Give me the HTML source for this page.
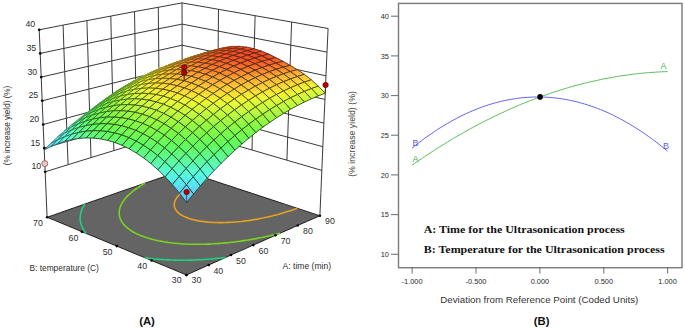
<!DOCTYPE html>
<html><head><meta charset="utf-8"><style>
html,body{margin:0;padding:0;background:#fff;}
body{width:685px;height:329px;position:relative;overflow:hidden;}
</style></head><body>
<svg width="685" height="329" viewBox="0 0 685 329" style="position:absolute;left:0;top:0">
<polygon points="186.4,275 193.1,272 199.8,269 206.5,266 213.2,263 219.9,260 226.6,257 233.2,254 239.9,251.1 246.6,248.1 253.3,245.1 259.9,242.2 266.6,239.2 273.3,236.3 279.9,233.3 286.6,230.4 293.3,227.4 299.9,224.5 306.6,221.6 313.2,218.7 319.9,215.8 313,213.5 306.1,211.2 299.2,208.9 292.4,206.7 285.5,204.4 278.6,202.1 271.7,199.8 264.9,197.6 258,195.3 251.1,193 244.3,190.8 237.4,188.5 230.5,186.2 223.6,184 216.8,181.7 209.9,179.4 203,177.2 196.1,174.9 189.3,172.6 182.4,170.4 175.7,172.7 168.9,175 162.2,177.3 155.4,179.6 148.7,181.9 141.9,184.2 135.2,186.6 128.4,188.9 121.6,191.2 114.9,193.6 108.1,195.9 101.4,198.3 94.6,200.6 87.8,203 81,205.4 74.3,207.7 67.5,210.1 60.7,212.5 53.9,214.9 47.1,217.3 54.1,220.1 61,223 68,225.9 75,228.8 81.9,231.7 88.9,234.6 95.9,237.4 102.8,240.3 109.8,243.2 116.8,246.1 123.7,249 130.7,251.9 137.6,254.8 144.6,257.6 151.6,260.5 158.5,263.4 165.5,266.3 172.5,269.2 179.4,272.1" fill="#646464" stroke="#111" stroke-width="0.9" stroke-linejoin="round"/>
<polyline points="144.8,257.7 146.9,258 148.8,258.3 150.8,258.5 153,258.8 155.2,259 157.5,259.2 159.7,259.4 161.3,259.5 163.3,259.6 165.7,259.8 167.8,259.9 169.4,259.9 171.9,260 173.8,260.1 175.7,260.1 178.2,260.2 179.6,260.2 182.3,260.2 183.8,260.2 186.4,260.2 187.8,260.2 190.5,260.1 192,260.1 194.4,260 196.4,259.9 198.2,259.8 200.7,259.7 202.4,259.6 204.4,259.5 206.8,259.3 208.6,259.2 210.3,259 212.7,258.8 215,258.6 216.8,258.4 218.5,258.3 220.6,258.1 222.9,257.8 225.1,257.5 225.5,257.5" fill="none" stroke="#1cd27c" stroke-width="1.6" stroke-linejoin="round"/>
<polyline points="86.2,233.4 85.5,232.6 84.9,231.8 84.4,231.1 83.9,230.4 83.4,229.5 82.9,228.6 82.4,227.7 82.1,226.9 81.8,226.3 81.4,225.3 81.1,224.4 80.9,223.8 80.7,222.9 80.5,222.1 80.4,221.4 80.3,220.4 80.2,219.8 80.2,218.8 80.2,218.2 80.2,217.3 80.2,216.6 80.3,215.8 80.4,215 80.5,214.3 80.7,213.4 80.9,212.7 81.1,212 81.4,211.1 81.6,210.3 81.9,209.7 82.2,208.9 82.6,208 83,207.3 83.3,206.6 83.7,205.9 84.2,205.1 84.7,204.3 84.9,204" fill="none" stroke="#1cd27c" stroke-width="1.6" stroke-linejoin="round"/>
<polyline points="280.1,233.3 278.2,233.7 276.4,234.2 274.4,234.7 271.9,235.2 270.1,235.7 268.3,236.1 266.5,236.5 264.1,237 261.8,237.5 259.9,237.8 258,238.2 256,238.6 254.1,238.9 252.1,239.3 250.1,239.6 248.1,240 246.1,240.3 244,240.6 242,240.9 239.9,241.2 237.8,241.5 235.6,241.8 233.5,242.1 231.5,242.3 229.7,242.5 227.9,242.7 225.7,242.9 223.4,243.1 221.3,243.3 219.7,243.4 217.5,243.6 215.1,243.8 213.5,243.8 211.4,244 209,244.1 207.6,244.1 205,244.2 203.3,244.3 201,244.3 199.2,244.3 196.8,244.3 195.2,244.3 192.7,244.3 191,244.2 188.9,244.2 186.4,244.1 184.8,244 182.9,243.9 180.6,243.7 178.3,243.5 176.3,243.4 174.4,243.2 172.5,243 170.6,242.7 168.5,242.5 166.3,242.1 164,241.8 161.8,241.4 159.9,241 158.1,240.7 155.9,240.2 153.7,239.6 152,239.2 149.5,238.5 147.7,238 145.6,237.3 143.4,236.5 141.3,235.7 139.2,234.9 137.3,234 135.4,233.1 134.2,232.5 132.5,231.5 131.4,230.8 130,229.9 128.9,229.1 127.9,228.4 127,227.6 126,226.7 125,225.8 124.2,224.9 123.5,224.1 122.9,223.4 122.4,222.7 121.9,221.9 121.4,221.1 120.9,220.2 120.5,219.3 120.3,218.7 120,217.9 119.7,217 119.5,216.3 119.4,215.5 119.3,214.7 119.2,214 119.2,213.1 119.2,212.4 119.2,211.6 119.3,210.8 119.4,210.2 119.6,209.2 119.7,208.6 119.9,207.9 120.2,207 120.5,206.2 120.8,205.6 121.2,204.8 121.6,204 122,203.1 122.4,202.5 122.9,201.8 123.3,201.1 123.9,200.4 124.5,199.6 125.1,198.8 125.7,198.1 126.3,197.3 127,196.6 127.7,195.9 128.4,195.2 129.2,194.5 129.9,193.8 130.9,193 131.9,192.1 132.7,191.4 133.5,190.8 134.4,190.1 135.3,189.5 136.6,188.5 137.5,187.9 138.4,187.3 139.6,186.5 140.8,185.7 141.7,185.1 143,184.3 144.2,183.6 145.1,183.2" fill="none" stroke="#78d41c" stroke-width="1.6" stroke-linejoin="round"/>
<polyline points="297.3,208.3 295.6,208.9 293.7,209.6 291.4,210.4 289.2,211.1 287.6,211.6 285.3,212.3 283.7,212.8 281.3,213.5 279.6,214 277.2,214.7 275.5,215.1 273.6,215.6 271.2,216.2 269.4,216.6 267.6,217 265.2,217.5 263.1,218 261.2,218.3 259.3,218.7 257.4,219.1 255.5,219.4 253.5,219.7 251.5,220.1 249.4,220.4 247.3,220.7 245.2,220.9 243.1,221.2 240.8,221.5 238.7,221.7 237.1,221.8 235.1,222 232.7,222.2 230.8,222.3 229,222.4 226.5,222.5 225,222.5 222.4,222.6 221,222.6 218.4,222.6 216.7,222.5 214.7,222.5 212.3,222.4 210.2,222.2 208.4,222.1 206.5,221.9 204.5,221.7 202.3,221.4 200,221.1 197.9,220.7 196.1,220.4 193.8,219.8 192,219.4 189.7,218.7 187.6,217.9 185.6,217.1 183.7,216.3 182.4,215.6 180.9,214.7 179.9,214.1 179,213.3 177.9,212.4 177.2,211.6 176.5,210.9 176,210.2 175.6,209.5 175.1,208.6 174.7,207.8 174.6,207.2 174.4,206.4 174.3,205.6 174.2,204.9 174.3,204.1 174.4,203.3 174.5,202.7 174.7,201.8 175,201 175.2,200.4 175.6,199.6 176.1,198.8 176.6,198 177.1,197.2 177.6,196.5 178.2,195.8 178.9,195.1 179.6,194.3 180.4,193.5 181.2,192.8 182,192.1 182.8,191.5 183.7,190.8 184.8,189.9 185.9,189.2 186.8,188.6 188,187.8 189.3,187 190.3,186.4 191.8,185.5 192.9,185 194.5,184.1 195.6,183.5 197.3,182.7 199,181.9 200.3,181.3 202.1,180.6 203.9,179.8 205.8,179 207.1,178.5 207.1,178.5" fill="none" stroke="#e9a020" stroke-width="1.6" stroke-linejoin="round"/>
<circle cx="186.4" cy="275" r="1.3" fill="#000"/>
<circle cx="208.7" cy="265" r="1.3" fill="#000"/>
<circle cx="231" cy="255" r="1.3" fill="#000"/>
<circle cx="253.3" cy="245.1" r="1.3" fill="#000"/>
<circle cx="275.5" cy="235.3" r="1.3" fill="#000"/>
<circle cx="297.7" cy="225.5" r="1.3" fill="#000"/>
<circle cx="319.9" cy="215.8" r="1.3" fill="#000"/>
<circle cx="186.4" cy="275" r="1.3" fill="#000"/>
<circle cx="151.6" cy="260.5" r="1.3" fill="#000"/>
<circle cx="116.8" cy="246.1" r="1.3" fill="#000"/>
<circle cx="81.9" cy="231.7" r="1.3" fill="#000"/>
<circle cx="47.1" cy="217.3" r="1.3" fill="#000"/>
<polyline points="45.2,171.8 68.1,164.7 91,157.6 113.9,150.6 136.7,143.6 159.5,136.7 182.3,129.8" fill="none" stroke="#222" stroke-width="0.9"/>
<polyline points="44.2,148.1 67.2,141.4 90.3,134.8 113.3,128.2 136.3,121.6 159.3,115.1 182.2,108.6" fill="none" stroke="#222" stroke-width="0.9"/>
<polyline points="43.2,124.5 66.4,118.2 89.6,111.9 112.8,105.7 136,99.6 159.1,93.5 182.2,87.5" fill="none" stroke="#222" stroke-width="0.9"/>
<polyline points="42.2,100.8 65.6,94.9 88.9,89.1 112.3,83.3 135.6,77.6 158.9,72 182.1,66.4" fill="none" stroke="#222" stroke-width="0.9"/>
<polyline points="41.2,77.1 64.7,71.7 88.3,66.3 111.8,60.9 135.2,55.6 158.7,50.4 182.1,45.2" fill="none" stroke="#222" stroke-width="0.9"/>
<polyline points="40.2,53.4 63.9,48.4 87.6,43.4 111.3,38.5 134.9,33.6 158.5,28.8 182.1,24.1" fill="none" stroke="#222" stroke-width="0.9"/>
<polyline points="39.2,29.8 63.1,25.1 86.9,20.6 110.8,16.1 134.5,11.6 158.3,7.3 182,2.9" fill="none" stroke="#222" stroke-width="0.9"/>
<polyline points="68.1,164.7 67.2,141.4 66.4,118.2 65.6,94.9 64.7,71.7 63.9,48.4 63.1,25.1" fill="none" stroke="#222" stroke-width="0.9"/>
<polyline points="91,157.6 90.3,134.8 89.6,111.9 88.9,89.1 88.3,66.3 87.6,43.4 86.9,20.6" fill="none" stroke="#222" stroke-width="0.9"/>
<polyline points="113.9,150.6 113.3,128.2 112.8,105.7 112.3,83.3 111.8,60.9 111.3,38.5 110.8,16.1" fill="none" stroke="#222" stroke-width="0.9"/>
<polyline points="136.7,143.6 136.3,121.6 136,99.6 135.6,77.6 135.2,55.6 134.9,33.6 134.5,11.6" fill="none" stroke="#222" stroke-width="0.9"/>
<polyline points="159.5,136.7 159.3,115.1 159.1,93.5 158.9,72 158.7,50.4 158.5,28.8 158.3,7.3" fill="none" stroke="#222" stroke-width="0.9"/>
<polyline points="321.8,170.4 286.9,160.2 252,150 217.2,139.9 182.3,129.8" fill="none" stroke="#222" stroke-width="0.9"/>
<polyline points="322.9,146.7 287.7,137.2 252.5,127.6 217.4,118.1 182.2,108.6" fill="none" stroke="#222" stroke-width="0.9"/>
<polyline points="323.9,123.1 288.5,114.2 253,105.3 217.6,96.4 182.2,87.5" fill="none" stroke="#222" stroke-width="0.9"/>
<polyline points="324.9,99.4 289.2,91.1 253.5,82.9 217.8,74.6 182.1,66.4" fill="none" stroke="#222" stroke-width="0.9"/>
<polyline points="326,75.8 290,68.1 254,60.5 218.1,52.8 182.1,45.2" fill="none" stroke="#222" stroke-width="0.9"/>
<polyline points="327,52.1 290.8,45.1 254.5,38.1 218.3,31.1 182.1,24.1" fill="none" stroke="#222" stroke-width="0.9"/>
<polyline points="328.1,28.5 291.6,22 255.1,15.7 218.5,9.3 182,2.9" fill="none" stroke="#222" stroke-width="0.9"/>
<polyline points="286.9,160.2 287.7,137.2 288.5,114.2 289.2,91.1 290,68.1 290.8,45.1 291.6,22" fill="none" stroke="#222" stroke-width="0.9"/>
<polyline points="252,150 252.5,127.6 253,105.3 253.5,82.9 254,60.5 254.5,38.1 255.1,15.7" fill="none" stroke="#222" stroke-width="0.9"/>
<polyline points="217.2,139.9 217.4,118.1 217.6,96.4 217.8,74.6 218.1,52.8 218.3,31.1 218.5,9.3" fill="none" stroke="#222" stroke-width="0.9"/>
<polyline points="182.4,170.4 182.3,149.4 182.3,128.5 182.2,107.6 182.2,86.7 182.1,65.7 182.1,44.8 182.1,23.9 182,2.9" fill="none" stroke="#222" stroke-width="0.9"/>
<polyline points="47.1,217.3 46.1,193.8 45.1,170.4 44.1,147 43.1,123.5 42.1,100.1 41.2,76.6 40.2,53.2 39.2,29.8" fill="none" stroke="#222" stroke-width="0.9"/>
<polyline points="319.9,215.8 320.9,192.4 321.9,168.9 322.9,145.5 323.9,122.1 325,98.7 326,75.3 327,51.9 328.1,28.5" fill="none" stroke="#222" stroke-width="0.9"/>
<circle cx="45.2" cy="171.8" r="1.3" fill="#000"/>
<circle cx="44.2" cy="148.1" r="1.3" fill="#000"/>
<circle cx="43.2" cy="124.5" r="1.3" fill="#000"/>
<circle cx="42.2" cy="100.8" r="1.3" fill="#000"/>
<circle cx="41.2" cy="77.1" r="1.3" fill="#000"/>
<circle cx="40.2" cy="53.4" r="1.3" fill="#000"/>
<circle cx="39.2" cy="29.8" r="1.3" fill="#000"/>
<circle cx="44.8" cy="163.6" r="3.0" fill="#f7c0c0" stroke="#6a5050" stroke-width="0.7"/>
<polygon points="182.3,61.2 185.8,60.3 182.2,61.9 178.7,62.8" fill="#dbf934" stroke="#dbf934" stroke-width="0.5" stroke-linejoin="round"/>
<polygon points="178.7,62.8 182.2,61.9 178.6,63.6 175.1,64.6" fill="#c9fa3a" stroke="#c9fa3a" stroke-width="0.5" stroke-linejoin="round"/>
<polygon points="185.8,60.3 189.3,59.5 185.7,61 182.2,61.9" fill="#dcf934" stroke="#dcf934" stroke-width="0.5" stroke-linejoin="round"/>
<polygon points="182.2,61.9 185.7,61 182.1,62.7 178.6,63.6" fill="#cafa3a" stroke="#cafa3a" stroke-width="0.5" stroke-linejoin="round"/>
<polygon points="182.3,61.2 189.3,59.5 182.1,62.7 175.1,64.6" fill="none" stroke="#141408" stroke-opacity="0.85" stroke-width="0.45" stroke-linejoin="round"/>
<polygon points="175.3,63.2 178.8,62.2 175.2,63.8 171.7,64.8" fill="#d9f935" stroke="#d9f935" stroke-width="0.5" stroke-linejoin="round"/>
<polygon points="171.7,64.8 175.2,63.8 171.7,65.6 168.2,66.6" fill="#c6fa3a" stroke="#c6fa3a" stroke-width="0.5" stroke-linejoin="round"/>
<polygon points="178.8,62.2 182.3,61.2 178.7,62.8 175.2,63.8" fill="#daf935" stroke="#daf935" stroke-width="0.5" stroke-linejoin="round"/>
<polygon points="175.2,63.8 178.7,62.8 175.1,64.6 171.7,65.6" fill="#c8fa3a" stroke="#c8fa3a" stroke-width="0.5" stroke-linejoin="round"/>
<polygon points="175.3,63.2 182.3,61.2 175.1,64.6 168.2,66.6" fill="none" stroke="#141408" stroke-opacity="0.85" stroke-width="0.45" stroke-linejoin="round"/>
<polygon points="189.5,58.5 193,57.6 189.4,58.9 185.9,59.8" fill="#f4ea2e" stroke="#f4ea2e" stroke-width="0.5" stroke-linejoin="round"/>
<polygon points="185.9,59.8 189.4,58.9 185.8,60.3 182.3,61.2" fill="#ecf82e" stroke="#ecf82e" stroke-width="0.5" stroke-linejoin="round"/>
<polygon points="193,57.6 196.5,56.8 192.9,58.1 189.4,58.9" fill="#f4e92e" stroke="#f4e92e" stroke-width="0.5" stroke-linejoin="round"/>
<polygon points="189.4,58.9 192.9,58.1 189.3,59.5 185.8,60.3" fill="#edf82d" stroke="#edf82d" stroke-width="0.5" stroke-linejoin="round"/>
<polygon points="189.5,58.5 196.5,56.8 189.3,59.5 182.3,61.2" fill="none" stroke="#141408" stroke-opacity="0.85" stroke-width="0.45" stroke-linejoin="round"/>
<polygon points="168.3,65.5 171.8,64.3 168.2,66 164.7,67.1" fill="#d5fa37" stroke="#d5fa37" stroke-width="0.5" stroke-linejoin="round"/>
<polygon points="164.7,67.1 168.2,66 164.7,67.8 161.2,69" fill="#c1f93b" stroke="#c1f93b" stroke-width="0.5" stroke-linejoin="round"/>
<polygon points="171.8,64.3 175.3,63.2 171.7,64.8 168.2,66" fill="#d7f936" stroke="#d7f936" stroke-width="0.5" stroke-linejoin="round"/>
<polygon points="168.2,66 171.7,64.8 168.2,66.6 164.7,67.8" fill="#c4fa3a" stroke="#c4fa3a" stroke-width="0.5" stroke-linejoin="round"/>
<polygon points="168.3,65.5 175.3,63.2 168.2,66.6 161.2,69" fill="none" stroke="#141408" stroke-opacity="0.85" stroke-width="0.45" stroke-linejoin="round"/>
<polygon points="182.5,60.4 186,59.4 182.4,60.7 178.9,61.8" fill="#f3ed2e" stroke="#f3ed2e" stroke-width="0.5" stroke-linejoin="round"/>
<polygon points="178.9,61.8 182.4,60.7 178.8,62.2 175.3,63.2" fill="#e9f82f" stroke="#e9f82f" stroke-width="0.5" stroke-linejoin="round"/>
<polygon points="186,59.4 189.5,58.5 185.9,59.8 182.4,60.7" fill="#f3eb2e" stroke="#f3eb2e" stroke-width="0.5" stroke-linejoin="round"/>
<polygon points="182.4,60.7 185.9,59.8 182.3,61.2 178.8,62.2" fill="#ebf82e" stroke="#ebf82e" stroke-width="0.5" stroke-linejoin="round"/>
<polygon points="182.5,60.4 189.5,58.5 182.3,61.2 175.3,63.2" fill="none" stroke="#141408" stroke-opacity="0.85" stroke-width="0.45" stroke-linejoin="round"/>
<polygon points="196.7,55.9 200.1,55.1 196.6,56.3 193.1,57.2" fill="#facc31" stroke="#facc31" stroke-width="0.5" stroke-linejoin="round"/>
<polygon points="193.1,57.2 196.6,56.3 193,57.6 189.5,58.5" fill="#fadb30" stroke="#fadb30" stroke-width="0.5" stroke-linejoin="round"/>
<polygon points="200.1,55.1 203.6,54.3 200,55.5 196.6,56.3" fill="#facc31" stroke="#facc31" stroke-width="0.5" stroke-linejoin="round"/>
<polygon points="196.6,56.3 200,55.5 196.5,56.8 193,57.6" fill="#fada30" stroke="#fada30" stroke-width="0.5" stroke-linejoin="round"/>
<polygon points="196.7,55.9 203.6,54.3 196.5,56.8 189.5,58.5" fill="none" stroke="#141408" stroke-opacity="0.85" stroke-width="0.45" stroke-linejoin="round"/>
<polygon points="161.3,68 164.8,66.7 161.3,68.4 157.8,69.7" fill="#cffa39" stroke="#cffa39" stroke-width="0.5" stroke-linejoin="round"/>
<polygon points="157.8,69.7 161.3,68.4 157.7,70.2 154.2,71.6" fill="#bbf93b" stroke="#bbf93b" stroke-width="0.5" stroke-linejoin="round"/>
<polygon points="164.8,66.7 168.3,65.5 164.7,67.1 161.3,68.4" fill="#d2fa38" stroke="#d2fa38" stroke-width="0.5" stroke-linejoin="round"/>
<polygon points="161.3,68.4 164.7,67.1 161.2,69 157.7,70.2" fill="#bef93b" stroke="#bef93b" stroke-width="0.5" stroke-linejoin="round"/>
<polygon points="161.3,68 168.3,65.5 161.2,69 154.2,71.6" fill="none" stroke="#141408" stroke-opacity="0.85" stroke-width="0.45" stroke-linejoin="round"/>
<polygon points="175.5,62.6 179,61.5 175.4,62.8 171.9,64" fill="#f1f12e" stroke="#f1f12e" stroke-width="0.5" stroke-linejoin="round"/>
<polygon points="171.9,64 175.4,62.8 171.8,64.3 168.3,65.5" fill="#e5f930" stroke="#e5f930" stroke-width="0.5" stroke-linejoin="round"/>
<polygon points="179,61.5 182.5,60.4 178.9,61.8 175.4,62.8" fill="#f2ef2e" stroke="#f2ef2e" stroke-width="0.5" stroke-linejoin="round"/>
<polygon points="175.4,62.8 178.9,61.8 175.3,63.2 171.8,64.3" fill="#e8f830" stroke="#e8f830" stroke-width="0.5" stroke-linejoin="round"/>
<polygon points="175.5,62.6 182.5,60.4 175.3,63.2 168.3,65.5" fill="none" stroke="#141408" stroke-opacity="0.85" stroke-width="0.45" stroke-linejoin="round"/>
<polygon points="189.6,57.8 193.2,56.8 189.6,58.1 186.1,59.1" fill="#facf31" stroke="#facf31" stroke-width="0.5" stroke-linejoin="round"/>
<polygon points="186.1,59.1 189.6,58.1 186,59.4 182.5,60.4" fill="#f8de30" stroke="#f8de30" stroke-width="0.5" stroke-linejoin="round"/>
<polygon points="193.2,56.8 196.7,55.9 193.1,57.2 189.6,58.1" fill="#face31" stroke="#face31" stroke-width="0.5" stroke-linejoin="round"/>
<polygon points="189.6,58.1 193.1,57.2 189.5,58.5 186,59.4" fill="#f9dc30" stroke="#f9dc30" stroke-width="0.5" stroke-linejoin="round"/>
<polygon points="189.6,57.8 196.7,55.9 189.5,58.5 182.5,60.4" fill="none" stroke="#141408" stroke-opacity="0.85" stroke-width="0.45" stroke-linejoin="round"/>
<polygon points="203.9,53.3 207.4,52.5 203.8,53.8 200.3,54.6" fill="#faaf32" stroke="#faaf32" stroke-width="0.5" stroke-linejoin="round"/>
<polygon points="200.3,54.6 203.8,53.8 200.1,55.1 196.7,55.9" fill="#fabe32" stroke="#fabe32" stroke-width="0.5" stroke-linejoin="round"/>
<polygon points="207.4,52.5 210.9,51.7 207.3,53 203.8,53.8" fill="#faae32" stroke="#faae32" stroke-width="0.5" stroke-linejoin="round"/>
<polygon points="203.8,53.8 207.3,53 203.6,54.3 200.1,55.1" fill="#fabd32" stroke="#fabd32" stroke-width="0.5" stroke-linejoin="round"/>
<polygon points="203.9,53.3 210.9,51.7 203.6,54.3 196.7,55.9" fill="none" stroke="#141408" stroke-opacity="0.85" stroke-width="0.45" stroke-linejoin="round"/>
<polygon points="154.3,70.9 157.8,69.4 154.3,71.1 150.8,72.6" fill="#c7fa3a" stroke="#c7fa3a" stroke-width="0.5" stroke-linejoin="round"/>
<polygon points="150.8,72.6 154.3,71.1 150.7,73 147.2,74.5" fill="#b2f93b" stroke="#b2f93b" stroke-width="0.5" stroke-linejoin="round"/>
<polygon points="157.8,69.4 161.3,68 157.8,69.7 154.3,71.1" fill="#cbfa3a" stroke="#cbfa3a" stroke-width="0.5" stroke-linejoin="round"/>
<polygon points="154.3,71.1 157.8,69.7 154.2,71.6 150.7,73" fill="#b7f93b" stroke="#b7f93b" stroke-width="0.5" stroke-linejoin="round"/>
<polygon points="154.3,70.9 161.3,68 154.2,71.6 147.2,74.5" fill="none" stroke="#141408" stroke-opacity="0.85" stroke-width="0.45" stroke-linejoin="round"/>
<polygon points="168.5,65.1 172,63.8 168.4,65.2 164.9,66.5" fill="#eff62d" stroke="#eff62d" stroke-width="0.5" stroke-linejoin="round"/>
<polygon points="164.9,66.5 168.4,65.2 164.8,66.7 161.3,68" fill="#e0f933" stroke="#e0f933" stroke-width="0.5" stroke-linejoin="round"/>
<polygon points="172,63.8 175.5,62.6 171.9,64 168.4,65.2" fill="#f0f42d" stroke="#f0f42d" stroke-width="0.5" stroke-linejoin="round"/>
<polygon points="168.4,65.2 171.9,64 168.3,65.5 164.8,66.7" fill="#e3f931" stroke="#e3f931" stroke-width="0.5" stroke-linejoin="round"/>
<polygon points="168.5,65.1 175.5,62.6 168.3,65.5 161.3,68" fill="none" stroke="#141408" stroke-opacity="0.85" stroke-width="0.45" stroke-linejoin="round"/>
<polygon points="182.6,60 186.1,58.9 182.6,60.1 179.1,61.3" fill="#fad431" stroke="#fad431" stroke-width="0.5" stroke-linejoin="round"/>
<polygon points="179.1,61.3 182.6,60.1 179,61.5 175.5,62.6" fill="#f7e22f" stroke="#f7e22f" stroke-width="0.5" stroke-linejoin="round"/>
<polygon points="186.1,58.9 189.6,57.8 186.1,59.1 182.6,60.1" fill="#fad131" stroke="#fad131" stroke-width="0.5" stroke-linejoin="round"/>
<polygon points="182.6,60.1 186.1,59.1 182.5,60.4 179,61.5" fill="#f8e02f" stroke="#f8e02f" stroke-width="0.5" stroke-linejoin="round"/>
<polygon points="182.6,60 189.6,57.8 182.5,60.4 175.5,62.6" fill="none" stroke="#141408" stroke-opacity="0.85" stroke-width="0.45" stroke-linejoin="round"/>
<polygon points="147.4,74.1 150.9,72.4 147.3,74.2 143.8,75.8" fill="#bdf93b" stroke="#bdf93b" stroke-width="0.5" stroke-linejoin="round"/>
<polygon points="143.8,75.8 147.3,74.2 143.8,76.1 140.3,77.7" fill="#a8f83c" stroke="#a8f83c" stroke-width="0.5" stroke-linejoin="round"/>
<polygon points="150.9,72.4 154.3,70.9 150.8,72.6 147.3,74.2" fill="#c2fa3a" stroke="#c2fa3a" stroke-width="0.5" stroke-linejoin="round"/>
<polygon points="147.3,74.2 150.8,72.6 147.2,74.5 143.8,76.1" fill="#aef93b" stroke="#aef93b" stroke-width="0.5" stroke-linejoin="round"/>
<polygon points="147.4,74.1 154.3,70.9 147.2,74.5 140.3,77.7" fill="none" stroke="#141408" stroke-opacity="0.85" stroke-width="0.45" stroke-linejoin="round"/>
<polygon points="196.9,55.3 200.4,54.3 196.8,55.5 193.3,56.5" fill="#fab332" stroke="#fab332" stroke-width="0.5" stroke-linejoin="round"/>
<polygon points="193.3,56.5 196.8,55.5 193.2,56.8 189.6,57.8" fill="#fac132" stroke="#fac132" stroke-width="0.5" stroke-linejoin="round"/>
<polygon points="200.4,54.3 203.9,53.3 200.3,54.6 196.8,55.5" fill="#fab132" stroke="#fab132" stroke-width="0.5" stroke-linejoin="round"/>
<polygon points="196.8,55.5 200.3,54.6 196.7,55.9 193.2,56.8" fill="#fac032" stroke="#fac032" stroke-width="0.5" stroke-linejoin="round"/>
<polygon points="196.9,55.3 203.9,53.3 196.7,55.9 189.6,57.8" fill="none" stroke="#141408" stroke-opacity="0.85" stroke-width="0.45" stroke-linejoin="round"/>
<polygon points="211.1,51 214.6,50.1 211,51.2 207.5,52.1" fill="#f98e2c" stroke="#f98e2c" stroke-width="0.5" stroke-linejoin="round"/>
<polygon points="207.5,52.1 211,51.2 207.4,52.5 203.9,53.3" fill="#fa9f2f" stroke="#fa9f2f" stroke-width="0.5" stroke-linejoin="round"/>
<polygon points="214.6,50.1 218.1,49.2 214.5,50.4 211,51.2" fill="#f98d2b" stroke="#f98d2b" stroke-width="0.5" stroke-linejoin="round"/>
<polygon points="211,51.2 214.5,50.4 210.9,51.7 207.4,52.5" fill="#fa9d2f" stroke="#fa9d2f" stroke-width="0.5" stroke-linejoin="round"/>
<polygon points="211.1,51 218.1,49.2 210.9,51.7 203.9,53.3" fill="none" stroke="#141408" stroke-opacity="0.85" stroke-width="0.45" stroke-linejoin="round"/>
<polygon points="161.5,67.9 165,66.4 161.4,67.9 157.9,69.3" fill="#e8f82f" stroke="#e8f82f" stroke-width="0.5" stroke-linejoin="round"/>
<polygon points="157.9,69.3 161.4,67.9 157.8,69.4 154.3,70.9" fill="#d9f935" stroke="#d9f935" stroke-width="0.5" stroke-linejoin="round"/>
<polygon points="165,66.4 168.5,65.1 164.9,66.5 161.4,67.9" fill="#ecf82e" stroke="#ecf82e" stroke-width="0.5" stroke-linejoin="round"/>
<polygon points="161.4,67.9 164.9,66.5 161.3,68 157.8,69.4" fill="#dcf934" stroke="#dcf934" stroke-width="0.5" stroke-linejoin="round"/>
<polygon points="161.5,67.9 168.5,65.1 161.3,68 154.3,70.9" fill="none" stroke="#141408" stroke-opacity="0.85" stroke-width="0.45" stroke-linejoin="round"/>
<polygon points="175.6,62.5 179.1,61.2 175.6,62.5 172.1,63.7" fill="#fada30" stroke="#fada30" stroke-width="0.5" stroke-linejoin="round"/>
<polygon points="172.1,63.7 175.6,62.5 172,63.8 168.5,65.1" fill="#f5e82f" stroke="#f5e82f" stroke-width="0.5" stroke-linejoin="round"/>
<polygon points="179.1,61.2 182.6,60 179.1,61.3 175.6,62.5" fill="#fad730" stroke="#fad730" stroke-width="0.5" stroke-linejoin="round"/>
<polygon points="175.6,62.5 179.1,61.3 175.5,62.6 172,63.8" fill="#f6e52f" stroke="#f6e52f" stroke-width="0.5" stroke-linejoin="round"/>
<polygon points="175.6,62.5 182.6,60 175.5,62.6 168.5,65.1" fill="none" stroke="#141408" stroke-opacity="0.85" stroke-width="0.45" stroke-linejoin="round"/>
<polygon points="140.4,77.6 143.9,75.8 140.3,77.5 136.9,79.3" fill="#b1f93b" stroke="#b1f93b" stroke-width="0.5" stroke-linejoin="round"/>
<polygon points="136.9,79.3 140.3,77.5 136.8,79.4 133.3,81.3" fill="#9df83d" stroke="#9df83d" stroke-width="0.5" stroke-linejoin="round"/>
<polygon points="143.9,75.8 147.4,74.1 143.8,75.8 140.3,77.5" fill="#b7f93b" stroke="#b7f93b" stroke-width="0.5" stroke-linejoin="round"/>
<polygon points="140.3,77.5 143.8,75.8 140.3,77.7 136.8,79.4" fill="#a3f83c" stroke="#a3f83c" stroke-width="0.5" stroke-linejoin="round"/>
<polygon points="140.4,77.6 147.4,74.1 140.3,77.7 133.3,81.3" fill="none" stroke="#141408" stroke-opacity="0.85" stroke-width="0.45" stroke-linejoin="round"/>
<polygon points="189.8,57.5 193.4,56.4 189.7,57.6 186.2,58.7" fill="#fab832" stroke="#fab832" stroke-width="0.5" stroke-linejoin="round"/>
<polygon points="186.2,58.7 189.7,57.6 186.1,58.9 182.6,60" fill="#fac632" stroke="#fac632" stroke-width="0.5" stroke-linejoin="round"/>
<polygon points="193.4,56.4 196.9,55.3 193.3,56.5 189.7,57.6" fill="#fab532" stroke="#fab532" stroke-width="0.5" stroke-linejoin="round"/>
<polygon points="189.7,57.6 193.3,56.5 189.6,57.8 186.1,58.9" fill="#fac432" stroke="#fac432" stroke-width="0.5" stroke-linejoin="round"/>
<polygon points="189.8,57.5 196.9,55.3 189.6,57.8 182.6,60" fill="none" stroke="#141408" stroke-opacity="0.85" stroke-width="0.45" stroke-linejoin="round"/>
<polygon points="204.1,53.1 207.6,52 204,53.1 200.5,54.1" fill="#f9932d" stroke="#f9932d" stroke-width="0.5" stroke-linejoin="round"/>
<polygon points="200.5,54.1 204,53.1 200.4,54.3 196.9,55.3" fill="#faa330" stroke="#faa330" stroke-width="0.5" stroke-linejoin="round"/>
<polygon points="207.6,52 211.1,51 207.5,52.1 204,53.1" fill="#f9902c" stroke="#f9902c" stroke-width="0.5" stroke-linejoin="round"/>
<polygon points="204,53.1 207.5,52.1 203.9,53.3 200.4,54.3" fill="#faa130" stroke="#faa130" stroke-width="0.5" stroke-linejoin="round"/>
<polygon points="204.1,53.1 211.1,51 203.9,53.3 196.9,55.3" fill="none" stroke="#141408" stroke-opacity="0.85" stroke-width="0.45" stroke-linejoin="round"/>
<polygon points="154.5,71 158,69.4 154.4,70.9 150.9,72.5" fill="#e0f933" stroke="#e0f933" stroke-width="0.5" stroke-linejoin="round"/>
<polygon points="150.9,72.5 154.4,70.9 150.9,72.4 147.4,74.1" fill="#d0fa39" stroke="#d0fa39" stroke-width="0.5" stroke-linejoin="round"/>
<polygon points="158,69.4 161.5,67.9 157.9,69.3 154.4,70.9" fill="#e4f931" stroke="#e4f931" stroke-width="0.5" stroke-linejoin="round"/>
<polygon points="154.4,70.9 157.9,69.3 154.3,70.9 150.9,72.4" fill="#d4fa37" stroke="#d4fa37" stroke-width="0.5" stroke-linejoin="round"/>
<polygon points="154.5,71 161.5,67.9 154.3,70.9 147.4,74.1" fill="none" stroke="#141408" stroke-opacity="0.85" stroke-width="0.45" stroke-linejoin="round"/>
<polygon points="218.3,49.3 221.8,48.3 218.2,49.1 214.7,50" fill="#f87227" stroke="#f87227" stroke-width="0.5" stroke-linejoin="round"/>
<polygon points="214.7,50 218.2,49.1 214.6,50.1 211.1,51" fill="#f97f29" stroke="#f97f29" stroke-width="0.5" stroke-linejoin="round"/>
<polygon points="221.8,48.3 225.3,47.4 221.7,48.2 218.2,49.1" fill="#f77027" stroke="#f77027" stroke-width="0.5" stroke-linejoin="round"/>
<polygon points="218.2,49.1 221.7,48.2 218.1,49.2 214.6,50.1" fill="#f97e28" stroke="#f97e28" stroke-width="0.5" stroke-linejoin="round"/>
<polygon points="218.3,49.3 225.3,47.4 218.1,49.2 211.1,51" fill="none" stroke="#141408" stroke-opacity="0.85" stroke-width="0.45" stroke-linejoin="round"/>
<polygon points="168.6,65.2 172.1,63.8 168.6,65.1 165.1,66.5" fill="#f7e12f" stroke="#f7e12f" stroke-width="0.5" stroke-linejoin="round"/>
<polygon points="165.1,66.5 168.6,65.1 165,66.4 161.5,67.9" fill="#f2ef2e" stroke="#f2ef2e" stroke-width="0.5" stroke-linejoin="round"/>
<polygon points="172.1,63.8 175.6,62.5 172.1,63.7 168.6,65.1" fill="#f9dd30" stroke="#f9dd30" stroke-width="0.5" stroke-linejoin="round"/>
<polygon points="168.6,65.1 172.1,63.7 168.5,65.1 165,66.4" fill="#f3eb2e" stroke="#f3eb2e" stroke-width="0.5" stroke-linejoin="round"/>
<polygon points="168.6,65.2 175.6,62.5 168.5,65.1 161.5,67.9" fill="none" stroke="#141408" stroke-opacity="0.85" stroke-width="0.45" stroke-linejoin="round"/>
<polygon points="133.4,81.4 136.9,79.4 133.4,81.2 129.9,83.2" fill="#a4f83c" stroke="#a4f83c" stroke-width="0.5" stroke-linejoin="round"/>
<polygon points="129.9,83.2 133.4,81.2 129.8,83.2 126.4,85.2" fill="#92f93f" stroke="#92f93f" stroke-width="0.5" stroke-linejoin="round"/>
<polygon points="136.9,79.4 140.4,77.6 136.9,79.3 133.4,81.2" fill="#abf83c" stroke="#abf83c" stroke-width="0.5" stroke-linejoin="round"/>
<polygon points="133.4,81.2 136.9,79.3 133.3,81.3 129.8,83.2" fill="#98f93e" stroke="#98f93e" stroke-width="0.5" stroke-linejoin="round"/>
<polygon points="133.4,81.4 140.4,77.6 133.3,81.3 126.4,85.2" fill="none" stroke="#141408" stroke-opacity="0.85" stroke-width="0.45" stroke-linejoin="round"/>
<polygon points="182.8,60.1 186.3,58.8 182.7,60 179.2,61.2" fill="#fabf32" stroke="#fabf32" stroke-width="0.5" stroke-linejoin="round"/>
<polygon points="179.2,61.2 182.7,60 179.1,61.2 175.6,62.5" fill="#facc31" stroke="#facc31" stroke-width="0.5" stroke-linejoin="round"/>
<polygon points="186.3,58.8 189.8,57.5 186.2,58.7 182.7,60" fill="#fabb32" stroke="#fabb32" stroke-width="0.5" stroke-linejoin="round"/>
<polygon points="182.7,60 186.2,58.7 182.6,60 179.1,61.2" fill="#fac931" stroke="#fac931" stroke-width="0.5" stroke-linejoin="round"/>
<polygon points="182.8,60.1 189.8,57.5 182.6,60 175.6,62.5" fill="none" stroke="#141408" stroke-opacity="0.85" stroke-width="0.45" stroke-linejoin="round"/>
<polygon points="147.5,74.4 151,72.7 147.4,74.1 144,75.9" fill="#d6f937" stroke="#d6f937" stroke-width="0.5" stroke-linejoin="round"/>
<polygon points="144,75.9 147.4,74.1 143.9,75.8 140.4,77.6" fill="#c5fa3a" stroke="#c5fa3a" stroke-width="0.5" stroke-linejoin="round"/>
<polygon points="151,72.7 154.5,71 150.9,72.5 147.4,74.1" fill="#dbf935" stroke="#dbf935" stroke-width="0.5" stroke-linejoin="round"/>
<polygon points="147.4,74.1 150.9,72.5 147.4,74.1 143.9,75.8" fill="#cbfa3a" stroke="#cbfa3a" stroke-width="0.5" stroke-linejoin="round"/>
<polygon points="147.5,74.4 154.5,71 147.4,74.1 140.4,77.6" fill="none" stroke="#141408" stroke-opacity="0.85" stroke-width="0.45" stroke-linejoin="round"/>
<polygon points="197.1,55.4 200.6,54.2 197,55.2 193.5,56.4" fill="#fa9a2e" stroke="#fa9a2e" stroke-width="0.5" stroke-linejoin="round"/>
<polygon points="193.5,56.4 197,55.2 193.4,56.4 189.8,57.5" fill="#faaa32" stroke="#faaa32" stroke-width="0.5" stroke-linejoin="round"/>
<polygon points="200.6,54.2 204.1,53.1 200.5,54.1 197,55.2" fill="#fa962d" stroke="#fa962d" stroke-width="0.5" stroke-linejoin="round"/>
<polygon points="197,55.2 200.5,54.1 196.9,55.3 193.4,56.4" fill="#faa631" stroke="#faa631" stroke-width="0.5" stroke-linejoin="round"/>
<polygon points="197.1,55.4 204.1,53.1 196.9,55.3 189.8,57.5" fill="none" stroke="#141408" stroke-opacity="0.85" stroke-width="0.45" stroke-linejoin="round"/>
<polygon points="211.3,51.4 214.8,50.3 211.2,51.1 207.7,52.2" fill="#f87627" stroke="#f87627" stroke-width="0.5" stroke-linejoin="round"/>
<polygon points="207.7,52.2 211.2,51.1 207.6,52 204.1,53.1" fill="#f9842a" stroke="#f9842a" stroke-width="0.5" stroke-linejoin="round"/>
<polygon points="214.8,50.3 218.3,49.3 214.7,50 211.2,51.1" fill="#f87427" stroke="#f87427" stroke-width="0.5" stroke-linejoin="round"/>
<polygon points="211.2,51.1 214.7,50 211.1,51 207.6,52" fill="#f98129" stroke="#f98129" stroke-width="0.5" stroke-linejoin="round"/>
<polygon points="211.3,51.4 218.3,49.3 211.1,51 204.1,53.1" fill="none" stroke="#141408" stroke-opacity="0.85" stroke-width="0.45" stroke-linejoin="round"/>
<polygon points="161.7,68.3 165.1,66.7 161.6,68 158.1,69.6" fill="#f4ea2e" stroke="#f4ea2e" stroke-width="0.5" stroke-linejoin="round"/>
<polygon points="158.1,69.6 161.6,68 158,69.4 154.5,71" fill="#eef72d" stroke="#eef72d" stroke-width="0.5" stroke-linejoin="round"/>
<polygon points="165.1,66.7 168.6,65.2 165.1,66.5 161.6,68" fill="#f6e52f" stroke="#f6e52f" stroke-width="0.5" stroke-linejoin="round"/>
<polygon points="161.6,68 165.1,66.5 161.5,67.9 158,69.4" fill="#f0f32e" stroke="#f0f32e" stroke-width="0.5" stroke-linejoin="round"/>
<polygon points="161.7,68.3 168.6,65.2 161.5,67.9 154.5,71" fill="none" stroke="#141408" stroke-opacity="0.85" stroke-width="0.45" stroke-linejoin="round"/>
<polygon points="126.5,85.5 130,83.4 126.4,85.3 123,87.4" fill="#96f93e" stroke="#96f93e" stroke-width="0.5" stroke-linejoin="round"/>
<polygon points="123,87.4 126.4,85.3 122.9,87.2 119.4,89.4" fill="#85fa41" stroke="#85fa41" stroke-width="0.5" stroke-linejoin="round"/>
<polygon points="130,83.4 133.4,81.4 129.9,83.2 126.4,85.3" fill="#9df83d" stroke="#9df83d" stroke-width="0.5" stroke-linejoin="round"/>
<polygon points="126.4,85.3 129.9,83.2 126.4,85.2 122.9,87.2" fill="#8cf940" stroke="#8cf940" stroke-width="0.5" stroke-linejoin="round"/>
<polygon points="126.5,85.5 133.4,81.4 126.4,85.2 119.4,89.4" fill="none" stroke="#141408" stroke-opacity="0.85" stroke-width="0.45" stroke-linejoin="round"/>
<polygon points="225.6,48.4 229.1,47.4 225.5,47.7 222,48.7" fill="#f55b25" stroke="#f55b25" stroke-width="0.5" stroke-linejoin="round"/>
<polygon points="222,48.7 225.5,47.7 221.8,48.3 218.3,49.3" fill="#f66626" stroke="#f66626" stroke-width="0.5" stroke-linejoin="round"/>
<polygon points="229.1,47.4 232.6,46.4 229,46.8 225.5,47.7" fill="#f55924" stroke="#f55924" stroke-width="0.5" stroke-linejoin="round"/>
<polygon points="225.5,47.7 229,46.8 225.3,47.4 221.8,48.3" fill="#f66426" stroke="#f66426" stroke-width="0.5" stroke-linejoin="round"/>
<polygon points="225.6,48.4 232.6,46.4 225.3,47.4 218.3,49.3" fill="none" stroke="#141408" stroke-opacity="0.85" stroke-width="0.45" stroke-linejoin="round"/>
<polygon points="175.8,62.9 179.3,61.4 175.7,62.6 172.2,64" fill="#fac732" stroke="#fac732" stroke-width="0.5" stroke-linejoin="round"/>
<polygon points="172.2,64 175.7,62.6 172.1,63.8 168.6,65.2" fill="#fad431" stroke="#fad431" stroke-width="0.5" stroke-linejoin="round"/>
<polygon points="179.3,61.4 182.8,60.1 179.2,61.2 175.7,62.6" fill="#fac332" stroke="#fac332" stroke-width="0.5" stroke-linejoin="round"/>
<polygon points="175.7,62.6 179.2,61.2 175.6,62.5 172.1,63.8" fill="#fad031" stroke="#fad031" stroke-width="0.5" stroke-linejoin="round"/>
<polygon points="175.8,62.9 182.8,60.1 175.6,62.5 168.6,65.2" fill="none" stroke="#141408" stroke-opacity="0.85" stroke-width="0.45" stroke-linejoin="round"/>
<polygon points="140.5,78.2 144,76.2 140.5,77.8 137,79.7" fill="#cafa3a" stroke="#cafa3a" stroke-width="0.5" stroke-linejoin="round"/>
<polygon points="137,79.7 140.5,77.8 136.9,79.4 133.4,81.4" fill="#b7f93b" stroke="#b7f93b" stroke-width="0.5" stroke-linejoin="round"/>
<polygon points="144,76.2 147.5,74.4 144,75.9 140.5,77.8" fill="#d0fa39" stroke="#d0fa39" stroke-width="0.5" stroke-linejoin="round"/>
<polygon points="140.5,77.8 144,75.9 140.4,77.6 136.9,79.4" fill="#bef93b" stroke="#bef93b" stroke-width="0.5" stroke-linejoin="round"/>
<polygon points="140.5,78.2 147.5,74.4 140.4,77.6 133.4,81.4" fill="none" stroke="#141408" stroke-opacity="0.85" stroke-width="0.45" stroke-linejoin="round"/>
<polygon points="190.1,58 193.6,56.7 190,57.7 186.4,59" fill="#faa330" stroke="#faa330" stroke-width="0.5" stroke-linejoin="round"/>
<polygon points="186.4,59 190,57.7 186.3,58.8 182.8,60.1" fill="#fab232" stroke="#fab232" stroke-width="0.5" stroke-linejoin="round"/>
<polygon points="193.6,56.7 197.1,55.4 193.5,56.4 190,57.7" fill="#fa9e2f" stroke="#fa9e2f" stroke-width="0.5" stroke-linejoin="round"/>
<polygon points="190,57.7 193.5,56.4 189.8,57.5 186.3,58.8" fill="#faae32" stroke="#faae32" stroke-width="0.5" stroke-linejoin="round"/>
<polygon points="190.1,58 197.1,55.4 189.8,57.5 182.8,60.1" fill="none" stroke="#141408" stroke-opacity="0.85" stroke-width="0.45" stroke-linejoin="round"/>
<polygon points="119.6,90 123,87.7 119.5,89.6 116,91.9" fill="#88fa41" stroke="#88fa41" stroke-width="0.5" stroke-linejoin="round"/>
<polygon points="116,91.9 119.5,89.6 116,91.6 112.5,93.9" fill="#7bfa47" stroke="#7bfa47" stroke-width="0.5" stroke-linejoin="round"/>
<polygon points="123,87.7 126.5,85.5 123,87.4 119.5,89.6" fill="#8ff93f" stroke="#8ff93f" stroke-width="0.5" stroke-linejoin="round"/>
<polygon points="119.5,89.6 123,87.4 119.4,89.4 116,91.6" fill="#80fa44" stroke="#80fa44" stroke-width="0.5" stroke-linejoin="round"/>
<polygon points="119.6,90 126.5,85.5 119.4,89.4 112.5,93.9" fill="none" stroke="#141408" stroke-opacity="0.85" stroke-width="0.45" stroke-linejoin="round"/>
<polygon points="204.3,53.9 207.8,52.6 204.2,53.3 200.7,54.5" fill="#f97d28" stroke="#f97d28" stroke-width="0.5" stroke-linejoin="round"/>
<polygon points="200.7,54.5 204.2,53.3 200.6,54.2 197.1,55.4" fill="#f98b2b" stroke="#f98b2b" stroke-width="0.5" stroke-linejoin="round"/>
<polygon points="207.8,52.6 211.3,51.4 207.7,52.2 204.2,53.3" fill="#f97a28" stroke="#f97a28" stroke-width="0.5" stroke-linejoin="round"/>
<polygon points="204.2,53.3 207.7,52.2 204.1,53.1 200.6,54.2" fill="#f9872a" stroke="#f9872a" stroke-width="0.5" stroke-linejoin="round"/>
<polygon points="204.3,53.9 211.3,51.4 204.1,53.1 197.1,55.4" fill="none" stroke="#141408" stroke-opacity="0.85" stroke-width="0.45" stroke-linejoin="round"/>
<polygon points="154.7,71.7 158.2,70 154.6,71.3 151.1,73" fill="#f0f42d" stroke="#f0f42d" stroke-width="0.5" stroke-linejoin="round"/>
<polygon points="151.1,73 154.6,71.3 151,72.7 147.5,74.4" fill="#e5f931" stroke="#e5f931" stroke-width="0.5" stroke-linejoin="round"/>
<polygon points="158.2,70 161.7,68.3 158.1,69.6 154.6,71.3" fill="#f2ee2e" stroke="#f2ee2e" stroke-width="0.5" stroke-linejoin="round"/>
<polygon points="154.6,71.3 158.1,69.6 154.5,71 151,72.7" fill="#eaf82f" stroke="#eaf82f" stroke-width="0.5" stroke-linejoin="round"/>
<polygon points="154.7,71.7 161.7,68.3 154.5,71 147.5,74.4" fill="none" stroke="#141408" stroke-opacity="0.85" stroke-width="0.45" stroke-linejoin="round"/>
<polygon points="218.6,50.6 222.1,49.5 218.5,49.8 214.9,50.9" fill="#f56025" stroke="#f56025" stroke-width="0.5" stroke-linejoin="round"/>
<polygon points="214.9,50.9 218.5,49.8 214.8,50.3 211.3,51.4" fill="#f76a26" stroke="#f76a26" stroke-width="0.5" stroke-linejoin="round"/>
<polygon points="222.1,49.5 225.6,48.4 222,48.7 218.5,49.8" fill="#f55d25" stroke="#f55d25" stroke-width="0.5" stroke-linejoin="round"/>
<polygon points="218.5,49.8 222,48.7 218.3,49.3 214.8,50.3" fill="#f66826" stroke="#f66826" stroke-width="0.5" stroke-linejoin="round"/>
<polygon points="218.6,50.6 225.6,48.4 218.3,49.3 211.3,51.4" fill="none" stroke="#141408" stroke-opacity="0.85" stroke-width="0.45" stroke-linejoin="round"/>
<polygon points="232.8,48.4 236.3,47.4 232.7,47.3 229.2,48.3" fill="#f24e23" stroke="#f24e23" stroke-width="0.5" stroke-linejoin="round"/>
<polygon points="229.2,48.3 232.7,47.3 229.1,47.4 225.6,48.4" fill="#f35324" stroke="#f35324" stroke-width="0.5" stroke-linejoin="round"/>
<polygon points="236.3,47.4 239.8,46.4 236.2,46.3 232.7,47.3" fill="#f14d23" stroke="#f14d23" stroke-width="0.5" stroke-linejoin="round"/>
<polygon points="232.7,47.3 236.2,46.3 232.6,46.4 229.1,47.4" fill="#f35224" stroke="#f35224" stroke-width="0.5" stroke-linejoin="round"/>
<polygon points="232.8,48.4 239.8,46.4 232.6,46.4 225.6,48.4" fill="none" stroke="#141408" stroke-opacity="0.85" stroke-width="0.45" stroke-linejoin="round"/>
<polygon points="168.8,66 172.3,64.4 168.7,65.5 165.2,67.1" fill="#fad031" stroke="#fad031" stroke-width="0.5" stroke-linejoin="round"/>
<polygon points="165.2,67.1 168.7,65.5 165.1,66.7 161.7,68.3" fill="#f9dd30" stroke="#f9dd30" stroke-width="0.5" stroke-linejoin="round"/>
<polygon points="172.3,64.4 175.8,62.9 172.2,64 168.7,65.5" fill="#facb31" stroke="#facb31" stroke-width="0.5" stroke-linejoin="round"/>
<polygon points="168.7,65.5 172.2,64 168.6,65.2 165.1,66.7" fill="#fad830" stroke="#fad830" stroke-width="0.5" stroke-linejoin="round"/>
<polygon points="168.8,66 175.8,62.9 168.6,65.2 161.7,68.3" fill="none" stroke="#141408" stroke-opacity="0.85" stroke-width="0.45" stroke-linejoin="round"/>
<polygon points="133.6,82.3 137.1,80.2 133.5,81.7 130,83.8" fill="#baf93b" stroke="#baf93b" stroke-width="0.5" stroke-linejoin="round"/>
<polygon points="130,83.8 133.5,81.7 130,83.4 126.5,85.5" fill="#a8f83c" stroke="#a8f83c" stroke-width="0.5" stroke-linejoin="round"/>
<polygon points="137.1,80.2 140.5,78.2 137,79.7 133.5,81.7" fill="#c2fa3a" stroke="#c2fa3a" stroke-width="0.5" stroke-linejoin="round"/>
<polygon points="133.5,81.7 137,79.7 133.4,81.4 130,83.4" fill="#b0f93b" stroke="#b0f93b" stroke-width="0.5" stroke-linejoin="round"/>
<polygon points="133.6,82.3 140.5,78.2 133.4,81.4 126.5,85.5" fill="none" stroke="#141408" stroke-opacity="0.85" stroke-width="0.45" stroke-linejoin="round"/>
<polygon points="183,60.9 186.5,59.4 182.9,60.4 179.4,61.8" fill="#faae32" stroke="#faae32" stroke-width="0.5" stroke-linejoin="round"/>
<polygon points="179.4,61.8 182.9,60.4 179.3,61.4 175.8,62.9" fill="#faba32" stroke="#faba32" stroke-width="0.5" stroke-linejoin="round"/>
<polygon points="186.5,59.4 190.1,58 186.4,59 182.9,60.4" fill="#faa931" stroke="#faa931" stroke-width="0.5" stroke-linejoin="round"/>
<polygon points="182.9,60.4 186.4,59 182.8,60.1 179.3,61.4" fill="#fab632" stroke="#fab632" stroke-width="0.5" stroke-linejoin="round"/>
<polygon points="183,60.9 190.1,58 182.8,60.1 175.8,62.9" fill="none" stroke="#141408" stroke-opacity="0.85" stroke-width="0.45" stroke-linejoin="round"/>
<polygon points="112.6,94.7 116.1,92.3 112.6,94.2 109.1,96.6" fill="#7cfa46" stroke="#7cfa46" stroke-width="0.5" stroke-linejoin="round"/>
<polygon points="109.1,96.6 112.6,94.2 109.1,96.3 105.6,98.7" fill="#71fa4e" stroke="#71fa4e" stroke-width="0.5" stroke-linejoin="round"/>
<polygon points="116.1,92.3 119.6,90 116,91.9 112.6,94.2" fill="#81fa43" stroke="#81fa43" stroke-width="0.5" stroke-linejoin="round"/>
<polygon points="112.6,94.2 116,91.9 112.5,93.9 109.1,96.3" fill="#76fa4a" stroke="#76fa4a" stroke-width="0.5" stroke-linejoin="round"/>
<polygon points="112.6,94.7 119.6,90 112.5,93.9 105.6,98.7" fill="none" stroke="#141408" stroke-opacity="0.85" stroke-width="0.45" stroke-linejoin="round"/>
<polygon points="147.7,75.4 151.2,73.5 147.6,74.8 144.1,76.7" fill="#e7f830" stroke="#e7f830" stroke-width="0.5" stroke-linejoin="round"/>
<polygon points="144.1,76.7 147.6,74.8 144,76.2 140.5,78.2" fill="#d9f935" stroke="#d9f935" stroke-width="0.5" stroke-linejoin="round"/>
<polygon points="151.2,73.5 154.7,71.7 151.1,73 147.6,74.8" fill="#edf82d" stroke="#edf82d" stroke-width="0.5" stroke-linejoin="round"/>
<polygon points="147.6,74.8 151.1,73 147.5,74.4 144,76.2" fill="#dff933" stroke="#dff933" stroke-width="0.5" stroke-linejoin="round"/>
<polygon points="147.7,75.4 154.7,71.7 147.5,74.4 140.5,78.2" fill="none" stroke="#141408" stroke-opacity="0.85" stroke-width="0.45" stroke-linejoin="round"/>
<polygon points="197.3,56.6 200.8,55.2 197.2,55.8 193.7,57.2" fill="#f9872a" stroke="#f9872a" stroke-width="0.5" stroke-linejoin="round"/>
<polygon points="193.7,57.2 197.2,55.8 193.6,56.7 190.1,58" fill="#fa942d" stroke="#fa942d" stroke-width="0.5" stroke-linejoin="round"/>
<polygon points="200.8,55.2 204.3,53.9 200.7,54.5 197.2,55.8" fill="#f98229" stroke="#f98229" stroke-width="0.5" stroke-linejoin="round"/>
<polygon points="197.2,55.8 200.7,54.5 197.1,55.4 193.6,56.7" fill="#f98f2c" stroke="#f98f2c" stroke-width="0.5" stroke-linejoin="round"/>
<polygon points="197.3,56.6 204.3,53.9 197.1,55.4 190.1,58" fill="none" stroke="#141408" stroke-opacity="0.85" stroke-width="0.45" stroke-linejoin="round"/>
<polygon points="211.5,53.1 215.1,51.8 211.4,52.1 207.9,53.4" fill="#f66726" stroke="#f66726" stroke-width="0.5" stroke-linejoin="round"/>
<polygon points="207.9,53.4 211.4,52.1 207.8,52.6 204.3,53.9" fill="#f87127" stroke="#f87127" stroke-width="0.5" stroke-linejoin="round"/>
<polygon points="215.1,51.8 218.6,50.6 214.9,50.9 211.4,52.1" fill="#f66325" stroke="#f66325" stroke-width="0.5" stroke-linejoin="round"/>
<polygon points="211.4,52.1 214.9,50.9 211.3,51.4 207.8,52.6" fill="#f76e27" stroke="#f76e27" stroke-width="0.5" stroke-linejoin="round"/>
<polygon points="211.5,53.1 218.6,50.6 211.3,51.4 204.3,53.9" fill="none" stroke="#141408" stroke-opacity="0.85" stroke-width="0.45" stroke-linejoin="round"/>
<polygon points="225.8,50.6 229.3,49.5 225.7,49.4 222.2,50.5" fill="#f35123" stroke="#f35123" stroke-width="0.5" stroke-linejoin="round"/>
<polygon points="222.2,50.5 225.7,49.4 222.1,49.5 218.6,50.6" fill="#f45724" stroke="#f45724" stroke-width="0.5" stroke-linejoin="round"/>
<polygon points="229.3,49.5 232.8,48.4 229.2,48.3 225.7,49.4" fill="#f25023" stroke="#f25023" stroke-width="0.5" stroke-linejoin="round"/>
<polygon points="225.7,49.4 229.2,48.3 225.6,48.4 222.1,49.5" fill="#f45424" stroke="#f45424" stroke-width="0.5" stroke-linejoin="round"/>
<polygon points="225.8,50.6 232.8,48.4 225.6,48.4 218.6,50.6" fill="none" stroke="#141408" stroke-opacity="0.85" stroke-width="0.47" stroke-linejoin="round"/>
<polygon points="161.8,69.4 165.3,67.6 161.7,68.8 158.2,70.5" fill="#fadb30" stroke="#fadb30" stroke-width="0.5" stroke-linejoin="round"/>
<polygon points="158.2,70.5 161.7,68.8 158.2,70 154.7,71.7" fill="#f5e72f" stroke="#f5e72f" stroke-width="0.5" stroke-linejoin="round"/>
<polygon points="165.3,67.6 168.8,66 165.2,67.1 161.7,68.8" fill="#fad530" stroke="#fad530" stroke-width="0.5" stroke-linejoin="round"/>
<polygon points="161.7,68.8 165.2,67.1 161.7,68.3 158.2,70" fill="#f7e22f" stroke="#f7e22f" stroke-width="0.5" stroke-linejoin="round"/>
<polygon points="161.8,69.4 168.8,66 161.7,68.3 154.7,71.7" fill="none" stroke="#141408" stroke-opacity="0.85" stroke-width="0.45" stroke-linejoin="round"/>
<polygon points="126.6,86.6 130.1,84.4 126.6,86 123.1,88.2" fill="#aaf83c" stroke="#aaf83c" stroke-width="0.5" stroke-linejoin="round"/>
<polygon points="123.1,88.2 126.6,86 123,87.7 119.6,90" fill="#99f83d" stroke="#99f83d" stroke-width="0.5" stroke-linejoin="round"/>
<polygon points="130.1,84.4 133.6,82.3 130,83.8 126.6,86" fill="#b2f93b" stroke="#b2f93b" stroke-width="0.5" stroke-linejoin="round"/>
<polygon points="126.6,86 130,83.8 126.5,85.5 123,87.7" fill="#a0f83c" stroke="#a0f83c" stroke-width="0.5" stroke-linejoin="round"/>
<polygon points="126.6,86.6 133.6,82.3 126.5,85.5 119.6,90" fill="none" stroke="#141408" stroke-opacity="0.85" stroke-width="0.45" stroke-linejoin="round"/>
<polygon points="240.1,49.1 243.6,48.1 240,47.6 236.4,48.7" fill="#ef4722" stroke="#ef4722" stroke-width="0.5" stroke-linejoin="round"/>
<polygon points="236.4,48.7 240,47.6 236.3,47.4 232.8,48.4" fill="#f04a22" stroke="#f04a22" stroke-width="0.5" stroke-linejoin="round"/>
<polygon points="243.6,48.1 247.1,47.2 243.5,46.7 240,47.6" fill="#ef4622" stroke="#ef4622" stroke-width="0.5" stroke-linejoin="round"/>
<polygon points="240,47.6 243.5,46.7 239.8,46.4 236.3,47.4" fill="#f04922" stroke="#f04922" stroke-width="0.5" stroke-linejoin="round"/>
<polygon points="240.1,49.1 247.1,47.2 239.8,46.4 232.8,48.4" fill="none" stroke="#141408" stroke-opacity="0.85" stroke-width="0.52" stroke-linejoin="round"/>
<polygon points="105.7,99.7 109.2,97.2 105.7,99.1 102.2,101.6" fill="#71fa4e" stroke="#71fa4e" stroke-width="0.5" stroke-linejoin="round"/>
<polygon points="102.2,101.6 105.7,99.1 102.2,101.2 98.7,103.7" fill="#66fa55" stroke="#66fa55" stroke-width="0.5" stroke-linejoin="round"/>
<polygon points="109.2,97.2 112.6,94.7 109.1,96.6 105.7,99.1" fill="#76fa4a" stroke="#76fa4a" stroke-width="0.5" stroke-linejoin="round"/>
<polygon points="105.7,99.1 109.1,96.6 105.6,98.7 102.2,101.2" fill="#6bfa52" stroke="#6bfa52" stroke-width="0.5" stroke-linejoin="round"/>
<polygon points="105.7,99.7 112.6,94.7 105.6,98.7 98.7,103.7" fill="none" stroke="#141408" stroke-opacity="0.85" stroke-width="0.45" stroke-linejoin="round"/>
<polygon points="176,64.1 179.5,62.4 175.9,63.4 172.4,65" fill="#fab932" stroke="#fab932" stroke-width="0.5" stroke-linejoin="round"/>
<polygon points="172.4,65 175.9,63.4 172.3,64.4 168.8,66" fill="#fac532" stroke="#fac532" stroke-width="0.5" stroke-linejoin="round"/>
<polygon points="179.5,62.4 183,60.9 179.4,61.8 175.9,63.4" fill="#fab332" stroke="#fab332" stroke-width="0.5" stroke-linejoin="round"/>
<polygon points="175.9,63.4 179.4,61.8 175.8,62.9 172.3,64.4" fill="#fabf32" stroke="#fabf32" stroke-width="0.5" stroke-linejoin="round"/>
<polygon points="176,64.1 183,60.9 175.8,62.9 168.8,66" fill="none" stroke="#141408" stroke-opacity="0.85" stroke-width="0.45" stroke-linejoin="round"/>
<polygon points="140.7,79.5 144.2,77.4 140.6,78.7 137.1,80.8" fill="#daf935" stroke="#daf935" stroke-width="0.5" stroke-linejoin="round"/>
<polygon points="137.1,80.8 140.6,78.7 137.1,80.2 133.6,82.3" fill="#ccfa3a" stroke="#ccfa3a" stroke-width="0.5" stroke-linejoin="round"/>
<polygon points="144.2,77.4 147.7,75.4 144.1,76.7 140.6,78.7" fill="#e0f932" stroke="#e0f932" stroke-width="0.5" stroke-linejoin="round"/>
<polygon points="140.6,78.7 144.1,76.7 140.5,78.2 137.1,80.2" fill="#d3fa38" stroke="#d3fa38" stroke-width="0.5" stroke-linejoin="round"/>
<polygon points="140.7,79.5 147.7,75.4 140.5,78.2 133.6,82.3" fill="none" stroke="#141408" stroke-opacity="0.85" stroke-width="0.45" stroke-linejoin="round"/>
<polygon points="190.3,59.5 193.8,58 190.2,58.6 186.7,60.1" fill="#f9922d" stroke="#f9922d" stroke-width="0.5" stroke-linejoin="round"/>
<polygon points="186.7,60.1 190.2,58.6 186.5,59.4 183,60.9" fill="#faa02f" stroke="#faa02f" stroke-width="0.5" stroke-linejoin="round"/>
<polygon points="193.8,58 197.3,56.6 193.7,57.2 190.2,58.6" fill="#f98c2b" stroke="#f98c2b" stroke-width="0.5" stroke-linejoin="round"/>
<polygon points="190.2,58.6 193.7,57.2 190.1,58 186.5,59.4" fill="#fa9a2e" stroke="#fa9a2e" stroke-width="0.5" stroke-linejoin="round"/>
<polygon points="190.3,59.5 197.3,56.6 190.1,58 183,60.9" fill="none" stroke="#141408" stroke-opacity="0.85" stroke-width="0.45" stroke-linejoin="round"/>
<polygon points="204.5,55.9 208,54.5 204.4,54.7 200.9,56.1" fill="#f87027" stroke="#f87027" stroke-width="0.5" stroke-linejoin="round"/>
<polygon points="200.9,56.1 204.4,54.7 200.8,55.2 197.3,56.6" fill="#f97b28" stroke="#f97b28" stroke-width="0.5" stroke-linejoin="round"/>
<polygon points="208,54.5 211.5,53.1 207.9,53.4 204.4,54.7" fill="#f76b26" stroke="#f76b26" stroke-width="0.5" stroke-linejoin="round"/>
<polygon points="204.4,54.7 207.9,53.4 204.3,53.9 200.8,55.2" fill="#f87627" stroke="#f87627" stroke-width="0.5" stroke-linejoin="round"/>
<polygon points="204.5,55.9 211.5,53.1 204.3,53.9 197.3,56.6" fill="none" stroke="#141408" stroke-opacity="0.85" stroke-width="0.45" stroke-linejoin="round"/>
<polygon points="119.7,91.3 123.2,88.9 119.6,90.6 116.2,92.9" fill="#98f93e" stroke="#98f93e" stroke-width="0.5" stroke-linejoin="round"/>
<polygon points="116.2,92.9 119.6,90.6 116.1,92.3 112.6,94.7" fill="#89fa41" stroke="#89fa41" stroke-width="0.5" stroke-linejoin="round"/>
<polygon points="123.2,88.9 126.6,86.6 123.1,88.2 119.6,90.6" fill="#a0f83c" stroke="#a0f83c" stroke-width="0.5" stroke-linejoin="round"/>
<polygon points="119.6,90.6 123.1,88.2 119.6,90 116.1,92.3" fill="#91f93f" stroke="#91f93f" stroke-width="0.5" stroke-linejoin="round"/>
<polygon points="119.7,91.3 126.6,86.6 119.6,90 112.6,94.7" fill="none" stroke="#141408" stroke-opacity="0.85" stroke-width="0.45" stroke-linejoin="round"/>
<polygon points="154.8,73.1 158.3,71.2 154.8,72.3 151.3,74.2" fill="#f5e62f" stroke="#f5e62f" stroke-width="0.5" stroke-linejoin="round"/>
<polygon points="151.3,74.2 154.8,72.3 151.2,73.5 147.7,75.4" fill="#f0f22e" stroke="#f0f22e" stroke-width="0.5" stroke-linejoin="round"/>
<polygon points="158.3,71.2 161.8,69.4 158.2,70.5 154.8,72.3" fill="#f7e02f" stroke="#f7e02f" stroke-width="0.5" stroke-linejoin="round"/>
<polygon points="154.8,72.3 158.2,70.5 154.7,71.7 151.2,73.5" fill="#f3ec2e" stroke="#f3ec2e" stroke-width="0.5" stroke-linejoin="round"/>
<polygon points="154.8,73.1 161.8,69.4 154.7,71.7 147.7,75.4" fill="none" stroke="#141408" stroke-opacity="0.85" stroke-width="0.45" stroke-linejoin="round"/>
<polygon points="218.8,53.1 222.3,51.8 218.7,51.7 215.2,53" fill="#f45624" stroke="#f45624" stroke-width="0.5" stroke-linejoin="round"/>
<polygon points="215.2,53 218.7,51.7 215.1,51.8 211.5,53.1" fill="#f55e25" stroke="#f55e25" stroke-width="0.5" stroke-linejoin="round"/>
<polygon points="222.3,51.8 225.8,50.6 222.2,50.5 218.7,51.7" fill="#f35324" stroke="#f35324" stroke-width="0.5" stroke-linejoin="round"/>
<polygon points="218.7,51.7 222.2,50.5 218.6,50.6 215.1,51.8" fill="#f55a25" stroke="#f55a25" stroke-width="0.5" stroke-linejoin="round"/>
<polygon points="218.8,53.1 225.8,50.6 218.6,50.6 211.5,53.1" fill="none" stroke="#141408" stroke-opacity="0.85" stroke-width="0.49" stroke-linejoin="round"/>
<polygon points="233.1,51.4 236.6,50.2 232.9,49.8 229.4,50.9" fill="#f04b22" stroke="#f04b22" stroke-width="0.5" stroke-linejoin="round"/>
<polygon points="229.4,50.9 232.9,49.8 229.3,49.5 225.8,50.6" fill="#f14e23" stroke="#f14e23" stroke-width="0.5" stroke-linejoin="round"/>
<polygon points="236.6,50.2 240.1,49.1 236.4,48.7 232.9,49.8" fill="#f04922" stroke="#f04922" stroke-width="0.5" stroke-linejoin="round"/>
<polygon points="232.9,49.8 236.4,48.7 232.8,48.4 229.3,49.5" fill="#f14c22" stroke="#f14c22" stroke-width="0.5" stroke-linejoin="round"/>
<polygon points="233.1,51.4 240.1,49.1 232.8,48.4 225.8,50.6" fill="none" stroke="#141408" stroke-opacity="0.85" stroke-width="0.54" stroke-linejoin="round"/>
<polygon points="247.3,50.7 250.8,49.7 247.2,48.8 243.7,49.8" fill="#ee4421" stroke="#ee4421" stroke-width="0.5" stroke-linejoin="round"/>
<polygon points="243.7,49.8 247.2,48.8 243.6,48.1 240.1,49.1" fill="#ef4521" stroke="#ef4521" stroke-width="0.5" stroke-linejoin="round"/>
<polygon points="250.8,49.7 254.3,48.8 250.7,47.9 247.2,48.8" fill="#ee4321" stroke="#ee4321" stroke-width="0.5" stroke-linejoin="round"/>
<polygon points="247.2,48.8 250.7,47.9 247.1,47.2 243.6,48.1" fill="#ee4421" stroke="#ee4421" stroke-width="0.5" stroke-linejoin="round"/>
<polygon points="247.3,50.7 254.3,48.8 247.1,47.2 240.1,49.1" fill="none" stroke="#141408" stroke-opacity="0.85" stroke-width="0.58" stroke-linejoin="round"/>
<polygon points="98.8,104.8 102.3,102.2 98.8,104.2 95.4,106.7" fill="#65fa56" stroke="#65fa56" stroke-width="0.5" stroke-linejoin="round"/>
<polygon points="95.4,106.7 98.8,104.2 95.3,106.3 91.9,108.9" fill="#5efa63" stroke="#5efa63" stroke-width="0.5" stroke-linejoin="round"/>
<polygon points="102.3,102.2 105.7,99.7 102.2,101.6 98.8,104.2" fill="#6bfa52" stroke="#6bfa52" stroke-width="0.5" stroke-linejoin="round"/>
<polygon points="98.8,104.2 102.2,101.6 98.7,103.7 95.3,106.3" fill="#60fa59" stroke="#60fa59" stroke-width="0.5" stroke-linejoin="round"/>
<polygon points="98.8,104.8 105.7,99.7 98.7,103.7 91.9,108.9" fill="none" stroke="#141408" stroke-opacity="0.85" stroke-width="0.45" stroke-linejoin="round"/>
<polygon points="169,67.6 172.5,65.8 168.9,66.6 165.4,68.4" fill="#fac532" stroke="#fac532" stroke-width="0.5" stroke-linejoin="round"/>
<polygon points="165.4,68.4 168.9,66.6 165.3,67.6 161.8,69.4" fill="#facf31" stroke="#facf31" stroke-width="0.5" stroke-linejoin="round"/>
<polygon points="172.5,65.8 176,64.1 172.4,65 168.9,66.6" fill="#fabe32" stroke="#fabe32" stroke-width="0.5" stroke-linejoin="round"/>
<polygon points="168.9,66.6 172.4,65 168.8,66 165.3,67.6" fill="#faca31" stroke="#faca31" stroke-width="0.5" stroke-linejoin="round"/>
<polygon points="169,67.6 176,64.1 168.8,66 161.8,69.4" fill="none" stroke="#141408" stroke-opacity="0.85" stroke-width="0.45" stroke-linejoin="round"/>
<polygon points="133.8,83.8 137.2,81.6 133.7,83 130.2,85.2" fill="#cbfa3a" stroke="#cbfa3a" stroke-width="0.5" stroke-linejoin="round"/>
<polygon points="130.2,85.2 133.7,83 130.1,84.4 126.6,86.6" fill="#bbf93b" stroke="#bbf93b" stroke-width="0.5" stroke-linejoin="round"/>
<polygon points="137.2,81.6 140.7,79.5 137.1,80.8 133.7,83" fill="#d3fa38" stroke="#d3fa38" stroke-width="0.5" stroke-linejoin="round"/>
<polygon points="133.7,83 137.1,80.8 133.6,82.3 130.1,84.4" fill="#c3fa3a" stroke="#c3fa3a" stroke-width="0.5" stroke-linejoin="round"/>
<polygon points="133.8,83.8 140.7,79.5 133.6,82.3 126.6,86.6" fill="none" stroke="#141408" stroke-opacity="0.85" stroke-width="0.45" stroke-linejoin="round"/>
<polygon points="183.3,62.8 186.8,61.1 183.1,61.7 179.6,63.3" fill="#faa030" stroke="#faa030" stroke-width="0.5" stroke-linejoin="round"/>
<polygon points="179.6,63.3 183.1,61.7 179.5,62.4 176,64.1" fill="#faad32" stroke="#faad32" stroke-width="0.5" stroke-linejoin="round"/>
<polygon points="186.8,61.1 190.3,59.5 186.7,60.1 183.1,61.7" fill="#fa992e" stroke="#fa992e" stroke-width="0.5" stroke-linejoin="round"/>
<polygon points="183.1,61.7 186.7,60.1 183,60.9 179.5,62.4" fill="#faa731" stroke="#faa731" stroke-width="0.5" stroke-linejoin="round"/>
<polygon points="183.3,62.8 190.3,59.5 183,60.9 176,64.1" fill="none" stroke="#141408" stroke-opacity="0.85" stroke-width="0.45" stroke-linejoin="round"/>
<polygon points="112.8,96.2 116.2,93.7 112.7,95.4 109.3,97.9" fill="#87fa41" stroke="#87fa41" stroke-width="0.5" stroke-linejoin="round"/>
<polygon points="109.3,97.9 112.7,95.4 109.2,97.2 105.7,99.7" fill="#7bfa47" stroke="#7bfa47" stroke-width="0.5" stroke-linejoin="round"/>
<polygon points="116.2,93.7 119.7,91.3 116.2,92.9 112.7,95.4" fill="#90f93f" stroke="#90f93f" stroke-width="0.5" stroke-linejoin="round"/>
<polygon points="112.7,95.4 116.2,92.9 112.6,94.7 109.2,97.2" fill="#81fa43" stroke="#81fa43" stroke-width="0.5" stroke-linejoin="round"/>
<polygon points="112.8,96.2 119.7,91.3 112.6,94.7 105.7,99.7" fill="none" stroke="#141408" stroke-opacity="0.85" stroke-width="0.45" stroke-linejoin="round"/>
<polygon points="197.5,58.9 201,57.3 197.4,57.6 193.9,59.1" fill="#f97c28" stroke="#f97c28" stroke-width="0.5" stroke-linejoin="round"/>
<polygon points="193.9,59.1 197.4,57.6 193.8,58 190.3,59.5" fill="#f9872a" stroke="#f9872a" stroke-width="0.5" stroke-linejoin="round"/>
<polygon points="201,57.3 204.5,55.9 200.9,56.1 197.4,57.6" fill="#f87627" stroke="#f87627" stroke-width="0.5" stroke-linejoin="round"/>
<polygon points="197.4,57.6 200.9,56.1 197.3,56.6 193.8,58" fill="#f98029" stroke="#f98029" stroke-width="0.5" stroke-linejoin="round"/>
<polygon points="197.5,58.9 204.5,55.9 197.3,56.6 190.3,59.5" fill="none" stroke="#141408" stroke-opacity="0.85" stroke-width="0.48" stroke-linejoin="round"/>
<polygon points="147.9,77.2 151.4,75.1 147.8,76.2 144.3,78.3" fill="#f0f32d" stroke="#f0f32d" stroke-width="0.5" stroke-linejoin="round"/>
<polygon points="144.3,78.3 147.8,76.2 144.2,77.4 140.7,79.5" fill="#e7f830" stroke="#e7f830" stroke-width="0.5" stroke-linejoin="round"/>
<polygon points="151.4,75.1 154.8,73.1 151.3,74.2 147.8,76.2" fill="#f3ed2e" stroke="#f3ed2e" stroke-width="0.5" stroke-linejoin="round"/>
<polygon points="147.8,76.2 151.3,74.2 147.7,75.4 144.2,77.4" fill="#edf82d" stroke="#edf82d" stroke-width="0.5" stroke-linejoin="round"/>
<polygon points="147.9,77.2 154.8,73.1 147.7,75.4 140.7,79.5" fill="none" stroke="#141408" stroke-opacity="0.85" stroke-width="0.45" stroke-linejoin="round"/>
<polygon points="92,110 95.4,107.4 91.9,109.3 88.5,112" fill="#5efa67" stroke="#5efa67" stroke-width="0.5" stroke-linejoin="round"/>
<polygon points="88.5,112 91.9,109.3 88.4,111.5 85,114.1" fill="#5cfa7b" stroke="#5cfa7b" stroke-width="0.5" stroke-linejoin="round"/>
<polygon points="95.4,107.4 98.8,104.8 95.4,106.7 91.9,109.3" fill="#5ffa5b" stroke="#5ffa5b" stroke-width="0.5" stroke-linejoin="round"/>
<polygon points="91.9,109.3 95.4,106.7 91.9,108.9 88.4,111.5" fill="#5dfa6f" stroke="#5dfa6f" stroke-width="0.5" stroke-linejoin="round"/>
<polygon points="92,110 98.8,104.8 91.9,108.9 85,114.1" fill="none" stroke="#141408" stroke-opacity="0.85" stroke-width="0.45" stroke-linejoin="round"/>
<polygon points="211.8,55.9 215.3,54.5 211.7,54.4 208.1,55.8" fill="#f56025" stroke="#f56025" stroke-width="0.5" stroke-linejoin="round"/>
<polygon points="208.1,55.8 211.7,54.4 208,54.5 204.5,55.9" fill="#f66726" stroke="#f66726" stroke-width="0.5" stroke-linejoin="round"/>
<polygon points="215.3,54.5 218.8,53.1 215.2,53 211.7,54.4" fill="#f55b25" stroke="#f55b25" stroke-width="0.5" stroke-linejoin="round"/>
<polygon points="211.7,54.4 215.2,53 211.5,53.1 208,54.5" fill="#f66225" stroke="#f66225" stroke-width="0.5" stroke-linejoin="round"/>
<polygon points="211.8,55.9 218.8,53.1 211.5,53.1 204.5,55.9" fill="none" stroke="#141408" stroke-opacity="0.85" stroke-width="0.52" stroke-linejoin="round"/>
<polygon points="254.5,53 258,52 254.4,50.8 250.9,51.7" fill="#ee4521" stroke="#ee4521" stroke-width="0.5" stroke-linejoin="round"/>
<polygon points="250.9,51.7 254.4,50.8 250.8,49.7 247.3,50.7" fill="#ee4421" stroke="#ee4421" stroke-width="0.5" stroke-linejoin="round"/>
<polygon points="258,52 261.5,51.1 257.9,49.9 254.4,50.8" fill="#ee4421" stroke="#ee4421" stroke-width="0.5" stroke-linejoin="round"/>
<polygon points="254.4,50.8 257.9,49.9 254.3,48.8 250.8,49.7" fill="#ee4321" stroke="#ee4321" stroke-width="0.5" stroke-linejoin="round"/>
<polygon points="254.5,53 261.5,51.1 254.3,48.8 247.3,50.7" fill="none" stroke="#141408" stroke-opacity="0.85" stroke-width="0.63" stroke-linejoin="round"/>
<polygon points="226,53.9 229.5,52.6 225.9,52.1 222.4,53.4" fill="#f24f23" stroke="#f24f23" stroke-width="0.5" stroke-linejoin="round"/>
<polygon points="222.4,53.4 225.9,52.1 222.3,51.8 218.8,53.1" fill="#f35223" stroke="#f35223" stroke-width="0.5" stroke-linejoin="round"/>
<polygon points="229.5,52.6 233.1,51.4 229.4,50.9 225.9,52.1" fill="#f14d23" stroke="#f14d23" stroke-width="0.5" stroke-linejoin="round"/>
<polygon points="225.9,52.1 229.4,50.9 225.8,50.6 222.3,51.8" fill="#f25023" stroke="#f25023" stroke-width="0.5" stroke-linejoin="round"/>
<polygon points="226,53.9 233.1,51.4 225.8,50.6 218.8,53.1" fill="none" stroke="#141408" stroke-opacity="0.85" stroke-width="0.56" stroke-linejoin="round"/>
<polygon points="240.3,52.9 243.8,51.7 240.2,50.9 236.7,52" fill="#ef4722" stroke="#ef4722" stroke-width="0.5" stroke-linejoin="round"/>
<polygon points="236.7,52 240.2,50.9 236.6,50.2 233.1,51.4" fill="#f04922" stroke="#f04922" stroke-width="0.5" stroke-linejoin="round"/>
<polygon points="243.8,51.7 247.3,50.7 243.7,49.8 240.2,50.9" fill="#ef4621" stroke="#ef4621" stroke-width="0.5" stroke-linejoin="round"/>
<polygon points="240.2,50.9 243.7,49.8 240.1,49.1 236.6,50.2" fill="#ef4722" stroke="#ef4722" stroke-width="0.5" stroke-linejoin="round"/>
<polygon points="240.3,52.9 247.3,50.7 240.1,49.1 233.1,51.4" fill="none" stroke="#141408" stroke-opacity="0.85" stroke-width="0.60" stroke-linejoin="round"/>
<polygon points="162,71.3 165.5,69.4 161.9,70.3 158.4,72.2" fill="#fad131" stroke="#fad131" stroke-width="0.5" stroke-linejoin="round"/>
<polygon points="158.4,72.2 161.9,70.3 158.3,71.2 154.8,73.1" fill="#f9db30" stroke="#f9db30" stroke-width="0.5" stroke-linejoin="round"/>
<polygon points="165.5,69.4 169,67.6 165.4,68.4 161.9,70.3" fill="#faca31" stroke="#faca31" stroke-width="0.5" stroke-linejoin="round"/>
<polygon points="161.9,70.3 165.4,68.4 161.8,69.4 158.3,71.2" fill="#fad530" stroke="#fad530" stroke-width="0.5" stroke-linejoin="round"/>
<polygon points="162,71.3 169,67.6 161.8,69.4 154.8,73.1" fill="none" stroke="#141408" stroke-opacity="0.85" stroke-width="0.45" stroke-linejoin="round"/>
<polygon points="126.8,88.5 130.3,86.1 126.7,87.5 123.3,89.8" fill="#b8f93b" stroke="#b8f93b" stroke-width="0.5" stroke-linejoin="round"/>
<polygon points="123.3,89.8 126.7,87.5 123.2,88.9 119.7,91.3" fill="#a8f83c" stroke="#a8f83c" stroke-width="0.5" stroke-linejoin="round"/>
<polygon points="130.3,86.1 133.8,83.8 130.2,85.2 126.7,87.5" fill="#c2f93b" stroke="#c2f93b" stroke-width="0.5" stroke-linejoin="round"/>
<polygon points="126.7,87.5 130.2,85.2 126.6,86.6 123.2,88.9" fill="#b2f93b" stroke="#b2f93b" stroke-width="0.5" stroke-linejoin="round"/>
<polygon points="126.8,88.5 133.8,83.8 126.6,86.6 119.7,91.3" fill="none" stroke="#141408" stroke-opacity="0.85" stroke-width="0.45" stroke-linejoin="round"/>
<polygon points="176.2,66.3 179.7,64.5 176.1,65.1 172.6,66.9" fill="#fab032" stroke="#fab032" stroke-width="0.5" stroke-linejoin="round"/>
<polygon points="172.6,66.9 176.1,65.1 172.5,65.8 169,67.6" fill="#faba32" stroke="#faba32" stroke-width="0.5" stroke-linejoin="round"/>
<polygon points="179.7,64.5 183.3,62.8 179.6,63.3 176.1,65.1" fill="#faa831" stroke="#faa831" stroke-width="0.5" stroke-linejoin="round"/>
<polygon points="176.1,65.1 179.6,63.3 176,64.1 172.5,65.8" fill="#fab332" stroke="#fab332" stroke-width="0.5" stroke-linejoin="round"/>
<polygon points="176.2,66.3 183.3,62.8 176,64.1 169,67.6" fill="none" stroke="#141408" stroke-opacity="0.85" stroke-width="0.47" stroke-linejoin="round"/>
<polygon points="105.9,101.3 109.3,98.7 105.8,100.4 102.4,103" fill="#79fa48" stroke="#79fa48" stroke-width="0.5" stroke-linejoin="round"/>
<polygon points="102.4,103 105.8,100.4 102.3,102.2 98.8,104.8" fill="#6ffa4f" stroke="#6ffa4f" stroke-width="0.5" stroke-linejoin="round"/>
<polygon points="109.3,98.7 112.8,96.2 109.3,97.9 105.8,100.4" fill="#7ffa44" stroke="#7ffa44" stroke-width="0.5" stroke-linejoin="round"/>
<polygon points="105.8,100.4 109.3,97.9 105.7,99.7 102.3,102.2" fill="#75fa4b" stroke="#75fa4b" stroke-width="0.5" stroke-linejoin="round"/>
<polygon points="105.9,101.3 112.8,96.2 105.7,99.7 98.8,104.8" fill="none" stroke="#141408" stroke-opacity="0.85" stroke-width="0.45" stroke-linejoin="round"/>
<polygon points="140.9,81.6 144.4,79.3 140.8,80.4 137.3,82.6" fill="#e4f931" stroke="#e4f931" stroke-width="0.5" stroke-linejoin="round"/>
<polygon points="137.3,82.6 140.8,80.4 137.2,81.6 133.8,83.8" fill="#d8f936" stroke="#d8f936" stroke-width="0.5" stroke-linejoin="round"/>
<polygon points="144.4,79.3 147.9,77.2 144.3,78.3 140.8,80.4" fill="#ecf82e" stroke="#ecf82e" stroke-width="0.5" stroke-linejoin="round"/>
<polygon points="140.8,80.4 144.3,78.3 140.7,79.5 137.2,81.6" fill="#e0f933" stroke="#e0f933" stroke-width="0.5" stroke-linejoin="round"/>
<polygon points="140.9,81.6 147.9,77.2 140.7,79.5 133.8,83.8" fill="none" stroke="#141408" stroke-opacity="0.85" stroke-width="0.45" stroke-linejoin="round"/>
<polygon points="190.5,62.2 194,60.5 190.4,60.7 186.9,62.4" fill="#f98a2b" stroke="#f98a2b" stroke-width="0.5" stroke-linejoin="round"/>
<polygon points="186.9,62.4 190.4,60.7 186.8,61.1 183.3,62.8" fill="#fa952d" stroke="#fa952d" stroke-width="0.5" stroke-linejoin="round"/>
<polygon points="194,60.5 197.5,58.9 193.9,59.1 190.4,60.7" fill="#f98329" stroke="#f98329" stroke-width="0.5" stroke-linejoin="round"/>
<polygon points="190.4,60.7 193.9,59.1 190.3,59.5 186.8,61.1" fill="#f98d2c" stroke="#f98d2c" stroke-width="0.5" stroke-linejoin="round"/>
<polygon points="190.5,62.2 197.5,58.9 190.3,59.5 183.3,62.8" fill="none" stroke="#141408" stroke-opacity="0.85" stroke-width="0.51" stroke-linejoin="round"/>
<polygon points="85.1,115.5 88.5,112.7 85.1,114.7 81.6,117.4" fill="#5cfa80" stroke="#5cfa80" stroke-width="0.5" stroke-linejoin="round"/>
<polygon points="81.6,117.4 85.1,114.7 81.6,116.8 78.2,119.5" fill="#5afa94" stroke="#5afa94" stroke-width="0.5" stroke-linejoin="round"/>
<polygon points="88.5,112.7 92,110 88.5,112 85.1,114.7" fill="#5dfa73" stroke="#5dfa73" stroke-width="0.5" stroke-linejoin="round"/>
<polygon points="85.1,114.7 88.5,112 85,114.1 81.6,116.8" fill="#5bfa87" stroke="#5bfa87" stroke-width="0.5" stroke-linejoin="round"/>
<polygon points="85.1,115.5 92,110 85,114.1 78.2,119.5" fill="none" stroke="#141408" stroke-opacity="0.85" stroke-width="0.45" stroke-linejoin="round"/>
<polygon points="204.7,59 208.3,57.4 204.6,57.3 201.1,58.8" fill="#f76c26" stroke="#f76c26" stroke-width="0.5" stroke-linejoin="round"/>
<polygon points="201.1,58.8 204.6,57.3 201,57.3 197.5,58.9" fill="#f87327" stroke="#f87327" stroke-width="0.5" stroke-linejoin="round"/>
<polygon points="208.3,57.4 211.8,55.9 208.1,55.8 204.6,57.3" fill="#f66526" stroke="#f66526" stroke-width="0.5" stroke-linejoin="round"/>
<polygon points="204.6,57.3 208.1,55.8 204.5,55.9 201,57.3" fill="#f76d26" stroke="#f76d26" stroke-width="0.5" stroke-linejoin="round"/>
<polygon points="204.7,59 211.8,55.9 204.5,55.9 197.5,58.9" fill="none" stroke="#141408" stroke-opacity="0.85" stroke-width="0.55" stroke-linejoin="round"/>
<polygon points="261.7,55.9 265.2,55 261.6,53.4 258.1,54.3" fill="#f04922" stroke="#f04922" stroke-width="0.5" stroke-linejoin="round"/>
<polygon points="258.1,54.3 261.6,53.4 258,52 254.5,53" fill="#ef4621" stroke="#ef4621" stroke-width="0.5" stroke-linejoin="round"/>
<polygon points="265.2,55 268.7,54.1 265.1,52.6 261.6,53.4" fill="#ef4822" stroke="#ef4822" stroke-width="0.5" stroke-linejoin="round"/>
<polygon points="261.6,53.4 265.1,52.6 261.5,51.1 258,52" fill="#ef4521" stroke="#ef4521" stroke-width="0.5" stroke-linejoin="round"/>
<polygon points="261.7,55.9 268.7,54.1 261.5,51.1 254.5,53" fill="none" stroke="#141408" stroke-opacity="0.85" stroke-width="0.67" stroke-linejoin="round"/>
<polygon points="219,56.7 222.5,55.2 218.9,54.8 215.4,56.2" fill="#f45524" stroke="#f45524" stroke-width="0.5" stroke-linejoin="round"/>
<polygon points="215.4,56.2 218.9,54.8 215.3,54.5 211.8,55.9" fill="#f55a24" stroke="#f55a24" stroke-width="0.5" stroke-linejoin="round"/>
<polygon points="222.5,55.2 226,53.9 222.4,53.4 218.9,54.8" fill="#f35223" stroke="#f35223" stroke-width="0.5" stroke-linejoin="round"/>
<polygon points="218.9,54.8 222.4,53.4 218.8,53.1 215.3,54.5" fill="#f45524" stroke="#f45524" stroke-width="0.5" stroke-linejoin="round"/>
<polygon points="219,56.7 226,53.9 218.8,53.1 211.8,55.9" fill="none" stroke="#141408" stroke-opacity="0.85" stroke-width="0.58" stroke-linejoin="round"/>
<polygon points="155,75.4 158.5,73.3 154.9,74.2 151.5,76.2" fill="#f8de30" stroke="#f8de30" stroke-width="0.5" stroke-linejoin="round"/>
<polygon points="151.5,76.2 154.9,74.2 151.4,75.1 147.9,77.2" fill="#f4e82f" stroke="#f4e82f" stroke-width="0.5" stroke-linejoin="round"/>
<polygon points="158.5,73.3 162,71.3 158.4,72.2 154.9,74.2" fill="#fad830" stroke="#fad830" stroke-width="0.5" stroke-linejoin="round"/>
<polygon points="154.9,74.2 158.4,72.2 154.8,73.1 151.4,75.1" fill="#f7e22f" stroke="#f7e22f" stroke-width="0.5" stroke-linejoin="round"/>
<polygon points="155,75.4 162,71.3 154.8,73.1 147.9,77.2" fill="none" stroke="#141408" stroke-opacity="0.85" stroke-width="0.48" stroke-linejoin="round"/>
<polygon points="119.9,93.4 123.3,90.9 119.8,92.2 116.3,94.7" fill="#a4f83c" stroke="#a4f83c" stroke-width="0.5" stroke-linejoin="round"/>
<polygon points="116.3,94.7 119.8,92.2 116.2,93.7 112.8,96.2" fill="#96f93e" stroke="#96f93e" stroke-width="0.5" stroke-linejoin="round"/>
<polygon points="123.3,90.9 126.8,88.5 123.3,89.8 119.8,92.2" fill="#aef93b" stroke="#aef93b" stroke-width="0.5" stroke-linejoin="round"/>
<polygon points="119.8,92.2 123.3,89.8 119.7,91.3 116.2,93.7" fill="#9ef83c" stroke="#9ef83c" stroke-width="0.5" stroke-linejoin="round"/>
<polygon points="119.9,93.4 126.8,88.5 119.7,91.3 112.8,96.2" fill="none" stroke="#141408" stroke-opacity="0.85" stroke-width="0.45" stroke-linejoin="round"/>
<polygon points="247.5,55.1 251,54 247.4,52.8 243.9,53.9" fill="#ef4822" stroke="#ef4822" stroke-width="0.5" stroke-linejoin="round"/>
<polygon points="243.9,53.9 247.4,52.8 243.8,51.7 240.3,52.9" fill="#ef4722" stroke="#ef4722" stroke-width="0.5" stroke-linejoin="round"/>
<polygon points="251,54 254.5,53 250.9,51.7 247.4,52.8" fill="#ef4621" stroke="#ef4621" stroke-width="0.5" stroke-linejoin="round"/>
<polygon points="247.4,52.8 250.9,51.7 247.3,50.7 243.8,51.7" fill="#ef4521" stroke="#ef4521" stroke-width="0.5" stroke-linejoin="round"/>
<polygon points="247.5,55.1 254.5,53 247.3,50.7 240.3,52.9" fill="none" stroke="#141408" stroke-opacity="0.85" stroke-width="0.65" stroke-linejoin="round"/>
<polygon points="233.3,55.4 236.8,54.1 233.2,53.2 229.6,54.5" fill="#f14c22" stroke="#f14c22" stroke-width="0.5" stroke-linejoin="round"/>
<polygon points="229.6,54.5 233.2,53.2 229.5,52.6 226,53.9" fill="#f14d23" stroke="#f14d23" stroke-width="0.5" stroke-linejoin="round"/>
<polygon points="236.8,54.1 240.3,52.9 236.7,52 233.2,53.2" fill="#f04a22" stroke="#f04a22" stroke-width="0.5" stroke-linejoin="round"/>
<polygon points="233.2,53.2 236.7,52 233.1,51.4 229.5,52.6" fill="#f04b22" stroke="#f04b22" stroke-width="0.5" stroke-linejoin="round"/>
<polygon points="233.3,55.4 240.3,52.9 233.1,51.4 226,53.9" fill="none" stroke="#141408" stroke-opacity="0.85" stroke-width="0.62" stroke-linejoin="round"/>
<polygon points="99,106.6 102.4,103.9 98.9,105.6 95.5,108.3" fill="#6cfa51" stroke="#6cfa51" stroke-width="0.5" stroke-linejoin="round"/>
<polygon points="95.5,108.3 98.9,105.6 95.4,107.4 92,110" fill="#62fa58" stroke="#62fa58" stroke-width="0.5" stroke-linejoin="round"/>
<polygon points="102.4,103.9 105.9,101.3 102.4,103 98.9,105.6" fill="#73fa4c" stroke="#73fa4c" stroke-width="0.5" stroke-linejoin="round"/>
<polygon points="98.9,105.6 102.4,103 98.8,104.8 95.4,107.4" fill="#69fa53" stroke="#69fa53" stroke-width="0.5" stroke-linejoin="round"/>
<polygon points="99,106.6 105.9,101.3 98.8,104.8 92,110" fill="none" stroke="#141408" stroke-opacity="0.85" stroke-width="0.45" stroke-linejoin="round"/>
<polygon points="169.2,70.2 172.7,68.2 169.1,68.7 165.6,70.7" fill="#fabe32" stroke="#fabe32" stroke-width="0.5" stroke-linejoin="round"/>
<polygon points="165.6,70.7 169.1,68.7 165.5,69.4 162,71.3" fill="#fac732" stroke="#fac732" stroke-width="0.5" stroke-linejoin="round"/>
<polygon points="172.7,68.2 176.2,66.3 172.6,66.9 169.1,68.7" fill="#fab632" stroke="#fab632" stroke-width="0.5" stroke-linejoin="round"/>
<polygon points="169.1,68.7 172.6,66.9 169,67.6 165.5,69.4" fill="#fac032" stroke="#fac032" stroke-width="0.5" stroke-linejoin="round"/>
<polygon points="169.2,70.2 176.2,66.3 169,67.6 162,71.3" fill="none" stroke="#141408" stroke-opacity="0.85" stroke-width="0.51" stroke-linejoin="round"/>
<polygon points="133.9,86.2 137.4,83.8 133.8,84.9 130.4,87.3" fill="#d4fa37" stroke="#d4fa37" stroke-width="0.5" stroke-linejoin="round"/>
<polygon points="130.4,87.3 133.8,84.9 130.3,86.1 126.8,88.5" fill="#c7fa3a" stroke="#c7fa3a" stroke-width="0.5" stroke-linejoin="round"/>
<polygon points="137.4,83.8 140.9,81.6 137.3,82.6 133.8,84.9" fill="#dcf934" stroke="#dcf934" stroke-width="0.5" stroke-linejoin="round"/>
<polygon points="133.8,84.9 137.3,82.6 133.8,83.8 130.3,86.1" fill="#d0fa39" stroke="#d0fa39" stroke-width="0.5" stroke-linejoin="round"/>
<polygon points="133.9,86.2 140.9,81.6 133.8,83.8 126.8,88.5" fill="none" stroke="#141408" stroke-opacity="0.85" stroke-width="0.48" stroke-linejoin="round"/>
<polygon points="78.3,121.1 81.7,118.3 78.2,120.2 74.8,123" fill="#5afa9c" stroke="#5afa9c" stroke-width="0.5" stroke-linejoin="round"/>
<polygon points="74.8,123 78.2,120.2 74.7,122.2 71.3,125" fill="#58fab6" stroke="#58fab6" stroke-width="0.5" stroke-linejoin="round"/>
<polygon points="81.7,118.3 85.1,115.5 81.6,117.4 78.2,120.2" fill="#5bfa8d" stroke="#5bfa8d" stroke-width="0.5" stroke-linejoin="round"/>
<polygon points="78.2,120.2 81.6,117.4 78.2,119.5 74.7,122.2" fill="#59faa4" stroke="#59faa4" stroke-width="0.5" stroke-linejoin="round"/>
<polygon points="78.3,121.1 85.1,115.5 78.2,119.5 71.3,125" fill="none" stroke="#141408" stroke-opacity="0.85" stroke-width="0.45" stroke-linejoin="round"/>
<polygon points="183.5,65.8 187,63.9 183.4,64.1 179.9,66" fill="#fa9b2e" stroke="#fa9b2e" stroke-width="0.5" stroke-linejoin="round"/>
<polygon points="179.9,66 183.4,64.1 179.7,64.5 176.2,66.3" fill="#faa531" stroke="#faa531" stroke-width="0.5" stroke-linejoin="round"/>
<polygon points="187,63.9 190.5,62.2 186.9,62.4 183.4,64.1" fill="#f9922d" stroke="#f9922d" stroke-width="0.5" stroke-linejoin="round"/>
<polygon points="183.4,64.1 186.9,62.4 183.3,62.8 179.7,64.5" fill="#fa9d2f" stroke="#fa9d2f" stroke-width="0.5" stroke-linejoin="round"/>
<polygon points="183.5,65.8 190.5,62.2 183.3,62.8 176.2,66.3" fill="none" stroke="#141408" stroke-opacity="0.85" stroke-width="0.54" stroke-linejoin="round"/>
<polygon points="268.9,59.3 272.3,58.4 268.8,56.6 265.3,57.5" fill="#f25023" stroke="#f25023" stroke-width="0.5" stroke-linejoin="round"/>
<polygon points="265.3,57.5 268.8,56.6 265.2,55 261.7,55.9" fill="#f14c22" stroke="#f14c22" stroke-width="0.5" stroke-linejoin="round"/>
<polygon points="272.3,58.4 275.8,57.6 272.3,55.8 268.8,56.6" fill="#f24f23" stroke="#f24f23" stroke-width="0.5" stroke-linejoin="round"/>
<polygon points="268.8,56.6 272.3,55.8 268.7,54.1 265.2,55" fill="#f14b22" stroke="#f14b22" stroke-width="0.5" stroke-linejoin="round"/>
<polygon points="268.9,59.3 275.8,57.6 268.7,54.1 261.7,55.9" fill="none" stroke="#141408" stroke-opacity="0.85" stroke-width="0.70" stroke-linejoin="round"/>
<polygon points="197.7,62.3 201.2,60.6 197.6,60.5 194.1,62.1" fill="#f97a28" stroke="#f97a28" stroke-width="0.5" stroke-linejoin="round"/>
<polygon points="194.1,62.1 197.6,60.5 194,60.5 190.5,62.2" fill="#f98129" stroke="#f98129" stroke-width="0.5" stroke-linejoin="round"/>
<polygon points="201.2,60.6 204.7,59 201.1,58.8 197.6,60.5" fill="#f87227" stroke="#f87227" stroke-width="0.5" stroke-linejoin="round"/>
<polygon points="197.6,60.5 201.1,58.8 197.5,58.9 194,60.5" fill="#f97a28" stroke="#f97a28" stroke-width="0.5" stroke-linejoin="round"/>
<polygon points="197.7,62.3 204.7,59 197.5,58.9 190.5,62.2" fill="none" stroke="#141408" stroke-opacity="0.85" stroke-width="0.58" stroke-linejoin="round"/>
<polygon points="113,98.5 116.4,95.9 112.9,97.2 109.4,99.8" fill="#90f93f" stroke="#90f93f" stroke-width="0.5" stroke-linejoin="round"/>
<polygon points="109.4,99.8 112.9,97.2 109.3,98.7 105.9,101.3" fill="#83fa42" stroke="#83fa42" stroke-width="0.5" stroke-linejoin="round"/>
<polygon points="116.4,95.9 119.9,93.4 116.3,94.7 112.9,97.2" fill="#9af83d" stroke="#9af83d" stroke-width="0.5" stroke-linejoin="round"/>
<polygon points="112.9,97.2 116.3,94.7 112.8,96.2 109.3,98.7" fill="#8cf940" stroke="#8cf940" stroke-width="0.5" stroke-linejoin="round"/>
<polygon points="113,98.5 119.9,93.4 112.8,96.2 105.9,101.3" fill="none" stroke="#141408" stroke-opacity="0.85" stroke-width="0.47" stroke-linejoin="round"/>
<polygon points="148.1,79.8 151.6,77.6 148,78.4 144.5,80.6" fill="#f2ed2e" stroke="#f2ed2e" stroke-width="0.5" stroke-linejoin="round"/>
<polygon points="144.5,80.6 148,78.4 144.4,79.3 140.9,81.6" fill="#eef72d" stroke="#eef72d" stroke-width="0.5" stroke-linejoin="round"/>
<polygon points="151.6,77.6 155,75.4 151.5,76.2 148,78.4" fill="#f5e52f" stroke="#f5e52f" stroke-width="0.5" stroke-linejoin="round"/>
<polygon points="148,78.4 151.5,76.2 147.9,77.2 144.4,79.3" fill="#f1ef2e" stroke="#f1ef2e" stroke-width="0.5" stroke-linejoin="round"/>
<polygon points="148.1,79.8 155,75.4 147.9,77.2 140.9,81.6" fill="none" stroke="#141408" stroke-opacity="0.85" stroke-width="0.51" stroke-linejoin="round"/>
<polygon points="254.7,57.9 258.2,56.9 254.6,55.3 251.1,56.4" fill="#f14c22" stroke="#f14c22" stroke-width="0.5" stroke-linejoin="round"/>
<polygon points="251.1,56.4 254.6,55.3 251,54 247.5,55.1" fill="#f04922" stroke="#f04922" stroke-width="0.5" stroke-linejoin="round"/>
<polygon points="258.2,56.9 261.7,55.9 258.1,54.3 254.6,55.3" fill="#f04a22" stroke="#f04a22" stroke-width="0.5" stroke-linejoin="round"/>
<polygon points="254.6,55.3 258.1,54.3 254.5,53 251,54" fill="#ef4822" stroke="#ef4822" stroke-width="0.5" stroke-linejoin="round"/>
<polygon points="254.7,57.9 261.7,55.9 254.5,53 247.5,55.1" fill="none" stroke="#141408" stroke-opacity="0.85" stroke-width="0.69" stroke-linejoin="round"/>
<polygon points="212,59.7 215.5,58.2 211.9,57.7 208.4,59.3" fill="#f66125" stroke="#f66125" stroke-width="0.5" stroke-linejoin="round"/>
<polygon points="208.4,59.3 211.9,57.7 208.3,57.4 204.7,59" fill="#f66626" stroke="#f66626" stroke-width="0.5" stroke-linejoin="round"/>
<polygon points="215.5,58.2 219,56.7 215.4,56.2 211.9,57.7" fill="#f55b25" stroke="#f55b25" stroke-width="0.5" stroke-linejoin="round"/>
<polygon points="211.9,57.7 215.4,56.2 211.8,55.9 208.3,57.4" fill="#f55f25" stroke="#f55f25" stroke-width="0.5" stroke-linejoin="round"/>
<polygon points="212,59.7 219,56.7 211.8,55.9 204.7,59" fill="none" stroke="#141408" stroke-opacity="0.85" stroke-width="0.61" stroke-linejoin="round"/>
<polygon points="240.5,57.5 244,56.3 240.4,55.1 236.9,56.4" fill="#f14d23" stroke="#f14d23" stroke-width="0.5" stroke-linejoin="round"/>
<polygon points="236.9,56.4 240.4,55.1 236.8,54.1 233.3,55.4" fill="#f14c22" stroke="#f14c22" stroke-width="0.5" stroke-linejoin="round"/>
<polygon points="244,56.3 247.5,55.1 243.9,53.9 240.4,55.1" fill="#f04a22" stroke="#f04a22" stroke-width="0.5" stroke-linejoin="round"/>
<polygon points="240.4,55.1 243.9,53.9 240.3,52.9 236.8,54.1" fill="#f04922" stroke="#f04922" stroke-width="0.5" stroke-linejoin="round"/>
<polygon points="240.5,57.5 247.5,55.1 240.3,52.9 233.3,55.4" fill="none" stroke="#141408" stroke-opacity="0.85" stroke-width="0.67" stroke-linejoin="round"/>
<polygon points="226.2,58.1 229.8,56.7 226.1,55.9 222.6,57.3" fill="#f35223" stroke="#f35223" stroke-width="0.5" stroke-linejoin="round"/>
<polygon points="222.6,57.3 226.1,55.9 222.5,55.2 219,56.7" fill="#f35324" stroke="#f35324" stroke-width="0.5" stroke-linejoin="round"/>
<polygon points="229.8,56.7 233.3,55.4 229.6,54.5 226.1,55.9" fill="#f24f23" stroke="#f24f23" stroke-width="0.5" stroke-linejoin="round"/>
<polygon points="226.1,55.9 229.6,54.5 226,53.9 222.5,55.2" fill="#f25023" stroke="#f25023" stroke-width="0.5" stroke-linejoin="round"/>
<polygon points="226.2,58.1 233.3,55.4 226,53.9 219,56.7" fill="none" stroke="#141408" stroke-opacity="0.85" stroke-width="0.64" stroke-linejoin="round"/>
<polygon points="92.1,112.1 95.5,109.3 92,111 88.6,113.7" fill="#5ffa5b" stroke="#5ffa5b" stroke-width="0.5" stroke-linejoin="round"/>
<polygon points="88.6,113.7 92,111 88.5,112.7 85.1,115.5" fill="#5dfa6d" stroke="#5dfa6d" stroke-width="0.5" stroke-linejoin="round"/>
<polygon points="95.5,109.3 99,106.6 95.5,108.3 92,111" fill="#65fa56" stroke="#65fa56" stroke-width="0.5" stroke-linejoin="round"/>
<polygon points="92,111 95.5,108.3 92,110 88.5,112.7" fill="#5efa60" stroke="#5efa60" stroke-width="0.5" stroke-linejoin="round"/>
<polygon points="92.1,112.1 99,106.6 92,110 85.1,115.5" fill="none" stroke="#141408" stroke-opacity="0.85" stroke-width="0.45" stroke-linejoin="round"/>
<polygon points="162.2,74.3 165.7,72.2 162.1,72.7 158.6,74.8" fill="#facc31" stroke="#facc31" stroke-width="0.5" stroke-linejoin="round"/>
<polygon points="158.6,74.8 162.1,72.7 158.5,73.3 155,75.4" fill="#fad530" stroke="#fad530" stroke-width="0.5" stroke-linejoin="round"/>
<polygon points="165.7,72.2 169.2,70.2 165.6,70.7 162.1,72.7" fill="#fac532" stroke="#fac532" stroke-width="0.5" stroke-linejoin="round"/>
<polygon points="162.1,72.7 165.6,70.7 162,71.3 158.5,73.3" fill="#face31" stroke="#face31" stroke-width="0.5" stroke-linejoin="round"/>
<polygon points="162.2,74.3 169.2,70.2 162,71.3 155,75.4" fill="none" stroke="#141408" stroke-opacity="0.85" stroke-width="0.54" stroke-linejoin="round"/>
<polygon points="71.4,127 74.9,124 71.4,125.8 68,128.8" fill="#58fac1" stroke="#58fac1" stroke-width="0.5" stroke-linejoin="round"/>
<polygon points="68,128.8 71.4,125.8 67.9,127.9 64.5,130.8" fill="#56fad7" stroke="#56fad7" stroke-width="0.5" stroke-linejoin="round"/>
<polygon points="74.9,124 78.3,121.1 74.8,123 71.4,125.8" fill="#59faae" stroke="#59faae" stroke-width="0.5" stroke-linejoin="round"/>
<polygon points="71.4,125.8 74.8,123 71.3,125 67.9,127.9" fill="#57fac7" stroke="#57fac7" stroke-width="0.5" stroke-linejoin="round"/>
<polygon points="71.4,127 78.3,121.1 71.3,125 64.5,130.8" fill="none" stroke="#141408" stroke-opacity="0.85" stroke-width="0.45" stroke-linejoin="round"/>
<polygon points="127,91.1 130.5,88.6 126.9,89.7 123.4,92.2" fill="#c1f93b" stroke="#c1f93b" stroke-width="0.5" stroke-linejoin="round"/>
<polygon points="123.4,92.2 126.9,89.7 123.3,90.9 119.9,93.4" fill="#b3f93b" stroke="#b3f93b" stroke-width="0.5" stroke-linejoin="round"/>
<polygon points="130.5,88.6 133.9,86.2 130.4,87.3 126.9,89.7" fill="#cbfa3a" stroke="#cbfa3a" stroke-width="0.5" stroke-linejoin="round"/>
<polygon points="126.9,89.7 130.4,87.3 126.8,88.5 123.3,90.9" fill="#bdf93b" stroke="#bdf93b" stroke-width="0.5" stroke-linejoin="round"/>
<polygon points="127,91.1 133.9,86.2 126.8,88.5 119.9,93.4" fill="none" stroke="#141408" stroke-opacity="0.85" stroke-width="0.51" stroke-linejoin="round"/>
<polygon points="176.5,69.6 180,67.7 176.4,67.8 172.8,69.8" fill="#faad32" stroke="#faad32" stroke-width="0.5" stroke-linejoin="round"/>
<polygon points="172.8,69.8 176.4,67.8 172.7,68.2 169.2,70.2" fill="#fab532" stroke="#fab532" stroke-width="0.5" stroke-linejoin="round"/>
<polygon points="180,67.7 183.5,65.8 179.9,66 176.4,67.8" fill="#faa430" stroke="#faa430" stroke-width="0.5" stroke-linejoin="round"/>
<polygon points="176.4,67.8 179.9,66 176.2,66.3 172.7,68.2" fill="#faae32" stroke="#faae32" stroke-width="0.5" stroke-linejoin="round"/>
<polygon points="176.5,69.6 183.5,65.8 176.2,66.3 169.2,70.2" fill="none" stroke="#141408" stroke-opacity="0.85" stroke-width="0.57" stroke-linejoin="round"/>
<polygon points="106,103.8 109.5,101.1 106,102.5 102.5,105.1" fill="#7efa45" stroke="#7efa45" stroke-width="0.5" stroke-linejoin="round"/>
<polygon points="102.5,105.1 106,102.5 102.4,103.9 99,106.6" fill="#76fa4b" stroke="#76fa4b" stroke-width="0.5" stroke-linejoin="round"/>
<polygon points="109.5,101.1 113,98.5 109.4,99.8 106,102.5" fill="#86fa41" stroke="#86fa41" stroke-width="0.5" stroke-linejoin="round"/>
<polygon points="106,102.5 109.4,99.8 105.9,101.3 102.4,103.9" fill="#7cfa46" stroke="#7cfa46" stroke-width="0.5" stroke-linejoin="round"/>
<polygon points="106,103.8 113,98.5 105.9,101.3 99,106.6" fill="none" stroke="#141408" stroke-opacity="0.85" stroke-width="0.49" stroke-linejoin="round"/>
<polygon points="276,63 279.5,62.1 275.9,60.2 272.4,61.1" fill="#f55f25" stroke="#f55f25" stroke-width="0.5" stroke-linejoin="round"/>
<polygon points="272.4,61.1 275.9,60.2 272.3,58.4 268.9,59.3" fill="#f45624" stroke="#f45624" stroke-width="0.5" stroke-linejoin="round"/>
<polygon points="279.5,62.1 283,61.3 279.4,59.4 275.9,60.2" fill="#f55e25" stroke="#f55e25" stroke-width="0.5" stroke-linejoin="round"/>
<polygon points="275.9,60.2 279.4,59.4 275.8,57.6 272.3,58.4" fill="#f45424" stroke="#f45424" stroke-width="0.5" stroke-linejoin="round"/>
<polygon points="276,63 283,61.3 275.8,57.6 268.9,59.3" fill="none" stroke="#141408" stroke-opacity="0.85" stroke-width="0.72" stroke-linejoin="round"/>
<polygon points="141.1,84.5 144.6,82.1 141,82.9 137.5,85.3" fill="#e9f82f" stroke="#e9f82f" stroke-width="0.5" stroke-linejoin="round"/>
<polygon points="137.5,85.3 141,82.9 137.4,83.8 133.9,86.2" fill="#dff933" stroke="#dff933" stroke-width="0.5" stroke-linejoin="round"/>
<polygon points="144.6,82.1 148.1,79.8 144.5,80.6 141,82.9" fill="#eff52d" stroke="#eff52d" stroke-width="0.5" stroke-linejoin="round"/>
<polygon points="141,82.9 144.5,80.6 140.9,81.6 137.4,83.8" fill="#e7f830" stroke="#e7f830" stroke-width="0.5" stroke-linejoin="round"/>
<polygon points="141.1,84.5 148.1,79.8 140.9,81.6 133.9,86.2" fill="none" stroke="#141408" stroke-opacity="0.85" stroke-width="0.54" stroke-linejoin="round"/>
<polygon points="190.7,65.9 194.2,64.1 190.6,63.9 187.1,65.7" fill="#f98a2b" stroke="#f98a2b" stroke-width="0.5" stroke-linejoin="round"/>
<polygon points="187.1,65.7 190.6,63.9 187,63.9 183.5,65.8" fill="#f9922d" stroke="#f9922d" stroke-width="0.5" stroke-linejoin="round"/>
<polygon points="194.2,64.1 197.7,62.3 194.1,62.1 190.6,63.9" fill="#f98229" stroke="#f98229" stroke-width="0.5" stroke-linejoin="round"/>
<polygon points="190.6,63.9 194.1,62.1 190.5,62.2 187,63.9" fill="#f9892b" stroke="#f9892b" stroke-width="0.5" stroke-linejoin="round"/>
<polygon points="190.7,65.9 197.7,62.3 190.5,62.2 183.5,65.8" fill="none" stroke="#141408" stroke-opacity="0.85" stroke-width="0.60" stroke-linejoin="round"/>
<polygon points="261.9,61.3 265.4,60.2 261.8,58.5 258.3,59.6" fill="#f45424" stroke="#f45424" stroke-width="0.5" stroke-linejoin="round"/>
<polygon points="258.3,59.6 261.8,58.5 258.2,56.9 254.7,57.9" fill="#f24f23" stroke="#f24f23" stroke-width="0.5" stroke-linejoin="round"/>
<polygon points="265.4,60.2 268.9,59.3 265.3,57.5 261.8,58.5" fill="#f35223" stroke="#f35223" stroke-width="0.5" stroke-linejoin="round"/>
<polygon points="261.8,58.5 265.3,57.5 261.7,55.9 258.2,56.9" fill="#f14d23" stroke="#f14d23" stroke-width="0.5" stroke-linejoin="round"/>
<polygon points="261.9,61.3 268.9,59.3 261.7,55.9 254.7,57.9" fill="none" stroke="#141408" stroke-opacity="0.85" stroke-width="0.72" stroke-linejoin="round"/>
<polygon points="205,63.1 208.5,61.4 204.9,60.9 201.3,62.6" fill="#f76f27" stroke="#f76f27" stroke-width="0.5" stroke-linejoin="round"/>
<polygon points="201.3,62.6 204.9,60.9 201.2,60.6 197.7,62.3" fill="#f87427" stroke="#f87427" stroke-width="0.5" stroke-linejoin="round"/>
<polygon points="208.5,61.4 212,59.7 208.4,59.3 204.9,60.9" fill="#f66826" stroke="#f66826" stroke-width="0.5" stroke-linejoin="round"/>
<polygon points="204.9,60.9 208.4,59.3 204.7,59 201.2,60.6" fill="#f76c26" stroke="#f76c26" stroke-width="0.5" stroke-linejoin="round"/>
<polygon points="205,63.1 212,59.7 204.7,59 197.7,62.3" fill="none" stroke="#141408" stroke-opacity="0.85" stroke-width="0.63" stroke-linejoin="round"/>
<polygon points="85.3,117.8 88.7,114.9 85.2,116.5 81.8,119.4" fill="#5dfa76" stroke="#5dfa76" stroke-width="0.5" stroke-linejoin="round"/>
<polygon points="81.8,119.4 85.2,116.5 81.7,118.3 78.3,121.1" fill="#5bfa88" stroke="#5bfa88" stroke-width="0.5" stroke-linejoin="round"/>
<polygon points="88.7,114.9 92.1,112.1 88.6,113.7 85.2,116.5" fill="#5efa68" stroke="#5efa68" stroke-width="0.5" stroke-linejoin="round"/>
<polygon points="85.2,116.5 88.6,113.7 85.1,115.5 81.7,118.3" fill="#5cfa7a" stroke="#5cfa7a" stroke-width="0.5" stroke-linejoin="round"/>
<polygon points="85.3,117.8 92.1,112.1 85.1,115.5 78.3,121.1" fill="none" stroke="#141408" stroke-opacity="0.85" stroke-width="0.47" stroke-linejoin="round"/>
<polygon points="247.7,60.3 251.2,59.1 247.6,57.6 244.1,58.8" fill="#f35123" stroke="#f35123" stroke-width="0.5" stroke-linejoin="round"/>
<polygon points="244.1,58.8 247.6,57.6 244,56.3 240.5,57.5" fill="#f24e23" stroke="#f24e23" stroke-width="0.5" stroke-linejoin="round"/>
<polygon points="251.2,59.1 254.7,57.9 251.1,56.4 247.6,57.6" fill="#f24e23" stroke="#f24e23" stroke-width="0.5" stroke-linejoin="round"/>
<polygon points="247.6,57.6 251.1,56.4 247.5,55.1 244,56.3" fill="#f14c22" stroke="#f14c22" stroke-width="0.5" stroke-linejoin="round"/>
<polygon points="247.7,60.3 254.7,57.9 247.5,55.1 240.5,57.5" fill="none" stroke="#141408" stroke-opacity="0.85" stroke-width="0.71" stroke-linejoin="round"/>
<polygon points="219.2,61.2 222.7,59.6 219.1,58.8 215.6,60.4" fill="#f55c25" stroke="#f55c25" stroke-width="0.5" stroke-linejoin="round"/>
<polygon points="215.6,60.4 219.1,58.8 215.5,58.2 212,59.7" fill="#f55e25" stroke="#f55e25" stroke-width="0.5" stroke-linejoin="round"/>
<polygon points="222.7,59.6 226.2,58.1 222.6,57.3 219.1,58.8" fill="#f45624" stroke="#f45624" stroke-width="0.5" stroke-linejoin="round"/>
<polygon points="219.1,58.8 222.6,57.3 219,56.7 215.5,58.2" fill="#f45824" stroke="#f45824" stroke-width="0.5" stroke-linejoin="round"/>
<polygon points="219.2,61.2 226.2,58.1 219,56.7 212,59.7" fill="none" stroke="#141408" stroke-opacity="0.85" stroke-width="0.66" stroke-linejoin="round"/>
<polygon points="233.5,60.3 237,58.8 233.4,57.7 229.9,59.1" fill="#f35324" stroke="#f35324" stroke-width="0.5" stroke-linejoin="round"/>
<polygon points="229.9,59.1 233.4,57.7 229.8,56.7 226.2,58.1" fill="#f35223" stroke="#f35223" stroke-width="0.5" stroke-linejoin="round"/>
<polygon points="237,58.8 240.5,57.5 236.9,56.4 233.4,57.7" fill="#f24f23" stroke="#f24f23" stroke-width="0.5" stroke-linejoin="round"/>
<polygon points="233.4,57.7 236.9,56.4 233.3,55.4 229.8,56.7" fill="#f24f23" stroke="#f24f23" stroke-width="0.5" stroke-linejoin="round"/>
<polygon points="233.5,60.3 240.5,57.5 233.3,55.4 226.2,58.1" fill="none" stroke="#141408" stroke-opacity="0.85" stroke-width="0.69" stroke-linejoin="round"/>
<polygon points="64.6,133.1 68,130 64.6,131.8 61.2,134.9" fill="#55fae2" stroke="#55fae2" stroke-width="0.5" stroke-linejoin="round"/>
<polygon points="61.2,134.9 64.6,131.8 61.1,133.8 57.7,136.8" fill="#55f1ec" stroke="#55f1ec" stroke-width="0.5" stroke-linejoin="round"/>
<polygon points="68,130 71.4,127 68,128.8 64.6,131.8" fill="#56fad1" stroke="#56fad1" stroke-width="0.5" stroke-linejoin="round"/>
<polygon points="64.6,131.8 68,128.8 64.5,130.8 61.1,133.8" fill="#55f8e4" stroke="#55f8e4" stroke-width="0.5" stroke-linejoin="round"/>
<polygon points="64.6,133.1 71.4,127 64.5,130.8 57.7,136.8" fill="none" stroke="#141408" stroke-opacity="0.85" stroke-width="0.47" stroke-linejoin="round"/>
<polygon points="155.3,78.7 158.7,76.5 155.1,76.9 151.7,79.2" fill="#f9dc30" stroke="#f9dc30" stroke-width="0.5" stroke-linejoin="round"/>
<polygon points="151.7,79.2 155.1,76.9 151.6,77.6 148.1,79.8" fill="#f6e42f" stroke="#f6e42f" stroke-width="0.5" stroke-linejoin="round"/>
<polygon points="158.7,76.5 162.2,74.3 158.6,74.8 155.1,76.9" fill="#fad431" stroke="#fad431" stroke-width="0.5" stroke-linejoin="round"/>
<polygon points="155.1,76.9 158.6,74.8 155,75.4 151.6,77.6" fill="#f9dc30" stroke="#f9dc30" stroke-width="0.5" stroke-linejoin="round"/>
<polygon points="155.3,78.7 162.2,74.3 155,75.4 148.1,79.8" fill="none" stroke="#141408" stroke-opacity="0.85" stroke-width="0.57" stroke-linejoin="round"/>
<polygon points="120.1,96.2 123.5,93.6 120,94.7 116.5,97.3" fill="#aaf83c" stroke="#aaf83c" stroke-width="0.5" stroke-linejoin="round"/>
<polygon points="116.5,97.3 120,94.7 116.4,95.9 113,98.5" fill="#9df83d" stroke="#9df83d" stroke-width="0.5" stroke-linejoin="round"/>
<polygon points="123.5,93.6 127,91.1 123.4,92.2 120,94.7" fill="#b6f93b" stroke="#b6f93b" stroke-width="0.5" stroke-linejoin="round"/>
<polygon points="120,94.7 123.4,92.2 119.9,93.4 116.4,95.9" fill="#a8f83c" stroke="#a8f83c" stroke-width="0.5" stroke-linejoin="round"/>
<polygon points="120.1,96.2 127,91.1 119.9,93.4 113,98.5" fill="none" stroke="#141408" stroke-opacity="0.85" stroke-width="0.53" stroke-linejoin="round"/>
<polygon points="169.5,73.8 173,71.7 169.3,71.8 165.8,74" fill="#fabd32" stroke="#fabd32" stroke-width="0.5" stroke-linejoin="round"/>
<polygon points="165.8,74 169.3,71.8 165.7,72.2 162.2,74.3" fill="#fac532" stroke="#fac532" stroke-width="0.5" stroke-linejoin="round"/>
<polygon points="173,71.7 176.5,69.6 172.8,69.8 169.3,71.8" fill="#fab532" stroke="#fab532" stroke-width="0.5" stroke-linejoin="round"/>
<polygon points="169.3,71.8 172.8,69.8 169.2,70.2 165.7,72.2" fill="#fabd32" stroke="#fabd32" stroke-width="0.5" stroke-linejoin="round"/>
<polygon points="169.5,73.8 176.5,69.6 169.2,70.2 162.2,74.3" fill="none" stroke="#141408" stroke-opacity="0.85" stroke-width="0.60" stroke-linejoin="round"/>
<polygon points="99.2,109.3 102.6,106.5 99.1,107.9 95.6,110.6" fill="#70fa4e" stroke="#70fa4e" stroke-width="0.5" stroke-linejoin="round"/>
<polygon points="95.6,110.6 99.1,107.9 95.5,109.3 92.1,112.1" fill="#68fa54" stroke="#68fa54" stroke-width="0.5" stroke-linejoin="round"/>
<polygon points="102.6,106.5 106,103.8 102.5,105.1 99.1,107.9" fill="#77fa49" stroke="#77fa49" stroke-width="0.5" stroke-linejoin="round"/>
<polygon points="99.1,107.9 102.5,105.1 99,106.6 95.5,109.3" fill="#6ffa4f" stroke="#6ffa4f" stroke-width="0.5" stroke-linejoin="round"/>
<polygon points="99.2,109.3 106,103.8 99,106.6 92.1,112.1" fill="none" stroke="#141408" stroke-opacity="0.85" stroke-width="0.51" stroke-linejoin="round"/>
<polygon points="283.1,67.1 286.6,66.2 283.1,64.1 279.6,65" fill="#f87728" stroke="#f87728" stroke-width="0.5" stroke-linejoin="round"/>
<polygon points="279.6,65 283.1,64.1 279.5,62.1 276,63" fill="#f76b26" stroke="#f76b26" stroke-width="0.5" stroke-linejoin="round"/>
<polygon points="286.6,66.2 290.1,65.3 286.5,63.3 283.1,64.1" fill="#f87527" stroke="#f87527" stroke-width="0.5" stroke-linejoin="round"/>
<polygon points="283.1,64.1 286.5,63.3 283,61.3 279.5,62.1" fill="#f76926" stroke="#f76926" stroke-width="0.5" stroke-linejoin="round"/>
<polygon points="283.1,67.1 290.1,65.3 283,61.3 276,63" fill="none" stroke="#141408" stroke-opacity="0.85" stroke-width="0.74" stroke-linejoin="round"/>
<polygon points="134.1,89.4 137.6,86.9 134,87.7 130.6,90.2" fill="#d7f936" stroke="#d7f936" stroke-width="0.5" stroke-linejoin="round"/>
<polygon points="130.6,90.2 134,87.7 130.5,88.6 127,91.1" fill="#cdfa3a" stroke="#cdfa3a" stroke-width="0.5" stroke-linejoin="round"/>
<polygon points="137.6,86.9 141.1,84.5 137.5,85.3 134,87.7" fill="#e0f932" stroke="#e0f932" stroke-width="0.5" stroke-linejoin="round"/>
<polygon points="134,87.7 137.5,85.3 133.9,86.2 130.5,88.6" fill="#d6f936" stroke="#d6f936" stroke-width="0.5" stroke-linejoin="round"/>
<polygon points="134.1,89.4 141.1,84.5 133.9,86.2 127,91.1" fill="none" stroke="#141408" stroke-opacity="0.85" stroke-width="0.56" stroke-linejoin="round"/>
<polygon points="183.7,69.8 187.2,67.8 183.6,67.7 180.1,69.6" fill="#fa9d2f" stroke="#fa9d2f" stroke-width="0.5" stroke-linejoin="round"/>
<polygon points="180.1,69.6 183.6,67.7 180,67.7 176.5,69.6" fill="#faa530" stroke="#faa530" stroke-width="0.5" stroke-linejoin="round"/>
<polygon points="187.2,67.8 190.7,65.9 187.1,65.7 183.6,67.7" fill="#f9942d" stroke="#f9942d" stroke-width="0.5" stroke-linejoin="round"/>
<polygon points="183.6,67.7 187.1,65.7 183.5,65.8 180,67.7" fill="#fa9b2e" stroke="#fa9b2e" stroke-width="0.5" stroke-linejoin="round"/>
<polygon points="183.7,69.8 190.7,65.9 183.5,65.8 176.5,69.6" fill="none" stroke="#141408" stroke-opacity="0.85" stroke-width="0.63" stroke-linejoin="round"/>
<polygon points="78.4,123.7 81.8,120.7 78.3,122.3 74.9,125.3" fill="#5afa92" stroke="#5afa92" stroke-width="0.5" stroke-linejoin="round"/>
<polygon points="74.9,125.3 78.3,122.3 74.9,124 71.4,127" fill="#59faa9" stroke="#59faa9" stroke-width="0.5" stroke-linejoin="round"/>
<polygon points="81.8,120.7 85.3,117.8 81.8,119.4 78.3,122.3" fill="#5cfa84" stroke="#5cfa84" stroke-width="0.5" stroke-linejoin="round"/>
<polygon points="78.3,122.3 81.8,119.4 78.3,121.1 74.9,124" fill="#5afa96" stroke="#5afa96" stroke-width="0.5" stroke-linejoin="round"/>
<polygon points="78.4,123.7 85.3,117.8 78.3,121.1 71.4,127" fill="none" stroke="#141408" stroke-opacity="0.85" stroke-width="0.51" stroke-linejoin="round"/>
<polygon points="269,65.1 272.5,64 268.9,62.1 265.5,63.1" fill="#f66526" stroke="#f66526" stroke-width="0.5" stroke-linejoin="round"/>
<polygon points="265.5,63.1 268.9,62.1 265.4,60.2 261.9,61.3" fill="#f55b25" stroke="#f55b25" stroke-width="0.5" stroke-linejoin="round"/>
<polygon points="272.5,64 276,63 272.4,61.1 268.9,62.1" fill="#f66225" stroke="#f66225" stroke-width="0.5" stroke-linejoin="round"/>
<polygon points="268.9,62.1 272.4,61.1 268.9,59.3 265.4,60.2" fill="#f45824" stroke="#f45824" stroke-width="0.5" stroke-linejoin="round"/>
<polygon points="269,65.1 276,63 268.9,59.3 261.9,61.3" fill="none" stroke="#141408" stroke-opacity="0.85" stroke-width="0.74" stroke-linejoin="round"/>
<polygon points="197.9,66.7 201.5,64.8 197.8,64.4 194.3,66.2" fill="#f98029" stroke="#f98029" stroke-width="0.5" stroke-linejoin="round"/>
<polygon points="194.3,66.2 197.8,64.4 194.2,64.1 190.7,65.9" fill="#f9842a" stroke="#f9842a" stroke-width="0.5" stroke-linejoin="round"/>
<polygon points="201.5,64.8 205,63.1 201.3,62.6 197.8,64.4" fill="#f87728" stroke="#f87728" stroke-width="0.5" stroke-linejoin="round"/>
<polygon points="197.8,64.4 201.3,62.6 197.7,62.3 194.2,64.1" fill="#f97c28" stroke="#f97c28" stroke-width="0.5" stroke-linejoin="round"/>
<polygon points="197.9,66.7 205,63.1 197.7,62.3 190.7,65.9" fill="none" stroke="#141408" stroke-opacity="0.85" stroke-width="0.65" stroke-linejoin="round"/>
<polygon points="57.9,139.6 61.3,136.3 57.8,138.1 54.4,141.3" fill="#55ecf2" stroke="#55ecf2" stroke-width="0.5" stroke-linejoin="round"/>
<polygon points="54.4,141.3 57.8,138.1 54.4,140 51,143.2" fill="#59dff6" stroke="#59dff6" stroke-width="0.5" stroke-linejoin="round"/>
<polygon points="61.3,136.3 64.6,133.1 61.2,134.9 57.8,138.1" fill="#55f3ea" stroke="#55f3ea" stroke-width="0.5" stroke-linejoin="round"/>
<polygon points="57.8,138.1 61.2,134.9 57.7,136.8 54.4,140" fill="#56eaf3" stroke="#56eaf3" stroke-width="0.5" stroke-linejoin="round"/>
<polygon points="57.9,139.6 64.6,133.1 57.7,136.8 51,143.2" fill="none" stroke="#141408" stroke-opacity="0.85" stroke-width="0.51" stroke-linejoin="round"/>
<polygon points="254.9,63.7 258.4,62.4 254.8,60.7 251.3,61.9" fill="#f55a25" stroke="#f55a25" stroke-width="0.5" stroke-linejoin="round"/>
<polygon points="251.3,61.9 254.8,60.7 251.2,59.1 247.7,60.3" fill="#f45424" stroke="#f45424" stroke-width="0.5" stroke-linejoin="round"/>
<polygon points="258.4,62.4 261.9,61.3 258.3,59.6 254.8,60.7" fill="#f45624" stroke="#f45624" stroke-width="0.5" stroke-linejoin="round"/>
<polygon points="254.8,60.7 258.3,59.6 254.7,57.9 251.2,59.1" fill="#f35123" stroke="#f35123" stroke-width="0.5" stroke-linejoin="round"/>
<polygon points="254.9,63.7 261.9,61.3 254.7,57.9 247.7,60.3" fill="none" stroke="#141408" stroke-opacity="0.85" stroke-width="0.74" stroke-linejoin="round"/>
<polygon points="212.2,64.5 215.7,62.8 212.1,62 208.6,63.7" fill="#f76b26" stroke="#f76b26" stroke-width="0.5" stroke-linejoin="round"/>
<polygon points="208.6,63.7 212.1,62 208.5,61.4 205,63.1" fill="#f76c26" stroke="#f76c26" stroke-width="0.5" stroke-linejoin="round"/>
<polygon points="215.7,62.8 219.2,61.2 215.6,60.4 212.1,62" fill="#f66325" stroke="#f66325" stroke-width="0.5" stroke-linejoin="round"/>
<polygon points="212.1,62 215.6,60.4 212,59.7 208.5,61.4" fill="#f66526" stroke="#f66526" stroke-width="0.5" stroke-linejoin="round"/>
<polygon points="212.2,64.5 219.2,61.2 212,59.7 205,63.1" fill="none" stroke="#141408" stroke-opacity="0.85" stroke-width="0.68" stroke-linejoin="round"/>
<polygon points="240.7,63 244.2,61.6 240.6,60.2 237.1,61.6" fill="#f45824" stroke="#f45824" stroke-width="0.5" stroke-linejoin="round"/>
<polygon points="237.1,61.6 240.6,60.2 237,58.8 233.5,60.3" fill="#f45424" stroke="#f45424" stroke-width="0.5" stroke-linejoin="round"/>
<polygon points="244.2,61.6 247.7,60.3 244.1,58.8 240.6,60.2" fill="#f35424" stroke="#f35424" stroke-width="0.5" stroke-linejoin="round"/>
<polygon points="240.6,60.2 244.1,58.8 240.5,57.5 237,58.8" fill="#f35123" stroke="#f35123" stroke-width="0.5" stroke-linejoin="round"/>
<polygon points="240.7,63 247.7,60.3 240.5,57.5 233.5,60.3" fill="none" stroke="#141408" stroke-opacity="0.85" stroke-width="0.73" stroke-linejoin="round"/>
<polygon points="113.1,101.6 116.6,98.9 113,99.9 109.6,102.6" fill="#95f93e" stroke="#95f93e" stroke-width="0.5" stroke-linejoin="round"/>
<polygon points="109.6,102.6 113,99.9 109.5,101.1 106,103.8" fill="#89fa41" stroke="#89fa41" stroke-width="0.5" stroke-linejoin="round"/>
<polygon points="116.6,98.9 120.1,96.2 116.5,97.3 113,99.9" fill="#9ff83c" stroke="#9ff83c" stroke-width="0.5" stroke-linejoin="round"/>
<polygon points="113,99.9 116.5,97.3 113,98.5 109.5,101.1" fill="#93f93f" stroke="#93f93f" stroke-width="0.5" stroke-linejoin="round"/>
<polygon points="113.1,101.6 120.1,96.2 113,98.5 106,103.8" fill="none" stroke="#141408" stroke-opacity="0.85" stroke-width="0.55" stroke-linejoin="round"/>
<polygon points="148.3,83.4 151.8,81 148.2,81.5 144.7,83.9" fill="#f3ec2e" stroke="#f3ec2e" stroke-width="0.5" stroke-linejoin="round"/>
<polygon points="144.7,83.9 148.2,81.5 144.6,82.1 141.1,84.5" fill="#f0f42d" stroke="#f0f42d" stroke-width="0.5" stroke-linejoin="round"/>
<polygon points="151.8,81 155.3,78.7 151.7,79.2 148.2,81.5" fill="#f6e32f" stroke="#f6e32f" stroke-width="0.5" stroke-linejoin="round"/>
<polygon points="148.2,81.5 151.7,79.2 148.1,79.8 144.6,82.1" fill="#f3ec2e" stroke="#f3ec2e" stroke-width="0.5" stroke-linejoin="round"/>
<polygon points="148.3,83.4 155.3,78.7 148.1,79.8 141.1,84.5" fill="none" stroke="#141408" stroke-opacity="0.85" stroke-width="0.59" stroke-linejoin="round"/>
<polygon points="226.5,63.3 230,61.7 226.4,60.6 222.8,62.1" fill="#f55d25" stroke="#f55d25" stroke-width="0.5" stroke-linejoin="round"/>
<polygon points="222.8,62.1 226.4,60.6 222.7,59.6 219.2,61.2" fill="#f55c25" stroke="#f55c25" stroke-width="0.5" stroke-linejoin="round"/>
<polygon points="230,61.7 233.5,60.3 229.9,59.1 226.4,60.6" fill="#f45724" stroke="#f45724" stroke-width="0.5" stroke-linejoin="round"/>
<polygon points="226.4,60.6 229.9,59.1 226.2,58.1 222.7,59.6" fill="#f45624" stroke="#f45624" stroke-width="0.5" stroke-linejoin="round"/>
<polygon points="226.5,63.3 233.5,60.3 226.2,58.1 219.2,61.2" fill="none" stroke="#141408" stroke-opacity="0.85" stroke-width="0.70" stroke-linejoin="round"/>
<polygon points="92.3,115.1 95.7,112.2 92.2,113.5 88.8,116.4" fill="#61fa58" stroke="#61fa58" stroke-width="0.5" stroke-linejoin="round"/>
<polygon points="88.8,116.4 92.2,113.5 88.7,114.9 85.3,117.8" fill="#5efa65" stroke="#5efa65" stroke-width="0.5" stroke-linejoin="round"/>
<polygon points="95.7,112.2 99.2,109.3 95.6,110.6 92.2,113.5" fill="#69fa53" stroke="#69fa53" stroke-width="0.5" stroke-linejoin="round"/>
<polygon points="92.2,113.5 95.6,110.6 92.1,112.1 88.7,114.9" fill="#60fa59" stroke="#60fa59" stroke-width="0.5" stroke-linejoin="round"/>
<polygon points="92.3,115.1 99.2,109.3 92.1,112.1 85.3,117.8" fill="none" stroke="#141408" stroke-opacity="0.85" stroke-width="0.54" stroke-linejoin="round"/>
<polygon points="162.5,78.2 166,76 162.4,76.1 158.9,78.4" fill="#facd31" stroke="#facd31" stroke-width="0.5" stroke-linejoin="round"/>
<polygon points="158.9,78.4 162.4,76.1 158.7,76.5 155.3,78.7" fill="#fad431" stroke="#fad431" stroke-width="0.5" stroke-linejoin="round"/>
<polygon points="166,76 169.5,73.8 165.8,74 162.4,76.1" fill="#fac532" stroke="#fac532" stroke-width="0.5" stroke-linejoin="round"/>
<polygon points="162.4,76.1 165.8,74 162.2,74.3 158.7,76.5" fill="#facc31" stroke="#facc31" stroke-width="0.5" stroke-linejoin="round"/>
<polygon points="162.5,78.2 169.5,73.8 162.2,74.3 155.3,78.7" fill="none" stroke="#141408" stroke-opacity="0.85" stroke-width="0.62" stroke-linejoin="round"/>
<polygon points="290.2,71.5 293.7,70.5 290.2,68.3 286.7,69.3" fill="#fa952d" stroke="#fa952d" stroke-width="0.5" stroke-linejoin="round"/>
<polygon points="286.7,69.3 290.2,68.3 286.6,66.2 283.1,67.1" fill="#f9852a" stroke="#f9852a" stroke-width="0.5" stroke-linejoin="round"/>
<polygon points="293.7,70.5 297.2,69.6 293.6,67.4 290.2,68.3" fill="#f9932d" stroke="#f9932d" stroke-width="0.5" stroke-linejoin="round"/>
<polygon points="290.2,68.3 293.6,67.4 290.1,65.3 286.6,66.2" fill="#f9832a" stroke="#f9832a" stroke-width="0.5" stroke-linejoin="round"/>
<polygon points="290.2,71.5 297.2,69.6 290.1,65.3 283.1,67.1" fill="none" stroke="#141408" stroke-opacity="0.85" stroke-width="0.77" stroke-linejoin="round"/>
<polygon points="127.2,94.6 130.7,92 127.1,92.7 123.6,95.3" fill="#c3fa3a" stroke="#c3fa3a" stroke-width="0.5" stroke-linejoin="round"/>
<polygon points="123.6,95.3 127.1,92.7 123.5,93.6 120.1,96.2" fill="#b7f93b" stroke="#b7f93b" stroke-width="0.5" stroke-linejoin="round"/>
<polygon points="130.7,92 134.1,89.4 130.6,90.2 127.1,92.7" fill="#cefa3a" stroke="#cefa3a" stroke-width="0.5" stroke-linejoin="round"/>
<polygon points="127.1,92.7 130.6,90.2 127,91.1 123.5,93.6" fill="#c3fa3a" stroke="#c3fa3a" stroke-width="0.5" stroke-linejoin="round"/>
<polygon points="127.2,94.6 134.1,89.4 127,91.1 120.1,96.2" fill="none" stroke="#141408" stroke-opacity="0.85" stroke-width="0.58" stroke-linejoin="round"/>
<polygon points="71.6,130 75,126.8 71.5,128.3 68.1,131.5" fill="#58fab9" stroke="#58fab9" stroke-width="0.5" stroke-linejoin="round"/>
<polygon points="68.1,131.5 71.5,128.3 68,130 64.6,133.1" fill="#57facd" stroke="#57facd" stroke-width="0.5" stroke-linejoin="round"/>
<polygon points="75,126.8 78.4,123.7 74.9,125.3 71.5,128.3" fill="#59faa5" stroke="#59faa5" stroke-width="0.5" stroke-linejoin="round"/>
<polygon points="71.5,128.3 74.9,125.3 71.4,127 68,130" fill="#58fabc" stroke="#58fabc" stroke-width="0.5" stroke-linejoin="round"/>
<polygon points="71.6,130 78.4,123.7 71.4,127 64.6,133.1" fill="none" stroke="#141408" stroke-opacity="0.85" stroke-width="0.54" stroke-linejoin="round"/>
<polygon points="176.7,74 180.2,71.9 176.6,71.7 173.1,73.8" fill="#fab132" stroke="#fab132" stroke-width="0.5" stroke-linejoin="round"/>
<polygon points="173.1,73.8 176.6,71.7 173,71.7 169.5,73.8" fill="#fab632" stroke="#fab632" stroke-width="0.5" stroke-linejoin="round"/>
<polygon points="180.2,71.9 183.7,69.8 180.1,69.6 176.6,71.7" fill="#faa831" stroke="#faa831" stroke-width="0.5" stroke-linejoin="round"/>
<polygon points="176.6,71.7 180.1,69.6 176.5,69.6 173,71.7" fill="#faae32" stroke="#faae32" stroke-width="0.5" stroke-linejoin="round"/>
<polygon points="176.7,74 183.7,69.8 176.5,69.6 169.5,73.8" fill="none" stroke="#141408" stroke-opacity="0.85" stroke-width="0.65" stroke-linejoin="round"/>
<polygon points="276.2,69.2 279.7,68.1 276.1,66 272.6,67.1" fill="#f97d28" stroke="#f97d28" stroke-width="0.5" stroke-linejoin="round"/>
<polygon points="272.6,67.1 276.1,66 272.5,64 269,65.1" fill="#f77027" stroke="#f77027" stroke-width="0.5" stroke-linejoin="round"/>
<polygon points="279.7,68.1 283.1,67.1 279.6,65 276.1,66" fill="#f97a28" stroke="#f97a28" stroke-width="0.5" stroke-linejoin="round"/>
<polygon points="276.1,66 279.6,65 276,63 272.5,64" fill="#f76d26" stroke="#f76d26" stroke-width="0.5" stroke-linejoin="round"/>
<polygon points="276.2,69.2 283.1,67.1 276,63 269,65.1" fill="none" stroke="#141408" stroke-opacity="0.85" stroke-width="0.77" stroke-linejoin="round"/>
<polygon points="51.1,146.5 54.5,143 51,144.7 47.7,148.2" fill="#5cd6f8" stroke="#5cd6f8" stroke-width="0.5" stroke-linejoin="round"/>
<polygon points="47.7,148.2 51,144.7 47.6,146.6 44.2,150" fill="#61cef9" stroke="#61cef9" stroke-width="0.5" stroke-linejoin="round"/>
<polygon points="54.5,143 57.9,139.6 54.4,141.3 51,144.7" fill="#59e1f5" stroke="#59e1f5" stroke-width="0.5" stroke-linejoin="round"/>
<polygon points="51,144.7 54.4,141.3 51,143.2 47.6,146.6" fill="#5dd5f8" stroke="#5dd5f8" stroke-width="0.5" stroke-linejoin="round"/>
<polygon points="51.1,146.5 57.9,139.6 51,143.2 44.2,150" fill="none" stroke="#141408" stroke-opacity="0.85" stroke-width="0.56" stroke-linejoin="round"/>
<polygon points="262.1,67.5 265.5,66.2 262,64.3 258.5,65.5" fill="#f76d26" stroke="#f76d26" stroke-width="0.5" stroke-linejoin="round"/>
<polygon points="258.5,65.5 262,64.3 258.4,62.4 254.9,63.7" fill="#f66325" stroke="#f66325" stroke-width="0.5" stroke-linejoin="round"/>
<polygon points="265.5,66.2 269,65.1 265.5,63.1 262,64.3" fill="#f66826" stroke="#f66826" stroke-width="0.5" stroke-linejoin="round"/>
<polygon points="262,64.3 265.5,63.1 261.9,61.3 258.4,62.4" fill="#f55f25" stroke="#f55f25" stroke-width="0.5" stroke-linejoin="round"/>
<polygon points="262.1,67.5 269,65.1 261.9,61.3 254.9,63.7" fill="none" stroke="#141408" stroke-opacity="0.85" stroke-width="0.77" stroke-linejoin="round"/>
<polygon points="190.9,70.6 194.4,68.6 190.8,68.1 187.3,70.1" fill="#f9932d" stroke="#f9932d" stroke-width="0.5" stroke-linejoin="round"/>
<polygon points="187.3,70.1 190.8,68.1 187.2,67.8 183.7,69.8" fill="#fa972e" stroke="#fa972e" stroke-width="0.5" stroke-linejoin="round"/>
<polygon points="194.4,68.6 197.9,66.7 194.3,66.2 190.8,68.1" fill="#f9892b" stroke="#f9892b" stroke-width="0.5" stroke-linejoin="round"/>
<polygon points="190.8,68.1 194.3,66.2 190.7,65.9 187.2,67.8" fill="#f98e2c" stroke="#f98e2c" stroke-width="0.5" stroke-linejoin="round"/>
<polygon points="190.9,70.6 197.9,66.7 190.7,65.9 183.7,69.8" fill="none" stroke="#141408" stroke-opacity="0.85" stroke-width="0.68" stroke-linejoin="round"/>
<polygon points="106.2,107.2 109.7,104.4 106.1,105.4 102.7,108.2" fill="#80fa43" stroke="#80fa43" stroke-width="0.5" stroke-linejoin="round"/>
<polygon points="102.7,108.2 106.1,105.4 102.6,106.5 99.2,109.3" fill="#78fa49" stroke="#78fa49" stroke-width="0.5" stroke-linejoin="round"/>
<polygon points="109.7,104.4 113.1,101.6 109.6,102.6 106.1,105.4" fill="#8af940" stroke="#8af940" stroke-width="0.5" stroke-linejoin="round"/>
<polygon points="106.1,105.4 109.6,102.6 106,103.8 102.6,106.5" fill="#80fa44" stroke="#80fa44" stroke-width="0.5" stroke-linejoin="round"/>
<polygon points="106.2,107.2 113.1,101.6 106,103.8 99.2,109.3" fill="none" stroke="#141408" stroke-opacity="0.85" stroke-width="0.57" stroke-linejoin="round"/>
<polygon points="141.3,88.4 144.8,85.9 141.2,86.3 137.7,88.8" fill="#e9f82f" stroke="#e9f82f" stroke-width="0.5" stroke-linejoin="round"/>
<polygon points="137.7,88.8 141.2,86.3 137.6,86.9 134.1,89.4" fill="#e1f932" stroke="#e1f932" stroke-width="0.5" stroke-linejoin="round"/>
<polygon points="144.8,85.9 148.3,83.4 144.7,83.9 141.2,86.3" fill="#f0f42d" stroke="#f0f42d" stroke-width="0.5" stroke-linejoin="round"/>
<polygon points="141.2,86.3 144.7,83.9 141.1,84.5 137.6,86.9" fill="#eaf82f" stroke="#eaf82f" stroke-width="0.5" stroke-linejoin="round"/>
<polygon points="141.3,88.4 148.3,83.4 141.1,84.5 134.1,89.4" fill="none" stroke="#141408" stroke-opacity="0.85" stroke-width="0.62" stroke-linejoin="round"/>
<polygon points="247.9,66.4 251.4,65 247.8,63.2 244.3,64.6" fill="#f66426" stroke="#f66426" stroke-width="0.5" stroke-linejoin="round"/>
<polygon points="244.3,64.6 247.8,63.2 244.2,61.6 240.7,63" fill="#f55d25" stroke="#f55d25" stroke-width="0.5" stroke-linejoin="round"/>
<polygon points="251.4,65 254.9,63.7 251.3,61.9 247.8,63.2" fill="#f55f25" stroke="#f55f25" stroke-width="0.5" stroke-linejoin="round"/>
<polygon points="247.8,63.2 251.3,61.9 247.7,60.3 244.2,61.6" fill="#f45824" stroke="#f45824" stroke-width="0.5" stroke-linejoin="round"/>
<polygon points="247.9,66.4 254.9,63.7 247.7,60.3 240.7,63" fill="none" stroke="#141408" stroke-opacity="0.85" stroke-width="0.76" stroke-linejoin="round"/>
<polygon points="205.2,68.2 208.7,66.3 205.1,65.5 201.6,67.3" fill="#f97b28" stroke="#f97b28" stroke-width="0.5" stroke-linejoin="round"/>
<polygon points="201.6,67.3 205.1,65.5 201.5,64.8 197.9,66.7" fill="#f97d28" stroke="#f97d28" stroke-width="0.5" stroke-linejoin="round"/>
<polygon points="208.7,66.3 212.2,64.5 208.6,63.7 205.1,65.5" fill="#f87327" stroke="#f87327" stroke-width="0.5" stroke-linejoin="round"/>
<polygon points="205.1,65.5 208.6,63.7 205,63.1 201.5,64.8" fill="#f87427" stroke="#f87427" stroke-width="0.5" stroke-linejoin="round"/>
<polygon points="205.2,68.2 212.2,64.5 205,63.1 197.9,66.7" fill="none" stroke="#141408" stroke-opacity="0.85" stroke-width="0.70" stroke-linejoin="round"/>
<polygon points="233.7,66 237.2,64.5 233.6,63 230.1,64.6" fill="#f66426" stroke="#f66426" stroke-width="0.5" stroke-linejoin="round"/>
<polygon points="230.1,64.6 233.6,63 230,61.7 226.5,63.3" fill="#f56025" stroke="#f56025" stroke-width="0.5" stroke-linejoin="round"/>
<polygon points="237.2,64.5 240.7,63 237.1,61.6 233.6,63" fill="#f55e25" stroke="#f55e25" stroke-width="0.5" stroke-linejoin="round"/>
<polygon points="233.6,63 237.1,61.6 233.5,60.3 230,61.7" fill="#f55a24" stroke="#f55a24" stroke-width="0.5" stroke-linejoin="round"/>
<polygon points="233.7,66 240.7,63 233.5,60.3 226.5,63.3" fill="none" stroke="#141408" stroke-opacity="0.85" stroke-width="0.74" stroke-linejoin="round"/>
<polygon points="219.4,66.6 222.9,64.9 219.3,63.8 215.8,65.5" fill="#f76c26" stroke="#f76c26" stroke-width="0.5" stroke-linejoin="round"/>
<polygon points="215.8,65.5 219.3,63.8 215.7,62.8 212.2,64.5" fill="#f76a26" stroke="#f76a26" stroke-width="0.5" stroke-linejoin="round"/>
<polygon points="222.9,64.9 226.5,63.3 222.8,62.1 219.3,63.8" fill="#f66426" stroke="#f66426" stroke-width="0.5" stroke-linejoin="round"/>
<polygon points="219.3,63.8 222.8,62.1 219.2,61.2 215.7,62.8" fill="#f66325" stroke="#f66325" stroke-width="0.5" stroke-linejoin="round"/>
<polygon points="219.4,66.6 226.5,63.3 219.2,61.2 212.2,64.5" fill="none" stroke="#141408" stroke-opacity="0.85" stroke-width="0.72" stroke-linejoin="round"/>
<polygon points="85.4,121.2 88.9,118.1 85.3,119.3 81.9,122.4" fill="#5dfa72" stroke="#5dfa72" stroke-width="0.5" stroke-linejoin="round"/>
<polygon points="81.9,122.4 85.3,119.3 81.8,120.7 78.4,123.7" fill="#5cfa82" stroke="#5cfa82" stroke-width="0.5" stroke-linejoin="round"/>
<polygon points="88.9,118.1 92.3,115.1 88.8,116.4 85.3,119.3" fill="#5efa64" stroke="#5efa64" stroke-width="0.5" stroke-linejoin="round"/>
<polygon points="85.3,119.3 88.8,116.4 85.3,117.8 81.8,120.7" fill="#5dfa73" stroke="#5dfa73" stroke-width="0.5" stroke-linejoin="round"/>
<polygon points="85.4,121.2 92.3,115.1 85.3,117.8 78.4,123.7" fill="none" stroke="#141408" stroke-opacity="0.85" stroke-width="0.57" stroke-linejoin="round"/>
<polygon points="297.3,76.5 300.8,75.4 297.3,72.9 293.8,73.9" fill="#fab632" stroke="#fab632" stroke-width="0.5" stroke-linejoin="round"/>
<polygon points="293.8,73.9 297.3,72.9 293.7,70.5 290.2,71.5" fill="#faa631" stroke="#faa631" stroke-width="0.5" stroke-linejoin="round"/>
<polygon points="300.8,75.4 304.3,74.3 300.7,71.9 297.3,72.9" fill="#fab432" stroke="#fab432" stroke-width="0.5" stroke-linejoin="round"/>
<polygon points="297.3,72.9 300.7,71.9 297.2,69.6 293.7,70.5" fill="#faa430" stroke="#faa430" stroke-width="0.5" stroke-linejoin="round"/>
<polygon points="297.3,76.5 304.3,74.3 297.2,69.6 290.2,71.5" fill="none" stroke="#141408" stroke-opacity="0.85" stroke-width="0.81" stroke-linejoin="round"/>
<polygon points="155.5,83 159,80.6 155.4,80.7 151.9,83.1" fill="#f8de30" stroke="#f8de30" stroke-width="0.5" stroke-linejoin="round"/>
<polygon points="151.9,83.1 155.4,80.7 151.8,81 148.3,83.4" fill="#f6e42f" stroke="#f6e42f" stroke-width="0.5" stroke-linejoin="round"/>
<polygon points="159,80.6 162.5,78.2 158.9,78.4 155.4,80.7" fill="#fad630" stroke="#fad630" stroke-width="0.5" stroke-linejoin="round"/>
<polygon points="155.4,80.7 158.9,78.4 155.3,78.7 151.8,81" fill="#f9dc30" stroke="#f9dc30" stroke-width="0.5" stroke-linejoin="round"/>
<polygon points="155.5,83 162.5,78.2 155.3,78.7 148.3,83.4" fill="none" stroke="#141408" stroke-opacity="0.85" stroke-width="0.64" stroke-linejoin="round"/>
<polygon points="64.8,136.6 68.2,133.3 64.7,134.7 61.3,138" fill="#55fadd" stroke="#55fadd" stroke-width="0.5" stroke-linejoin="round"/>
<polygon points="61.3,138 64.7,134.7 61.3,136.3 57.9,139.6" fill="#55f4e8" stroke="#55f4e8" stroke-width="0.5" stroke-linejoin="round"/>
<polygon points="68.2,133.3 71.6,130 68.1,131.5 64.7,134.7" fill="#57facb" stroke="#57facb" stroke-width="0.5" stroke-linejoin="round"/>
<polygon points="64.7,134.7 68.1,131.5 64.6,133.1 61.3,136.3" fill="#55fade" stroke="#55fade" stroke-width="0.5" stroke-linejoin="round"/>
<polygon points="64.8,136.6 71.6,130 64.6,133.1 57.9,139.6" fill="none" stroke="#141408" stroke-opacity="0.85" stroke-width="0.58" stroke-linejoin="round"/>
<polygon points="120.3,100 123.7,97.3 120.2,98 116.7,100.7" fill="#abf83c" stroke="#abf83c" stroke-width="0.5" stroke-linejoin="round"/>
<polygon points="116.7,100.7 120.2,98 116.6,98.9 113.1,101.6" fill="#9ff83c" stroke="#9ff83c" stroke-width="0.5" stroke-linejoin="round"/>
<polygon points="123.7,97.3 127.2,94.6 123.6,95.3 120.2,98" fill="#b7f93b" stroke="#b7f93b" stroke-width="0.5" stroke-linejoin="round"/>
<polygon points="120.2,98 123.6,95.3 120.1,96.2 116.6,98.9" fill="#abf93b" stroke="#abf93b" stroke-width="0.5" stroke-linejoin="round"/>
<polygon points="120.3,100 127.2,94.6 120.1,96.2 113.1,101.6" fill="none" stroke="#141408" stroke-opacity="0.85" stroke-width="0.61" stroke-linejoin="round"/>
<polygon points="283.3,73.8 286.8,72.6 283.2,70.3 279.7,71.5" fill="#fa9b2e" stroke="#fa9b2e" stroke-width="0.5" stroke-linejoin="round"/>
<polygon points="279.7,71.5 283.2,70.3 279.7,68.1 276.2,69.2" fill="#f98b2b" stroke="#f98b2b" stroke-width="0.5" stroke-linejoin="round"/>
<polygon points="286.8,72.6 290.2,71.5 286.7,69.3 283.2,70.3" fill="#fa982e" stroke="#fa982e" stroke-width="0.5" stroke-linejoin="round"/>
<polygon points="283.2,70.3 286.7,69.3 283.1,67.1 279.7,68.1" fill="#f9882a" stroke="#f9882a" stroke-width="0.5" stroke-linejoin="round"/>
<polygon points="283.3,73.8 290.2,71.5 283.1,67.1 276.2,69.2" fill="none" stroke="#141408" stroke-opacity="0.85" stroke-width="0.80" stroke-linejoin="round"/>
<polygon points="169.7,78.5 173.2,76.2 169.6,76 166.1,78.3" fill="#fac332" stroke="#fac332" stroke-width="0.5" stroke-linejoin="round"/>
<polygon points="166.1,78.3 169.6,76 166,76 162.5,78.2" fill="#fac732" stroke="#fac732" stroke-width="0.5" stroke-linejoin="round"/>
<polygon points="173.2,76.2 176.7,74 173.1,73.8 169.6,76" fill="#faba32" stroke="#faba32" stroke-width="0.5" stroke-linejoin="round"/>
<polygon points="169.6,76 173.1,73.8 169.5,73.8 166,76" fill="#fabf32" stroke="#fabf32" stroke-width="0.5" stroke-linejoin="round"/>
<polygon points="169.7,78.5 176.7,74 169.5,73.8 162.5,78.2" fill="none" stroke="#141408" stroke-opacity="0.85" stroke-width="0.67" stroke-linejoin="round"/>
<polygon points="99.4,113.1 102.8,110.1 99.3,111.1 95.8,114" fill="#71fa4e" stroke="#71fa4e" stroke-width="0.5" stroke-linejoin="round"/>
<polygon points="95.8,114 99.3,111.1 95.7,112.2 92.3,115.1" fill="#6afa53" stroke="#6afa53" stroke-width="0.5" stroke-linejoin="round"/>
<polygon points="102.8,110.1 106.2,107.2 102.7,108.2 99.3,111.1" fill="#79fa48" stroke="#79fa48" stroke-width="0.5" stroke-linejoin="round"/>
<polygon points="99.3,111.1 102.7,108.2 99.2,109.3 95.7,112.2" fill="#71fa4e" stroke="#71fa4e" stroke-width="0.5" stroke-linejoin="round"/>
<polygon points="99.4,113.1 106.2,107.2 99.2,109.3 92.3,115.1" fill="none" stroke="#141408" stroke-opacity="0.85" stroke-width="0.60" stroke-linejoin="round"/>
<polygon points="269.2,71.7 272.7,70.4 269.1,68.3 265.6,69.5" fill="#f9852a" stroke="#f9852a" stroke-width="0.5" stroke-linejoin="round"/>
<polygon points="265.6,69.5 269.1,68.3 265.5,66.2 262.1,67.5" fill="#f87828" stroke="#f87828" stroke-width="0.5" stroke-linejoin="round"/>
<polygon points="272.7,70.4 276.2,69.2 272.6,67.1 269.1,68.3" fill="#f98029" stroke="#f98029" stroke-width="0.5" stroke-linejoin="round"/>
<polygon points="269.1,68.3 272.6,67.1 269,65.1 265.5,66.2" fill="#f87427" stroke="#f87427" stroke-width="0.5" stroke-linejoin="round"/>
<polygon points="269.2,71.7 276.2,69.2 269,65.1 262.1,67.5" fill="none" stroke="#141408" stroke-opacity="0.85" stroke-width="0.79" stroke-linejoin="round"/>
<polygon points="183.9,74.8 187.4,72.7 183.8,72.2 180.3,74.3" fill="#faa831" stroke="#faa831" stroke-width="0.5" stroke-linejoin="round"/>
<polygon points="180.3,74.3 183.8,72.2 180.2,71.9 176.7,74" fill="#faac32" stroke="#faac32" stroke-width="0.5" stroke-linejoin="round"/>
<polygon points="187.4,72.7 190.9,70.6 187.3,70.1 183.8,72.2" fill="#fa9d2f" stroke="#fa9d2f" stroke-width="0.5" stroke-linejoin="round"/>
<polygon points="183.8,72.2 187.3,70.1 183.7,69.8 180.2,71.9" fill="#faa230" stroke="#faa230" stroke-width="0.5" stroke-linejoin="round"/>
<polygon points="183.9,74.8 190.9,70.6 183.7,69.8 176.7,74" fill="none" stroke="#141408" stroke-opacity="0.85" stroke-width="0.70" stroke-linejoin="round"/>
<polygon points="134.4,93.6 137.8,91 134.2,91.4 130.8,94" fill="#d6f937" stroke="#d6f937" stroke-width="0.5" stroke-linejoin="round"/>
<polygon points="130.8,94 134.2,91.4 130.7,92 127.2,94.6" fill="#cefa3a" stroke="#cefa3a" stroke-width="0.5" stroke-linejoin="round"/>
<polygon points="137.8,91 141.3,88.4 137.7,88.8 134.2,91.4" fill="#dff933" stroke="#dff933" stroke-width="0.5" stroke-linejoin="round"/>
<polygon points="134.2,91.4 137.7,88.8 134.1,89.4 130.7,92" fill="#d7f936" stroke="#d7f936" stroke-width="0.5" stroke-linejoin="round"/>
<polygon points="134.4,93.6 141.3,88.4 134.1,89.4 127.2,94.6" fill="none" stroke="#141408" stroke-opacity="0.85" stroke-width="0.64" stroke-linejoin="round"/>
<polygon points="255.1,70.2 258.6,68.8 255,66.8 251.5,68.2" fill="#f87727" stroke="#f87727" stroke-width="0.5" stroke-linejoin="round"/>
<polygon points="251.5,68.2 255,66.8 251.4,65 247.9,66.4" fill="#f76d26" stroke="#f76d26" stroke-width="0.5" stroke-linejoin="round"/>
<polygon points="258.6,68.8 262.1,67.5 258.5,65.5 255,66.8" fill="#f87127" stroke="#f87127" stroke-width="0.5" stroke-linejoin="round"/>
<polygon points="255,66.8 258.5,65.5 254.9,63.7 251.4,65" fill="#f66826" stroke="#f66826" stroke-width="0.5" stroke-linejoin="round"/>
<polygon points="255.1,70.2 262.1,67.5 254.9,63.7 247.9,66.4" fill="none" stroke="#141408" stroke-opacity="0.85" stroke-width="0.79" stroke-linejoin="round"/>
<polygon points="198.2,72.1 201.7,70.1 198.1,69.3 194.6,71.3" fill="#f98e2c" stroke="#f98e2c" stroke-width="0.5" stroke-linejoin="round"/>
<polygon points="194.6,71.3 198.1,69.3 194.4,68.6 190.9,70.6" fill="#f9902c" stroke="#f9902c" stroke-width="0.5" stroke-linejoin="round"/>
<polygon points="201.7,70.1 205.2,68.2 201.6,67.3 198.1,69.3" fill="#f9842a" stroke="#f9842a" stroke-width="0.5" stroke-linejoin="round"/>
<polygon points="198.1,69.3 201.6,67.3 197.9,66.7 194.4,68.6" fill="#f9862a" stroke="#f9862a" stroke-width="0.5" stroke-linejoin="round"/>
<polygon points="198.2,72.1 205.2,68.2 197.9,66.7 190.9,70.6" fill="none" stroke="#141408" stroke-opacity="0.85" stroke-width="0.72" stroke-linejoin="round"/>
<polygon points="78.6,127.5 82,124.3 78.5,125.5 75.1,128.7" fill="#5afa90" stroke="#5afa90" stroke-width="0.5" stroke-linejoin="round"/>
<polygon points="75.1,128.7 78.5,125.5 75,126.8 71.6,130" fill="#59faa3" stroke="#59faa3" stroke-width="0.5" stroke-linejoin="round"/>
<polygon points="82,124.3 85.4,121.2 81.9,122.4 78.5,125.5" fill="#5cfa81" stroke="#5cfa81" stroke-width="0.5" stroke-linejoin="round"/>
<polygon points="78.5,125.5 81.9,122.4 78.4,123.7 75,126.8" fill="#5afa91" stroke="#5afa91" stroke-width="0.5" stroke-linejoin="round"/>
<polygon points="78.6,127.5 85.4,121.2 78.4,123.7 71.6,130" fill="none" stroke="#141408" stroke-opacity="0.85" stroke-width="0.60" stroke-linejoin="round"/>
<polygon points="240.9,69.4 244.4,67.8 240.8,66.1 237.3,67.6" fill="#f87127" stroke="#f87127" stroke-width="0.5" stroke-linejoin="round"/>
<polygon points="237.3,67.6 240.8,66.1 237.2,64.5 233.7,66" fill="#f76a26" stroke="#f76a26" stroke-width="0.5" stroke-linejoin="round"/>
<polygon points="244.4,67.8 247.9,66.4 244.3,64.6 240.8,66.1" fill="#f76a26" stroke="#f76a26" stroke-width="0.5" stroke-linejoin="round"/>
<polygon points="240.8,66.1 244.3,64.6 240.7,63 237.2,64.5" fill="#f66325" stroke="#f66325" stroke-width="0.5" stroke-linejoin="round"/>
<polygon points="240.9,69.4 247.9,66.4 240.7,63 233.7,66" fill="none" stroke="#141408" stroke-opacity="0.85" stroke-width="0.78" stroke-linejoin="round"/>
<polygon points="212.4,70.3 215.9,68.4 212.3,67.3 208.8,69.1" fill="#f97c28" stroke="#f97c28" stroke-width="0.5" stroke-linejoin="round"/>
<polygon points="208.8,69.1 212.3,67.3 208.7,66.3 205.2,68.2" fill="#f97b28" stroke="#f97b28" stroke-width="0.5" stroke-linejoin="round"/>
<polygon points="215.9,68.4 219.4,66.6 215.8,65.5 212.3,67.3" fill="#f87427" stroke="#f87427" stroke-width="0.5" stroke-linejoin="round"/>
<polygon points="212.3,67.3 215.8,65.5 212.2,64.5 208.7,66.3" fill="#f87227" stroke="#f87227" stroke-width="0.5" stroke-linejoin="round"/>
<polygon points="212.4,70.3 219.4,66.6 212.2,64.5 205.2,68.2" fill="none" stroke="#141408" stroke-opacity="0.85" stroke-width="0.74" stroke-linejoin="round"/>
<polygon points="226.7,69.4 230.2,67.7 226.6,66.2 223.1,67.9" fill="#f87327" stroke="#f87327" stroke-width="0.5" stroke-linejoin="round"/>
<polygon points="223.1,67.9 226.6,66.2 222.9,64.9 219.4,66.6" fill="#f76e27" stroke="#f76e27" stroke-width="0.5" stroke-linejoin="round"/>
<polygon points="230.2,67.7 233.7,66 230.1,64.6 226.6,66.2" fill="#f76b26" stroke="#f76b26" stroke-width="0.5" stroke-linejoin="round"/>
<polygon points="226.6,66.2 230.1,64.6 226.5,63.3 222.9,64.9" fill="#f66726" stroke="#f66726" stroke-width="0.5" stroke-linejoin="round"/>
<polygon points="226.7,69.4 233.7,66 226.5,63.3 219.4,66.6" fill="none" stroke="#141408" stroke-opacity="0.85" stroke-width="0.76" stroke-linejoin="round"/>
<polygon points="304.4,82.1 307.8,80.9 304.3,78 300.9,79.2" fill="#fad331" stroke="#fad331" stroke-width="0.5" stroke-linejoin="round"/>
<polygon points="300.9,79.2 304.3,78 300.8,75.4 297.3,76.5" fill="#fac432" stroke="#fac432" stroke-width="0.5" stroke-linejoin="round"/>
<polygon points="307.8,80.9 311.3,79.8 307.8,77 304.3,78" fill="#fad131" stroke="#fad131" stroke-width="0.5" stroke-linejoin="round"/>
<polygon points="304.3,78 307.8,77 304.3,74.3 300.8,75.4" fill="#fac332" stroke="#fac332" stroke-width="0.5" stroke-linejoin="round"/>
<polygon points="304.4,82.1 311.3,79.8 304.3,74.3 297.3,76.5" fill="none" stroke="#141408" stroke-opacity="0.85" stroke-width="0.82" stroke-linejoin="round"/>
<polygon points="58,143.5 61.4,140 58,141.4 54.6,144.9" fill="#55edf0" stroke="#55edf0" stroke-width="0.5" stroke-linejoin="round"/>
<polygon points="54.6,144.9 58,141.4 54.5,143 51.1,146.5" fill="#58e2f5" stroke="#58e2f5" stroke-width="0.5" stroke-linejoin="round"/>
<polygon points="61.4,140 64.8,136.6 61.3,138 58,141.4" fill="#55f5e8" stroke="#55f5e8" stroke-width="0.5" stroke-linejoin="round"/>
<polygon points="58,141.4 61.3,138 57.9,139.6 54.5,143" fill="#55edf1" stroke="#55edf1" stroke-width="0.5" stroke-linejoin="round"/>
<polygon points="58,143.5 64.8,136.6 57.9,139.6 51.1,146.5" fill="none" stroke="#141408" stroke-opacity="0.85" stroke-width="0.61" stroke-linejoin="round"/>
<polygon points="148.5,88 152,85.4 148.4,85.6 144.9,88.1" fill="#f1f02e" stroke="#f1f02e" stroke-width="0.5" stroke-linejoin="round"/>
<polygon points="144.9,88.1 148.4,85.6 144.8,85.9 141.3,88.4" fill="#eff62d" stroke="#eff62d" stroke-width="0.5" stroke-linejoin="round"/>
<polygon points="152,85.4 155.5,83 151.9,83.1 148.4,85.6" fill="#f5e72f" stroke="#f5e72f" stroke-width="0.5" stroke-linejoin="round"/>
<polygon points="148.4,85.6 151.9,83.1 148.3,83.4 144.8,85.9" fill="#f2ed2e" stroke="#f2ed2e" stroke-width="0.5" stroke-linejoin="round"/>
<polygon points="148.5,88 155.5,83 148.3,83.4 141.3,88.4" fill="none" stroke="#141408" stroke-opacity="0.85" stroke-width="0.67" stroke-linejoin="round"/>
<polygon points="113.4,105.7 116.8,102.8 113.2,103.5 109.8,106.4" fill="#93f93f" stroke="#93f93f" stroke-width="0.5" stroke-linejoin="round"/>
<polygon points="109.8,106.4 113.2,103.5 109.7,104.4 106.2,107.2" fill="#8af940" stroke="#8af940" stroke-width="0.5" stroke-linejoin="round"/>
<polygon points="116.8,102.8 120.3,100 116.7,100.7 113.2,103.5" fill="#9ff83c" stroke="#9ff83c" stroke-width="0.5" stroke-linejoin="round"/>
<polygon points="113.2,103.5 116.7,100.7 113.1,101.6 109.7,104.4" fill="#95f93e" stroke="#95f93e" stroke-width="0.5" stroke-linejoin="round"/>
<polygon points="113.4,105.7 120.3,100 113.1,101.6 106.2,107.2" fill="none" stroke="#141408" stroke-opacity="0.85" stroke-width="0.63" stroke-linejoin="round"/>
<polygon points="290.4,79 293.9,77.7 290.3,75.1 286.8,76.3" fill="#faba32" stroke="#faba32" stroke-width="0.5" stroke-linejoin="round"/>
<polygon points="286.8,76.3 290.3,75.1 286.8,72.6 283.3,73.8" fill="#faac32" stroke="#faac32" stroke-width="0.5" stroke-linejoin="round"/>
<polygon points="293.9,77.7 297.3,76.5 293.8,73.9 290.3,75.1" fill="#fab832" stroke="#fab832" stroke-width="0.5" stroke-linejoin="round"/>
<polygon points="290.3,75.1 293.8,73.9 290.2,71.5 286.8,72.6" fill="#faa931" stroke="#faa931" stroke-width="0.5" stroke-linejoin="round"/>
<polygon points="290.4,79 297.3,76.5 290.2,71.5 283.3,73.8" fill="none" stroke="#141408" stroke-opacity="0.85" stroke-width="0.82" stroke-linejoin="round"/>
<polygon points="162.7,83.2 166.2,80.8 162.6,80.6 159.1,83" fill="#fad431" stroke="#fad431" stroke-width="0.5" stroke-linejoin="round"/>
<polygon points="159.1,83 162.6,80.6 159,80.6 155.5,83" fill="#fad830" stroke="#fad830" stroke-width="0.5" stroke-linejoin="round"/>
<polygon points="166.2,80.8 169.7,78.5 166.1,78.3 162.6,80.6" fill="#facb31" stroke="#facb31" stroke-width="0.5" stroke-linejoin="round"/>
<polygon points="162.6,80.6 166.1,78.3 162.5,78.2 159,80.6" fill="#fad031" stroke="#fad031" stroke-width="0.5" stroke-linejoin="round"/>
<polygon points="162.7,83.2 169.7,78.5 162.5,78.2 155.5,83" fill="none" stroke="#141408" stroke-opacity="0.85" stroke-width="0.69" stroke-linejoin="round"/>
<polygon points="92.5,119.2 95.9,116.1 92.4,117 89,120.1" fill="#61fa58" stroke="#61fa58" stroke-width="0.5" stroke-linejoin="round"/>
<polygon points="89,120.1 92.4,117 88.9,118.1 85.4,121.2" fill="#5efa64" stroke="#5efa64" stroke-width="0.5" stroke-linejoin="round"/>
<polygon points="95.9,116.1 99.4,113.1 95.8,114 92.4,117" fill="#69fa53" stroke="#69fa53" stroke-width="0.5" stroke-linejoin="round"/>
<polygon points="92.4,117 95.8,114 92.3,115.1 88.9,118.1" fill="#62fa58" stroke="#62fa58" stroke-width="0.5" stroke-linejoin="round"/>
<polygon points="92.5,119.2 99.4,113.1 92.3,115.1 85.4,121.2" fill="none" stroke="#141408" stroke-opacity="0.85" stroke-width="0.63" stroke-linejoin="round"/>
<polygon points="276.3,76.4 279.8,75.1 276.3,72.7 272.8,74" fill="#faa330" stroke="#faa330" stroke-width="0.5" stroke-linejoin="round"/>
<polygon points="272.8,74 276.3,72.7 272.7,70.4 269.2,71.7" fill="#f9932d" stroke="#f9932d" stroke-width="0.5" stroke-linejoin="round"/>
<polygon points="279.8,75.1 283.3,73.8 279.7,71.5 276.3,72.7" fill="#fa9e2f" stroke="#fa9e2f" stroke-width="0.5" stroke-linejoin="round"/>
<polygon points="276.3,72.7 279.7,71.5 276.2,69.2 272.7,70.4" fill="#f98f2c" stroke="#f98f2c" stroke-width="0.5" stroke-linejoin="round"/>
<polygon points="276.3,76.4 283.3,73.8 276.2,69.2 269.2,71.7" fill="none" stroke="#141408" stroke-opacity="0.85" stroke-width="0.82" stroke-linejoin="round"/>
<polygon points="127.4,99.1 130.9,96.3 127.3,96.7 123.8,99.5" fill="#bff93b" stroke="#bff93b" stroke-width="0.5" stroke-linejoin="round"/>
<polygon points="123.8,99.5 127.3,96.7 123.7,97.3 120.3,100" fill="#b6f93b" stroke="#b6f93b" stroke-width="0.5" stroke-linejoin="round"/>
<polygon points="130.9,96.3 134.4,93.6 130.8,94 127.3,96.7" fill="#cbfa3a" stroke="#cbfa3a" stroke-width="0.5" stroke-linejoin="round"/>
<polygon points="127.3,96.7 130.8,94 127.2,94.6 123.7,97.3" fill="#c2fa3a" stroke="#c2fa3a" stroke-width="0.5" stroke-linejoin="round"/>
<polygon points="127.4,99.1 134.4,93.6 127.2,94.6 120.3,100" fill="none" stroke="#141408" stroke-opacity="0.85" stroke-width="0.66" stroke-linejoin="round"/>
<polygon points="176.9,79.3 180.4,77 176.8,76.5 173.3,78.8" fill="#fabb32" stroke="#fabb32" stroke-width="0.5" stroke-linejoin="round"/>
<polygon points="173.3,78.8 176.8,76.5 173.2,76.2 169.7,78.5" fill="#fabe32" stroke="#fabe32" stroke-width="0.5" stroke-linejoin="round"/>
<polygon points="180.4,77 183.9,74.8 180.3,74.3 176.8,76.5" fill="#fab232" stroke="#fab232" stroke-width="0.5" stroke-linejoin="round"/>
<polygon points="176.8,76.5 180.3,74.3 176.7,74 173.2,76.2" fill="#fab532" stroke="#fab532" stroke-width="0.5" stroke-linejoin="round"/>
<polygon points="176.9,79.3 183.9,74.8 176.7,74 169.7,78.5" fill="none" stroke="#141408" stroke-opacity="0.85" stroke-width="0.72" stroke-linejoin="round"/>
<polygon points="71.8,134.2 75.2,130.8 71.7,132 68.3,135.3" fill="#58fab9" stroke="#58fab9" stroke-width="0.5" stroke-linejoin="round"/>
<polygon points="68.3,135.3 71.7,132 68.2,133.3 64.8,136.6" fill="#57facb" stroke="#57facb" stroke-width="0.5" stroke-linejoin="round"/>
<polygon points="75.2,130.8 78.6,127.5 75.1,128.7 71.7,132" fill="#59faa3" stroke="#59faa3" stroke-width="0.5" stroke-linejoin="round"/>
<polygon points="71.7,132 75.1,128.7 71.6,130 68.2,133.3" fill="#58fab8" stroke="#58fab8" stroke-width="0.5" stroke-linejoin="round"/>
<polygon points="71.8,134.2 78.6,127.5 71.6,130 64.8,136.6" fill="none" stroke="#141408" stroke-opacity="0.85" stroke-width="0.63" stroke-linejoin="round"/>
<polygon points="262.2,74.5 265.7,73.1 262.1,70.9 258.6,72.3" fill="#f98f2c" stroke="#f98f2c" stroke-width="0.5" stroke-linejoin="round"/>
<polygon points="258.6,72.3 262.1,70.9 258.6,68.8 255.1,70.2" fill="#f98229" stroke="#f98229" stroke-width="0.5" stroke-linejoin="round"/>
<polygon points="265.7,73.1 269.2,71.7 265.6,69.5 262.1,70.9" fill="#f98a2b" stroke="#f98a2b" stroke-width="0.5" stroke-linejoin="round"/>
<polygon points="262.1,70.9 265.6,69.5 262.1,67.5 258.6,68.8" fill="#f97d28" stroke="#f97d28" stroke-width="0.5" stroke-linejoin="round"/>
<polygon points="262.2,74.5 269.2,71.7 262.1,67.5 255.1,70.2" fill="none" stroke="#141408" stroke-opacity="0.85" stroke-width="0.82" stroke-linejoin="round"/>
<polygon points="311.4,88.6 314.8,87.3 311.3,84 307.9,85.2" fill="#f1f12e" stroke="#f1f12e" stroke-width="0.5" stroke-linejoin="round"/>
<polygon points="307.9,85.2 311.3,84 307.8,80.9 304.4,82.1" fill="#f7e12f" stroke="#f7e12f" stroke-width="0.5" stroke-linejoin="round"/>
<polygon points="314.8,87.3 318.3,86.1 314.8,82.8 311.3,84" fill="#f1ef2e" stroke="#f1ef2e" stroke-width="0.5" stroke-linejoin="round"/>
<polygon points="311.3,84 314.8,82.8 311.3,79.8 307.8,80.9" fill="#f8e02f" stroke="#f8e02f" stroke-width="0.5" stroke-linejoin="round"/>
<polygon points="311.4,88.6 318.3,86.1 311.3,79.8 304.4,82.1" fill="none" stroke="#141408" stroke-opacity="0.85" stroke-width="0.82" stroke-linejoin="round"/>
<polygon points="191.2,76.3 194.7,74.2 191,73.3 187.5,75.5" fill="#faa430" stroke="#faa430" stroke-width="0.5" stroke-linejoin="round"/>
<polygon points="187.5,75.5 191,73.3 187.4,72.7 183.9,74.8" fill="#faa531" stroke="#faa531" stroke-width="0.5" stroke-linejoin="round"/>
<polygon points="194.7,74.2 198.2,72.1 194.6,71.3 191,73.3" fill="#fa992e" stroke="#fa992e" stroke-width="0.5" stroke-linejoin="round"/>
<polygon points="191,73.3 194.6,71.3 190.9,70.6 187.4,72.7" fill="#fa9a2e" stroke="#fa9a2e" stroke-width="0.5" stroke-linejoin="round"/>
<polygon points="191.2,76.3 198.2,72.1 190.9,70.6 183.9,74.8" fill="none" stroke="#141408" stroke-opacity="0.85" stroke-width="0.74" stroke-linejoin="round"/>
<polygon points="248.1,73.3 251.6,71.7 248,69.7 244.5,71.3" fill="#f98329" stroke="#f98329" stroke-width="0.5" stroke-linejoin="round"/>
<polygon points="244.5,71.3 248,69.7 244.4,67.8 240.9,69.4" fill="#f97928" stroke="#f97928" stroke-width="0.5" stroke-linejoin="round"/>
<polygon points="251.6,71.7 255.1,70.2 251.5,68.2 248,69.7" fill="#f97d28" stroke="#f97d28" stroke-width="0.5" stroke-linejoin="round"/>
<polygon points="248,69.7 251.5,68.2 247.9,66.4 244.4,67.8" fill="#f87327" stroke="#f87327" stroke-width="0.5" stroke-linejoin="round"/>
<polygon points="248.1,73.3 255.1,70.2 247.9,66.4 240.9,69.4" fill="none" stroke="#141408" stroke-opacity="0.85" stroke-width="0.81" stroke-linejoin="round"/>
<polygon points="205.4,74.2 208.9,72.2 205.3,71.1 201.8,73.1" fill="#f9902c" stroke="#f9902c" stroke-width="0.5" stroke-linejoin="round"/>
<polygon points="201.8,73.1 205.3,71.1 201.7,70.1 198.2,72.1" fill="#f98e2c" stroke="#f98e2c" stroke-width="0.5" stroke-linejoin="round"/>
<polygon points="208.9,72.2 212.4,70.3 208.8,69.1 205.3,71.1" fill="#f9862a" stroke="#f9862a" stroke-width="0.5" stroke-linejoin="round"/>
<polygon points="205.3,71.1 208.8,69.1 205.2,68.2 201.7,70.1" fill="#f9842a" stroke="#f9842a" stroke-width="0.5" stroke-linejoin="round"/>
<polygon points="205.4,74.2 212.4,70.3 205.2,68.2 198.2,72.1" fill="none" stroke="#141408" stroke-opacity="0.85" stroke-width="0.76" stroke-linejoin="round"/>
<polygon points="233.9,72.7 237.4,71 233.8,69.3 230.3,71" fill="#f97f29" stroke="#f97f29" stroke-width="0.5" stroke-linejoin="round"/>
<polygon points="230.3,71 233.8,69.3 230.2,67.7 226.7,69.4" fill="#f97828" stroke="#f97828" stroke-width="0.5" stroke-linejoin="round"/>
<polygon points="237.4,71 240.9,69.4 237.3,67.6 233.8,69.3" fill="#f87828" stroke="#f87828" stroke-width="0.5" stroke-linejoin="round"/>
<polygon points="233.8,69.3 237.3,67.6 233.7,66 230.2,67.7" fill="#f87127" stroke="#f87127" stroke-width="0.5" stroke-linejoin="round"/>
<polygon points="233.9,72.7 240.9,69.4 233.7,66 226.7,69.4" fill="none" stroke="#141408" stroke-opacity="0.85" stroke-width="0.80" stroke-linejoin="round"/>
<polygon points="141.6,93.3 145,90.6 141.4,90.7 138,93.3" fill="#e3f931" stroke="#e3f931" stroke-width="0.5" stroke-linejoin="round"/>
<polygon points="138,93.3 141.4,90.7 137.8,91 134.4,93.6" fill="#ddf934" stroke="#ddf934" stroke-width="0.5" stroke-linejoin="round"/>
<polygon points="145,90.6 148.5,88 144.9,88.1 141.4,90.7" fill="#edf82d" stroke="#edf82d" stroke-width="0.5" stroke-linejoin="round"/>
<polygon points="141.4,90.7 144.9,88.1 141.3,88.4 137.8,91" fill="#e7f830" stroke="#e7f830" stroke-width="0.5" stroke-linejoin="round"/>
<polygon points="141.6,93.3 148.5,88 141.3,88.4 134.4,93.6" fill="none" stroke="#141408" stroke-opacity="0.85" stroke-width="0.69" stroke-linejoin="round"/>
<polygon points="106.5,111.6 109.9,108.6 106.3,109.3 102.9,112.3" fill="#7efa45" stroke="#7efa45" stroke-width="0.5" stroke-linejoin="round"/>
<polygon points="102.9,112.3 106.3,109.3 102.8,110.1 99.4,113.1" fill="#78fa49" stroke="#78fa49" stroke-width="0.5" stroke-linejoin="round"/>
<polygon points="109.9,108.6 113.4,105.7 109.8,106.4 106.3,109.3" fill="#88fa41" stroke="#88fa41" stroke-width="0.5" stroke-linejoin="round"/>
<polygon points="106.3,109.3 109.8,106.4 106.2,107.2 102.8,110.1" fill="#80fa44" stroke="#80fa44" stroke-width="0.5" stroke-linejoin="round"/>
<polygon points="106.5,111.6 113.4,105.7 106.2,107.2 99.4,113.1" fill="none" stroke="#141408" stroke-opacity="0.85" stroke-width="0.65" stroke-linejoin="round"/>
<polygon points="219.6,73 223.2,71.2 219.5,69.7 216,71.6" fill="#f9842a" stroke="#f9842a" stroke-width="0.5" stroke-linejoin="round"/>
<polygon points="216,71.6 219.5,69.7 215.9,68.4 212.4,70.3" fill="#f97f29" stroke="#f97f29" stroke-width="0.5" stroke-linejoin="round"/>
<polygon points="223.2,71.2 226.7,69.4 223.1,67.9 219.5,69.7" fill="#f97b28" stroke="#f97b28" stroke-width="0.5" stroke-linejoin="round"/>
<polygon points="219.5,69.7 223.1,67.9 219.4,66.6 215.9,68.4" fill="#f87727" stroke="#f87727" stroke-width="0.5" stroke-linejoin="round"/>
<polygon points="219.6,73 226.7,69.4 219.4,66.6 212.4,70.3" fill="none" stroke="#141408" stroke-opacity="0.85" stroke-width="0.78" stroke-linejoin="round"/>
<polygon points="297.4,84.8 300.9,83.4 297.4,80.5 293.9,81.8" fill="#fad730" stroke="#fad730" stroke-width="0.5" stroke-linejoin="round"/>
<polygon points="293.9,81.8 297.4,80.5 293.9,77.7 290.4,79" fill="#fac832" stroke="#fac832" stroke-width="0.5" stroke-linejoin="round"/>
<polygon points="300.9,83.4 304.4,82.1 300.9,79.2 297.4,80.5" fill="#fad430" stroke="#fad430" stroke-width="0.5" stroke-linejoin="round"/>
<polygon points="297.4,80.5 300.9,79.2 297.3,76.5 293.9,77.7" fill="#fac632" stroke="#fac632" stroke-width="0.5" stroke-linejoin="round"/>
<polygon points="297.4,84.8 304.4,82.1 297.3,76.5 290.4,79" fill="none" stroke="#141408" stroke-opacity="0.85" stroke-width="0.82" stroke-linejoin="round"/>
<polygon points="85.7,125.6 89.1,122.4 85.5,123.2 82.1,126.5" fill="#5dfa74" stroke="#5dfa74" stroke-width="0.5" stroke-linejoin="round"/>
<polygon points="82.1,126.5 85.5,123.2 82,124.3 78.6,127.5" fill="#5cfa82" stroke="#5cfa82" stroke-width="0.5" stroke-linejoin="round"/>
<polygon points="89.1,122.4 92.5,119.2 89,120.1 85.5,123.2" fill="#5efa65" stroke="#5efa65" stroke-width="0.5" stroke-linejoin="round"/>
<polygon points="85.5,123.2 89,120.1 85.4,121.2 82,124.3" fill="#5dfa72" stroke="#5dfa72" stroke-width="0.5" stroke-linejoin="round"/>
<polygon points="85.7,125.6 92.5,119.2 85.4,121.2 78.6,127.5" fill="none" stroke="#141408" stroke-opacity="0.85" stroke-width="0.65" stroke-linejoin="round"/>
<polygon points="155.7,88.3 159.2,85.7 155.6,85.5 152.1,88" fill="#f5e62f" stroke="#f5e62f" stroke-width="0.5" stroke-linejoin="round"/>
<polygon points="152.1,88 155.6,85.5 152,85.4 148.5,88" fill="#f4ea2e" stroke="#f4ea2e" stroke-width="0.5" stroke-linejoin="round"/>
<polygon points="159.2,85.7 162.7,83.2 159.1,83 155.6,85.5" fill="#f9dd30" stroke="#f9dd30" stroke-width="0.5" stroke-linejoin="round"/>
<polygon points="155.6,85.5 159.1,83 155.5,83 152,85.4" fill="#f7e12f" stroke="#f7e12f" stroke-width="0.5" stroke-linejoin="round"/>
<polygon points="155.7,88.3 162.7,83.2 155.5,83 148.5,88" fill="none" stroke="#141408" stroke-opacity="0.85" stroke-width="0.71" stroke-linejoin="round"/>
<polygon points="283.4,81.7 286.9,80.3 283.4,77.6 279.9,79" fill="#fac032" stroke="#fac032" stroke-width="0.5" stroke-linejoin="round"/>
<polygon points="279.9,79 283.4,77.6 279.8,75.1 276.3,76.4" fill="#fab232" stroke="#fab232" stroke-width="0.5" stroke-linejoin="round"/>
<polygon points="286.9,80.3 290.4,79 286.8,76.3 283.4,77.6" fill="#fabd32" stroke="#fabd32" stroke-width="0.5" stroke-linejoin="round"/>
<polygon points="283.4,77.6 286.8,76.3 283.3,73.8 279.8,75.1" fill="#faaf32" stroke="#faaf32" stroke-width="0.5" stroke-linejoin="round"/>
<polygon points="283.4,81.7 290.4,79 283.3,73.8 276.3,76.4" fill="none" stroke="#141408" stroke-opacity="0.85" stroke-width="0.82" stroke-linejoin="round"/>
<polygon points="120.5,104.8 124,101.9 120.4,102.3 116.9,105.2" fill="#a5f83c" stroke="#a5f83c" stroke-width="0.5" stroke-linejoin="round"/>
<polygon points="116.9,105.2 120.4,102.3 116.8,102.8 113.4,105.7" fill="#9cf83d" stroke="#9cf83d" stroke-width="0.5" stroke-linejoin="round"/>
<polygon points="124,101.9 127.4,99.1 123.8,99.5 120.4,102.3" fill="#b2f93b" stroke="#b2f93b" stroke-width="0.5" stroke-linejoin="round"/>
<polygon points="120.4,102.3 123.8,99.5 120.3,100 116.8,102.8" fill="#a9f83c" stroke="#a9f83c" stroke-width="0.5" stroke-linejoin="round"/>
<polygon points="120.5,104.8 127.4,99.1 120.3,100 113.4,105.7" fill="none" stroke="#141408" stroke-opacity="0.85" stroke-width="0.68" stroke-linejoin="round"/>
<polygon points="318.3,95.9 321.7,94.5 318.3,90.8 314.8,92.1" fill="#d4fa37" stroke="#d4fa37" stroke-width="0.5" stroke-linejoin="round"/>
<polygon points="314.8,92.1 318.3,90.8 314.8,87.3 311.4,88.6" fill="#e5f930" stroke="#e5f930" stroke-width="0.5" stroke-linejoin="round"/>
<polygon points="321.7,94.5 325.2,93.2 321.7,89.5 318.3,90.8" fill="#d5f937" stroke="#d5f937" stroke-width="0.5" stroke-linejoin="round"/>
<polygon points="318.3,90.8 321.7,89.5 318.3,86.1 314.8,87.3" fill="#e6f830" stroke="#e6f830" stroke-width="0.5" stroke-linejoin="round"/>
<polygon points="318.3,95.9 325.2,93.2 318.3,86.1 311.4,88.6" fill="none" stroke="#141408" stroke-opacity="0.85" stroke-width="0.82" stroke-linejoin="round"/>
<polygon points="65,141.2 68.4,137.7 64.9,138.8 61.5,142.3" fill="#55fade" stroke="#55fade" stroke-width="0.5" stroke-linejoin="round"/>
<polygon points="61.5,142.3 64.9,138.8 61.4,140 58,143.5" fill="#55f5e8" stroke="#55f5e8" stroke-width="0.5" stroke-linejoin="round"/>
<polygon points="68.4,137.7 71.8,134.2 68.3,135.3 64.9,138.8" fill="#57facc" stroke="#57facc" stroke-width="0.5" stroke-linejoin="round"/>
<polygon points="64.9,138.8 68.3,135.3 64.8,136.6 61.4,140" fill="#55fadd" stroke="#55fadd" stroke-width="0.5" stroke-linejoin="round"/>
<polygon points="65,141.2 71.8,134.2 64.8,136.6 58,143.5" fill="none" stroke="#141408" stroke-opacity="0.85" stroke-width="0.66" stroke-linejoin="round"/>
<polygon points="169.9,84.1 173.4,81.7 169.8,81.2 166.3,83.6" fill="#facd31" stroke="#facd31" stroke-width="0.5" stroke-linejoin="round"/>
<polygon points="166.3,83.6 169.8,81.2 166.2,80.8 162.7,83.2" fill="#fad031" stroke="#fad031" stroke-width="0.5" stroke-linejoin="round"/>
<polygon points="173.4,81.7 176.9,79.3 173.3,78.8 169.8,81.2" fill="#fac432" stroke="#fac432" stroke-width="0.5" stroke-linejoin="round"/>
<polygon points="169.8,81.2 173.3,78.8 169.7,78.5 166.2,80.8" fill="#fac732" stroke="#fac732" stroke-width="0.5" stroke-linejoin="round"/>
<polygon points="169.9,84.1 176.9,79.3 169.7,78.5 162.7,83.2" fill="none" stroke="#141408" stroke-opacity="0.85" stroke-width="0.74" stroke-linejoin="round"/>
<polygon points="269.3,79.4 272.8,77.9 269.3,75.4 265.8,76.9" fill="#faad32" stroke="#faad32" stroke-width="0.5" stroke-linejoin="round"/>
<polygon points="265.8,76.9 269.3,75.4 265.7,73.1 262.2,74.5" fill="#fa9d2f" stroke="#fa9d2f" stroke-width="0.5" stroke-linejoin="round"/>
<polygon points="272.8,77.9 276.3,76.4 272.8,74 269.3,75.4" fill="#faa831" stroke="#faa831" stroke-width="0.5" stroke-linejoin="round"/>
<polygon points="269.3,75.4 272.8,74 269.2,71.7 265.7,73.1" fill="#fa982e" stroke="#fa982e" stroke-width="0.5" stroke-linejoin="round"/>
<polygon points="269.3,79.4 276.3,76.4 269.2,71.7 262.2,74.5" fill="none" stroke="#141408" stroke-opacity="0.85" stroke-width="0.82" stroke-linejoin="round"/>
<polygon points="255.2,77.7 258.7,76.1 255.1,73.8 251.6,75.4" fill="#fa9c2f" stroke="#fa9c2f" stroke-width="0.5" stroke-linejoin="round"/>
<polygon points="251.6,75.4 255.1,73.8 251.6,71.7 248.1,73.3" fill="#f98f2c" stroke="#f98f2c" stroke-width="0.5" stroke-linejoin="round"/>
<polygon points="258.7,76.1 262.2,74.5 258.6,72.3 255.1,73.8" fill="#fa952d" stroke="#fa952d" stroke-width="0.5" stroke-linejoin="round"/>
<polygon points="255.1,73.8 258.6,72.3 255.1,70.2 251.6,71.7" fill="#f9882b" stroke="#f9882b" stroke-width="0.5" stroke-linejoin="round"/>
<polygon points="255.2,77.7 262.2,74.5 255.1,70.2 248.1,73.3" fill="none" stroke="#141408" stroke-opacity="0.85" stroke-width="0.82" stroke-linejoin="round"/>
<polygon points="184.2,80.8 187.7,78.5 184,77.7 180.5,80" fill="#fab832" stroke="#fab832" stroke-width="0.5" stroke-linejoin="round"/>
<polygon points="180.5,80 184,77.7 180.4,77 176.9,79.3" fill="#fab932" stroke="#fab932" stroke-width="0.5" stroke-linejoin="round"/>
<polygon points="187.7,78.5 191.2,76.3 187.5,75.5 184,77.7" fill="#faaf32" stroke="#faaf32" stroke-width="0.5" stroke-linejoin="round"/>
<polygon points="184,77.7 187.5,75.5 183.9,74.8 180.4,77" fill="#fab032" stroke="#fab032" stroke-width="0.5" stroke-linejoin="round"/>
<polygon points="184.2,80.8 191.2,76.3 183.9,74.8 176.9,79.3" fill="none" stroke="#141408" stroke-opacity="0.85" stroke-width="0.76" stroke-linejoin="round"/>
<polygon points="99.6,117.8 103,114.7 99.5,115.3 96,118.4" fill="#6efa4f" stroke="#6efa4f" stroke-width="0.5" stroke-linejoin="round"/>
<polygon points="96,118.4 99.5,115.3 95.9,116.1 92.5,119.2" fill="#68fa54" stroke="#68fa54" stroke-width="0.5" stroke-linejoin="round"/>
<polygon points="103,114.7 106.5,111.6 102.9,112.3 99.5,115.3" fill="#76fa4a" stroke="#76fa4a" stroke-width="0.5" stroke-linejoin="round"/>
<polygon points="99.5,115.3 102.9,112.3 99.4,113.1 95.9,116.1" fill="#70fa4e" stroke="#70fa4e" stroke-width="0.5" stroke-linejoin="round"/>
<polygon points="99.6,117.8 106.5,111.6 99.4,113.1 92.5,119.2" fill="none" stroke="#141408" stroke-opacity="0.85" stroke-width="0.68" stroke-linejoin="round"/>
<polygon points="304.4,91.4 307.9,89.9 304.4,86.6 300.9,88" fill="#eff42d" stroke="#eff42d" stroke-width="0.5" stroke-linejoin="round"/>
<polygon points="300.9,88 304.4,86.6 300.9,83.4 297.4,84.8" fill="#f6e52f" stroke="#f6e52f" stroke-width="0.5" stroke-linejoin="round"/>
<polygon points="307.9,89.9 311.4,88.6 307.9,85.2 304.4,86.6" fill="#f0f22e" stroke="#f0f22e" stroke-width="0.5" stroke-linejoin="round"/>
<polygon points="304.4,86.6 307.9,85.2 304.4,82.1 300.9,83.4" fill="#f6e32f" stroke="#f6e32f" stroke-width="0.5" stroke-linejoin="round"/>
<polygon points="304.4,91.4 311.4,88.6 304.4,82.1 297.4,84.8" fill="none" stroke="#141408" stroke-opacity="0.85" stroke-width="0.82" stroke-linejoin="round"/>
<polygon points="134.6,98.8 138.1,96 134.5,96.1 131,98.8" fill="#cffa39" stroke="#cffa39" stroke-width="0.5" stroke-linejoin="round"/>
<polygon points="131,98.8 134.5,96.1 130.9,96.3 127.4,99.1" fill="#c8fa3a" stroke="#c8fa3a" stroke-width="0.5" stroke-linejoin="round"/>
<polygon points="138.1,96 141.6,93.3 138,93.3 134.5,96.1" fill="#d9f935" stroke="#d9f935" stroke-width="0.5" stroke-linejoin="round"/>
<polygon points="134.5,96.1 138,93.3 134.4,93.6 130.9,96.3" fill="#d3fa38" stroke="#d3fa38" stroke-width="0.5" stroke-linejoin="round"/>
<polygon points="134.6,98.8 141.6,93.3 134.4,93.6 127.4,99.1" fill="none" stroke="#141408" stroke-opacity="0.85" stroke-width="0.71" stroke-linejoin="round"/>
<polygon points="241.1,76.7 244.6,74.9 241,72.9 237.5,74.6" fill="#f9922d" stroke="#f9922d" stroke-width="0.5" stroke-linejoin="round"/>
<polygon points="237.5,74.6 241,72.9 237.4,71 233.9,72.7" fill="#f9882a" stroke="#f9882a" stroke-width="0.5" stroke-linejoin="round"/>
<polygon points="244.6,74.9 248.1,73.3 244.5,71.3 241,72.9" fill="#f98a2b" stroke="#f98a2b" stroke-width="0.5" stroke-linejoin="round"/>
<polygon points="241,72.9 244.5,71.3 240.9,69.4 237.4,71" fill="#f98029" stroke="#f98029" stroke-width="0.5" stroke-linejoin="round"/>
<polygon points="241.1,76.7 248.1,73.3 240.9,69.4 233.9,72.7" fill="none" stroke="#141408" stroke-opacity="0.85" stroke-width="0.82" stroke-linejoin="round"/>
<polygon points="198.4,78.5 201.9,76.3 198.3,75.1 194.8,77.3" fill="#faa531" stroke="#faa531" stroke-width="0.5" stroke-linejoin="round"/>
<polygon points="194.8,77.3 198.3,75.1 194.7,74.2 191.2,76.3" fill="#faa430" stroke="#faa430" stroke-width="0.5" stroke-linejoin="round"/>
<polygon points="201.9,76.3 205.4,74.2 201.8,73.1 198.3,75.1" fill="#fa9a2e" stroke="#fa9a2e" stroke-width="0.5" stroke-linejoin="round"/>
<polygon points="198.3,75.1 201.8,73.1 198.2,72.1 194.7,74.2" fill="#fa992e" stroke="#fa992e" stroke-width="0.5" stroke-linejoin="round"/>
<polygon points="198.4,78.5 205.4,74.2 198.2,72.1 191.2,76.3" fill="none" stroke="#141408" stroke-opacity="0.85" stroke-width="0.78" stroke-linejoin="round"/>
<polygon points="226.9,76.4 230.4,74.5 226.8,72.8 223.3,74.6" fill="#f9902c" stroke="#f9902c" stroke-width="0.5" stroke-linejoin="round"/>
<polygon points="223.3,74.6 226.8,72.8 223.2,71.2 219.6,73" fill="#f9892b" stroke="#f9892b" stroke-width="0.5" stroke-linejoin="round"/>
<polygon points="230.4,74.5 233.9,72.7 230.3,71 226.8,72.8" fill="#f9882a" stroke="#f9882a" stroke-width="0.5" stroke-linejoin="round"/>
<polygon points="226.8,72.8 230.3,71 226.7,69.4 223.2,71.2" fill="#f98029" stroke="#f98029" stroke-width="0.5" stroke-linejoin="round"/>
<polygon points="226.9,76.4 233.9,72.7 226.7,69.4 219.6,73" fill="none" stroke="#141408" stroke-opacity="0.85" stroke-width="0.82" stroke-linejoin="round"/>
<polygon points="212.6,77 216.1,75 212.5,73.5 209,75.5" fill="#fa972e" stroke="#fa972e" stroke-width="0.5" stroke-linejoin="round"/>
<polygon points="209,75.5 212.5,73.5 208.9,72.2 205.4,74.2" fill="#f9922d" stroke="#f9922d" stroke-width="0.5" stroke-linejoin="round"/>
<polygon points="216.1,75 219.6,73 216,71.6 212.5,73.5" fill="#f98d2c" stroke="#f98d2c" stroke-width="0.5" stroke-linejoin="round"/>
<polygon points="212.5,73.5 216,71.6 212.4,70.3 208.9,72.2" fill="#f9892b" stroke="#f9892b" stroke-width="0.5" stroke-linejoin="round"/>
<polygon points="212.6,77 219.6,73 212.4,70.3 205.4,74.2" fill="none" stroke="#141408" stroke-opacity="0.85" stroke-width="0.80" stroke-linejoin="round"/>
<polygon points="78.8,132.4 82.2,129 78.7,129.8 75.3,133.2" fill="#5afa94" stroke="#5afa94" stroke-width="0.5" stroke-linejoin="round"/>
<polygon points="75.3,133.2 78.7,129.8 75.2,130.8 71.8,134.2" fill="#59faa5" stroke="#59faa5" stroke-width="0.5" stroke-linejoin="round"/>
<polygon points="82.2,129 85.7,125.6 82.1,126.5 78.7,129.8" fill="#5bfa84" stroke="#5bfa84" stroke-width="0.5" stroke-linejoin="round"/>
<polygon points="78.7,129.8 82.1,126.5 78.6,127.5 75.2,130.8" fill="#5afa91" stroke="#5afa91" stroke-width="0.5" stroke-linejoin="round"/>
<polygon points="78.8,132.4 85.7,125.6 78.6,127.5 71.8,134.2" fill="none" stroke="#141408" stroke-opacity="0.85" stroke-width="0.68" stroke-linejoin="round"/>
<polygon points="290.5,87.7 293.9,86.2 290.4,83.2 286.9,84.6" fill="#f9dc30" stroke="#f9dc30" stroke-width="0.5" stroke-linejoin="round"/>
<polygon points="286.9,84.6 290.4,83.2 286.9,80.3 283.4,81.7" fill="#face31" stroke="#face31" stroke-width="0.5" stroke-linejoin="round"/>
<polygon points="293.9,86.2 297.4,84.8 293.9,81.8 290.4,83.2" fill="#fad930" stroke="#fad930" stroke-width="0.5" stroke-linejoin="round"/>
<polygon points="290.4,83.2 293.9,81.8 290.4,79 286.9,80.3" fill="#facb31" stroke="#facb31" stroke-width="0.5" stroke-linejoin="round"/>
<polygon points="290.5,87.7 297.4,84.8 290.4,79 283.4,81.7" fill="none" stroke="#141408" stroke-opacity="0.85" stroke-width="0.82" stroke-linejoin="round"/>
<polygon points="148.8,93.6 152.2,90.9 148.6,90.6 145.2,93.3" fill="#edf82d" stroke="#edf82d" stroke-width="0.5" stroke-linejoin="round"/>
<polygon points="145.2,93.3 148.6,90.6 145,90.6 141.6,93.3" fill="#e9f82f" stroke="#e9f82f" stroke-width="0.5" stroke-linejoin="round"/>
<polygon points="152.2,90.9 155.7,88.3 152.1,88 148.6,90.6" fill="#f2ef2e" stroke="#f2ef2e" stroke-width="0.5" stroke-linejoin="round"/>
<polygon points="148.6,90.6 152.1,88 148.5,88 145,90.6" fill="#f0f42d" stroke="#f0f42d" stroke-width="0.5" stroke-linejoin="round"/>
<polygon points="148.8,93.6 155.7,88.3 148.5,88 141.6,93.3" fill="none" stroke="#141408" stroke-opacity="0.85" stroke-width="0.74" stroke-linejoin="round"/>
<polygon points="113.6,110.8 117.1,107.8 113.5,108.1 110,111.1" fill="#8df940" stroke="#8df940" stroke-width="0.5" stroke-linejoin="round"/>
<polygon points="110,111.1 113.5,108.1 109.9,108.6 106.5,111.6" fill="#85fa41" stroke="#85fa41" stroke-width="0.5" stroke-linejoin="round"/>
<polygon points="117.1,107.8 120.5,104.8 116.9,105.2 113.5,108.1" fill="#99f83d" stroke="#99f83d" stroke-width="0.5" stroke-linejoin="round"/>
<polygon points="113.5,108.1 116.9,105.2 113.4,105.7 109.9,108.6" fill="#91f93f" stroke="#91f93f" stroke-width="0.5" stroke-linejoin="round"/>
<polygon points="113.6,110.8 120.5,104.8 113.4,105.7 106.5,111.6" fill="none" stroke="#141408" stroke-opacity="0.85" stroke-width="0.70" stroke-linejoin="round"/>
<polygon points="276.4,84.8 279.9,83.2 276.4,80.5 272.9,82" fill="#fac732" stroke="#fac732" stroke-width="0.5" stroke-linejoin="round"/>
<polygon points="272.9,82 276.4,80.5 272.8,77.9 269.3,79.4" fill="#faba32" stroke="#faba32" stroke-width="0.5" stroke-linejoin="round"/>
<polygon points="279.9,83.2 283.4,81.7 279.9,79 276.4,80.5" fill="#fac432" stroke="#fac432" stroke-width="0.5" stroke-linejoin="round"/>
<polygon points="276.4,80.5 279.9,79 276.3,76.4 272.8,77.9" fill="#fab632" stroke="#fab632" stroke-width="0.5" stroke-linejoin="round"/>
<polygon points="276.4,84.8 283.4,81.7 276.3,76.4 269.3,79.4" fill="none" stroke="#141408" stroke-opacity="0.85" stroke-width="0.82" stroke-linejoin="round"/>
<polygon points="162.9,89.2 166.4,86.6 162.8,86.1 159.3,88.6" fill="#f8df2f" stroke="#f8df2f" stroke-width="0.5" stroke-linejoin="round"/>
<polygon points="159.3,88.6 162.8,86.1 159.2,85.7 155.7,88.3" fill="#f7e22f" stroke="#f7e22f" stroke-width="0.5" stroke-linejoin="round"/>
<polygon points="166.4,86.6 169.9,84.1 166.3,83.6 162.8,86.1" fill="#fad630" stroke="#fad630" stroke-width="0.5" stroke-linejoin="round"/>
<polygon points="162.8,86.1 166.3,83.6 162.7,83.2 159.2,85.7" fill="#fad930" stroke="#fad930" stroke-width="0.5" stroke-linejoin="round"/>
<polygon points="162.9,89.2 169.9,84.1 162.7,83.2 155.7,88.3" fill="none" stroke="#141408" stroke-opacity="0.85" stroke-width="0.76" stroke-linejoin="round"/>
<polygon points="311.4,98.8 314.8,97.3 311.4,93.5 307.9,95" fill="#d0fa39" stroke="#d0fa39" stroke-width="0.5" stroke-linejoin="round"/>
<polygon points="307.9,95 311.4,93.5 307.9,89.9 304.4,91.4" fill="#e1f932" stroke="#e1f932" stroke-width="0.5" stroke-linejoin="round"/>
<polygon points="314.8,97.3 318.3,95.9 314.8,92.1 311.4,93.5" fill="#d2fa38" stroke="#d2fa38" stroke-width="0.5" stroke-linejoin="round"/>
<polygon points="311.4,93.5 314.8,92.1 311.4,88.6 307.9,89.9" fill="#e3f931" stroke="#e3f931" stroke-width="0.5" stroke-linejoin="round"/>
<polygon points="311.4,98.8 318.3,95.9 311.4,88.6 304.4,91.4" fill="none" stroke="#141408" stroke-opacity="0.85" stroke-width="0.82" stroke-linejoin="round"/>
<polygon points="92.7,124.4 96.2,121.1 92.6,121.6 89.2,124.9" fill="#5ffa5d" stroke="#5ffa5d" stroke-width="0.5" stroke-linejoin="round"/>
<polygon points="89.2,124.9 92.6,121.6 89.1,122.4 85.7,125.6" fill="#5efa68" stroke="#5efa68" stroke-width="0.5" stroke-linejoin="round"/>
<polygon points="96.2,121.1 99.6,117.8 96,118.4 92.6,121.6" fill="#66fa55" stroke="#66fa55" stroke-width="0.5" stroke-linejoin="round"/>
<polygon points="92.6,121.6 96,118.4 92.5,119.2 89.1,122.4" fill="#60fa59" stroke="#60fa59" stroke-width="0.5" stroke-linejoin="round"/>
<polygon points="92.7,124.4 99.6,117.8 92.5,119.2 85.7,125.6" fill="none" stroke="#141408" stroke-opacity="0.85" stroke-width="0.71" stroke-linejoin="round"/>
<polygon points="262.4,82.6 265.9,81 262.3,78.4 258.8,80.1" fill="#fab632" stroke="#fab632" stroke-width="0.5" stroke-linejoin="round"/>
<polygon points="258.8,80.1 262.3,78.4 258.7,76.1 255.2,77.7" fill="#faaa32" stroke="#faaa32" stroke-width="0.5" stroke-linejoin="round"/>
<polygon points="265.9,81 269.3,79.4 265.8,76.9 262.3,78.4" fill="#fab132" stroke="#fab132" stroke-width="0.5" stroke-linejoin="round"/>
<polygon points="262.3,78.4 265.8,76.9 262.2,74.5 258.7,76.1" fill="#faa330" stroke="#faa330" stroke-width="0.5" stroke-linejoin="round"/>
<polygon points="262.4,82.6 269.3,79.4 262.2,74.5 255.2,77.7" fill="none" stroke="#141408" stroke-opacity="0.85" stroke-width="0.82" stroke-linejoin="round"/>
<polygon points="177.2,85.7 180.7,83.2 177,82.4 173.5,84.8" fill="#faca31" stroke="#faca31" stroke-width="0.5" stroke-linejoin="round"/>
<polygon points="173.5,84.8 177,82.4 173.4,81.7 169.9,84.1" fill="#facb31" stroke="#facb31" stroke-width="0.5" stroke-linejoin="round"/>
<polygon points="180.7,83.2 184.2,80.8 180.5,80 177,82.4" fill="#fac132" stroke="#fac132" stroke-width="0.5" stroke-linejoin="round"/>
<polygon points="177,82.4 180.5,80 176.9,79.3 173.4,81.7" fill="#fac232" stroke="#fac232" stroke-width="0.5" stroke-linejoin="round"/>
<polygon points="177.2,85.7 184.2,80.8 176.9,79.3 169.9,84.1" fill="none" stroke="#141408" stroke-opacity="0.85" stroke-width="0.78" stroke-linejoin="round"/>
<polygon points="127.7,104.6 131.1,101.7 127.5,101.7 124.1,104.6" fill="#b5f93b" stroke="#b5f93b" stroke-width="0.5" stroke-linejoin="round"/>
<polygon points="124.1,104.6 127.5,101.7 124,101.9 120.5,104.8" fill="#aef93b" stroke="#aef93b" stroke-width="0.5" stroke-linejoin="round"/>
<polygon points="131.1,101.7 134.6,98.8 131,98.8 127.5,101.7" fill="#c2fa3a" stroke="#c2fa3a" stroke-width="0.5" stroke-linejoin="round"/>
<polygon points="127.5,101.7 131,98.8 127.4,99.1 124,101.9" fill="#bbf93b" stroke="#bbf93b" stroke-width="0.5" stroke-linejoin="round"/>
<polygon points="127.7,104.6 134.6,98.8 127.4,99.1 120.5,104.8" fill="none" stroke="#141408" stroke-opacity="0.85" stroke-width="0.73" stroke-linejoin="round"/>
<polygon points="248.2,81.1 251.7,79.4 248.1,77.1 244.6,78.8" fill="#faaa32" stroke="#faaa32" stroke-width="0.5" stroke-linejoin="round"/>
<polygon points="244.6,78.8 248.1,77.1 244.6,74.9 241.1,76.7" fill="#fa9e2f" stroke="#fa9e2f" stroke-width="0.5" stroke-linejoin="round"/>
<polygon points="251.7,79.4 255.2,77.7 251.6,75.4 248.1,77.1" fill="#faa330" stroke="#faa330" stroke-width="0.5" stroke-linejoin="round"/>
<polygon points="248.1,77.1 251.6,75.4 248.1,73.3 244.6,74.9" fill="#fa962d" stroke="#fa962d" stroke-width="0.5" stroke-linejoin="round"/>
<polygon points="248.2,81.1 255.2,77.7 248.1,73.3 241.1,76.7" fill="none" stroke="#141408" stroke-opacity="0.85" stroke-width="0.82" stroke-linejoin="round"/>
<polygon points="191.4,83 194.9,80.7 191.3,79.5 187.8,81.8" fill="#fab932" stroke="#fab932" stroke-width="0.5" stroke-linejoin="round"/>
<polygon points="187.8,81.8 191.3,79.5 187.7,78.5 184.2,80.8" fill="#fab832" stroke="#fab832" stroke-width="0.5" stroke-linejoin="round"/>
<polygon points="194.9,80.7 198.4,78.5 194.8,77.3 191.3,79.5" fill="#fab032" stroke="#fab032" stroke-width="0.5" stroke-linejoin="round"/>
<polygon points="191.3,79.5 194.8,77.3 191.2,76.3 187.7,78.5" fill="#faaf32" stroke="#faaf32" stroke-width="0.5" stroke-linejoin="round"/>
<polygon points="191.4,83 198.4,78.5 191.2,76.3 184.2,80.8" fill="none" stroke="#141408" stroke-opacity="0.85" stroke-width="0.80" stroke-linejoin="round"/>
<polygon points="72,139.5 75.4,135.9 71.9,136.7 68.5,140.3" fill="#58fac0" stroke="#58fac0" stroke-width="0.5" stroke-linejoin="round"/>
<polygon points="68.5,140.3 71.9,136.7 68.4,137.7 65,141.2" fill="#57facf" stroke="#57facf" stroke-width="0.5" stroke-linejoin="round"/>
<polygon points="75.4,135.9 78.8,132.4 75.3,133.2 71.9,136.7" fill="#59faaa" stroke="#59faaa" stroke-width="0.5" stroke-linejoin="round"/>
<polygon points="71.9,136.7 75.3,133.2 71.8,134.2 68.4,137.7" fill="#58fabc" stroke="#58fabc" stroke-width="0.5" stroke-linejoin="round"/>
<polygon points="72,139.5 78.8,132.4 71.8,134.2 65,141.2" fill="none" stroke="#141408" stroke-opacity="0.85" stroke-width="0.71" stroke-linejoin="round"/>
<polygon points="234.1,80.4 237.6,78.5 234,76.4 230.5,78.3" fill="#faa330" stroke="#faa330" stroke-width="0.5" stroke-linejoin="round"/>
<polygon points="230.5,78.3 234,76.4 230.4,74.5 226.9,76.4" fill="#fa992e" stroke="#fa992e" stroke-width="0.5" stroke-linejoin="round"/>
<polygon points="237.6,78.5 241.1,76.7 237.5,74.6 234,76.4" fill="#fa9a2e" stroke="#fa9a2e" stroke-width="0.5" stroke-linejoin="round"/>
<polygon points="234,76.4 237.5,74.6 233.9,72.7 230.4,74.5" fill="#f9902c" stroke="#f9902c" stroke-width="0.5" stroke-linejoin="round"/>
<polygon points="234.1,80.4 241.1,76.7 233.9,72.7 226.9,76.4" fill="none" stroke="#141408" stroke-opacity="0.85" stroke-width="0.82" stroke-linejoin="round"/>
<polygon points="297.5,94.5 300.9,92.9 297.5,89.4 294,91" fill="#ecf82e" stroke="#ecf82e" stroke-width="0.5" stroke-linejoin="round"/>
<polygon points="294,91 297.5,89.4 293.9,86.2 290.5,87.7" fill="#f3ea2e" stroke="#f3ea2e" stroke-width="0.5" stroke-linejoin="round"/>
<polygon points="300.9,92.9 304.4,91.4 300.9,88 297.5,89.4" fill="#eef72d" stroke="#eef72d" stroke-width="0.5" stroke-linejoin="round"/>
<polygon points="297.5,89.4 300.9,88 297.4,84.8 293.9,86.2" fill="#f5e72f" stroke="#f5e72f" stroke-width="0.5" stroke-linejoin="round"/>
<polygon points="297.5,94.5 304.4,91.4 297.4,84.8 290.5,87.7" fill="none" stroke="#141408" stroke-opacity="0.85" stroke-width="0.82" stroke-linejoin="round"/>
<polygon points="205.6,81.3 209.1,79.1 205.5,77.6 202,79.8" fill="#faac32" stroke="#faac32" stroke-width="0.5" stroke-linejoin="round"/>
<polygon points="202,79.8 205.5,77.6 201.9,76.3 198.4,78.5" fill="#faa831" stroke="#faa831" stroke-width="0.5" stroke-linejoin="round"/>
<polygon points="209.1,79.1 212.6,77 209,75.5 205.5,77.6" fill="#faa130" stroke="#faa130" stroke-width="0.5" stroke-linejoin="round"/>
<polygon points="205.5,77.6 209,75.5 205.4,74.2 201.9,76.3" fill="#fa9d2f" stroke="#fa9d2f" stroke-width="0.5" stroke-linejoin="round"/>
<polygon points="205.6,81.3 212.6,77 205.4,74.2 198.4,78.5" fill="none" stroke="#141408" stroke-opacity="0.85" stroke-width="0.82" stroke-linejoin="round"/>
<polygon points="219.8,80.4 223.4,78.4 219.7,76.6 216.2,78.6" fill="#faa430" stroke="#faa430" stroke-width="0.5" stroke-linejoin="round"/>
<polygon points="216.2,78.6 219.7,76.6 216.1,75 212.6,77" fill="#fa9d2f" stroke="#fa9d2f" stroke-width="0.5" stroke-linejoin="round"/>
<polygon points="223.4,78.4 226.9,76.4 223.3,74.6 219.7,76.6" fill="#fa9a2e" stroke="#fa9a2e" stroke-width="0.5" stroke-linejoin="round"/>
<polygon points="219.7,76.6 223.3,74.6 219.6,73 216.1,75" fill="#f9932d" stroke="#f9932d" stroke-width="0.5" stroke-linejoin="round"/>
<polygon points="219.8,80.4 226.9,76.4 219.6,73 212.6,77" fill="none" stroke="#141408" stroke-opacity="0.85" stroke-width="0.82" stroke-linejoin="round"/>
<polygon points="141.8,99.2 145.3,96.3 141.7,96.1 138.2,98.9" fill="#d8f935" stroke="#d8f935" stroke-width="0.5" stroke-linejoin="round"/>
<polygon points="138.2,98.9 141.7,96.1 138.1,96 134.6,98.8" fill="#d4fa37" stroke="#d4fa37" stroke-width="0.5" stroke-linejoin="round"/>
<polygon points="145.3,96.3 148.8,93.6 145.2,93.3 141.7,96.1" fill="#e3f931" stroke="#e3f931" stroke-width="0.5" stroke-linejoin="round"/>
<polygon points="141.7,96.1 145.2,93.3 141.6,93.3 138.1,96" fill="#dff933" stroke="#dff933" stroke-width="0.5" stroke-linejoin="round"/>
<polygon points="141.8,99.2 148.8,93.6 141.6,93.3 134.6,98.8" fill="none" stroke="#141408" stroke-opacity="0.85" stroke-width="0.76" stroke-linejoin="round"/>
<polygon points="106.7,117.1 110.2,113.9 106.6,114.2 103.2,117.4" fill="#79fa48" stroke="#79fa48" stroke-width="0.5" stroke-linejoin="round"/>
<polygon points="103.2,117.4 106.6,114.2 103,114.7 99.6,117.8" fill="#74fa4c" stroke="#74fa4c" stroke-width="0.5" stroke-linejoin="round"/>
<polygon points="110.2,113.9 113.6,110.8 110,111.1 106.6,114.2" fill="#81fa42" stroke="#81fa42" stroke-width="0.5" stroke-linejoin="round"/>
<polygon points="106.6,114.2 110,111.1 106.5,111.6 103,114.7" fill="#7cfa46" stroke="#7cfa46" stroke-width="0.5" stroke-linejoin="round"/>
<polygon points="106.7,117.1 113.6,110.8 106.5,111.6 99.6,117.8" fill="none" stroke="#141408" stroke-opacity="0.85" stroke-width="0.73" stroke-linejoin="round"/>
<polygon points="283.5,91 287,89.3 283.5,86.2 280,87.8" fill="#f7e22f" stroke="#f7e22f" stroke-width="0.5" stroke-linejoin="round"/>
<polygon points="280,87.8 283.5,86.2 279.9,83.2 276.4,84.8" fill="#fad530" stroke="#fad530" stroke-width="0.5" stroke-linejoin="round"/>
<polygon points="287,89.3 290.5,87.7 286.9,84.6 283.5,86.2" fill="#f8df30" stroke="#f8df30" stroke-width="0.5" stroke-linejoin="round"/>
<polygon points="283.5,86.2 286.9,84.6 283.4,81.7 279.9,83.2" fill="#fad131" stroke="#fad131" stroke-width="0.5" stroke-linejoin="round"/>
<polygon points="283.5,91 290.5,87.7 283.4,81.7 276.4,84.8" fill="none" stroke="#141408" stroke-opacity="0.85" stroke-width="0.82" stroke-linejoin="round"/>
<polygon points="156,94.5 159.5,91.8 155.8,91.3 152.4,94" fill="#f0f32e" stroke="#f0f32e" stroke-width="0.5" stroke-linejoin="round"/>
<polygon points="152.4,94 155.8,91.3 152.2,90.9 148.8,93.6" fill="#eff52d" stroke="#eff52d" stroke-width="0.5" stroke-linejoin="round"/>
<polygon points="159.5,91.8 162.9,89.2 159.3,88.6 155.8,91.3" fill="#f4e92f" stroke="#f4e92f" stroke-width="0.5" stroke-linejoin="round"/>
<polygon points="155.8,91.3 159.3,88.6 155.7,88.3 152.2,90.9" fill="#f3eb2e" stroke="#f3eb2e" stroke-width="0.5" stroke-linejoin="round"/>
<polygon points="156,94.5 162.9,89.2 155.7,88.3 148.8,93.6" fill="none" stroke="#141408" stroke-opacity="0.85" stroke-width="0.78" stroke-linejoin="round"/>
<polygon points="85.9,131.2 89.3,127.7 85.8,128.3 82.4,131.7" fill="#5cfa7d" stroke="#5cfa7d" stroke-width="0.5" stroke-linejoin="round"/>
<polygon points="82.4,131.7 85.8,128.3 82.2,129 78.8,132.4" fill="#5bfa88" stroke="#5bfa88" stroke-width="0.5" stroke-linejoin="round"/>
<polygon points="89.3,127.7 92.7,124.4 89.2,124.9 85.8,128.3" fill="#5dfa6c" stroke="#5dfa6c" stroke-width="0.5" stroke-linejoin="round"/>
<polygon points="85.8,128.3 89.2,124.9 85.7,125.6 82.2,129" fill="#5dfa78" stroke="#5dfa78" stroke-width="0.5" stroke-linejoin="round"/>
<polygon points="85.9,131.2 92.7,124.4 85.7,125.6 78.8,132.4" fill="none" stroke="#141408" stroke-opacity="0.85" stroke-width="0.73" stroke-linejoin="round"/>
<polygon points="269.5,88.2 273,86.5 269.4,83.6 265.9,85.3" fill="#fad031" stroke="#fad031" stroke-width="0.5" stroke-linejoin="round"/>
<polygon points="265.9,85.3 269.4,83.6 265.9,81 262.4,82.6" fill="#fac332" stroke="#fac332" stroke-width="0.5" stroke-linejoin="round"/>
<polygon points="273,86.5 276.4,84.8 272.9,82 269.4,83.6" fill="#facb31" stroke="#facb31" stroke-width="0.5" stroke-linejoin="round"/>
<polygon points="269.4,83.6 272.9,82 269.3,79.4 265.9,81" fill="#fabe32" stroke="#fabe32" stroke-width="0.5" stroke-linejoin="round"/>
<polygon points="269.5,88.2 276.4,84.8 269.3,79.4 262.4,82.6" fill="none" stroke="#141408" stroke-opacity="0.85" stroke-width="0.82" stroke-linejoin="round"/>
<polygon points="120.8,110.7 124.2,107.6 120.6,107.6 117.2,110.7" fill="#9af83d" stroke="#9af83d" stroke-width="0.5" stroke-linejoin="round"/>
<polygon points="117.2,110.7 120.6,107.6 117.1,107.8 113.6,110.8" fill="#94f93e" stroke="#94f93e" stroke-width="0.5" stroke-linejoin="round"/>
<polygon points="124.2,107.6 127.7,104.6 124.1,104.6 120.6,107.6" fill="#a7f83c" stroke="#a7f83c" stroke-width="0.5" stroke-linejoin="round"/>
<polygon points="120.6,107.6 124.1,104.6 120.5,104.8 117.1,107.8" fill="#a0f83c" stroke="#a0f83c" stroke-width="0.5" stroke-linejoin="round"/>
<polygon points="120.8,110.7 127.7,104.6 120.5,104.8 113.6,110.8" fill="none" stroke="#141408" stroke-opacity="0.85" stroke-width="0.75" stroke-linejoin="round"/>
<polygon points="170.2,90.8 173.7,88.2 170,87.3 166.6,89.9" fill="#f9dd30" stroke="#f9dd30" stroke-width="0.5" stroke-linejoin="round"/>
<polygon points="166.6,89.9 170,87.3 166.4,86.6 162.9,89.2" fill="#f9de30" stroke="#f9de30" stroke-width="0.5" stroke-linejoin="round"/>
<polygon points="173.7,88.2 177.2,85.7 173.5,84.8 170,87.3" fill="#fad331" stroke="#fad331" stroke-width="0.5" stroke-linejoin="round"/>
<polygon points="170,87.3 173.5,84.8 169.9,84.1 166.4,86.6" fill="#fad430" stroke="#fad430" stroke-width="0.5" stroke-linejoin="round"/>
<polygon points="170.2,90.8 177.2,85.7 169.9,84.1 162.9,89.2" fill="none" stroke="#141408" stroke-opacity="0.85" stroke-width="0.80" stroke-linejoin="round"/>
<polygon points="304.4,102 307.9,100.4 304.4,96.5 301,98.1" fill="#cafa3a" stroke="#cafa3a" stroke-width="0.5" stroke-linejoin="round"/>
<polygon points="301,98.1 304.4,96.5 300.9,92.9 297.5,94.5" fill="#dcf934" stroke="#dcf934" stroke-width="0.5" stroke-linejoin="round"/>
<polygon points="307.9,100.4 311.4,98.8 307.9,95 304.4,96.5" fill="#cefa3a" stroke="#cefa3a" stroke-width="0.5" stroke-linejoin="round"/>
<polygon points="304.4,96.5 307.9,95 304.4,91.4 300.9,92.9" fill="#dff933" stroke="#dff933" stroke-width="0.5" stroke-linejoin="round"/>
<polygon points="304.4,102 311.4,98.8 304.4,91.4 297.5,94.5" fill="none" stroke="#141408" stroke-opacity="0.85" stroke-width="0.82" stroke-linejoin="round"/>
<polygon points="255.4,86.2 258.9,84.4 255.3,81.8 251.8,83.6" fill="#fac232" stroke="#fac232" stroke-width="0.5" stroke-linejoin="round"/>
<polygon points="251.8,83.6 255.3,81.8 251.7,79.4 248.2,81.1" fill="#fab632" stroke="#fab632" stroke-width="0.5" stroke-linejoin="round"/>
<polygon points="258.9,84.4 262.4,82.6 258.8,80.1 255.3,81.8" fill="#fabc32" stroke="#fabc32" stroke-width="0.5" stroke-linejoin="round"/>
<polygon points="255.3,81.8 258.8,80.1 255.2,77.7 251.7,79.4" fill="#fab032" stroke="#fab032" stroke-width="0.5" stroke-linejoin="round"/>
<polygon points="255.4,86.2 262.4,82.6 255.2,77.7 248.2,81.1" fill="none" stroke="#141408" stroke-opacity="0.85" stroke-width="0.82" stroke-linejoin="round"/>
<polygon points="184.4,87.9 187.9,85.4 184.3,84.2 180.8,86.7" fill="#facb31" stroke="#facb31" stroke-width="0.5" stroke-linejoin="round"/>
<polygon points="180.8,86.7 184.3,84.2 180.7,83.2 177.2,85.7" fill="#faca31" stroke="#faca31" stroke-width="0.5" stroke-linejoin="round"/>
<polygon points="187.9,85.4 191.4,83 187.8,81.8 184.3,84.2" fill="#fac232" stroke="#fac232" stroke-width="0.5" stroke-linejoin="round"/>
<polygon points="184.3,84.2 187.8,81.8 184.2,80.8 180.7,83.2" fill="#fac132" stroke="#fac132" stroke-width="0.5" stroke-linejoin="round"/>
<polygon points="184.4,87.9 191.4,83 184.2,80.8 177.2,85.7" fill="none" stroke="#141408" stroke-opacity="0.85" stroke-width="0.82" stroke-linejoin="round"/>
<polygon points="241.2,84.9 244.7,83 241.1,80.7 237.6,82.6" fill="#fab832" stroke="#fab832" stroke-width="0.5" stroke-linejoin="round"/>
<polygon points="237.6,82.6 241.1,80.7 237.6,78.5 234.1,80.4" fill="#faae32" stroke="#faae32" stroke-width="0.5" stroke-linejoin="round"/>
<polygon points="244.7,83 248.2,81.1 244.6,78.8 241.1,80.7" fill="#fab132" stroke="#fab132" stroke-width="0.5" stroke-linejoin="round"/>
<polygon points="241.1,80.7 244.6,78.8 241.1,76.7 237.6,78.5" fill="#faa631" stroke="#faa631" stroke-width="0.5" stroke-linejoin="round"/>
<polygon points="241.2,84.9 248.2,81.1 241.1,76.7 234.1,80.4" fill="none" stroke="#141408" stroke-opacity="0.85" stroke-width="0.82" stroke-linejoin="round"/>
<polygon points="198.6,85.9 202.1,83.5 198.5,82 195,84.4" fill="#fabe32" stroke="#fabe32" stroke-width="0.5" stroke-linejoin="round"/>
<polygon points="195,84.4 198.5,82 194.9,80.7 191.4,83" fill="#fabb32" stroke="#fabb32" stroke-width="0.5" stroke-linejoin="round"/>
<polygon points="202.1,83.5 205.6,81.3 202,79.8 198.5,82" fill="#fab532" stroke="#fab532" stroke-width="0.5" stroke-linejoin="round"/>
<polygon points="198.5,82 202,79.8 198.4,78.5 194.9,80.7" fill="#fab232" stroke="#fab232" stroke-width="0.5" stroke-linejoin="round"/>
<polygon points="198.6,85.9 205.6,81.3 198.4,78.5 191.4,83" fill="none" stroke="#141408" stroke-opacity="0.85" stroke-width="0.82" stroke-linejoin="round"/>
<polygon points="227,84.4 230.5,82.4 227,80.3 223.5,82.3" fill="#fab432" stroke="#fab432" stroke-width="0.5" stroke-linejoin="round"/>
<polygon points="223.5,82.3 227,80.3 223.4,78.4 219.8,80.4" fill="#faac32" stroke="#faac32" stroke-width="0.5" stroke-linejoin="round"/>
<polygon points="230.5,82.4 234.1,80.4 230.5,78.3 227,80.3" fill="#faac32" stroke="#faac32" stroke-width="0.5" stroke-linejoin="round"/>
<polygon points="227,80.3 230.5,78.3 226.9,76.4 223.4,78.4" fill="#faa230" stroke="#faa230" stroke-width="0.5" stroke-linejoin="round"/>
<polygon points="227,84.4 234.1,80.4 226.9,76.4 219.8,80.4" fill="none" stroke="#141408" stroke-opacity="0.85" stroke-width="0.82" stroke-linejoin="round"/>
<polygon points="212.8,84.7 216.3,82.5 212.7,80.7 209.2,82.9" fill="#fab632" stroke="#fab632" stroke-width="0.5" stroke-linejoin="round"/>
<polygon points="209.2,82.9 212.7,80.7 209.1,79.1 205.6,81.3" fill="#fab132" stroke="#fab132" stroke-width="0.5" stroke-linejoin="round"/>
<polygon points="216.3,82.5 219.8,80.4 216.2,78.6 212.7,80.7" fill="#faae32" stroke="#faae32" stroke-width="0.5" stroke-linejoin="round"/>
<polygon points="212.7,80.7 216.2,78.6 212.6,77 209.1,79.1" fill="#faa731" stroke="#faa731" stroke-width="0.5" stroke-linejoin="round"/>
<polygon points="212.8,84.7 219.8,80.4 212.6,77 205.6,81.3" fill="none" stroke="#141408" stroke-opacity="0.85" stroke-width="0.82" stroke-linejoin="round"/>
<polygon points="134.9,105 138.3,102.1 134.7,101.8 131.3,104.7" fill="#c1f93b" stroke="#c1f93b" stroke-width="0.5" stroke-linejoin="round"/>
<polygon points="131.3,104.7 134.7,101.8 131.1,101.7 127.7,104.6" fill="#bbf93b" stroke="#bbf93b" stroke-width="0.5" stroke-linejoin="round"/>
<polygon points="138.3,102.1 141.8,99.2 138.2,98.9 134.7,101.8" fill="#cefa3a" stroke="#cefa3a" stroke-width="0.5" stroke-linejoin="round"/>
<polygon points="134.7,101.8 138.2,98.9 134.6,98.8 131.1,101.7" fill="#c8fa3a" stroke="#c8fa3a" stroke-width="0.5" stroke-linejoin="round"/>
<polygon points="134.9,105 141.8,99.2 134.6,98.8 127.7,104.6" fill="none" stroke="#141408" stroke-opacity="0.85" stroke-width="0.78" stroke-linejoin="round"/>
<polygon points="99.9,123.7 103.3,120.4 99.7,120.6 96.3,124" fill="#68fa54" stroke="#68fa54" stroke-width="0.5" stroke-linejoin="round"/>
<polygon points="96.3,124 99.7,120.6 96.2,121.1 92.7,124.4" fill="#63fa57" stroke="#63fa57" stroke-width="0.5" stroke-linejoin="round"/>
<polygon points="103.3,120.4 106.7,117.1 103.2,117.4 99.7,120.6" fill="#71fa4e" stroke="#71fa4e" stroke-width="0.5" stroke-linejoin="round"/>
<polygon points="99.7,120.6 103.2,117.4 99.6,117.8 96.2,121.1" fill="#6cfa51" stroke="#6cfa51" stroke-width="0.5" stroke-linejoin="round"/>
<polygon points="99.9,123.7 106.7,117.1 99.6,117.8 92.7,124.4" fill="none" stroke="#141408" stroke-opacity="0.85" stroke-width="0.75" stroke-linejoin="round"/>
<polygon points="290.5,97.8 294,96.1 290.5,92.6 287,94.3" fill="#e6f930" stroke="#e6f930" stroke-width="0.5" stroke-linejoin="round"/>
<polygon points="287,94.3 290.5,92.6 287,89.3 283.5,91" fill="#f1f12e" stroke="#f1f12e" stroke-width="0.5" stroke-linejoin="round"/>
<polygon points="294,96.1 297.5,94.5 294,91 290.5,92.6" fill="#e9f82f" stroke="#e9f82f" stroke-width="0.5" stroke-linejoin="round"/>
<polygon points="290.5,92.6 294,91 290.5,87.7 287,89.3" fill="#f2ed2e" stroke="#f2ed2e" stroke-width="0.5" stroke-linejoin="round"/>
<polygon points="290.5,97.8 297.5,94.5 290.5,87.7 283.5,91" fill="none" stroke="#141408" stroke-opacity="0.85" stroke-width="0.82" stroke-linejoin="round"/>
<polygon points="79.1,138.4 82.5,134.8 79,135.3 75.6,138.9" fill="#59faa1" stroke="#59faa1" stroke-width="0.5" stroke-linejoin="round"/>
<polygon points="75.6,138.9 79,135.3 75.4,135.9 72,139.5" fill="#59fab0" stroke="#59fab0" stroke-width="0.5" stroke-linejoin="round"/>
<polygon points="82.5,134.8 85.9,131.2 82.4,131.7 79,135.3" fill="#5bfa8d" stroke="#5bfa8d" stroke-width="0.5" stroke-linejoin="round"/>
<polygon points="79,135.3 82.4,131.7 78.8,132.4 75.4,135.9" fill="#5afa99" stroke="#5afa99" stroke-width="0.5" stroke-linejoin="round"/>
<polygon points="79.1,138.4 85.9,131.2 78.8,132.4 72,139.5" fill="none" stroke="#141408" stroke-opacity="0.85" stroke-width="0.76" stroke-linejoin="round"/>
<polygon points="149,100.2 152.5,97.3 148.9,96.7 145.4,99.6" fill="#dff933" stroke="#dff933" stroke-width="0.5" stroke-linejoin="round"/>
<polygon points="145.4,99.6 148.9,96.7 145.3,96.3 141.8,99.2" fill="#dcf934" stroke="#dcf934" stroke-width="0.5" stroke-linejoin="round"/>
<polygon points="152.5,97.3 156,94.5 152.4,94 148.9,96.7" fill="#e9f82f" stroke="#e9f82f" stroke-width="0.5" stroke-linejoin="round"/>
<polygon points="148.9,96.7 152.4,94 148.8,93.6 145.3,96.3" fill="#e7f830" stroke="#e7f830" stroke-width="0.5" stroke-linejoin="round"/>
<polygon points="149,100.2 156,94.5 148.8,93.6 141.8,99.2" fill="none" stroke="#141408" stroke-opacity="0.85" stroke-width="0.80" stroke-linejoin="round"/>
<polygon points="276.5,94.5 280,92.7 276.5,89.5 273,91.3" fill="#f3ea2e" stroke="#f3ea2e" stroke-width="0.5" stroke-linejoin="round"/>
<polygon points="273,91.3 276.5,89.5 273,86.5 269.5,88.2" fill="#f9dd30" stroke="#f9dd30" stroke-width="0.5" stroke-linejoin="round"/>
<polygon points="280,92.7 283.5,91 280,87.8 276.5,89.5" fill="#f5e62f" stroke="#f5e62f" stroke-width="0.5" stroke-linejoin="round"/>
<polygon points="276.5,89.5 280,87.8 276.4,84.8 273,86.5" fill="#fad930" stroke="#fad930" stroke-width="0.5" stroke-linejoin="round"/>
<polygon points="276.5,94.5 283.5,91 276.4,84.8 269.5,88.2" fill="none" stroke="#141408" stroke-opacity="0.85" stroke-width="0.82" stroke-linejoin="round"/>
<polygon points="113.9,117.1 117.3,113.8 113.7,113.8 110.3,117" fill="#82fa42" stroke="#82fa42" stroke-width="0.5" stroke-linejoin="round"/>
<polygon points="110.3,117 113.7,113.8 110.2,113.9 106.7,117.1" fill="#7efa45" stroke="#7efa45" stroke-width="0.5" stroke-linejoin="round"/>
<polygon points="117.3,113.8 120.8,110.7 117.2,110.7 113.7,113.8" fill="#8ef940" stroke="#8ef940" stroke-width="0.5" stroke-linejoin="round"/>
<polygon points="113.7,113.8 117.2,110.7 113.6,110.8 110.2,113.9" fill="#88fa41" stroke="#88fa41" stroke-width="0.5" stroke-linejoin="round"/>
<polygon points="113.9,117.1 120.8,110.7 113.6,110.8 106.7,117.1" fill="none" stroke="#141408" stroke-opacity="0.85" stroke-width="0.77" stroke-linejoin="round"/>
<polygon points="262.5,91.9 266,90 262.4,87.1 258.9,89" fill="#fada30" stroke="#fada30" stroke-width="0.5" stroke-linejoin="round"/>
<polygon points="258.9,89 262.4,87.1 258.9,84.4 255.4,86.2" fill="#facd31" stroke="#facd31" stroke-width="0.5" stroke-linejoin="round"/>
<polygon points="266,90 269.5,88.2 265.9,85.3 262.4,87.1" fill="#fad530" stroke="#fad530" stroke-width="0.5" stroke-linejoin="round"/>
<polygon points="262.4,87.1 265.9,85.3 262.4,82.6 258.9,84.4" fill="#fac832" stroke="#fac832" stroke-width="0.5" stroke-linejoin="round"/>
<polygon points="262.5,91.9 269.5,88.2 262.4,82.6 255.4,86.2" fill="none" stroke="#141408" stroke-opacity="0.85" stroke-width="0.82" stroke-linejoin="round"/>
<polygon points="163.2,96.2 166.7,93.4 163.1,92.6 159.6,95.3" fill="#f1f02e" stroke="#f1f02e" stroke-width="0.5" stroke-linejoin="round"/>
<polygon points="159.6,95.3 163.1,92.6 159.5,91.8 156,94.5" fill="#f1f12e" stroke="#f1f12e" stroke-width="0.5" stroke-linejoin="round"/>
<polygon points="166.7,93.4 170.2,90.8 166.6,89.9 163.1,92.6" fill="#f5e62f" stroke="#f5e62f" stroke-width="0.5" stroke-linejoin="round"/>
<polygon points="163.1,92.6 166.6,89.9 162.9,89.2 159.5,91.8" fill="#f5e72f" stroke="#f5e72f" stroke-width="0.5" stroke-linejoin="round"/>
<polygon points="163.2,96.2 170.2,90.8 162.9,89.2 156,94.5" fill="none" stroke="#141408" stroke-opacity="0.85" stroke-width="0.82" stroke-linejoin="round"/>
<polygon points="297.5,105.5 301,103.7 297.5,99.8 294,101.6" fill="#c2fa3a" stroke="#c2fa3a" stroke-width="0.5" stroke-linejoin="round"/>
<polygon points="294,101.6 297.5,99.8 294,96.1 290.5,97.8" fill="#d5f937" stroke="#d5f937" stroke-width="0.5" stroke-linejoin="round"/>
<polygon points="301,103.7 304.4,102 301,98.1 297.5,99.8" fill="#c7fa3a" stroke="#c7fa3a" stroke-width="0.5" stroke-linejoin="round"/>
<polygon points="297.5,99.8 301,98.1 297.5,94.5 294,96.1" fill="#d9f935" stroke="#d9f935" stroke-width="0.5" stroke-linejoin="round"/>
<polygon points="297.5,105.5 304.4,102 297.5,94.5 290.5,97.8" fill="none" stroke="#141408" stroke-opacity="0.85" stroke-width="0.82" stroke-linejoin="round"/>
<polygon points="248.4,90.1 251.9,88.1 248.3,85.5 244.8,87.5" fill="#facd31" stroke="#facd31" stroke-width="0.5" stroke-linejoin="round"/>
<polygon points="244.8,87.5 248.3,85.5 244.7,83 241.2,84.9" fill="#fac332" stroke="#fac332" stroke-width="0.5" stroke-linejoin="round"/>
<polygon points="251.9,88.1 255.4,86.2 251.8,83.6 248.3,85.5" fill="#fac732" stroke="#fac732" stroke-width="0.5" stroke-linejoin="round"/>
<polygon points="248.3,85.5 251.8,83.6 248.2,81.1 244.7,83" fill="#fabc32" stroke="#fabc32" stroke-width="0.5" stroke-linejoin="round"/>
<polygon points="248.4,90.1 255.4,86.2 248.2,81.1 241.2,84.9" fill="none" stroke="#141408" stroke-opacity="0.85" stroke-width="0.82" stroke-linejoin="round"/>
<polygon points="177.4,93 180.9,90.4 177.3,89.2 173.8,91.8" fill="#f8de30" stroke="#f8de30" stroke-width="0.5" stroke-linejoin="round"/>
<polygon points="173.8,91.8 177.3,89.2 173.7,88.2 170.2,90.8" fill="#f9dd30" stroke="#f9dd30" stroke-width="0.5" stroke-linejoin="round"/>
<polygon points="180.9,90.4 184.4,87.9 180.8,86.7 177.3,89.2" fill="#fad530" stroke="#fad530" stroke-width="0.5" stroke-linejoin="round"/>
<polygon points="177.3,89.2 180.8,86.7 177.2,85.7 173.7,88.2" fill="#fad431" stroke="#fad431" stroke-width="0.5" stroke-linejoin="round"/>
<polygon points="177.4,93 184.4,87.9 177.2,85.7 170.2,90.8" fill="none" stroke="#141408" stroke-opacity="0.85" stroke-width="0.82" stroke-linejoin="round"/>
<polygon points="93,130.7 96.4,127.2 92.9,127.4 89.5,130.9" fill="#5efa69" stroke="#5efa69" stroke-width="0.5" stroke-linejoin="round"/>
<polygon points="89.5,130.9 92.9,127.4 89.3,127.7 85.9,131.2" fill="#5dfa72" stroke="#5dfa72" stroke-width="0.5" stroke-linejoin="round"/>
<polygon points="96.4,127.2 99.9,123.7 96.3,124 92.9,127.4" fill="#60fa5a" stroke="#60fa5a" stroke-width="0.5" stroke-linejoin="round"/>
<polygon points="92.9,127.4 96.3,124 92.7,124.4 89.3,127.7" fill="#5efa62" stroke="#5efa62" stroke-width="0.5" stroke-linejoin="round"/>
<polygon points="93,130.7 99.9,123.7 92.7,124.4 85.9,131.2" fill="none" stroke="#141408" stroke-opacity="0.85" stroke-width="0.78" stroke-linejoin="round"/>
<polygon points="127.9,111.2 131.4,108.1 127.8,107.8 124.4,110.8" fill="#a5f83c" stroke="#a5f83c" stroke-width="0.5" stroke-linejoin="round"/>
<polygon points="124.4,110.8 127.8,107.8 124.2,107.6 120.8,110.7" fill="#a0f83c" stroke="#a0f83c" stroke-width="0.5" stroke-linejoin="round"/>
<polygon points="131.4,108.1 134.9,105 131.3,104.7 127.8,107.8" fill="#b3f93b" stroke="#b3f93b" stroke-width="0.5" stroke-linejoin="round"/>
<polygon points="127.8,107.8 131.3,104.7 127.7,104.6 124.2,107.6" fill="#aef93b" stroke="#aef93b" stroke-width="0.5" stroke-linejoin="round"/>
<polygon points="127.9,111.2 134.9,105 127.7,104.6 120.8,110.7" fill="none" stroke="#141408" stroke-opacity="0.85" stroke-width="0.80" stroke-linejoin="round"/>
<polygon points="234.2,89.1 237.7,87 234.1,84.6 230.6,86.7" fill="#fac632" stroke="#fac632" stroke-width="0.5" stroke-linejoin="round"/>
<polygon points="230.6,86.7 234.1,84.6 230.5,82.4 227,84.4" fill="#fabd32" stroke="#fabd32" stroke-width="0.5" stroke-linejoin="round"/>
<polygon points="237.7,87 241.2,84.9 237.6,82.6 234.1,84.6" fill="#fabf32" stroke="#fabf32" stroke-width="0.5" stroke-linejoin="round"/>
<polygon points="234.1,84.6 237.6,82.6 234.1,80.4 230.5,82.4" fill="#fab532" stroke="#fab532" stroke-width="0.5" stroke-linejoin="round"/>
<polygon points="234.2,89.1 241.2,84.9 234.1,80.4 227,84.4" fill="none" stroke="#141408" stroke-opacity="0.85" stroke-width="0.82" stroke-linejoin="round"/>
<polygon points="191.6,90.7 195.1,88.3 191.5,86.8 188,89.2" fill="#fad031" stroke="#fad031" stroke-width="0.5" stroke-linejoin="round"/>
<polygon points="188,89.2 191.5,86.8 187.9,85.4 184.4,87.9" fill="#facd31" stroke="#facd31" stroke-width="0.5" stroke-linejoin="round"/>
<polygon points="195.1,88.3 198.6,85.9 195,84.4 191.5,86.8" fill="#fac732" stroke="#fac732" stroke-width="0.5" stroke-linejoin="round"/>
<polygon points="191.5,86.8 195,84.4 191.4,83 187.9,85.4" fill="#fac432" stroke="#fac432" stroke-width="0.5" stroke-linejoin="round"/>
<polygon points="191.6,90.7 198.6,85.9 191.4,83 184.4,87.9" fill="none" stroke="#141408" stroke-opacity="0.85" stroke-width="0.82" stroke-linejoin="round"/>
<polygon points="220,88.8 223.5,86.6 219.9,84.5 216.4,86.7" fill="#fac432" stroke="#fac432" stroke-width="0.5" stroke-linejoin="round"/>
<polygon points="216.4,86.7 219.9,84.5 216.3,82.5 212.8,84.7" fill="#fabd32" stroke="#fabd32" stroke-width="0.5" stroke-linejoin="round"/>
<polygon points="223.5,86.6 227,84.4 223.5,82.3 219.9,84.5" fill="#fabc32" stroke="#fabc32" stroke-width="0.5" stroke-linejoin="round"/>
<polygon points="219.9,84.5 223.5,82.3 219.8,80.4 216.3,82.5" fill="#fab432" stroke="#fab432" stroke-width="0.5" stroke-linejoin="round"/>
<polygon points="220,88.8 227,84.4 219.8,80.4 212.8,84.7" fill="none" stroke="#141408" stroke-opacity="0.85" stroke-width="0.82" stroke-linejoin="round"/>
<polygon points="205.8,89.3 209.3,87 205.7,85.2 202.2,87.5" fill="#fac832" stroke="#fac832" stroke-width="0.5" stroke-linejoin="round"/>
<polygon points="202.2,87.5 205.7,85.2 202.1,83.5 198.6,85.9" fill="#fac332" stroke="#fac332" stroke-width="0.5" stroke-linejoin="round"/>
<polygon points="209.3,87 212.8,84.7 209.2,82.9 205.7,85.2" fill="#fabf32" stroke="#fabf32" stroke-width="0.5" stroke-linejoin="round"/>
<polygon points="205.7,85.2 209.2,82.9 205.6,81.3 202.1,83.5" fill="#faba32" stroke="#faba32" stroke-width="0.5" stroke-linejoin="round"/>
<polygon points="205.8,89.3 212.8,84.7 205.6,81.3 198.6,85.9" fill="none" stroke="#141408" stroke-opacity="0.85" stroke-width="0.82" stroke-linejoin="round"/>
<polygon points="283.6,101.5 287,99.6 283.5,96.1 280.1,97.9" fill="#def933" stroke="#def933" stroke-width="0.5" stroke-linejoin="round"/>
<polygon points="280.1,97.9 283.5,96.1 280,92.7 276.5,94.5" fill="#edf82d" stroke="#edf82d" stroke-width="0.5" stroke-linejoin="round"/>
<polygon points="287,99.6 290.5,97.8 287,94.3 283.5,96.1" fill="#e2f932" stroke="#e2f932" stroke-width="0.5" stroke-linejoin="round"/>
<polygon points="283.5,96.1 287,94.3 283.5,91 280,92.7" fill="#eff52d" stroke="#eff52d" stroke-width="0.5" stroke-linejoin="round"/>
<polygon points="283.6,101.5 290.5,97.8 283.5,91 276.5,94.5" fill="none" stroke="#141408" stroke-opacity="0.85" stroke-width="0.82" stroke-linejoin="round"/>
<polygon points="142.1,106.1 145.5,103.1 141.9,102.5 138.5,105.5" fill="#c8fa3a" stroke="#c8fa3a" stroke-width="0.5" stroke-linejoin="round"/>
<polygon points="138.5,105.5 141.9,102.5 138.3,102.1 134.9,105" fill="#c5fa3a" stroke="#c5fa3a" stroke-width="0.5" stroke-linejoin="round"/>
<polygon points="145.5,103.1 149,100.2 145.4,99.6 141.9,102.5" fill="#d4fa37" stroke="#d4fa37" stroke-width="0.5" stroke-linejoin="round"/>
<polygon points="141.9,102.5 145.4,99.6 141.8,99.2 138.3,102.1" fill="#d1fa38" stroke="#d1fa38" stroke-width="0.5" stroke-linejoin="round"/>
<polygon points="142.1,106.1 149,100.2 141.8,99.2 134.9,105" fill="none" stroke="#141408" stroke-opacity="0.85" stroke-width="0.82" stroke-linejoin="round"/>
<polygon points="107,123.7 110.4,120.4 106.9,120.3 103.4,123.7" fill="#71fa4e" stroke="#71fa4e" stroke-width="0.5" stroke-linejoin="round"/>
<polygon points="103.4,123.7 106.9,120.3 103.3,120.4 99.9,123.7" fill="#6dfa50" stroke="#6dfa50" stroke-width="0.5" stroke-linejoin="round"/>
<polygon points="110.4,120.4 113.9,117.1 110.3,117 106.9,120.3" fill="#79fa48" stroke="#79fa48" stroke-width="0.5" stroke-linejoin="round"/>
<polygon points="106.9,120.3 110.3,117 106.7,117.1 103.3,120.4" fill="#75fa4b" stroke="#75fa4b" stroke-width="0.5" stroke-linejoin="round"/>
<polygon points="107,123.7 113.9,117.1 106.7,117.1 99.9,123.7" fill="none" stroke="#141408" stroke-opacity="0.85" stroke-width="0.80" stroke-linejoin="round"/>
<polygon points="269.6,98.3 273,96.4 269.5,93.1 266,95" fill="#f0f42d" stroke="#f0f42d" stroke-width="0.5" stroke-linejoin="round"/>
<polygon points="266,95 269.5,93.1 266,90 262.5,91.9" fill="#f5e62f" stroke="#f5e62f" stroke-width="0.5" stroke-linejoin="round"/>
<polygon points="273,96.4 276.5,94.5 273,91.3 269.5,93.1" fill="#f2ef2e" stroke="#f2ef2e" stroke-width="0.5" stroke-linejoin="round"/>
<polygon points="269.5,93.1 273,91.3 269.5,88.2 266,90" fill="#f7e12f" stroke="#f7e12f" stroke-width="0.5" stroke-linejoin="round"/>
<polygon points="269.6,98.3 276.5,94.5 269.5,88.2 262.5,91.9" fill="none" stroke="#141408" stroke-opacity="0.85" stroke-width="0.82" stroke-linejoin="round"/>
<polygon points="156.2,101.9 159.7,99 156.1,98.1 152.6,101" fill="#e1f932" stroke="#e1f932" stroke-width="0.5" stroke-linejoin="round"/>
<polygon points="152.6,101 156.1,98.1 152.5,97.3 149,100.2" fill="#e0f932" stroke="#e0f932" stroke-width="0.5" stroke-linejoin="round"/>
<polygon points="159.7,99 163.2,96.2 159.6,95.3 156.1,98.1" fill="#ecf82e" stroke="#ecf82e" stroke-width="0.5" stroke-linejoin="round"/>
<polygon points="156.1,98.1 159.6,95.3 156,94.5 152.5,97.3" fill="#ebf82e" stroke="#ebf82e" stroke-width="0.5" stroke-linejoin="round"/>
<polygon points="156.2,101.9 163.2,96.2 156,94.5 149,100.2" fill="none" stroke="#141408" stroke-opacity="0.85" stroke-width="0.82" stroke-linejoin="round"/>
<polygon points="255.5,95.9 259,93.9 255.4,90.9 251.9,92.9" fill="#f6e52f" stroke="#f6e52f" stroke-width="0.5" stroke-linejoin="round"/>
<polygon points="251.9,92.9 255.4,90.9 251.9,88.1 248.4,90.1" fill="#fad930" stroke="#fad930" stroke-width="0.5" stroke-linejoin="round"/>
<polygon points="259,93.9 262.5,91.9 258.9,89 255.4,90.9" fill="#f8df30" stroke="#f8df30" stroke-width="0.5" stroke-linejoin="round"/>
<polygon points="255.4,90.9 258.9,89 255.4,86.2 251.9,88.1" fill="#fad331" stroke="#fad331" stroke-width="0.5" stroke-linejoin="round"/>
<polygon points="255.5,95.9 262.5,91.9 255.4,86.2 248.4,90.1" fill="none" stroke="#141408" stroke-opacity="0.85" stroke-width="0.82" stroke-linejoin="round"/>
<polygon points="86.2,137.9 89.6,134.3 86,134.4 82.6,138.1" fill="#5bfa8b" stroke="#5bfa8b" stroke-width="0.5" stroke-linejoin="round"/>
<polygon points="82.6,138.1 86,134.4 82.5,134.8 79.1,138.4" fill="#5afa94" stroke="#5afa94" stroke-width="0.5" stroke-linejoin="round"/>
<polygon points="89.6,134.3 93,130.7 89.5,130.9 86,134.4" fill="#5cfa7a" stroke="#5cfa7a" stroke-width="0.5" stroke-linejoin="round"/>
<polygon points="86,134.4 89.5,130.9 85.9,131.2 82.5,134.8" fill="#5cfa83" stroke="#5cfa83" stroke-width="0.5" stroke-linejoin="round"/>
<polygon points="86.2,137.9 93,130.7 85.9,131.2 79.1,138.4" fill="none" stroke="#141408" stroke-opacity="0.85" stroke-width="0.80" stroke-linejoin="round"/>
<polygon points="170.4,98.5 173.9,95.7 170.3,94.5 166.8,97.3" fill="#f1f12e" stroke="#f1f12e" stroke-width="0.5" stroke-linejoin="round"/>
<polygon points="166.8,97.3 170.3,94.5 166.7,93.4 163.2,96.2" fill="#f1f02e" stroke="#f1f02e" stroke-width="0.5" stroke-linejoin="round"/>
<polygon points="173.9,95.7 177.4,93 173.8,91.8 170.3,94.5" fill="#f5e72f" stroke="#f5e72f" stroke-width="0.5" stroke-linejoin="round"/>
<polygon points="170.3,94.5 173.8,91.8 170.2,90.8 166.7,93.4" fill="#f5e62f" stroke="#f5e62f" stroke-width="0.5" stroke-linejoin="round"/>
<polygon points="170.4,98.5 177.4,93 170.2,90.8 163.2,96.2" fill="none" stroke="#141408" stroke-opacity="0.85" stroke-width="0.82" stroke-linejoin="round"/>
<polygon points="121,117.6 124.5,114.4 120.9,114 117.5,117.3" fill="#8bf940" stroke="#8bf940" stroke-width="0.5" stroke-linejoin="round"/>
<polygon points="117.5,117.3 120.9,114 117.3,113.8 113.9,117.1" fill="#87fa41" stroke="#87fa41" stroke-width="0.5" stroke-linejoin="round"/>
<polygon points="124.5,114.4 127.9,111.2 124.4,110.8 120.9,114" fill="#98f93e" stroke="#98f93e" stroke-width="0.5" stroke-linejoin="round"/>
<polygon points="120.9,114 124.4,110.8 120.8,110.7 117.3,113.8" fill="#93f93f" stroke="#93f93f" stroke-width="0.5" stroke-linejoin="round"/>
<polygon points="121,117.6 127.9,111.2 120.8,110.7 113.9,117.1" fill="none" stroke="#141408" stroke-opacity="0.85" stroke-width="0.82" stroke-linejoin="round"/>
<polygon points="241.4,94.3 244.9,92.2 241.3,89.5 237.8,91.6" fill="#fada30" stroke="#fada30" stroke-width="0.5" stroke-linejoin="round"/>
<polygon points="237.8,91.6 241.3,89.5 237.7,87 234.2,89.1" fill="#fad031" stroke="#fad031" stroke-width="0.5" stroke-linejoin="round"/>
<polygon points="244.9,92.2 248.4,90.1 244.8,87.5 241.3,89.5" fill="#fad431" stroke="#fad431" stroke-width="0.5" stroke-linejoin="round"/>
<polygon points="241.3,89.5 244.8,87.5 241.2,84.9 237.7,87" fill="#fac931" stroke="#fac931" stroke-width="0.5" stroke-linejoin="round"/>
<polygon points="241.4,94.3 248.4,90.1 241.2,84.9 234.2,89.1" fill="none" stroke="#141408" stroke-opacity="0.85" stroke-width="0.82" stroke-linejoin="round"/>
<polygon points="290.5,109.3 294,107.4 290.5,103.4 287.1,105.3" fill="#b9f93b" stroke="#b9f93b" stroke-width="0.5" stroke-linejoin="round"/>
<polygon points="287.1,105.3 290.5,103.4 287,99.6 283.6,101.5" fill="#cdfa3a" stroke="#cdfa3a" stroke-width="0.5" stroke-linejoin="round"/>
<polygon points="294,107.4 297.5,105.5 294,101.6 290.5,103.4" fill="#bef93b" stroke="#bef93b" stroke-width="0.5" stroke-linejoin="round"/>
<polygon points="290.5,103.4 294,101.6 290.5,97.8 287,99.6" fill="#d1fa38" stroke="#d1fa38" stroke-width="0.5" stroke-linejoin="round"/>
<polygon points="290.5,109.3 297.5,105.5 290.5,97.8 283.6,101.5" fill="none" stroke="#141408" stroke-opacity="0.85" stroke-width="0.82" stroke-linejoin="round"/>
<polygon points="184.6,96 188.1,93.3 184.5,91.8 181,94.4" fill="#f7e32f" stroke="#f7e32f" stroke-width="0.5" stroke-linejoin="round"/>
<polygon points="181,94.4 184.5,91.8 180.9,90.4 177.4,93" fill="#f8e02f" stroke="#f8e02f" stroke-width="0.5" stroke-linejoin="round"/>
<polygon points="188.1,93.3 191.6,90.7 188,89.2 184.5,91.8" fill="#fad930" stroke="#fad930" stroke-width="0.5" stroke-linejoin="round"/>
<polygon points="184.5,91.8 188,89.2 184.4,87.9 180.9,90.4" fill="#fad730" stroke="#fad730" stroke-width="0.5" stroke-linejoin="round"/>
<polygon points="184.6,96 191.6,90.7 184.4,87.9 177.4,93" fill="none" stroke="#141408" stroke-opacity="0.85" stroke-width="0.82" stroke-linejoin="round"/>
<polygon points="227.2,93.5 230.7,91.2 227.1,88.8 223.6,91.1" fill="#fad530" stroke="#fad530" stroke-width="0.5" stroke-linejoin="round"/>
<polygon points="223.6,91.1 227.1,88.8 223.5,86.6 220,88.8" fill="#facc31" stroke="#facc31" stroke-width="0.5" stroke-linejoin="round"/>
<polygon points="230.7,91.2 234.2,89.1 230.6,86.7 227.1,88.8" fill="#facd31" stroke="#facd31" stroke-width="0.5" stroke-linejoin="round"/>
<polygon points="227.1,88.8 230.6,86.7 227,84.4 223.5,86.6" fill="#fac532" stroke="#fac532" stroke-width="0.5" stroke-linejoin="round"/>
<polygon points="227.2,93.5 234.2,89.1 227,84.4 220,88.8" fill="none" stroke="#141408" stroke-opacity="0.85" stroke-width="0.82" stroke-linejoin="round"/>
<polygon points="198.8,94.3 202.3,91.8 198.7,89.9 195.2,92.4" fill="#fad930" stroke="#fad930" stroke-width="0.5" stroke-linejoin="round"/>
<polygon points="195.2,92.4 198.7,89.9 195.1,88.3 191.6,90.7" fill="#fad431" stroke="#fad431" stroke-width="0.5" stroke-linejoin="round"/>
<polygon points="202.3,91.8 205.8,89.3 202.2,87.5 198.7,89.9" fill="#fad031" stroke="#fad031" stroke-width="0.5" stroke-linejoin="round"/>
<polygon points="198.7,89.9 202.2,87.5 198.6,85.9 195.1,88.3" fill="#facb31" stroke="#facb31" stroke-width="0.5" stroke-linejoin="round"/>
<polygon points="198.8,94.3 205.8,89.3 198.6,85.9 191.6,90.7" fill="none" stroke="#141408" stroke-opacity="0.85" stroke-width="0.82" stroke-linejoin="round"/>
<polygon points="213,93.5 216.5,91.1 212.9,89 209.4,91.3" fill="#fad431" stroke="#fad431" stroke-width="0.5" stroke-linejoin="round"/>
<polygon points="209.4,91.3 212.9,89 209.3,87 205.8,89.3" fill="#facd31" stroke="#facd31" stroke-width="0.5" stroke-linejoin="round"/>
<polygon points="216.5,91.1 220,88.8 216.4,86.7 212.9,89" fill="#facc31" stroke="#facc31" stroke-width="0.5" stroke-linejoin="round"/>
<polygon points="212.9,89 216.4,86.7 212.8,84.7 209.3,87" fill="#fac532" stroke="#fac532" stroke-width="0.5" stroke-linejoin="round"/>
<polygon points="213,93.5 220,88.8 212.8,84.7 205.8,89.3" fill="none" stroke="#141408" stroke-opacity="0.85" stroke-width="0.82" stroke-linejoin="round"/>
<polygon points="135.1,112.3 138.6,109.2 135,108.5 131.5,111.7" fill="#acf93b" stroke="#acf93b" stroke-width="0.5" stroke-linejoin="round"/>
<polygon points="131.5,111.7 135,108.5 131.4,108.1 127.9,111.2" fill="#a9f83c" stroke="#a9f83c" stroke-width="0.5" stroke-linejoin="round"/>
<polygon points="138.6,109.2 142.1,106.1 138.5,105.5 135,108.5" fill="#baf93b" stroke="#baf93b" stroke-width="0.5" stroke-linejoin="round"/>
<polygon points="135,108.5 138.5,105.5 134.9,105 131.4,108.1" fill="#b7f93b" stroke="#b7f93b" stroke-width="0.5" stroke-linejoin="round"/>
<polygon points="135.1,112.3 142.1,106.1 134.9,105 127.9,111.2" fill="none" stroke="#141408" stroke-opacity="0.85" stroke-width="0.82" stroke-linejoin="round"/>
<polygon points="100.1,130.8 103.6,127.2 100,127.1 96.6,130.6" fill="#5ffa5a" stroke="#5ffa5a" stroke-width="0.5" stroke-linejoin="round"/>
<polygon points="96.6,130.6 100,127.1 96.4,127.2 93,130.7" fill="#5efa61" stroke="#5efa61" stroke-width="0.5" stroke-linejoin="round"/>
<polygon points="103.6,127.2 107,123.7 103.4,123.7 100,127.1" fill="#68fa54" stroke="#68fa54" stroke-width="0.5" stroke-linejoin="round"/>
<polygon points="100,127.1 103.4,123.7 99.9,123.7 96.4,127.2" fill="#64fa56" stroke="#64fa56" stroke-width="0.5" stroke-linejoin="round"/>
<polygon points="100.1,130.8 107,123.7 99.9,123.7 93,130.7" fill="none" stroke="#141408" stroke-opacity="0.85" stroke-width="0.82" stroke-linejoin="round"/>
<polygon points="276.6,105.5 280.1,103.5 276.6,99.8 273.1,101.8" fill="#d4fa37" stroke="#d4fa37" stroke-width="0.5" stroke-linejoin="round"/>
<polygon points="273.1,101.8 276.6,99.8 273,96.4 269.6,98.3" fill="#e3f931" stroke="#e3f931" stroke-width="0.5" stroke-linejoin="round"/>
<polygon points="280.1,103.5 283.6,101.5 280.1,97.9 276.6,99.8" fill="#d9f935" stroke="#d9f935" stroke-width="0.5" stroke-linejoin="round"/>
<polygon points="276.6,99.8 280.1,97.9 276.5,94.5 273,96.4" fill="#e8f82f" stroke="#e8f82f" stroke-width="0.5" stroke-linejoin="round"/>
<polygon points="276.6,105.5 283.6,101.5 276.5,94.5 269.6,98.3" fill="none" stroke="#141408" stroke-opacity="0.85" stroke-width="0.82" stroke-linejoin="round"/>
<polygon points="149.3,107.9 152.8,104.8 149.2,103.9 145.7,106.9" fill="#cafa3a" stroke="#cafa3a" stroke-width="0.5" stroke-linejoin="round"/>
<polygon points="145.7,106.9 149.2,103.9 145.5,103.1 142.1,106.1" fill="#cafa3a" stroke="#cafa3a" stroke-width="0.5" stroke-linejoin="round"/>
<polygon points="152.8,104.8 156.2,101.9 152.6,101 149.2,103.9" fill="#d6f936" stroke="#d6f936" stroke-width="0.5" stroke-linejoin="round"/>
<polygon points="149.2,103.9 152.6,101 149,100.2 145.5,103.1" fill="#d5f937" stroke="#d5f937" stroke-width="0.5" stroke-linejoin="round"/>
<polygon points="149.3,107.9 156.2,101.9 149,100.2 142.1,106.1" fill="none" stroke="#141408" stroke-opacity="0.85" stroke-width="0.82" stroke-linejoin="round"/>
<polygon points="262.6,102.5 266.1,100.4 262.5,97 259,99.1" fill="#e7f830" stroke="#e7f830" stroke-width="0.5" stroke-linejoin="round"/>
<polygon points="259,99.1 262.5,97 259,93.9 255.5,95.9" fill="#f1f12e" stroke="#f1f12e" stroke-width="0.5" stroke-linejoin="round"/>
<polygon points="266.1,100.4 269.6,98.3 266,95 262.5,97" fill="#edf82e" stroke="#edf82e" stroke-width="0.5" stroke-linejoin="round"/>
<polygon points="262.5,97 266,95 262.5,91.9 259,93.9" fill="#f3ec2e" stroke="#f3ec2e" stroke-width="0.5" stroke-linejoin="round"/>
<polygon points="262.6,102.5 269.6,98.3 262.5,91.9 255.5,95.9" fill="none" stroke="#141408" stroke-opacity="0.85" stroke-width="0.82" stroke-linejoin="round"/>
<polygon points="114.2,124.4 117.6,121 114,120.6 110.6,124" fill="#77fa4a" stroke="#77fa4a" stroke-width="0.5" stroke-linejoin="round"/>
<polygon points="110.6,124 114,120.6 110.4,120.4 107,123.7" fill="#74fa4b" stroke="#74fa4b" stroke-width="0.5" stroke-linejoin="round"/>
<polygon points="117.6,121 121,117.6 117.5,117.3 114,120.6" fill="#80fa44" stroke="#80fa44" stroke-width="0.5" stroke-linejoin="round"/>
<polygon points="114,120.6 117.5,117.3 113.9,117.1 110.4,120.4" fill="#7dfa46" stroke="#7dfa46" stroke-width="0.5" stroke-linejoin="round"/>
<polygon points="114.2,124.4 121,117.6 113.9,117.1 107,123.7" fill="none" stroke="#141408" stroke-opacity="0.85" stroke-width="0.82" stroke-linejoin="round"/>
<polygon points="163.5,104.2 166.9,101.3 163.3,100.1 159.8,103" fill="#e0f933" stroke="#e0f933" stroke-width="0.5" stroke-linejoin="round"/>
<polygon points="159.8,103 163.3,100.1 159.7,99 156.2,101.9" fill="#e1f932" stroke="#e1f932" stroke-width="0.5" stroke-linejoin="round"/>
<polygon points="166.9,101.3 170.4,98.5 166.8,97.3 163.3,100.1" fill="#ebf82e" stroke="#ebf82e" stroke-width="0.5" stroke-linejoin="round"/>
<polygon points="163.3,100.1 166.8,97.3 163.2,96.2 159.7,99" fill="#ecf82e" stroke="#ecf82e" stroke-width="0.5" stroke-linejoin="round"/>
<polygon points="163.5,104.2 170.4,98.5 163.2,96.2 156.2,101.9" fill="none" stroke="#141408" stroke-opacity="0.85" stroke-width="0.82" stroke-linejoin="round"/>
<polygon points="248.5,100.3 252,98.1 248.4,95 245,97.2" fill="#f1f12e" stroke="#f1f12e" stroke-width="0.5" stroke-linejoin="round"/>
<polygon points="245,97.2 248.4,95 244.9,92.2 241.4,94.3" fill="#f6e52f" stroke="#f6e52f" stroke-width="0.5" stroke-linejoin="round"/>
<polygon points="252,98.1 255.5,95.9 251.9,92.9 248.4,95" fill="#f3eb2e" stroke="#f3eb2e" stroke-width="0.5" stroke-linejoin="round"/>
<polygon points="248.4,95 251.9,92.9 248.4,90.1 244.9,92.2" fill="#f8df30" stroke="#f8df30" stroke-width="0.5" stroke-linejoin="round"/>
<polygon points="248.5,100.3 255.5,95.9 248.4,90.1 241.4,94.3" fill="none" stroke="#141408" stroke-opacity="0.85" stroke-width="0.82" stroke-linejoin="round"/>
<polygon points="177.7,101.5 181.1,98.7 177.5,97.1 174,99.9" fill="#eff62d" stroke="#eff62d" stroke-width="0.5" stroke-linejoin="round"/>
<polygon points="174,99.9 177.5,97.1 173.9,95.7 170.4,98.5" fill="#f0f32d" stroke="#f0f32d" stroke-width="0.5" stroke-linejoin="round"/>
<polygon points="181.1,98.7 184.6,96 181,94.4 177.5,97.1" fill="#f3ec2e" stroke="#f3ec2e" stroke-width="0.5" stroke-linejoin="round"/>
<polygon points="177.5,97.1 181,94.4 177.4,93 173.9,95.7" fill="#f4e92e" stroke="#f4e92e" stroke-width="0.5" stroke-linejoin="round"/>
<polygon points="177.7,101.5 184.6,96 177.4,93 170.4,98.5" fill="none" stroke="#141408" stroke-opacity="0.85" stroke-width="0.82" stroke-linejoin="round"/>
<polygon points="234.4,98.9 237.9,96.6 234.3,93.8 230.8,96.1" fill="#f4e82f" stroke="#f4e82f" stroke-width="0.5" stroke-linejoin="round"/>
<polygon points="230.8,96.1 234.3,93.8 230.7,91.2 227.2,93.5" fill="#f8de30" stroke="#f8de30" stroke-width="0.5" stroke-linejoin="round"/>
<polygon points="237.9,96.6 241.4,94.3 237.8,91.6 234.3,93.8" fill="#f7e12f" stroke="#f7e12f" stroke-width="0.5" stroke-linejoin="round"/>
<polygon points="234.3,93.8 237.8,91.6 234.2,89.1 230.7,91.2" fill="#fad730" stroke="#fad730" stroke-width="0.5" stroke-linejoin="round"/>
<polygon points="234.4,98.9 241.4,94.3 234.2,89.1 227.2,93.5" fill="none" stroke="#141408" stroke-opacity="0.85" stroke-width="0.82" stroke-linejoin="round"/>
<polygon points="283.6,113.4 287.1,111.3 283.6,107.3 280.1,109.3" fill="#adf93b" stroke="#adf93b" stroke-width="0.5" stroke-linejoin="round"/>
<polygon points="280.1,109.3 283.6,107.3 280.1,103.5 276.6,105.5" fill="#c2fa3a" stroke="#c2fa3a" stroke-width="0.5" stroke-linejoin="round"/>
<polygon points="287.1,111.3 290.5,109.3 287.1,105.3 283.6,107.3" fill="#b3f93b" stroke="#b3f93b" stroke-width="0.5" stroke-linejoin="round"/>
<polygon points="283.6,107.3 287.1,105.3 283.6,101.5 280.1,103.5" fill="#c8fa3a" stroke="#c8fa3a" stroke-width="0.5" stroke-linejoin="round"/>
<polygon points="283.6,113.4 290.5,109.3 283.6,101.5 276.6,105.5" fill="none" stroke="#141408" stroke-opacity="0.85" stroke-width="0.82" stroke-linejoin="round"/>
<polygon points="191.9,99.5 195.3,96.9 191.7,95 188.2,97.7" fill="#f3eb2e" stroke="#f3eb2e" stroke-width="0.5" stroke-linejoin="round"/>
<polygon points="188.2,97.7 191.7,95 188.1,93.3 184.6,96" fill="#f5e62f" stroke="#f5e62f" stroke-width="0.5" stroke-linejoin="round"/>
<polygon points="195.3,96.9 198.8,94.3 195.2,92.4 191.7,95" fill="#f7e22f" stroke="#f7e22f" stroke-width="0.5" stroke-linejoin="round"/>
<polygon points="191.7,95 195.2,92.4 191.6,90.7 188.1,93.3" fill="#f9dd30" stroke="#f9dd30" stroke-width="0.5" stroke-linejoin="round"/>
<polygon points="191.9,99.5 198.8,94.3 191.6,90.7 184.6,96" fill="none" stroke="#141408" stroke-opacity="0.85" stroke-width="0.82" stroke-linejoin="round"/>
<polygon points="220.2,98.3 223.7,95.8 220.1,93.4 216.6,95.8" fill="#f6e42f" stroke="#f6e42f" stroke-width="0.5" stroke-linejoin="round"/>
<polygon points="216.6,95.8 220.1,93.4 216.5,91.1 213,93.5" fill="#f9dc30" stroke="#f9dc30" stroke-width="0.5" stroke-linejoin="round"/>
<polygon points="223.7,95.8 227.2,93.5 223.6,91.1 220.1,93.4" fill="#f9dc30" stroke="#f9dc30" stroke-width="0.5" stroke-linejoin="round"/>
<polygon points="220.1,93.4 223.6,91.1 220,88.8 216.5,91.1" fill="#fad431" stroke="#fad431" stroke-width="0.5" stroke-linejoin="round"/>
<polygon points="220.2,98.3 227.2,93.5 220,88.8 213,93.5" fill="none" stroke="#141408" stroke-opacity="0.85" stroke-width="0.82" stroke-linejoin="round"/>
<polygon points="206.1,98.5 209.5,95.9 205.9,93.8 202.4,96.3" fill="#f6e52f" stroke="#f6e52f" stroke-width="0.5" stroke-linejoin="round"/>
<polygon points="202.4,96.3 205.9,93.8 202.3,91.8 198.8,94.3" fill="#f8df30" stroke="#f8df30" stroke-width="0.5" stroke-linejoin="round"/>
<polygon points="209.5,95.9 213,93.5 209.4,91.3 205.9,93.8" fill="#f9dd30" stroke="#f9dd30" stroke-width="0.5" stroke-linejoin="round"/>
<polygon points="205.9,93.8 209.4,91.3 205.8,89.3 202.3,91.8" fill="#fad630" stroke="#fad630" stroke-width="0.5" stroke-linejoin="round"/>
<polygon points="206.1,98.5 213,93.5 205.8,89.3 198.8,94.3" fill="none" stroke="#141408" stroke-opacity="0.85" stroke-width="0.82" stroke-linejoin="round"/>
<polygon points="93.3,138.1 96.7,134.4 93.2,134.2 89.8,137.9" fill="#5cfa7c" stroke="#5cfa7c" stroke-width="0.5" stroke-linejoin="round"/>
<polygon points="89.8,137.9 93.2,134.2 89.6,134.3 86.2,137.9" fill="#5cfa83" stroke="#5cfa83" stroke-width="0.5" stroke-linejoin="round"/>
<polygon points="96.7,134.4 100.1,130.8 96.6,130.6 93.2,134.2" fill="#5efa6b" stroke="#5efa6b" stroke-width="0.5" stroke-linejoin="round"/>
<polygon points="93.2,134.2 96.6,130.6 93,130.7 89.6,134.3" fill="#5dfa72" stroke="#5dfa72" stroke-width="0.5" stroke-linejoin="round"/>
<polygon points="93.3,138.1 100.1,130.8 93,130.7 86.2,137.9" fill="none" stroke="#141408" stroke-opacity="0.85" stroke-width="0.82" stroke-linejoin="round"/>
<polygon points="128.2,118.9 131.7,115.6 128.1,114.9 124.6,118.2" fill="#91f93f" stroke="#91f93f" stroke-width="0.5" stroke-linejoin="round"/>
<polygon points="124.6,118.2 128.1,114.9 124.5,114.4 121,117.6" fill="#8ff93f" stroke="#8ff93f" stroke-width="0.5" stroke-linejoin="round"/>
<polygon points="131.7,115.6 135.1,112.3 131.5,111.7 128.1,114.9" fill="#9ef83c" stroke="#9ef83c" stroke-width="0.5" stroke-linejoin="round"/>
<polygon points="128.1,114.9 131.5,111.7 127.9,111.2 124.5,114.4" fill="#9bf83d" stroke="#9bf83d" stroke-width="0.5" stroke-linejoin="round"/>
<polygon points="128.2,118.9 135.1,112.3 127.9,111.2 121,117.6" fill="none" stroke="#141408" stroke-opacity="0.85" stroke-width="0.82" stroke-linejoin="round"/>
<polygon points="269.6,109.7 273.1,107.6 269.6,103.9 266.1,106" fill="#c8fa3a" stroke="#c8fa3a" stroke-width="0.5" stroke-linejoin="round"/>
<polygon points="266.1,106 269.6,103.9 266.1,100.4 262.6,102.5" fill="#d8f936" stroke="#d8f936" stroke-width="0.5" stroke-linejoin="round"/>
<polygon points="273.1,107.6 276.6,105.5 273.1,101.8 269.6,103.9" fill="#cefa39" stroke="#cefa39" stroke-width="0.5" stroke-linejoin="round"/>
<polygon points="269.6,103.9 273.1,101.8 269.6,98.3 266.1,100.4" fill="#def933" stroke="#def933" stroke-width="0.5" stroke-linejoin="round"/>
<polygon points="269.6,109.7 276.6,105.5 269.6,98.3 262.6,102.5" fill="none" stroke="#141408" stroke-opacity="0.85" stroke-width="0.82" stroke-linejoin="round"/>
<polygon points="142.4,114.2 145.8,111 142.2,110 138.8,113.2" fill="#aff93b" stroke="#aff93b" stroke-width="0.5" stroke-linejoin="round"/>
<polygon points="138.8,113.2 142.2,110 138.6,109.2 135.1,112.3" fill="#aef93b" stroke="#aef93b" stroke-width="0.5" stroke-linejoin="round"/>
<polygon points="145.8,111 149.3,107.9 145.7,106.9 142.2,110" fill="#bdf93b" stroke="#bdf93b" stroke-width="0.5" stroke-linejoin="round"/>
<polygon points="142.2,110 145.7,106.9 142.1,106.1 138.6,109.2" fill="#bcf93b" stroke="#bcf93b" stroke-width="0.5" stroke-linejoin="round"/>
<polygon points="142.4,114.2 149.3,107.9 142.1,106.1 135.1,112.3" fill="none" stroke="#141408" stroke-opacity="0.85" stroke-width="0.82" stroke-linejoin="round"/>
<polygon points="107.3,131.5 110.7,127.9 107.1,127.5 103.7,131" fill="#65fa56" stroke="#65fa56" stroke-width="0.5" stroke-linejoin="round"/>
<polygon points="103.7,131 107.1,127.5 103.6,127.2 100.1,130.8" fill="#62fa58" stroke="#62fa58" stroke-width="0.5" stroke-linejoin="round"/>
<polygon points="110.7,127.9 114.2,124.4 110.6,124 107.1,127.5" fill="#6efa50" stroke="#6efa50" stroke-width="0.5" stroke-linejoin="round"/>
<polygon points="107.1,127.5 110.6,124 107,123.7 103.6,127.2" fill="#6bfa51" stroke="#6bfa51" stroke-width="0.5" stroke-linejoin="round"/>
<polygon points="107.3,131.5 114.2,124.4 107,123.7 100.1,130.8" fill="none" stroke="#141408" stroke-opacity="0.85" stroke-width="0.82" stroke-linejoin="round"/>
<polygon points="255.6,106.9 259.1,104.7 255.6,101.3 252.1,103.5" fill="#daf935" stroke="#daf935" stroke-width="0.5" stroke-linejoin="round"/>
<polygon points="252.1,103.5 255.6,101.3 252,98.1 248.5,100.3" fill="#e8f82f" stroke="#e8f82f" stroke-width="0.5" stroke-linejoin="round"/>
<polygon points="259.1,104.7 262.6,102.5 259,99.1 255.6,101.3" fill="#e1f932" stroke="#e1f932" stroke-width="0.5" stroke-linejoin="round"/>
<polygon points="255.6,101.3 259,99.1 255.5,95.9 252,98.1" fill="#eef72d" stroke="#eef72d" stroke-width="0.5" stroke-linejoin="round"/>
<polygon points="255.6,106.9 262.6,102.5 255.5,95.9 248.5,100.3" fill="none" stroke="#141408" stroke-opacity="0.85" stroke-width="0.82" stroke-linejoin="round"/>
<polygon points="156.5,110.3 160,107.2 156.4,106 152.9,109" fill="#c9fa3a" stroke="#c9fa3a" stroke-width="0.5" stroke-linejoin="round"/>
<polygon points="152.9,109 156.4,106 152.8,104.8 149.3,107.9" fill="#cafa3a" stroke="#cafa3a" stroke-width="0.5" stroke-linejoin="round"/>
<polygon points="160,107.2 163.5,104.2 159.8,103 156.4,106" fill="#d5fa37" stroke="#d5fa37" stroke-width="0.5" stroke-linejoin="round"/>
<polygon points="156.4,106 159.8,103 156.2,101.9 152.8,104.8" fill="#d6f936" stroke="#d6f936" stroke-width="0.5" stroke-linejoin="round"/>
<polygon points="156.5,110.3 163.5,104.2 156.2,101.9 149.3,107.9" fill="none" stroke="#141408" stroke-opacity="0.85" stroke-width="0.82" stroke-linejoin="round"/>
<polygon points="241.5,104.9 245,102.6 241.5,99.5 238,101.8" fill="#e7f830" stroke="#e7f830" stroke-width="0.5" stroke-linejoin="round"/>
<polygon points="238,101.8 241.5,99.5 237.9,96.6 234.4,98.9" fill="#f0f32e" stroke="#f0f32e" stroke-width="0.5" stroke-linejoin="round"/>
<polygon points="245,102.6 248.5,100.3 245,97.2 241.5,99.5" fill="#eef82d" stroke="#eef82d" stroke-width="0.5" stroke-linejoin="round"/>
<polygon points="241.5,99.5 245,97.2 241.4,94.3 237.9,96.6" fill="#f3ec2e" stroke="#f3ec2e" stroke-width="0.5" stroke-linejoin="round"/>
<polygon points="241.5,104.9 248.5,100.3 241.4,94.3 234.4,98.9" fill="none" stroke="#141408" stroke-opacity="0.85" stroke-width="0.82" stroke-linejoin="round"/>
<polygon points="170.7,107.3 174.2,104.3 170.6,102.7 167.1,105.7" fill="#dbf934" stroke="#dbf934" stroke-width="0.5" stroke-linejoin="round"/>
<polygon points="167.1,105.7 170.6,102.7 166.9,101.3 163.5,104.2" fill="#def933" stroke="#def933" stroke-width="0.5" stroke-linejoin="round"/>
<polygon points="174.2,104.3 177.7,101.5 174,99.9 170.6,102.7" fill="#e6f830" stroke="#e6f830" stroke-width="0.5" stroke-linejoin="round"/>
<polygon points="170.6,102.7 174,99.9 170.4,98.5 166.9,101.3" fill="#e9f82f" stroke="#e9f82f" stroke-width="0.5" stroke-linejoin="round"/>
<polygon points="170.7,107.3 177.7,101.5 170.4,98.5 163.5,104.2" fill="none" stroke="#141408" stroke-opacity="0.85" stroke-width="0.82" stroke-linejoin="round"/>
<polygon points="121.3,125.7 124.8,122.3 121.2,121.5 117.8,125" fill="#7bfa47" stroke="#7bfa47" stroke-width="0.5" stroke-linejoin="round"/>
<polygon points="117.8,125 121.2,121.5 117.6,121 114.2,124.4" fill="#79fa48" stroke="#79fa48" stroke-width="0.5" stroke-linejoin="round"/>
<polygon points="124.8,122.3 128.2,118.9 124.6,118.2 121.2,121.5" fill="#84fa42" stroke="#84fa42" stroke-width="0.5" stroke-linejoin="round"/>
<polygon points="121.2,121.5 124.6,118.2 121,117.6 117.6,121" fill="#82fa42" stroke="#82fa42" stroke-width="0.5" stroke-linejoin="round"/>
<polygon points="121.3,125.7 128.2,118.9 121,117.6 114.2,124.4" fill="none" stroke="#141408" stroke-opacity="0.85" stroke-width="0.82" stroke-linejoin="round"/>
<polygon points="227.4,103.7 230.9,101.3 227.3,98.5 223.8,100.9" fill="#eef72d" stroke="#eef72d" stroke-width="0.5" stroke-linejoin="round"/>
<polygon points="223.8,100.9 227.3,98.5 223.7,95.8 220.2,98.3" fill="#f2ed2e" stroke="#f2ed2e" stroke-width="0.5" stroke-linejoin="round"/>
<polygon points="230.9,101.3 234.4,98.9 230.8,96.1 227.3,98.5" fill="#f1ef2e" stroke="#f1ef2e" stroke-width="0.5" stroke-linejoin="round"/>
<polygon points="227.3,98.5 230.8,96.1 227.2,93.5 223.7,95.8" fill="#f5e52f" stroke="#f5e52f" stroke-width="0.5" stroke-linejoin="round"/>
<polygon points="227.4,103.7 234.4,98.9 227.2,93.5 220.2,98.3" fill="none" stroke="#141408" stroke-opacity="0.85" stroke-width="0.82" stroke-linejoin="round"/>
<polygon points="184.9,105.1 188.4,102.3 184.8,100.4 181.3,103.2" fill="#e8f830" stroke="#e8f830" stroke-width="0.5" stroke-linejoin="round"/>
<polygon points="181.3,103.2 184.8,100.4 181.1,98.7 177.7,101.5" fill="#ecf82e" stroke="#ecf82e" stroke-width="0.5" stroke-linejoin="round"/>
<polygon points="188.4,102.3 191.9,99.5 188.2,97.7 184.8,100.4" fill="#eff52d" stroke="#eff52d" stroke-width="0.5" stroke-linejoin="round"/>
<polygon points="184.8,100.4 188.2,97.7 184.6,96 181.1,98.7" fill="#f1f02e" stroke="#f1f02e" stroke-width="0.5" stroke-linejoin="round"/>
<polygon points="184.9,105.1 191.9,99.5 184.6,96 177.7,101.5" fill="none" stroke="#141408" stroke-opacity="0.85" stroke-width="0.82" stroke-linejoin="round"/>
<polygon points="213.2,103.3 216.7,100.8 213.1,98.3 209.7,100.8" fill="#eff52d" stroke="#eff52d" stroke-width="0.5" stroke-linejoin="round"/>
<polygon points="209.7,100.8 213.1,98.3 209.5,95.9 206.1,98.5" fill="#f3ec2e" stroke="#f3ec2e" stroke-width="0.5" stroke-linejoin="round"/>
<polygon points="216.7,100.8 220.2,98.3 216.6,95.8 213.1,98.3" fill="#f3ec2e" stroke="#f3ec2e" stroke-width="0.5" stroke-linejoin="round"/>
<polygon points="213.1,98.3 216.6,95.8 213,93.5 209.5,95.9" fill="#f6e42f" stroke="#f6e42f" stroke-width="0.5" stroke-linejoin="round"/>
<polygon points="213.2,103.3 220.2,98.3 213,93.5 206.1,98.5" fill="none" stroke="#141408" stroke-opacity="0.85" stroke-width="0.82" stroke-linejoin="round"/>
<polygon points="199.1,103.8 202.6,101.1 199,98.9 195.5,101.6" fill="#eef72d" stroke="#eef72d" stroke-width="0.5" stroke-linejoin="round"/>
<polygon points="195.5,101.6 199,98.9 195.3,96.9 191.9,99.5" fill="#f1f12e" stroke="#f1f12e" stroke-width="0.5" stroke-linejoin="round"/>
<polygon points="202.6,101.1 206.1,98.5 202.4,96.3 199,98.9" fill="#f2ee2e" stroke="#f2ee2e" stroke-width="0.5" stroke-linejoin="round"/>
<polygon points="199,98.9 202.4,96.3 198.8,94.3 195.3,96.9" fill="#f5e72f" stroke="#f5e72f" stroke-width="0.5" stroke-linejoin="round"/>
<polygon points="199.1,103.8 206.1,98.5 198.8,94.3 191.9,99.5" fill="none" stroke="#141408" stroke-opacity="0.85" stroke-width="0.82" stroke-linejoin="round"/>
<polygon points="276.6,117.7 280.1,115.5 276.6,111.4 273.1,113.6" fill="#a0f83c" stroke="#a0f83c" stroke-width="0.5" stroke-linejoin="round"/>
<polygon points="273.1,113.6 276.6,111.4 273.1,107.6 269.6,109.7" fill="#b5f93b" stroke="#b5f93b" stroke-width="0.5" stroke-linejoin="round"/>
<polygon points="280.1,115.5 283.6,113.4 280.1,109.3 276.6,111.4" fill="#a7f83c" stroke="#a7f83c" stroke-width="0.5" stroke-linejoin="round"/>
<polygon points="276.6,111.4 280.1,109.3 276.6,105.5 273.1,107.6" fill="#bbf93b" stroke="#bbf93b" stroke-width="0.5" stroke-linejoin="round"/>
<polygon points="276.6,117.7 283.6,113.4 276.6,105.5 269.6,109.7" fill="none" stroke="#141408" stroke-opacity="0.85" stroke-width="0.82" stroke-linejoin="round"/>
<polygon points="135.4,120.8 138.9,117.4 135.3,116.4 131.8,119.7" fill="#93f93f" stroke="#93f93f" stroke-width="0.5" stroke-linejoin="round"/>
<polygon points="131.8,119.7 135.3,116.4 131.7,115.6 128.2,118.9" fill="#93f93f" stroke="#93f93f" stroke-width="0.5" stroke-linejoin="round"/>
<polygon points="138.9,117.4 142.4,114.2 138.8,113.2 135.3,116.4" fill="#a0f83c" stroke="#a0f83c" stroke-width="0.5" stroke-linejoin="round"/>
<polygon points="135.3,116.4 138.8,113.2 135.1,112.3 131.7,115.6" fill="#9ff83c" stroke="#9ff83c" stroke-width="0.5" stroke-linejoin="round"/>
<polygon points="135.4,120.8 142.4,114.2 135.1,112.3 128.2,118.9" fill="none" stroke="#141408" stroke-opacity="0.85" stroke-width="0.82" stroke-linejoin="round"/>
<polygon points="100.5,138.9 103.9,135.2 100.3,134.7 96.9,138.4" fill="#5dfa71" stroke="#5dfa71" stroke-width="0.5" stroke-linejoin="round"/>
<polygon points="96.9,138.4 100.3,134.7 96.7,134.4 93.3,138.1" fill="#5dfa76" stroke="#5dfa76" stroke-width="0.5" stroke-linejoin="round"/>
<polygon points="103.9,135.2 107.3,131.5 103.7,131 100.3,134.7" fill="#5ffa60" stroke="#5ffa60" stroke-width="0.5" stroke-linejoin="round"/>
<polygon points="100.3,134.7 103.7,131 100.1,130.8 96.7,134.4" fill="#5efa65" stroke="#5efa65" stroke-width="0.5" stroke-linejoin="round"/>
<polygon points="100.5,138.9 107.3,131.5 100.1,130.8 93.3,138.1" fill="none" stroke="#141408" stroke-opacity="0.85" stroke-width="0.82" stroke-linejoin="round"/>
<polygon points="262.7,114.3 266.1,112 262.6,108.2 259.1,110.5" fill="#b9f93b" stroke="#b9f93b" stroke-width="0.5" stroke-linejoin="round"/>
<polygon points="259.1,110.5 262.6,108.2 259.1,104.7 255.6,106.9" fill="#ccfa3a" stroke="#ccfa3a" stroke-width="0.5" stroke-linejoin="round"/>
<polygon points="266.1,112 269.6,109.7 266.1,106 262.6,108.2" fill="#c1f93b" stroke="#c1f93b" stroke-width="0.5" stroke-linejoin="round"/>
<polygon points="262.6,108.2 266.1,106 262.6,102.5 259.1,104.7" fill="#d2fa38" stroke="#d2fa38" stroke-width="0.5" stroke-linejoin="round"/>
<polygon points="262.7,114.3 269.6,109.7 262.6,102.5 255.6,106.9" fill="none" stroke="#141408" stroke-opacity="0.85" stroke-width="0.82" stroke-linejoin="round"/>
<polygon points="149.6,116.7 153,113.5 149.4,112.1 146,115.3" fill="#adf93b" stroke="#adf93b" stroke-width="0.5" stroke-linejoin="round"/>
<polygon points="146,115.3 149.4,112.1 145.8,111 142.4,114.2" fill="#aef93b" stroke="#aef93b" stroke-width="0.5" stroke-linejoin="round"/>
<polygon points="153,113.5 156.5,110.3 152.9,109 149.4,112.1" fill="#bbf93b" stroke="#bbf93b" stroke-width="0.5" stroke-linejoin="round"/>
<polygon points="149.4,112.1 152.9,109 149.3,107.9 145.8,111" fill="#bdf93b" stroke="#bdf93b" stroke-width="0.5" stroke-linejoin="round"/>
<polygon points="149.6,116.7 156.5,110.3 149.3,107.9 142.4,114.2" fill="none" stroke="#141408" stroke-opacity="0.85" stroke-width="0.82" stroke-linejoin="round"/>
<polygon points="248.6,111.7 252.1,109.2 248.6,105.8 245.1,108.2" fill="#ccfa3a" stroke="#ccfa3a" stroke-width="0.5" stroke-linejoin="round"/>
<polygon points="245.1,108.2 248.6,105.8 245,102.6 241.5,104.9" fill="#daf935" stroke="#daf935" stroke-width="0.5" stroke-linejoin="round"/>
<polygon points="252.1,109.2 255.6,106.9 252.1,103.5 248.6,105.8" fill="#d4fa37" stroke="#d4fa37" stroke-width="0.5" stroke-linejoin="round"/>
<polygon points="248.6,105.8 252.1,103.5 248.5,100.3 245,102.6" fill="#e1f932" stroke="#e1f932" stroke-width="0.5" stroke-linejoin="round"/>
<polygon points="248.6,111.7 255.6,106.9 248.5,100.3 241.5,104.9" fill="none" stroke="#141408" stroke-opacity="0.85" stroke-width="0.82" stroke-linejoin="round"/>
<polygon points="163.7,113.4 167.2,110.3 163.6,108.7 160.1,111.8" fill="#c3fa3a" stroke="#c3fa3a" stroke-width="0.5" stroke-linejoin="round"/>
<polygon points="160.1,111.8 163.6,108.7 160,107.2 156.5,110.3" fill="#c7fa3a" stroke="#c7fa3a" stroke-width="0.5" stroke-linejoin="round"/>
<polygon points="167.2,110.3 170.7,107.3 167.1,105.7 163.6,108.7" fill="#d0fa39" stroke="#d0fa39" stroke-width="0.5" stroke-linejoin="round"/>
<polygon points="163.6,108.7 167.1,105.7 163.5,104.2 160,107.2" fill="#d3fa38" stroke="#d3fa38" stroke-width="0.5" stroke-linejoin="round"/>
<polygon points="163.7,113.4 170.7,107.3 163.5,104.2 156.5,110.3" fill="none" stroke="#141408" stroke-opacity="0.85" stroke-width="0.82" stroke-linejoin="round"/>
<polygon points="114.5,132.9 117.9,129.3 114.3,128.5 110.9,132.1" fill="#69fa53" stroke="#69fa53" stroke-width="0.5" stroke-linejoin="round"/>
<polygon points="110.9,132.1 114.3,128.5 110.7,127.9 107.3,131.5" fill="#67fa54" stroke="#67fa54" stroke-width="0.5" stroke-linejoin="round"/>
<polygon points="117.9,129.3 121.3,125.7 117.8,125 114.3,128.5" fill="#72fa4d" stroke="#72fa4d" stroke-width="0.5" stroke-linejoin="round"/>
<polygon points="114.3,128.5 117.8,125 114.2,124.4 110.7,127.9" fill="#70fa4e" stroke="#70fa4e" stroke-width="0.5" stroke-linejoin="round"/>
<polygon points="114.5,132.9 121.3,125.7 114.2,124.4 107.3,131.5" fill="none" stroke="#141408" stroke-opacity="0.85" stroke-width="0.82" stroke-linejoin="round"/>
<polygon points="234.5,109.9 238,107.4 234.5,104.2 231,106.7" fill="#d8f936" stroke="#d8f936" stroke-width="0.5" stroke-linejoin="round"/>
<polygon points="231,106.7 234.5,104.2 230.9,101.3 227.4,103.7" fill="#e4f931" stroke="#e4f931" stroke-width="0.5" stroke-linejoin="round"/>
<polygon points="238,107.4 241.5,104.9 238,101.8 234.5,104.2" fill="#e0f933" stroke="#e0f933" stroke-width="0.5" stroke-linejoin="round"/>
<polygon points="234.5,104.2 238,101.8 234.4,98.9 230.9,101.3" fill="#ecf82e" stroke="#ecf82e" stroke-width="0.5" stroke-linejoin="round"/>
<polygon points="234.5,109.9 241.5,104.9 234.4,98.9 227.4,103.7" fill="none" stroke="#141408" stroke-opacity="0.85" stroke-width="0.82" stroke-linejoin="round"/>
<polygon points="177.9,111 181.4,108 177.8,106.1 174.3,109.1" fill="#d3fa38" stroke="#d3fa38" stroke-width="0.5" stroke-linejoin="round"/>
<polygon points="174.3,109.1 177.8,106.1 174.2,104.3 170.7,107.3" fill="#d7f936" stroke="#d7f936" stroke-width="0.5" stroke-linejoin="round"/>
<polygon points="181.4,108 184.9,105.1 181.3,103.2 177.8,106.1" fill="#ddf934" stroke="#ddf934" stroke-width="0.5" stroke-linejoin="round"/>
<polygon points="177.8,106.1 181.3,103.2 177.7,101.5 174.2,104.3" fill="#e2f932" stroke="#e2f932" stroke-width="0.5" stroke-linejoin="round"/>
<polygon points="177.9,111 184.9,105.1 177.7,101.5 170.7,107.3" fill="none" stroke="#141408" stroke-opacity="0.85" stroke-width="0.82" stroke-linejoin="round"/>
<polygon points="220.4,108.9 223.9,106.3 220.3,103.4 216.8,106" fill="#def933" stroke="#def933" stroke-width="0.5" stroke-linejoin="round"/>
<polygon points="216.8,106 220.3,103.4 216.7,100.8 213.2,103.3" fill="#e8f82f" stroke="#e8f82f" stroke-width="0.5" stroke-linejoin="round"/>
<polygon points="223.9,106.3 227.4,103.7 223.8,100.9 220.3,103.4" fill="#e7f830" stroke="#e7f830" stroke-width="0.5" stroke-linejoin="round"/>
<polygon points="220.3,103.4 223.8,100.9 220.2,98.3 216.7,100.8" fill="#eff52d" stroke="#eff52d" stroke-width="0.5" stroke-linejoin="round"/>
<polygon points="220.4,108.9 227.4,103.7 220.2,98.3 213.2,103.3" fill="none" stroke="#141408" stroke-opacity="0.85" stroke-width="0.82" stroke-linejoin="round"/>
<polygon points="192.1,109.4 195.6,106.6 192,104.4 188.5,107.2" fill="#dbf934" stroke="#dbf934" stroke-width="0.5" stroke-linejoin="round"/>
<polygon points="188.5,107.2 192,104.4 188.4,102.3 184.9,105.1" fill="#e2f932" stroke="#e2f932" stroke-width="0.5" stroke-linejoin="round"/>
<polygon points="195.6,106.6 199.1,103.8 195.5,101.6 192,104.4" fill="#e5f930" stroke="#e5f930" stroke-width="0.5" stroke-linejoin="round"/>
<polygon points="192,104.4 195.5,101.6 191.9,99.5 188.4,102.3" fill="#ecf82e" stroke="#ecf82e" stroke-width="0.5" stroke-linejoin="round"/>
<polygon points="192.1,109.4 199.1,103.8 191.9,99.5 184.9,105.1" fill="none" stroke="#141408" stroke-opacity="0.85" stroke-width="0.82" stroke-linejoin="round"/>
<polygon points="206.3,108.7 209.8,106 206.2,103.5 202.7,106.2" fill="#dff933" stroke="#dff933" stroke-width="0.5" stroke-linejoin="round"/>
<polygon points="202.7,106.2 206.2,103.5 202.6,101.1 199.1,103.8" fill="#e8f830" stroke="#e8f830" stroke-width="0.5" stroke-linejoin="round"/>
<polygon points="209.8,106 213.2,103.3 209.7,100.8 206.2,103.5" fill="#e8f82f" stroke="#e8f82f" stroke-width="0.5" stroke-linejoin="round"/>
<polygon points="206.2,103.5 209.7,100.8 206.1,98.5 202.6,101.1" fill="#eff52d" stroke="#eff52d" stroke-width="0.5" stroke-linejoin="round"/>
<polygon points="206.3,108.7 213.2,103.3 206.1,98.5 199.1,103.8" fill="none" stroke="#141408" stroke-opacity="0.85" stroke-width="0.82" stroke-linejoin="round"/>
<polygon points="269.7,122.4 273.2,120 269.7,115.9 266.2,118.2" fill="#94f93e" stroke="#94f93e" stroke-width="0.5" stroke-linejoin="round"/>
<polygon points="266.2,118.2 269.7,115.9 266.1,112 262.7,114.3" fill="#a6f83c" stroke="#a6f83c" stroke-width="0.5" stroke-linejoin="round"/>
<polygon points="273.2,120 276.6,117.7 273.1,113.6 269.7,115.9" fill="#9af83d" stroke="#9af83d" stroke-width="0.5" stroke-linejoin="round"/>
<polygon points="269.7,115.9 273.1,113.6 269.6,109.7 266.1,112" fill="#aef93b" stroke="#aef93b" stroke-width="0.5" stroke-linejoin="round"/>
<polygon points="269.7,122.4 276.6,117.7 269.6,109.7 262.7,114.3" fill="none" stroke="#141408" stroke-opacity="0.85" stroke-width="0.82" stroke-linejoin="round"/>
<polygon points="128.5,127.7 132,124.2 128.4,123.1 124.9,126.6" fill="#7cfa46" stroke="#7cfa46" stroke-width="0.5" stroke-linejoin="round"/>
<polygon points="124.9,126.6 128.4,123.1 124.8,122.3 121.3,125.7" fill="#7cfa46" stroke="#7cfa46" stroke-width="0.5" stroke-linejoin="round"/>
<polygon points="132,124.2 135.4,120.8 131.8,119.7 128.4,123.1" fill="#86fa41" stroke="#86fa41" stroke-width="0.5" stroke-linejoin="round"/>
<polygon points="128.4,123.1 131.8,119.7 128.2,118.9 124.8,122.3" fill="#86fa41" stroke="#86fa41" stroke-width="0.5" stroke-linejoin="round"/>
<polygon points="128.5,127.7 135.4,120.8 128.2,118.9 121.3,125.7" fill="none" stroke="#141408" stroke-opacity="0.85" stroke-width="0.82" stroke-linejoin="round"/>
<polygon points="255.7,119.1 259.2,116.7 255.7,112.9 252.2,115.3" fill="#a9f83c" stroke="#a9f83c" stroke-width="0.5" stroke-linejoin="round"/>
<polygon points="252.2,115.3 255.7,112.9 252.1,109.2 248.6,111.7" fill="#bbf93b" stroke="#bbf93b" stroke-width="0.5" stroke-linejoin="round"/>
<polygon points="259.2,116.7 262.7,114.3 259.1,110.5 255.7,112.9" fill="#b1f93b" stroke="#b1f93b" stroke-width="0.5" stroke-linejoin="round"/>
<polygon points="255.7,112.9 259.1,110.5 255.6,106.9 252.1,109.2" fill="#c4fa3a" stroke="#c4fa3a" stroke-width="0.5" stroke-linejoin="round"/>
<polygon points="255.7,119.1 262.7,114.3 255.6,106.9 248.6,111.7" fill="none" stroke="#141408" stroke-opacity="0.85" stroke-width="0.82" stroke-linejoin="round"/>
<polygon points="142.7,123.4 146.1,120 142.5,118.6 139,122" fill="#92f93f" stroke="#92f93f" stroke-width="0.5" stroke-linejoin="round"/>
<polygon points="139,122 142.5,118.6 138.9,117.4 135.4,120.8" fill="#93f93f" stroke="#93f93f" stroke-width="0.5" stroke-linejoin="round"/>
<polygon points="146.1,120 149.6,116.7 146,115.3 142.5,118.6" fill="#9ff83c" stroke="#9ff83c" stroke-width="0.5" stroke-linejoin="round"/>
<polygon points="142.5,118.6 146,115.3 142.4,114.2 138.9,117.4" fill="#a0f83c" stroke="#a0f83c" stroke-width="0.5" stroke-linejoin="round"/>
<polygon points="142.7,123.4 149.6,116.7 142.4,114.2 135.4,120.8" fill="none" stroke="#141408" stroke-opacity="0.85" stroke-width="0.82" stroke-linejoin="round"/>
<polygon points="107.6,140.4 111.1,136.6 107.5,135.8 104,139.6" fill="#5efa6a" stroke="#5efa6a" stroke-width="0.5" stroke-linejoin="round"/>
<polygon points="104,139.6 107.5,135.8 103.9,135.2 100.5,138.9" fill="#5dfa6d" stroke="#5dfa6d" stroke-width="0.5" stroke-linejoin="round"/>
<polygon points="111.1,136.6 114.5,132.9 110.9,132.1 107.5,135.8" fill="#60fa5a" stroke="#60fa5a" stroke-width="0.5" stroke-linejoin="round"/>
<polygon points="107.5,135.8 110.9,132.1 107.3,131.5 103.9,135.2" fill="#5ffa5c" stroke="#5ffa5c" stroke-width="0.5" stroke-linejoin="round"/>
<polygon points="107.6,140.4 114.5,132.9 107.3,131.5 100.5,138.9" fill="none" stroke="#141408" stroke-opacity="0.85" stroke-width="0.82" stroke-linejoin="round"/>
<polygon points="241.7,116.7 245.1,114.1 241.6,110.7 238.1,113.2" fill="#baf93b" stroke="#baf93b" stroke-width="0.5" stroke-linejoin="round"/>
<polygon points="238.1,113.2 241.6,110.7 238,107.4 234.5,109.9" fill="#cafa3a" stroke="#cafa3a" stroke-width="0.5" stroke-linejoin="round"/>
<polygon points="245.1,114.1 248.6,111.7 245.1,108.2 241.6,110.7" fill="#c4fa3a" stroke="#c4fa3a" stroke-width="0.5" stroke-linejoin="round"/>
<polygon points="241.6,110.7 245.1,108.2 241.5,104.9 238,107.4" fill="#d3fa38" stroke="#d3fa38" stroke-width="0.5" stroke-linejoin="round"/>
<polygon points="241.7,116.7 248.6,111.7 241.5,104.9 234.5,109.9" fill="none" stroke="#141408" stroke-opacity="0.85" stroke-width="0.82" stroke-linejoin="round"/>
<polygon points="156.8,119.9 160.3,116.6 156.7,114.9 153.2,118.2" fill="#a7f83c" stroke="#a7f83c" stroke-width="0.5" stroke-linejoin="round"/>
<polygon points="153.2,118.2 156.7,114.9 153,113.5 149.6,116.7" fill="#abf83c" stroke="#abf83c" stroke-width="0.5" stroke-linejoin="round"/>
<polygon points="160.3,116.6 163.7,113.4 160.1,111.8 156.7,114.9" fill="#b6f93b" stroke="#b6f93b" stroke-width="0.5" stroke-linejoin="round"/>
<polygon points="156.7,114.9 160.1,111.8 156.5,110.3 153,113.5" fill="#b9f93b" stroke="#b9f93b" stroke-width="0.5" stroke-linejoin="round"/>
<polygon points="156.8,119.9 163.7,113.4 156.5,110.3 149.6,116.7" fill="none" stroke="#141408" stroke-opacity="0.85" stroke-width="0.82" stroke-linejoin="round"/>
<polygon points="227.6,115.1 231.1,112.5 227.5,109.3 224,111.9" fill="#c6fa3a" stroke="#c6fa3a" stroke-width="0.5" stroke-linejoin="round"/>
<polygon points="224,111.9 227.5,109.3 223.9,106.3 220.4,108.9" fill="#d3fa38" stroke="#d3fa38" stroke-width="0.5" stroke-linejoin="round"/>
<polygon points="231.1,112.5 234.5,109.9 231,106.7 227.5,109.3" fill="#cffa39" stroke="#cffa39" stroke-width="0.5" stroke-linejoin="round"/>
<polygon points="227.5,109.3 231,106.7 227.4,103.7 223.9,106.3" fill="#dbf934" stroke="#dbf934" stroke-width="0.5" stroke-linejoin="round"/>
<polygon points="227.6,115.1 234.5,109.9 227.4,103.7 220.4,108.9" fill="none" stroke="#141408" stroke-opacity="0.85" stroke-width="0.82" stroke-linejoin="round"/>
<polygon points="171,117.2 174.4,114.1 170.8,112.1 167.3,115.2" fill="#b9f93b" stroke="#b9f93b" stroke-width="0.5" stroke-linejoin="round"/>
<polygon points="167.3,115.2 170.8,112.1 167.2,110.3 163.7,113.4" fill="#bff93b" stroke="#bff93b" stroke-width="0.5" stroke-linejoin="round"/>
<polygon points="174.4,114.1 177.9,111 174.3,109.1 170.8,112.1" fill="#c7fa3a" stroke="#c7fa3a" stroke-width="0.5" stroke-linejoin="round"/>
<polygon points="170.8,112.1 174.3,109.1 170.7,107.3 167.2,110.3" fill="#ccfa3a" stroke="#ccfa3a" stroke-width="0.5" stroke-linejoin="round"/>
<polygon points="171,117.2 177.9,111 170.7,107.3 163.7,113.4" fill="none" stroke="#141408" stroke-opacity="0.85" stroke-width="0.82" stroke-linejoin="round"/>
<polygon points="213.4,114.4 216.9,111.6 213.3,108.7 209.9,111.5" fill="#cbfa3a" stroke="#cbfa3a" stroke-width="0.5" stroke-linejoin="round"/>
<polygon points="209.9,111.5 213.3,108.7 209.8,106 206.3,108.7" fill="#d6f936" stroke="#d6f936" stroke-width="0.5" stroke-linejoin="round"/>
<polygon points="216.9,111.6 220.4,108.9 216.8,106 213.3,108.7" fill="#d5fa37" stroke="#d5fa37" stroke-width="0.5" stroke-linejoin="round"/>
<polygon points="213.3,108.7 216.8,106 213.2,103.3 209.8,106" fill="#dff933" stroke="#dff933" stroke-width="0.5" stroke-linejoin="round"/>
<polygon points="213.4,114.4 220.4,108.9 213.2,103.3 206.3,108.7" fill="none" stroke="#141408" stroke-opacity="0.85" stroke-width="0.82" stroke-linejoin="round"/>
<polygon points="185.1,115.4 188.6,112.4 185,110.1 181.5,113.1" fill="#c5fa3a" stroke="#c5fa3a" stroke-width="0.5" stroke-linejoin="round"/>
<polygon points="181.5,113.1 185,110.1 181.4,108 177.9,111" fill="#cdfa3a" stroke="#cdfa3a" stroke-width="0.5" stroke-linejoin="round"/>
<polygon points="188.6,112.4 192.1,109.4 188.5,107.2 185,110.1" fill="#d1fa38" stroke="#d1fa38" stroke-width="0.5" stroke-linejoin="round"/>
<polygon points="185,110.1 188.5,107.2 184.9,105.1 181.4,108" fill="#d8f936" stroke="#d8f936" stroke-width="0.5" stroke-linejoin="round"/>
<polygon points="185.1,115.4 192.1,109.4 184.9,105.1 177.9,111" fill="none" stroke="#141408" stroke-opacity="0.85" stroke-width="0.82" stroke-linejoin="round"/>
<polygon points="199.3,114.5 202.8,111.6 199.2,109 195.7,111.9" fill="#cbfa3a" stroke="#cbfa3a" stroke-width="0.5" stroke-linejoin="round"/>
<polygon points="195.7,111.9 199.2,109 195.6,106.6 192.1,109.4" fill="#d4fa37" stroke="#d4fa37" stroke-width="0.5" stroke-linejoin="round"/>
<polygon points="202.8,111.6 206.3,108.7 202.7,106.2 199.2,109" fill="#d6f937" stroke="#d6f937" stroke-width="0.5" stroke-linejoin="round"/>
<polygon points="199.2,109 202.7,106.2 199.1,103.8 195.6,106.6" fill="#def933" stroke="#def933" stroke-width="0.5" stroke-linejoin="round"/>
<polygon points="199.3,114.5 206.3,108.7 199.1,103.8 192.1,109.4" fill="none" stroke="#141408" stroke-opacity="0.85" stroke-width="0.82" stroke-linejoin="round"/>
<polygon points="121.7,134.9 125.1,131.3 121.5,130.2 118.1,133.8" fill="#6afa52" stroke="#6afa52" stroke-width="0.5" stroke-linejoin="round"/>
<polygon points="118.1,133.8 121.5,130.2 117.9,129.3 114.5,132.9" fill="#6afa53" stroke="#6afa53" stroke-width="0.5" stroke-linejoin="round"/>
<polygon points="125.1,131.3 128.5,127.7 124.9,126.6 121.5,130.2" fill="#73fa4c" stroke="#73fa4c" stroke-width="0.5" stroke-linejoin="round"/>
<polygon points="121.5,130.2 124.9,126.6 121.3,125.7 117.9,129.3" fill="#73fa4c" stroke="#73fa4c" stroke-width="0.5" stroke-linejoin="round"/>
<polygon points="121.7,134.9 128.5,127.7 121.3,125.7 114.5,132.9" fill="none" stroke="#141408" stroke-opacity="0.85" stroke-width="0.82" stroke-linejoin="round"/>
<polygon points="262.7,127.3 266.2,124.8 262.7,120.7 259.2,123.1" fill="#86fa41" stroke="#86fa41" stroke-width="0.5" stroke-linejoin="round"/>
<polygon points="259.2,123.1 262.7,120.7 259.2,116.7 255.7,119.1" fill="#97f93e" stroke="#97f93e" stroke-width="0.5" stroke-linejoin="round"/>
<polygon points="266.2,124.8 269.7,122.4 266.2,118.2 262.7,120.7" fill="#8df940" stroke="#8df940" stroke-width="0.5" stroke-linejoin="round"/>
<polygon points="262.7,120.7 266.2,118.2 262.7,114.3 259.2,116.7" fill="#9ef83c" stroke="#9ef83c" stroke-width="0.5" stroke-linejoin="round"/>
<polygon points="262.7,127.3 269.7,122.4 262.7,114.3 255.7,119.1" fill="none" stroke="#141408" stroke-opacity="0.85" stroke-width="0.82" stroke-linejoin="round"/>
<polygon points="135.8,130.4 139.2,126.8 135.6,125.4 132.2,128.9" fill="#7bfa47" stroke="#7bfa47" stroke-width="0.5" stroke-linejoin="round"/>
<polygon points="132.2,128.9 135.6,125.4 132,124.2 128.5,127.7" fill="#7cfa46" stroke="#7cfa46" stroke-width="0.5" stroke-linejoin="round"/>
<polygon points="139.2,126.8 142.7,123.4 139,122 135.6,125.4" fill="#85fa41" stroke="#85fa41" stroke-width="0.5" stroke-linejoin="round"/>
<polygon points="135.6,125.4 139,122 135.4,120.8 132,124.2" fill="#86fa41" stroke="#86fa41" stroke-width="0.5" stroke-linejoin="round"/>
<polygon points="135.8,130.4 142.7,123.4 135.4,120.8 128.5,127.7" fill="none" stroke="#141408" stroke-opacity="0.85" stroke-width="0.82" stroke-linejoin="round"/>
<polygon points="248.7,124.3 252.2,121.7 248.7,117.8 245.2,120.4" fill="#98f93e" stroke="#98f93e" stroke-width="0.5" stroke-linejoin="round"/>
<polygon points="245.2,120.4 248.7,117.8 245.1,114.1 241.7,116.7" fill="#a9f83c" stroke="#a9f83c" stroke-width="0.5" stroke-linejoin="round"/>
<polygon points="252.2,121.7 255.7,119.1 252.2,115.3 248.7,117.8" fill="#a0f83c" stroke="#a0f83c" stroke-width="0.5" stroke-linejoin="round"/>
<polygon points="248.7,117.8 252.2,115.3 248.6,111.7 245.1,114.1" fill="#b2f93b" stroke="#b2f93b" stroke-width="0.5" stroke-linejoin="round"/>
<polygon points="248.7,124.3 255.7,119.1 248.6,111.7 241.7,116.7" fill="none" stroke="#141408" stroke-opacity="0.85" stroke-width="0.82" stroke-linejoin="round"/>
<polygon points="149.9,126.6 153.3,123.2 149.7,121.5 146.3,124.9" fill="#8df940" stroke="#8df940" stroke-width="0.5" stroke-linejoin="round"/>
<polygon points="146.3,124.9 149.7,121.5 146.1,120 142.7,123.4" fill="#90f93f" stroke="#90f93f" stroke-width="0.5" stroke-linejoin="round"/>
<polygon points="153.3,123.2 156.8,119.9 153.2,118.2 149.7,121.5" fill="#9af83d" stroke="#9af83d" stroke-width="0.5" stroke-linejoin="round"/>
<polygon points="149.7,121.5 153.2,118.2 149.6,116.7 146.1,120" fill="#9df83d" stroke="#9df83d" stroke-width="0.5" stroke-linejoin="round"/>
<polygon points="149.9,126.6 156.8,119.9 149.6,116.7 142.7,123.4" fill="none" stroke="#141408" stroke-opacity="0.85" stroke-width="0.82" stroke-linejoin="round"/>
<polygon points="234.7,122.1 238.2,119.4 234.6,115.8 231.1,118.5" fill="#a7f83c" stroke="#a7f83c" stroke-width="0.5" stroke-linejoin="round"/>
<polygon points="231.1,118.5 234.6,115.8 231.1,112.5 227.6,115.1" fill="#b7f93b" stroke="#b7f93b" stroke-width="0.5" stroke-linejoin="round"/>
<polygon points="238.2,119.4 241.7,116.7 238.1,113.2 234.6,115.8" fill="#b1f93b" stroke="#b1f93b" stroke-width="0.5" stroke-linejoin="round"/>
<polygon points="234.6,115.8 238.1,113.2 234.5,109.9 231.1,112.5" fill="#c1f93b" stroke="#c1f93b" stroke-width="0.5" stroke-linejoin="round"/>
<polygon points="234.7,122.1 241.7,116.7 234.5,109.9 227.6,115.1" fill="none" stroke="#141408" stroke-opacity="0.85" stroke-width="0.82" stroke-linejoin="round"/>
<polygon points="164,123.7 167.5,120.4 163.9,118.4 160.4,121.7" fill="#9ef83c" stroke="#9ef83c" stroke-width="0.5" stroke-linejoin="round"/>
<polygon points="160.4,121.7 163.9,118.4 160.3,116.6 156.8,119.9" fill="#a3f83c" stroke="#a3f83c" stroke-width="0.5" stroke-linejoin="round"/>
<polygon points="167.5,120.4 171,117.2 167.3,115.2 163.9,118.4" fill="#abf93b" stroke="#abf93b" stroke-width="0.5" stroke-linejoin="round"/>
<polygon points="163.9,118.4 167.3,115.2 163.7,113.4 160.3,116.6" fill="#b1f93b" stroke="#b1f93b" stroke-width="0.5" stroke-linejoin="round"/>
<polygon points="164,123.7 171,117.2 163.7,113.4 156.8,119.9" fill="none" stroke="#141408" stroke-opacity="0.85" stroke-width="0.82" stroke-linejoin="round"/>
<polygon points="220.6,120.7 224.1,117.9 220.5,114.6 217,117.5" fill="#b0f93b" stroke="#b0f93b" stroke-width="0.5" stroke-linejoin="round"/>
<polygon points="217,117.5 220.5,114.6 216.9,111.6 213.4,114.4" fill="#bef93b" stroke="#bef93b" stroke-width="0.5" stroke-linejoin="round"/>
<polygon points="224.1,117.9 227.6,115.1 224,111.9 220.5,114.6" fill="#bbf93b" stroke="#bbf93b" stroke-width="0.5" stroke-linejoin="round"/>
<polygon points="220.5,114.6 224,111.9 220.4,108.9 216.9,111.6" fill="#c9fa3a" stroke="#c9fa3a" stroke-width="0.5" stroke-linejoin="round"/>
<polygon points="220.6,120.7 227.6,115.1 220.4,108.9 213.4,114.4" fill="none" stroke="#141408" stroke-opacity="0.85" stroke-width="0.82" stroke-linejoin="round"/>
<polygon points="114.8,142.5 118.2,138.7 114.6,137.6 111.2,141.4" fill="#5efa68" stroke="#5efa68" stroke-width="0.5" stroke-linejoin="round"/>
<polygon points="111.2,141.4 114.6,137.6 111.1,136.6 107.6,140.4" fill="#5efa68" stroke="#5efa68" stroke-width="0.5" stroke-linejoin="round"/>
<polygon points="118.2,138.7 121.7,134.9 118.1,133.8 114.6,137.6" fill="#61fa59" stroke="#61fa59" stroke-width="0.5" stroke-linejoin="round"/>
<polygon points="114.6,137.6 118.1,133.8 114.5,132.9 111.1,136.6" fill="#61fa59" stroke="#61fa59" stroke-width="0.5" stroke-linejoin="round"/>
<polygon points="114.8,142.5 121.7,134.9 114.5,132.9 107.6,140.4" fill="none" stroke="#141408" stroke-opacity="0.85" stroke-width="0.82" stroke-linejoin="round"/>
<polygon points="178.2,121.7 181.6,118.5 178,116.2 174.6,119.4" fill="#abf83c" stroke="#abf83c" stroke-width="0.5" stroke-linejoin="round"/>
<polygon points="174.6,119.4 178,116.2 174.4,114.1 171,117.2" fill="#b3f93b" stroke="#b3f93b" stroke-width="0.5" stroke-linejoin="round"/>
<polygon points="181.6,118.5 185.1,115.4 181.5,113.1 178,116.2" fill="#b8f93b" stroke="#b8f93b" stroke-width="0.5" stroke-linejoin="round"/>
<polygon points="178,116.2 181.5,113.1 177.9,111 174.4,114.1" fill="#c0f93b" stroke="#c0f93b" stroke-width="0.5" stroke-linejoin="round"/>
<polygon points="178.2,121.7 185.1,115.4 177.9,111 171,117.2" fill="none" stroke="#141408" stroke-opacity="0.85" stroke-width="0.82" stroke-linejoin="round"/>
<polygon points="206.5,120.2 210,117.2 206.4,114.3 202.9,117.2" fill="#b4f93b" stroke="#b4f93b" stroke-width="0.5" stroke-linejoin="round"/>
<polygon points="202.9,117.2 206.4,114.3 202.8,111.6 199.3,114.5" fill="#c0f93b" stroke="#c0f93b" stroke-width="0.5" stroke-linejoin="round"/>
<polygon points="210,117.2 213.4,114.4 209.9,111.5 206.4,114.3" fill="#c0f93b" stroke="#c0f93b" stroke-width="0.5" stroke-linejoin="round"/>
<polygon points="206.4,114.3 209.9,111.5 206.3,108.7 202.8,111.6" fill="#ccfa3a" stroke="#ccfa3a" stroke-width="0.5" stroke-linejoin="round"/>
<polygon points="206.5,120.2 213.4,114.4 206.3,108.7 199.3,114.5" fill="none" stroke="#141408" stroke-opacity="0.85" stroke-width="0.82" stroke-linejoin="round"/>
<polygon points="192.3,120.5 195.8,117.4 192.2,114.8 188.7,117.9" fill="#b3f93b" stroke="#b3f93b" stroke-width="0.5" stroke-linejoin="round"/>
<polygon points="188.7,117.9 192.2,114.8 188.6,112.4 185.1,115.4" fill="#bcf93b" stroke="#bcf93b" stroke-width="0.5" stroke-linejoin="round"/>
<polygon points="195.8,117.4 199.3,114.5 195.7,111.9 192.2,114.8" fill="#bff93b" stroke="#bff93b" stroke-width="0.5" stroke-linejoin="round"/>
<polygon points="192.2,114.8 195.7,111.9 192.1,109.4 188.6,112.4" fill="#c9fa3a" stroke="#c9fa3a" stroke-width="0.5" stroke-linejoin="round"/>
<polygon points="192.3,120.5 199.3,114.5 192.1,109.4 185.1,115.4" fill="none" stroke="#141408" stroke-opacity="0.85" stroke-width="0.82" stroke-linejoin="round"/>
<polygon points="128.9,137.7 132.3,134 128.7,132.5 125.3,136.2" fill="#69fa53" stroke="#69fa53" stroke-width="0.5" stroke-linejoin="round"/>
<polygon points="125.3,136.2 128.7,132.5 125.1,131.3 121.7,134.9" fill="#6afa52" stroke="#6afa52" stroke-width="0.5" stroke-linejoin="round"/>
<polygon points="132.3,134 135.8,130.4 132.2,128.9 128.7,132.5" fill="#72fa4d" stroke="#72fa4d" stroke-width="0.5" stroke-linejoin="round"/>
<polygon points="128.7,132.5 132.2,128.9 128.5,127.7 125.1,131.3" fill="#73fa4c" stroke="#73fa4c" stroke-width="0.5" stroke-linejoin="round"/>
<polygon points="128.9,137.7 135.8,130.4 128.5,127.7 121.7,134.9" fill="none" stroke="#141408" stroke-opacity="0.85" stroke-width="0.82" stroke-linejoin="round"/>
<polygon points="255.8,132.6 259.2,129.9 255.7,125.7 252.2,128.4" fill="#7bfa47" stroke="#7bfa47" stroke-width="0.5" stroke-linejoin="round"/>
<polygon points="252.2,128.4 255.7,125.7 252.2,121.7 248.7,124.3" fill="#88fa41" stroke="#88fa41" stroke-width="0.5" stroke-linejoin="round"/>
<polygon points="259.2,129.9 262.7,127.3 259.2,123.1 255.7,125.7" fill="#80fa44" stroke="#80fa44" stroke-width="0.5" stroke-linejoin="round"/>
<polygon points="255.7,125.7 259.2,123.1 255.7,119.1 252.2,121.7" fill="#90f93f" stroke="#90f93f" stroke-width="0.5" stroke-linejoin="round"/>
<polygon points="255.8,132.6 262.7,127.3 255.7,119.1 248.7,124.3" fill="none" stroke="#141408" stroke-opacity="0.85" stroke-width="0.82" stroke-linejoin="round"/>
<polygon points="143,133.7 146.4,130.1 142.8,128.4 139.4,131.9" fill="#78fa49" stroke="#78fa49" stroke-width="0.5" stroke-linejoin="round"/>
<polygon points="139.4,131.9 142.8,128.4 139.2,126.8 135.8,130.4" fill="#7afa48" stroke="#7afa48" stroke-width="0.5" stroke-linejoin="round"/>
<polygon points="146.4,130.1 149.9,126.6 146.3,124.9 142.8,128.4" fill="#81fa43" stroke="#81fa43" stroke-width="0.5" stroke-linejoin="round"/>
<polygon points="142.8,128.4 146.3,124.9 142.7,123.4 139.2,126.8" fill="#83fa42" stroke="#83fa42" stroke-width="0.5" stroke-linejoin="round"/>
<polygon points="143,133.7 149.9,126.6 142.7,123.4 135.8,130.4" fill="none" stroke="#141408" stroke-opacity="0.85" stroke-width="0.82" stroke-linejoin="round"/>
<polygon points="241.8,129.7 245.2,127 241.7,123.1 238.2,125.8" fill="#87fa41" stroke="#87fa41" stroke-width="0.5" stroke-linejoin="round"/>
<polygon points="238.2,125.8 241.7,123.1 238.2,119.4 234.7,122.1" fill="#97f93e" stroke="#97f93e" stroke-width="0.5" stroke-linejoin="round"/>
<polygon points="245.2,127 248.7,124.3 245.2,120.4 241.7,123.1" fill="#90f93f" stroke="#90f93f" stroke-width="0.5" stroke-linejoin="round"/>
<polygon points="241.7,123.1 245.2,120.4 241.7,116.7 238.2,119.4" fill="#9ff83c" stroke="#9ff83c" stroke-width="0.5" stroke-linejoin="round"/>
<polygon points="241.8,129.7 248.7,124.3 241.7,116.7 234.7,122.1" fill="none" stroke="#141408" stroke-opacity="0.85" stroke-width="0.82" stroke-linejoin="round"/>
<polygon points="157.1,130.6 160.6,127.1 156.9,125.1 153.5,128.5" fill="#84fa42" stroke="#84fa42" stroke-width="0.5" stroke-linejoin="round"/>
<polygon points="153.5,128.5 156.9,125.1 153.3,123.2 149.9,126.6" fill="#89fa41" stroke="#89fa41" stroke-width="0.5" stroke-linejoin="round"/>
<polygon points="160.6,127.1 164,123.7 160.4,121.7 156.9,125.1" fill="#91f93f" stroke="#91f93f" stroke-width="0.5" stroke-linejoin="round"/>
<polygon points="156.9,125.1 160.4,121.7 156.8,119.9 153.3,123.2" fill="#96f93e" stroke="#96f93e" stroke-width="0.5" stroke-linejoin="round"/>
<polygon points="157.1,130.6 164,123.7 156.8,119.9 149.9,126.6" fill="none" stroke="#141408" stroke-opacity="0.85" stroke-width="0.82" stroke-linejoin="round"/>
<polygon points="227.7,127.7 231.2,124.9 227.6,121.3 224.2,124.1" fill="#93f93f" stroke="#93f93f" stroke-width="0.5" stroke-linejoin="round"/>
<polygon points="224.2,124.1 227.6,121.3 224.1,117.9 220.6,120.7" fill="#a1f83c" stroke="#a1f83c" stroke-width="0.5" stroke-linejoin="round"/>
<polygon points="231.2,124.9 234.7,122.1 231.1,118.5 227.6,121.3" fill="#9df83d" stroke="#9df83d" stroke-width="0.5" stroke-linejoin="round"/>
<polygon points="227.6,121.3 231.1,118.5 227.6,115.1 224.1,117.9" fill="#acf93b" stroke="#acf93b" stroke-width="0.5" stroke-linejoin="round"/>
<polygon points="227.7,127.7 234.7,122.1 227.6,115.1 220.6,120.7" fill="none" stroke="#141408" stroke-opacity="0.85" stroke-width="0.82" stroke-linejoin="round"/>
<polygon points="171.2,128.3 174.7,124.9 171.1,122.6 167.6,125.9" fill="#91f93f" stroke="#91f93f" stroke-width="0.5" stroke-linejoin="round"/>
<polygon points="167.6,125.9 171.1,122.6 167.5,120.4 164,123.7" fill="#98f93e" stroke="#98f93e" stroke-width="0.5" stroke-linejoin="round"/>
<polygon points="174.7,124.9 178.2,121.7 174.6,119.4 171.1,122.6" fill="#9df83d" stroke="#9df83d" stroke-width="0.5" stroke-linejoin="round"/>
<polygon points="171.1,122.6 174.6,119.4 171,117.2 167.5,120.4" fill="#a5f83c" stroke="#a5f83c" stroke-width="0.5" stroke-linejoin="round"/>
<polygon points="171.2,128.3 178.2,121.7 171,117.2 164,123.7" fill="none" stroke="#141408" stroke-opacity="0.85" stroke-width="0.82" stroke-linejoin="round"/>
<polygon points="213.6,126.6 217.1,123.6 213.5,120.3 210,123.3" fill="#9af83d" stroke="#9af83d" stroke-width="0.5" stroke-linejoin="round"/>
<polygon points="210,123.3 213.5,120.3 210,117.2 206.5,120.2" fill="#a7f83c" stroke="#a7f83c" stroke-width="0.5" stroke-linejoin="round"/>
<polygon points="217.1,123.6 220.6,120.7 217,117.5 213.5,120.3" fill="#a5f83c" stroke="#a5f83c" stroke-width="0.5" stroke-linejoin="round"/>
<polygon points="213.5,120.3 217,117.5 213.4,114.4 210,117.2" fill="#b3f93b" stroke="#b3f93b" stroke-width="0.5" stroke-linejoin="round"/>
<polygon points="213.6,126.6 220.6,120.7 213.4,114.4 206.5,120.2" fill="none" stroke="#141408" stroke-opacity="0.85" stroke-width="0.82" stroke-linejoin="round"/>
<polygon points="185.4,126.9 188.8,123.6 185.2,121 181.8,124.2" fill="#99f83d" stroke="#99f83d" stroke-width="0.5" stroke-linejoin="round"/>
<polygon points="181.8,124.2 185.2,121 181.6,118.5 178.2,121.7" fill="#a2f83c" stroke="#a2f83c" stroke-width="0.5" stroke-linejoin="round"/>
<polygon points="188.8,123.6 192.3,120.5 188.7,117.9 185.2,121" fill="#a6f83c" stroke="#a6f83c" stroke-width="0.5" stroke-linejoin="round"/>
<polygon points="185.2,121 188.7,117.9 185.1,115.4 181.6,118.5" fill="#aff93b" stroke="#aff93b" stroke-width="0.5" stroke-linejoin="round"/>
<polygon points="185.4,126.9 192.3,120.5 185.1,115.4 178.2,121.7" fill="none" stroke="#141408" stroke-opacity="0.85" stroke-width="0.82" stroke-linejoin="round"/>
<polygon points="199.5,126.3 203,123.2 199.4,120.2 195.9,123.3" fill="#9cf83d" stroke="#9cf83d" stroke-width="0.5" stroke-linejoin="round"/>
<polygon points="195.9,123.3 199.4,120.2 195.8,117.4 192.3,120.5" fill="#a8f83c" stroke="#a8f83c" stroke-width="0.5" stroke-linejoin="round"/>
<polygon points="203,123.2 206.5,120.2 202.9,117.2 199.4,120.2" fill="#a8f83c" stroke="#a8f83c" stroke-width="0.5" stroke-linejoin="round"/>
<polygon points="199.4,120.2 202.9,117.2 199.3,114.5 195.8,117.4" fill="#b4f93b" stroke="#b4f93b" stroke-width="0.5" stroke-linejoin="round"/>
<polygon points="199.5,126.3 206.5,120.2 199.3,114.5 192.3,120.5" fill="none" stroke="#141408" stroke-opacity="0.85" stroke-width="0.82" stroke-linejoin="round"/>
<polygon points="122,145.3 125.4,141.5 121.8,140 118.4,143.8" fill="#5efa6a" stroke="#5efa6a" stroke-width="0.5" stroke-linejoin="round"/>
<polygon points="118.4,143.8 121.8,140 118.2,138.7 114.8,142.5" fill="#5efa68" stroke="#5efa68" stroke-width="0.5" stroke-linejoin="round"/>
<polygon points="125.4,141.5 128.9,137.7 125.3,136.2 121.8,140" fill="#60fa59" stroke="#60fa59" stroke-width="0.5" stroke-linejoin="round"/>
<polygon points="121.8,140 125.3,136.2 121.7,134.9 118.2,138.7" fill="#61fa59" stroke="#61fa59" stroke-width="0.5" stroke-linejoin="round"/>
<polygon points="122,145.3 128.9,137.7 121.7,134.9 114.8,142.5" fill="none" stroke="#141408" stroke-opacity="0.85" stroke-width="0.82" stroke-linejoin="round"/>
<polygon points="248.8,138.2 252.3,135.3 248.8,131.1 245.3,133.9" fill="#70fa4f" stroke="#70fa4f" stroke-width="0.5" stroke-linejoin="round"/>
<polygon points="245.3,133.9 248.8,131.1 245.2,127 241.8,129.7" fill="#7bfa47" stroke="#7bfa47" stroke-width="0.5" stroke-linejoin="round"/>
<polygon points="252.3,135.3 255.8,132.6 252.2,128.4 248.8,131.1" fill="#75fa4b" stroke="#75fa4b" stroke-width="0.5" stroke-linejoin="round"/>
<polygon points="248.8,131.1 252.2,128.4 248.7,124.3 245.2,127" fill="#80fa43" stroke="#80fa43" stroke-width="0.5" stroke-linejoin="round"/>
<polygon points="248.8,138.2 255.8,132.6 248.7,124.3 241.8,129.7" fill="none" stroke="#141408" stroke-opacity="0.85" stroke-width="0.82" stroke-linejoin="round"/>
<polygon points="136.1,141.1 139.5,137.3 135.9,135.6 132.5,139.3" fill="#66fa55" stroke="#66fa55" stroke-width="0.5" stroke-linejoin="round"/>
<polygon points="132.5,139.3 135.9,135.6 132.3,134 128.9,137.7" fill="#68fa54" stroke="#68fa54" stroke-width="0.5" stroke-linejoin="round"/>
<polygon points="139.5,137.3 143,133.7 139.4,131.9 135.9,135.6" fill="#6ffa4f" stroke="#6ffa4f" stroke-width="0.5" stroke-linejoin="round"/>
<polygon points="135.9,135.6 139.4,131.9 135.8,130.4 132.3,134" fill="#71fa4e" stroke="#71fa4e" stroke-width="0.5" stroke-linejoin="round"/>
<polygon points="136.1,141.1 143,133.7 135.8,130.4 128.9,137.7" fill="none" stroke="#141408" stroke-opacity="0.85" stroke-width="0.82" stroke-linejoin="round"/>
<polygon points="234.8,135.5 238.3,132.6 234.7,128.6 231.3,131.5" fill="#7afa48" stroke="#7afa48" stroke-width="0.5" stroke-linejoin="round"/>
<polygon points="231.3,131.5 234.7,128.6 231.2,124.9 227.7,127.7" fill="#85fa41" stroke="#85fa41" stroke-width="0.5" stroke-linejoin="round"/>
<polygon points="238.3,132.6 241.8,129.7 238.2,125.8 234.7,128.6" fill="#80fa44" stroke="#80fa44" stroke-width="0.5" stroke-linejoin="round"/>
<polygon points="234.7,128.6 238.2,125.8 234.7,122.1 231.2,124.9" fill="#8ef940" stroke="#8ef940" stroke-width="0.5" stroke-linejoin="round"/>
<polygon points="234.8,135.5 241.8,129.7 234.7,122.1 227.7,127.7" fill="none" stroke="#141408" stroke-opacity="0.85" stroke-width="0.82" stroke-linejoin="round"/>
<polygon points="150.2,137.7 153.6,134.1 150,132 146.6,135.6" fill="#72fa4d" stroke="#72fa4d" stroke-width="0.5" stroke-linejoin="round"/>
<polygon points="146.6,135.6 150,132 146.4,130.1 143,133.7" fill="#76fa4b" stroke="#76fa4b" stroke-width="0.5" stroke-linejoin="round"/>
<polygon points="153.6,134.1 157.1,130.6 153.5,128.5 150,132" fill="#7bfa47" stroke="#7bfa47" stroke-width="0.5" stroke-linejoin="round"/>
<polygon points="150,132 153.5,128.5 149.9,126.6 146.4,130.1" fill="#7efa45" stroke="#7efa45" stroke-width="0.5" stroke-linejoin="round"/>
<polygon points="150.2,137.7 157.1,130.6 149.9,126.6 143,133.7" fill="none" stroke="#141408" stroke-opacity="0.85" stroke-width="0.82" stroke-linejoin="round"/>
<polygon points="220.8,133.7 224.2,130.7 220.7,127.1 217.2,130.1" fill="#80fa43" stroke="#80fa43" stroke-width="0.5" stroke-linejoin="round"/>
<polygon points="217.2,130.1 220.7,127.1 217.1,123.6 213.6,126.6" fill="#8df940" stroke="#8df940" stroke-width="0.5" stroke-linejoin="round"/>
<polygon points="224.2,130.7 227.7,127.7 224.2,124.1 220.7,127.1" fill="#8af940" stroke="#8af940" stroke-width="0.5" stroke-linejoin="round"/>
<polygon points="220.7,127.1 224.2,124.1 220.6,120.7 217.1,123.6" fill="#97f93e" stroke="#97f93e" stroke-width="0.5" stroke-linejoin="round"/>
<polygon points="220.8,133.7 227.7,127.7 220.6,120.7 213.6,126.6" fill="none" stroke="#141408" stroke-opacity="0.85" stroke-width="0.82" stroke-linejoin="round"/>
<polygon points="164.3,135.2 167.8,131.7 164.2,129.3 160.7,132.8" fill="#7cfa46" stroke="#7cfa46" stroke-width="0.5" stroke-linejoin="round"/>
<polygon points="160.7,132.8 164.2,129.3 160.6,127.1 157.1,130.6" fill="#80fa43" stroke="#80fa43" stroke-width="0.5" stroke-linejoin="round"/>
<polygon points="167.8,131.7 171.2,128.3 167.6,125.9 164.2,129.3" fill="#85fa41" stroke="#85fa41" stroke-width="0.5" stroke-linejoin="round"/>
<polygon points="164.2,129.3 167.6,125.9 164,123.7 160.6,127.1" fill="#8bf940" stroke="#8bf940" stroke-width="0.5" stroke-linejoin="round"/>
<polygon points="164.3,135.2 171.2,128.3 164,123.7 157.1,130.6" fill="none" stroke="#141408" stroke-opacity="0.85" stroke-width="0.82" stroke-linejoin="round"/>
<polygon points="206.7,132.8 210.1,129.7 206.6,126.3 203.1,129.5" fill="#85fa41" stroke="#85fa41" stroke-width="0.5" stroke-linejoin="round"/>
<polygon points="203.1,129.5 206.6,126.3 203,123.2 199.5,126.3" fill="#91f93f" stroke="#91f93f" stroke-width="0.5" stroke-linejoin="round"/>
<polygon points="210.1,129.7 213.6,126.6 210,123.3 206.6,126.3" fill="#90f93f" stroke="#90f93f" stroke-width="0.5" stroke-linejoin="round"/>
<polygon points="206.6,126.3 210,123.3 206.5,120.2 203,123.2" fill="#9cf83d" stroke="#9cf83d" stroke-width="0.5" stroke-linejoin="round"/>
<polygon points="206.7,132.8 213.6,126.6 206.5,120.2 199.5,126.3" fill="none" stroke="#141408" stroke-opacity="0.85" stroke-width="0.82" stroke-linejoin="round"/>
<polygon points="178.4,133.5 181.9,130.2 178.3,127.5 174.8,130.8" fill="#82fa42" stroke="#82fa42" stroke-width="0.5" stroke-linejoin="round"/>
<polygon points="174.8,130.8 178.3,127.5 174.7,124.9 171.2,128.3" fill="#8af940" stroke="#8af940" stroke-width="0.5" stroke-linejoin="round"/>
<polygon points="181.9,130.2 185.4,126.9 181.8,124.2 178.3,127.5" fill="#8ef940" stroke="#8ef940" stroke-width="0.5" stroke-linejoin="round"/>
<polygon points="178.3,127.5 181.8,124.2 178.2,121.7 174.7,124.9" fill="#96f93e" stroke="#96f93e" stroke-width="0.5" stroke-linejoin="round"/>
<polygon points="178.4,133.5 185.4,126.9 178.2,121.7 171.2,128.3" fill="none" stroke="#141408" stroke-opacity="0.85" stroke-width="0.82" stroke-linejoin="round"/>
<polygon points="192.6,132.7 196,129.5 192.4,126.5 189,129.7" fill="#86fa41" stroke="#86fa41" stroke-width="0.5" stroke-linejoin="round"/>
<polygon points="189,129.7 192.4,126.5 188.8,123.6 185.4,126.9" fill="#90f93f" stroke="#90f93f" stroke-width="0.5" stroke-linejoin="round"/>
<polygon points="196,129.5 199.5,126.3 195.9,123.3 192.4,126.5" fill="#91f93f" stroke="#91f93f" stroke-width="0.5" stroke-linejoin="round"/>
<polygon points="192.4,126.5 195.9,123.3 192.3,120.5 188.8,123.6" fill="#9bf83d" stroke="#9bf83d" stroke-width="0.5" stroke-linejoin="round"/>
<polygon points="192.6,132.7 199.5,126.3 192.3,120.5 185.4,126.9" fill="none" stroke="#141408" stroke-opacity="0.85" stroke-width="0.82" stroke-linejoin="round"/>
<polygon points="129.2,148.8 132.6,144.9 129,143.1 125.6,147" fill="#5dfa70" stroke="#5dfa70" stroke-width="0.5" stroke-linejoin="round"/>
<polygon points="125.6,147 129,143.1 125.4,141.5 122,145.3" fill="#5dfa6c" stroke="#5dfa6c" stroke-width="0.5" stroke-linejoin="round"/>
<polygon points="132.6,144.9 136.1,141.1 132.5,139.3 129,143.1" fill="#5ffa5e" stroke="#5ffa5e" stroke-width="0.5" stroke-linejoin="round"/>
<polygon points="129,143.1 132.5,139.3 128.9,137.7 125.4,141.5" fill="#5ffa5b" stroke="#5ffa5b" stroke-width="0.5" stroke-linejoin="round"/>
<polygon points="129.2,148.8 136.1,141.1 128.9,137.7 122,145.3" fill="none" stroke="#141408" stroke-opacity="0.85" stroke-width="0.82" stroke-linejoin="round"/>
<polygon points="241.9,144 245.3,141.1 241.8,136.7 238.3,139.7" fill="#64fa57" stroke="#64fa57" stroke-width="0.5" stroke-linejoin="round"/>
<polygon points="238.3,139.7 241.8,136.7 238.3,132.6 234.8,135.5" fill="#6ffa4f" stroke="#6ffa4f" stroke-width="0.5" stroke-linejoin="round"/>
<polygon points="245.3,141.1 248.8,138.2 245.3,133.9 241.8,136.7" fill="#6afa53" stroke="#6afa53" stroke-width="0.5" stroke-linejoin="round"/>
<polygon points="241.8,136.7 245.3,133.9 241.8,129.7 238.3,132.6" fill="#75fa4b" stroke="#75fa4b" stroke-width="0.5" stroke-linejoin="round"/>
<polygon points="241.9,144 248.8,138.2 241.8,129.7 234.8,135.5" fill="none" stroke="#141408" stroke-opacity="0.85" stroke-width="0.82" stroke-linejoin="round"/>
<polygon points="143.3,145.2 146.7,141.4 143.1,139.3 139.7,143.1" fill="#60fa59" stroke="#60fa59" stroke-width="0.5" stroke-linejoin="round"/>
<polygon points="139.7,143.1 143.1,139.3 139.5,137.3 136.1,141.1" fill="#63fa57" stroke="#63fa57" stroke-width="0.5" stroke-linejoin="round"/>
<polygon points="146.7,141.4 150.2,137.7 146.6,135.6 143.1,139.3" fill="#6afa53" stroke="#6afa53" stroke-width="0.5" stroke-linejoin="round"/>
<polygon points="143.1,139.3 146.6,135.6 143,133.7 139.5,137.3" fill="#6dfa51" stroke="#6dfa51" stroke-width="0.5" stroke-linejoin="round"/>
<polygon points="143.3,145.2 150.2,137.7 143,133.7 136.1,141.1" fill="none" stroke="#141408" stroke-opacity="0.85" stroke-width="0.82" stroke-linejoin="round"/>
<polygon points="227.9,141.6 231.3,138.5 227.8,134.5 224.3,137.6" fill="#6dfa50" stroke="#6dfa50" stroke-width="0.5" stroke-linejoin="round"/>
<polygon points="224.3,137.6 227.8,134.5 224.2,130.7 220.8,133.7" fill="#77fa4a" stroke="#77fa4a" stroke-width="0.5" stroke-linejoin="round"/>
<polygon points="231.3,138.5 234.8,135.5 231.3,131.5 227.8,134.5" fill="#73fa4c" stroke="#73fa4c" stroke-width="0.5" stroke-linejoin="round"/>
<polygon points="227.8,134.5 231.3,131.5 227.7,127.7 224.2,130.7" fill="#7dfa45" stroke="#7dfa45" stroke-width="0.5" stroke-linejoin="round"/>
<polygon points="227.9,141.6 234.8,135.5 227.7,127.7 220.8,133.7" fill="none" stroke="#141408" stroke-opacity="0.85" stroke-width="0.82" stroke-linejoin="round"/>
<polygon points="157.4,142.4 160.8,138.8 157.2,136.3 153.8,140" fill="#6afa52" stroke="#6afa52" stroke-width="0.5" stroke-linejoin="round"/>
<polygon points="153.8,140 157.2,136.3 153.6,134.1 150.2,137.7" fill="#6ffa4f" stroke="#6ffa4f" stroke-width="0.5" stroke-linejoin="round"/>
<polygon points="160.8,138.8 164.3,135.2 160.7,132.8 157.2,136.3" fill="#73fa4c" stroke="#73fa4c" stroke-width="0.5" stroke-linejoin="round"/>
<polygon points="157.2,136.3 160.7,132.8 157.1,130.6 153.6,134.1" fill="#77fa49" stroke="#77fa49" stroke-width="0.5" stroke-linejoin="round"/>
<polygon points="157.4,142.4 164.3,135.2 157.1,130.6 150.2,137.7" fill="none" stroke="#141408" stroke-opacity="0.85" stroke-width="0.82" stroke-linejoin="round"/>
<polygon points="213.8,140 217.3,136.8 213.7,133.2 210.2,136.3" fill="#73fa4c" stroke="#73fa4c" stroke-width="0.5" stroke-linejoin="round"/>
<polygon points="210.2,136.3 213.7,133.2 210.1,129.7 206.7,132.8" fill="#7cfa46" stroke="#7cfa46" stroke-width="0.5" stroke-linejoin="round"/>
<polygon points="217.3,136.8 220.8,133.7 217.2,130.1 213.7,133.2" fill="#7afa48" stroke="#7afa48" stroke-width="0.5" stroke-linejoin="round"/>
<polygon points="213.7,133.2 217.2,130.1 213.6,126.6 210.1,129.7" fill="#83fa42" stroke="#83fa42" stroke-width="0.5" stroke-linejoin="round"/>
<polygon points="213.8,140 220.8,133.7 213.6,126.6 206.7,132.8" fill="none" stroke="#141408" stroke-opacity="0.85" stroke-width="0.82" stroke-linejoin="round"/>
<polygon points="171.5,140.5 175,137 171.4,134.3 167.9,137.8" fill="#71fa4d" stroke="#71fa4d" stroke-width="0.5" stroke-linejoin="round"/>
<polygon points="167.9,137.8 171.4,134.3 167.8,131.7 164.3,135.2" fill="#77fa4a" stroke="#77fa4a" stroke-width="0.5" stroke-linejoin="round"/>
<polygon points="175,137 178.4,133.5 174.8,130.8 171.4,134.3" fill="#7afa48" stroke="#7afa48" stroke-width="0.5" stroke-linejoin="round"/>
<polygon points="171.4,134.3 174.8,130.8 171.2,128.3 167.8,131.7" fill="#7ffa44" stroke="#7ffa44" stroke-width="0.5" stroke-linejoin="round"/>
<polygon points="171.5,140.5 178.4,133.5 171.2,128.3 164.3,135.2" fill="none" stroke="#141408" stroke-opacity="0.85" stroke-width="0.82" stroke-linejoin="round"/>
<polygon points="199.7,139.3 203.2,136 199.6,132.7 196.1,135.9" fill="#76fa4b" stroke="#76fa4b" stroke-width="0.5" stroke-linejoin="round"/>
<polygon points="196.1,135.9 199.6,132.7 196,129.5 192.6,132.7" fill="#7dfa45" stroke="#7dfa45" stroke-width="0.5" stroke-linejoin="round"/>
<polygon points="203.2,136 206.7,132.8 203.1,129.5 199.6,132.7" fill="#7dfa45" stroke="#7dfa45" stroke-width="0.5" stroke-linejoin="round"/>
<polygon points="199.6,132.7 203.1,129.5 199.5,126.3 196,129.5" fill="#86fa41" stroke="#86fa41" stroke-width="0.5" stroke-linejoin="round"/>
<polygon points="199.7,139.3 206.7,132.8 199.5,126.3 192.6,132.7" fill="none" stroke="#141408" stroke-opacity="0.85" stroke-width="0.82" stroke-linejoin="round"/>
<polygon points="185.6,139.5 189.1,136.1 185.5,133 182,136.4" fill="#75fa4b" stroke="#75fa4b" stroke-width="0.5" stroke-linejoin="round"/>
<polygon points="182,136.4 185.5,133 181.9,130.2 178.4,133.5" fill="#7cfa46" stroke="#7cfa46" stroke-width="0.5" stroke-linejoin="round"/>
<polygon points="189.1,136.1 192.6,132.7 189,129.7 185.5,133" fill="#7dfa46" stroke="#7dfa46" stroke-width="0.5" stroke-linejoin="round"/>
<polygon points="185.5,133 189,129.7 185.4,126.9 181.9,130.2" fill="#84fa42" stroke="#84fa42" stroke-width="0.5" stroke-linejoin="round"/>
<polygon points="185.6,139.5 192.6,132.7 185.4,126.9 178.4,133.5" fill="none" stroke="#141408" stroke-opacity="0.85" stroke-width="0.82" stroke-linejoin="round"/>
<polygon points="234.9,150.2 238.4,147.1 234.9,142.7 231.4,145.8" fill="#5efa68" stroke="#5efa68" stroke-width="0.5" stroke-linejoin="round"/>
<polygon points="231.4,145.8 234.9,142.7 231.3,138.5 227.9,141.6" fill="#62fa58" stroke="#62fa58" stroke-width="0.5" stroke-linejoin="round"/>
<polygon points="238.4,147.1 241.9,144 238.3,139.7 234.9,142.7" fill="#5ffa5c" stroke="#5ffa5c" stroke-width="0.5" stroke-linejoin="round"/>
<polygon points="234.9,142.7 238.3,139.7 234.8,135.5 231.3,138.5" fill="#69fa53" stroke="#69fa53" stroke-width="0.5" stroke-linejoin="round"/>
<polygon points="234.9,150.2 241.9,144 234.8,135.5 227.9,141.6" fill="none" stroke="#141408" stroke-opacity="0.85" stroke-width="0.82" stroke-linejoin="round"/>
<polygon points="136.4,153 139.9,149.1 136.3,146.9 132.8,150.8" fill="#5cfa7a" stroke="#5cfa7a" stroke-width="0.5" stroke-linejoin="round"/>
<polygon points="132.8,150.8 136.3,146.9 132.6,144.9 129.2,148.8" fill="#5dfa74" stroke="#5dfa74" stroke-width="0.5" stroke-linejoin="round"/>
<polygon points="139.9,149.1 143.3,145.2 139.7,143.1 136.3,146.9" fill="#5efa68" stroke="#5efa68" stroke-width="0.5" stroke-linejoin="round"/>
<polygon points="136.3,146.9 139.7,143.1 136.1,141.1 132.6,144.9" fill="#5efa63" stroke="#5efa63" stroke-width="0.5" stroke-linejoin="round"/>
<polygon points="136.4,153 143.3,145.2 136.1,141.1 129.2,148.8" fill="none" stroke="#141408" stroke-opacity="0.85" stroke-width="0.82" stroke-linejoin="round"/>
<polygon points="220.9,148 224.4,144.8 220.8,140.7 217.4,143.9" fill="#5ffa5a" stroke="#5ffa5a" stroke-width="0.5" stroke-linejoin="round"/>
<polygon points="217.4,143.9 220.8,140.7 217.3,136.8 213.8,140" fill="#69fa53" stroke="#69fa53" stroke-width="0.5" stroke-linejoin="round"/>
<polygon points="224.4,144.8 227.9,141.6 224.3,137.6 220.8,140.7" fill="#66fa55" stroke="#66fa55" stroke-width="0.5" stroke-linejoin="round"/>
<polygon points="220.8,140.7 224.3,137.6 220.8,133.7 217.3,136.8" fill="#70fa4e" stroke="#70fa4e" stroke-width="0.5" stroke-linejoin="round"/>
<polygon points="220.9,148 227.9,141.6 220.8,133.7 213.8,140" fill="none" stroke="#141408" stroke-opacity="0.85" stroke-width="0.82" stroke-linejoin="round"/>
<polygon points="150.5,150 153.9,146.2 150.3,143.7 146.9,147.5" fill="#5efa66" stroke="#5efa66" stroke-width="0.5" stroke-linejoin="round"/>
<polygon points="146.9,147.5 150.3,143.7 146.7,141.4 143.3,145.2" fill="#5ffa5e" stroke="#5ffa5e" stroke-width="0.5" stroke-linejoin="round"/>
<polygon points="153.9,146.2 157.4,142.4 153.8,140 150.3,143.7" fill="#62fa58" stroke="#62fa58" stroke-width="0.5" stroke-linejoin="round"/>
<polygon points="150.3,143.7 153.8,140 150.2,137.7 146.7,141.4" fill="#66fa55" stroke="#66fa55" stroke-width="0.5" stroke-linejoin="round"/>
<polygon points="150.5,150 157.4,142.4 150.2,137.7 143.3,145.2" fill="none" stroke="#141408" stroke-opacity="0.85" stroke-width="0.82" stroke-linejoin="round"/>
<polygon points="206.9,146.7 210.3,143.3 206.8,139.6 203.3,142.9" fill="#64fa56" stroke="#64fa56" stroke-width="0.5" stroke-linejoin="round"/>
<polygon points="203.3,142.9 206.8,139.6 203.2,136 199.7,139.3" fill="#6dfa50" stroke="#6dfa50" stroke-width="0.5" stroke-linejoin="round"/>
<polygon points="210.3,143.3 213.8,140 210.2,136.3 206.8,139.6" fill="#6cfa51" stroke="#6cfa51" stroke-width="0.5" stroke-linejoin="round"/>
<polygon points="206.8,139.6 210.2,136.3 206.7,132.8 203.2,136" fill="#75fa4b" stroke="#75fa4b" stroke-width="0.5" stroke-linejoin="round"/>
<polygon points="206.9,146.7 213.8,140 206.7,132.8 199.7,139.3" fill="none" stroke="#141408" stroke-opacity="0.85" stroke-width="0.82" stroke-linejoin="round"/>
<polygon points="164.6,147.9 168,144.2 164.4,141.4 161,145.1" fill="#60fa59" stroke="#60fa59" stroke-width="0.5" stroke-linejoin="round"/>
<polygon points="161,145.1 164.4,141.4 160.8,138.8 157.4,142.4" fill="#66fa55" stroke="#66fa55" stroke-width="0.5" stroke-linejoin="round"/>
<polygon points="168,144.2 171.5,140.5 167.9,137.8 164.4,141.4" fill="#69fa53" stroke="#69fa53" stroke-width="0.5" stroke-linejoin="round"/>
<polygon points="164.4,141.4 167.9,137.8 164.3,135.2 160.8,138.8" fill="#6efa4f" stroke="#6efa4f" stroke-width="0.5" stroke-linejoin="round"/>
<polygon points="164.6,147.9 171.5,140.5 164.3,135.2 157.4,142.4" fill="none" stroke="#141408" stroke-opacity="0.85" stroke-width="0.82" stroke-linejoin="round"/>
<polygon points="192.8,146.2 196.3,142.7 192.7,139.3 189.2,142.8" fill="#66fa55" stroke="#66fa55" stroke-width="0.5" stroke-linejoin="round"/>
<polygon points="189.2,142.8 192.7,139.3 189.1,136.1 185.6,139.5" fill="#6efa50" stroke="#6efa50" stroke-width="0.5" stroke-linejoin="round"/>
<polygon points="196.3,142.7 199.7,139.3 196.1,135.9 192.7,139.3" fill="#6efa50" stroke="#6efa50" stroke-width="0.5" stroke-linejoin="round"/>
<polygon points="192.7,139.3 196.1,135.9 192.6,132.7 189.1,136.1" fill="#76fa4a" stroke="#76fa4a" stroke-width="0.5" stroke-linejoin="round"/>
<polygon points="192.8,146.2 199.7,139.3 192.6,132.7 185.6,139.5" fill="none" stroke="#141408" stroke-opacity="0.85" stroke-width="0.82" stroke-linejoin="round"/>
<polygon points="178.7,146.6 182.2,143 178.6,139.9 175.1,143.5" fill="#65fa56" stroke="#65fa56" stroke-width="0.5" stroke-linejoin="round"/>
<polygon points="175.1,143.5 178.6,139.9 175,137 171.5,140.5" fill="#6bfa52" stroke="#6bfa52" stroke-width="0.5" stroke-linejoin="round"/>
<polygon points="182.2,143 185.6,139.5 182,136.4 178.6,139.9" fill="#6dfa50" stroke="#6dfa50" stroke-width="0.5" stroke-linejoin="round"/>
<polygon points="178.6,139.9 182,136.4 178.4,133.5 175,137" fill="#74fa4c" stroke="#74fa4c" stroke-width="0.5" stroke-linejoin="round"/>
<polygon points="178.7,146.6 185.6,139.5 178.4,133.5 171.5,140.5" fill="none" stroke="#141408" stroke-opacity="0.85" stroke-width="0.82" stroke-linejoin="round"/>
<polygon points="228,156.7 231.4,153.4 227.9,149 224.4,152.3" fill="#5cfa81" stroke="#5cfa81" stroke-width="0.5" stroke-linejoin="round"/>
<polygon points="224.4,152.3 227.9,149 224.4,144.8 220.9,148" fill="#5dfa6d" stroke="#5dfa6d" stroke-width="0.5" stroke-linejoin="round"/>
<polygon points="231.4,153.4 234.9,150.2 231.4,145.8 227.9,149" fill="#5dfa74" stroke="#5dfa74" stroke-width="0.5" stroke-linejoin="round"/>
<polygon points="227.9,149 231.4,145.8 227.9,141.6 224.4,144.8" fill="#5efa60" stroke="#5efa60" stroke-width="0.5" stroke-linejoin="round"/>
<polygon points="228,156.7 234.9,150.2 227.9,141.6 220.9,148" fill="none" stroke="#141408" stroke-opacity="0.85" stroke-width="0.82" stroke-linejoin="round"/>
<polygon points="143.6,157.9 147.1,153.9 143.5,151.4 140,155.4" fill="#5bfa88" stroke="#5bfa88" stroke-width="0.5" stroke-linejoin="round"/>
<polygon points="140,155.4 143.5,151.4 139.9,149.1 136.4,153" fill="#5cfa81" stroke="#5cfa81" stroke-width="0.5" stroke-linejoin="round"/>
<polygon points="147.1,153.9 150.5,150 146.9,147.5 143.5,151.4" fill="#5dfa77" stroke="#5dfa77" stroke-width="0.5" stroke-linejoin="round"/>
<polygon points="143.5,151.4 146.9,147.5 143.3,145.2 139.9,149.1" fill="#5dfa6f" stroke="#5dfa6f" stroke-width="0.5" stroke-linejoin="round"/>
<polygon points="143.6,157.9 150.5,150 143.3,145.2 136.4,153" fill="none" stroke="#141408" stroke-opacity="0.85" stroke-width="0.82" stroke-linejoin="round"/>
<polygon points="214,154.7 217.4,151.3 213.9,147.2 210.4,150.6" fill="#5dfa74" stroke="#5dfa74" stroke-width="0.5" stroke-linejoin="round"/>
<polygon points="210.4,150.6 213.9,147.2 210.3,143.3 206.9,146.7" fill="#5efa61" stroke="#5efa61" stroke-width="0.5" stroke-linejoin="round"/>
<polygon points="217.4,151.3 220.9,148 217.4,143.9 213.9,147.2" fill="#5efa66" stroke="#5efa66" stroke-width="0.5" stroke-linejoin="round"/>
<polygon points="213.9,147.2 217.4,143.9 213.8,140 210.3,143.3" fill="#62fa58" stroke="#62fa58" stroke-width="0.5" stroke-linejoin="round"/>
<polygon points="214,154.7 220.9,148 213.8,140 206.9,146.7" fill="none" stroke="#141408" stroke-opacity="0.85" stroke-width="0.82" stroke-linejoin="round"/>
<polygon points="157.7,155.5 161.1,151.6 157.5,148.8 154.1,152.7" fill="#5cfa79" stroke="#5cfa79" stroke-width="0.5" stroke-linejoin="round"/>
<polygon points="154.1,152.7 157.5,148.8 153.9,146.2 150.5,150" fill="#5dfa6f" stroke="#5dfa6f" stroke-width="0.5" stroke-linejoin="round"/>
<polygon points="161.1,151.6 164.6,147.9 161,145.1 157.5,148.8" fill="#5efa68" stroke="#5efa68" stroke-width="0.5" stroke-linejoin="round"/>
<polygon points="157.5,148.8 161,145.1 157.4,142.4 153.9,146.2" fill="#5ffa5e" stroke="#5ffa5e" stroke-width="0.5" stroke-linejoin="round"/>
<polygon points="157.7,155.5 164.6,147.9 157.4,142.4 150.5,150" fill="none" stroke="#141408" stroke-opacity="0.85" stroke-width="0.82" stroke-linejoin="round"/>
<polygon points="199.9,153.6 203.4,150.1 199.8,146.3 196.4,149.8" fill="#5dfa6c" stroke="#5dfa6c" stroke-width="0.5" stroke-linejoin="round"/>
<polygon points="196.4,149.8 199.8,146.3 196.3,142.7 192.8,146.2" fill="#5ffa5c" stroke="#5ffa5c" stroke-width="0.5" stroke-linejoin="round"/>
<polygon points="203.4,150.1 206.9,146.7 203.3,142.9 199.8,146.3" fill="#5ffa5e" stroke="#5ffa5e" stroke-width="0.5" stroke-linejoin="round"/>
<polygon points="199.8,146.3 203.3,142.9 199.7,139.3 196.3,142.7" fill="#66fa55" stroke="#66fa55" stroke-width="0.5" stroke-linejoin="round"/>
<polygon points="199.9,153.6 206.9,146.7 199.7,139.3 192.8,146.2" fill="none" stroke="#141408" stroke-opacity="0.85" stroke-width="0.82" stroke-linejoin="round"/>
<polygon points="171.8,154 175.2,150.2 171.6,147.1 168.2,150.8" fill="#5dfa6f" stroke="#5dfa6f" stroke-width="0.5" stroke-linejoin="round"/>
<polygon points="168.2,150.8 171.6,147.1 168,144.2 164.6,147.9" fill="#5efa63" stroke="#5efa63" stroke-width="0.5" stroke-linejoin="round"/>
<polygon points="175.2,150.2 178.7,146.6 175.1,143.5 171.6,147.1" fill="#5ffa5f" stroke="#5ffa5f" stroke-width="0.5" stroke-linejoin="round"/>
<polygon points="171.6,147.1 175.1,143.5 171.5,140.5 168,144.2" fill="#63fa57" stroke="#63fa57" stroke-width="0.5" stroke-linejoin="round"/>
<polygon points="171.8,154 178.7,146.6 171.5,140.5 164.6,147.9" fill="none" stroke="#141408" stroke-opacity="0.85" stroke-width="0.82" stroke-linejoin="round"/>
<polygon points="185.9,153.4 189.3,149.7 185.7,146.3 182.3,149.9" fill="#5efa6b" stroke="#5efa6b" stroke-width="0.5" stroke-linejoin="round"/>
<polygon points="182.3,149.9 185.7,146.3 182.2,143 178.7,146.6" fill="#5ffa5d" stroke="#5ffa5d" stroke-width="0.5" stroke-linejoin="round"/>
<polygon points="189.3,149.7 192.8,146.2 189.2,142.8 185.7,146.3" fill="#5ffa5c" stroke="#5ffa5c" stroke-width="0.5" stroke-linejoin="round"/>
<polygon points="185.7,146.3 189.2,142.8 185.6,139.5 182.2,143" fill="#66fa55" stroke="#66fa55" stroke-width="0.5" stroke-linejoin="round"/>
<polygon points="185.9,153.4 192.8,146.2 185.6,139.5 178.7,146.6" fill="none" stroke="#141408" stroke-opacity="0.85" stroke-width="0.82" stroke-linejoin="round"/>
<polygon points="221,163.5 224.5,160.1 221,155.6 217.5,159" fill="#5afa9d" stroke="#5afa9d" stroke-width="0.5" stroke-linejoin="round"/>
<polygon points="217.5,159 221,155.6 217.4,151.3 214,154.7" fill="#5bfa87" stroke="#5bfa87" stroke-width="0.5" stroke-linejoin="round"/>
<polygon points="224.5,160.1 228,156.7 224.4,152.3 221,155.6" fill="#5bfa8e" stroke="#5bfa8e" stroke-width="0.5" stroke-linejoin="round"/>
<polygon points="221,155.6 224.4,152.3 220.9,148 217.4,151.3" fill="#5cfa79" stroke="#5cfa79" stroke-width="0.5" stroke-linejoin="round"/>
<polygon points="221,163.5 228,156.7 220.9,148 214,154.7" fill="none" stroke="#141408" stroke-opacity="0.85" stroke-width="0.82" stroke-linejoin="round"/>
<polygon points="207,161.7 210.5,158.2 207,154 203.5,157.6" fill="#5bfa90" stroke="#5bfa90" stroke-width="0.5" stroke-linejoin="round"/>
<polygon points="203.5,157.6 207,154 203.4,150.1 199.9,153.6" fill="#5cfa7d" stroke="#5cfa7d" stroke-width="0.5" stroke-linejoin="round"/>
<polygon points="210.5,158.2 214,154.7 210.4,150.6 207,154" fill="#5cfa81" stroke="#5cfa81" stroke-width="0.5" stroke-linejoin="round"/>
<polygon points="207,154 210.4,150.6 206.9,146.7 203.4,150.1" fill="#5dfa6f" stroke="#5dfa6f" stroke-width="0.5" stroke-linejoin="round"/>
<polygon points="207,161.7 214,154.7 206.9,146.7 199.9,153.6" fill="none" stroke="#141408" stroke-opacity="0.85" stroke-width="0.82" stroke-linejoin="round"/>
<polygon points="150.8,163.5 154.3,159.5 150.7,156.6 147.2,160.6" fill="#5afa9d" stroke="#5afa9d" stroke-width="0.5" stroke-linejoin="round"/>
<polygon points="147.2,160.6 150.7,156.6 147.1,153.9 143.6,157.9" fill="#5afa91" stroke="#5afa91" stroke-width="0.5" stroke-linejoin="round"/>
<polygon points="154.3,159.5 157.7,155.5 154.1,152.7 150.7,156.6" fill="#5bfa8a" stroke="#5bfa8a" stroke-width="0.5" stroke-linejoin="round"/>
<polygon points="150.7,156.6 154.1,152.7 150.5,150 147.1,153.9" fill="#5cfa80" stroke="#5cfa80" stroke-width="0.5" stroke-linejoin="round"/>
<polygon points="150.8,163.5 157.7,155.5 150.5,150 143.6,157.9" fill="none" stroke="#141408" stroke-opacity="0.85" stroke-width="0.82" stroke-linejoin="round"/>
<polygon points="193,160.9 196.5,157.2 192.9,153.4 189.4,157" fill="#5bfa8a" stroke="#5bfa8a" stroke-width="0.5" stroke-linejoin="round"/>
<polygon points="189.4,157 192.9,153.4 189.3,149.7 185.9,153.4" fill="#5cfa7a" stroke="#5cfa7a" stroke-width="0.5" stroke-linejoin="round"/>
<polygon points="196.5,157.2 199.9,153.6 196.4,149.8 192.9,153.4" fill="#5cfa7b" stroke="#5cfa7b" stroke-width="0.5" stroke-linejoin="round"/>
<polygon points="192.9,153.4 196.4,149.8 192.8,146.2 189.3,149.7" fill="#5efa6b" stroke="#5efa6b" stroke-width="0.5" stroke-linejoin="round"/>
<polygon points="193,160.9 199.9,153.6 192.8,146.2 185.9,153.4" fill="none" stroke="#141408" stroke-opacity="0.85" stroke-width="0.82" stroke-linejoin="round"/>
<polygon points="164.9,161.7 168.3,157.8 164.7,154.6 161.3,158.5" fill="#5bfa8f" stroke="#5bfa8f" stroke-width="0.5" stroke-linejoin="round"/>
<polygon points="161.3,158.5 164.7,154.6 161.1,151.6 157.7,155.5" fill="#5cfa84" stroke="#5cfa84" stroke-width="0.5" stroke-linejoin="round"/>
<polygon points="168.3,157.8 171.8,154 168.2,150.8 164.7,154.6" fill="#5cfa7f" stroke="#5cfa7f" stroke-width="0.5" stroke-linejoin="round"/>
<polygon points="164.7,154.6 168.2,150.8 164.6,147.9 161.1,151.6" fill="#5dfa73" stroke="#5dfa73" stroke-width="0.5" stroke-linejoin="round"/>
<polygon points="164.9,161.7 171.8,154 164.6,147.9 157.7,155.5" fill="none" stroke="#141408" stroke-opacity="0.85" stroke-width="0.82" stroke-linejoin="round"/>
<polygon points="179,160.9 182.4,157.1 178.8,153.6 175.4,157.3" fill="#5bfa8a" stroke="#5bfa8a" stroke-width="0.5" stroke-linejoin="round"/>
<polygon points="175.4,157.3 178.8,153.6 175.2,150.2 171.8,154" fill="#5cfa7c" stroke="#5cfa7c" stroke-width="0.5" stroke-linejoin="round"/>
<polygon points="182.4,157.1 185.9,153.4 182.3,149.9 178.8,153.6" fill="#5cfa7a" stroke="#5cfa7a" stroke-width="0.5" stroke-linejoin="round"/>
<polygon points="178.8,153.6 182.3,149.9 178.7,146.6 175.2,150.2" fill="#5efa6c" stroke="#5efa6c" stroke-width="0.5" stroke-linejoin="round"/>
<polygon points="179,160.9 185.9,153.4 178.7,146.6 171.8,154" fill="none" stroke="#141408" stroke-opacity="0.85" stroke-width="0.82" stroke-linejoin="round"/>
<polygon points="214.1,170.6 217.6,167 214.1,162.5 210.6,166.1" fill="#58fac2" stroke="#58fac2" stroke-width="0.5" stroke-linejoin="round"/>
<polygon points="210.6,166.1 214.1,162.5 210.5,158.2 207,161.7" fill="#59faa7" stroke="#59faa7" stroke-width="0.5" stroke-linejoin="round"/>
<polygon points="217.6,167 221,163.5 217.5,159 214.1,162.5" fill="#59faaf" stroke="#59faaf" stroke-width="0.5" stroke-linejoin="round"/>
<polygon points="214.1,162.5 217.5,159 214,154.7 210.5,158.2" fill="#5afa95" stroke="#5afa95" stroke-width="0.5" stroke-linejoin="round"/>
<polygon points="214.1,170.6 221,163.5 214,154.7 207,161.7" fill="none" stroke="#141408" stroke-opacity="0.85" stroke-width="0.82" stroke-linejoin="round"/>
<polygon points="200.1,169.1 203.6,165.4 200,161.2 196.6,164.9" fill="#59fab5" stroke="#59fab5" stroke-width="0.5" stroke-linejoin="round"/>
<polygon points="196.6,164.9 200,161.2 196.5,157.2 193,160.9" fill="#5afa9d" stroke="#5afa9d" stroke-width="0.5" stroke-linejoin="round"/>
<polygon points="203.6,165.4 207,161.7 203.5,157.6 200,161.2" fill="#59faa1" stroke="#59faa1" stroke-width="0.5" stroke-linejoin="round"/>
<polygon points="200,161.2 203.5,157.6 199.9,153.6 196.5,157.2" fill="#5bfa8c" stroke="#5bfa8c" stroke-width="0.5" stroke-linejoin="round"/>
<polygon points="200.1,169.1 207,161.7 199.9,153.6 193,160.9" fill="none" stroke="#141408" stroke-opacity="0.85" stroke-width="0.82" stroke-linejoin="round"/>
<polygon points="158,169.8 161.5,165.7 157.9,162.5 154.4,166.6" fill="#58fabb" stroke="#58fabb" stroke-width="0.5" stroke-linejoin="round"/>
<polygon points="154.4,166.6 157.9,162.5 154.3,159.5 150.8,163.5" fill="#59faab" stroke="#59faab" stroke-width="0.5" stroke-linejoin="round"/>
<polygon points="161.5,165.7 164.9,161.7 161.3,158.5 157.9,162.5" fill="#59faa4" stroke="#59faa4" stroke-width="0.5" stroke-linejoin="round"/>
<polygon points="157.9,162.5 161.3,158.5 157.7,155.5 154.3,159.5" fill="#5afa95" stroke="#5afa95" stroke-width="0.5" stroke-linejoin="round"/>
<polygon points="158,169.8 164.9,161.7 157.7,155.5 150.8,163.5" fill="none" stroke="#141408" stroke-opacity="0.85" stroke-width="0.82" stroke-linejoin="round"/>
<polygon points="186.1,168.5 189.6,164.6 186,160.8 182.5,164.6" fill="#59faaf" stroke="#59faaf" stroke-width="0.5" stroke-linejoin="round"/>
<polygon points="182.5,164.6 186,160.8 182.4,157.1 179,160.9" fill="#5afa9a" stroke="#5afa9a" stroke-width="0.5" stroke-linejoin="round"/>
<polygon points="189.6,164.6 193,160.9 189.4,157 186,160.8" fill="#5afa9a" stroke="#5afa9a" stroke-width="0.5" stroke-linejoin="round"/>
<polygon points="186,160.8 189.4,157 185.9,153.4 182.4,157.1" fill="#5bfa89" stroke="#5bfa89" stroke-width="0.5" stroke-linejoin="round"/>
<polygon points="186.1,168.5 193,160.9 185.9,153.4 179,160.9" fill="none" stroke="#141408" stroke-opacity="0.85" stroke-width="0.82" stroke-linejoin="round"/>
<polygon points="172.1,168.7 175.5,164.7 171.9,161.2 168.5,165.1" fill="#59fab1" stroke="#59fab1" stroke-width="0.5" stroke-linejoin="round"/>
<polygon points="168.5,165.1 171.9,161.2 168.3,157.8 164.9,161.7" fill="#5afa9f" stroke="#5afa9f" stroke-width="0.5" stroke-linejoin="round"/>
<polygon points="175.5,164.7 179,160.9 175.4,157.3 171.9,161.2" fill="#5afa9b" stroke="#5afa9b" stroke-width="0.5" stroke-linejoin="round"/>
<polygon points="171.9,161.2 175.4,157.3 171.8,154 168.3,157.8" fill="#5bfa8c" stroke="#5bfa8c" stroke-width="0.5" stroke-linejoin="round"/>
<polygon points="172.1,168.7 179,160.9 171.8,154 164.9,161.7" fill="none" stroke="#141408" stroke-opacity="0.85" stroke-width="0.82" stroke-linejoin="round"/>
<polygon points="207.2,178.1 210.7,174.3 207.1,169.8 203.7,173.5" fill="#55fae2" stroke="#55fae2" stroke-width="0.5" stroke-linejoin="round"/>
<polygon points="203.7,173.5 207.1,169.8 203.6,165.4 200.1,169.1" fill="#57facc" stroke="#57facc" stroke-width="0.5" stroke-linejoin="round"/>
<polygon points="210.7,174.3 214.1,170.6 210.6,166.1 207.1,169.8" fill="#56fad1" stroke="#56fad1" stroke-width="0.5" stroke-linejoin="round"/>
<polygon points="207.1,169.8 210.6,166.1 207,161.7 203.6,165.4" fill="#58faba" stroke="#58faba" stroke-width="0.5" stroke-linejoin="round"/>
<polygon points="207.2,178.1 214.1,170.6 207,161.7 200.1,169.1" fill="none" stroke="#141408" stroke-opacity="0.85" stroke-width="0.82" stroke-linejoin="round"/>
<polygon points="193.2,176.8 196.7,172.9 193.1,168.7 189.7,172.5" fill="#56fad9" stroke="#56fad9" stroke-width="0.5" stroke-linejoin="round"/>
<polygon points="189.7,172.5 193.1,168.7 189.6,164.6 186.1,168.5" fill="#58fac5" stroke="#58fac5" stroke-width="0.5" stroke-linejoin="round"/>
<polygon points="196.7,172.9 200.1,169.1 196.6,164.9 193.1,168.7" fill="#57fac8" stroke="#57fac8" stroke-width="0.5" stroke-linejoin="round"/>
<polygon points="193.1,168.7 196.6,164.9 193,160.9 189.6,164.6" fill="#59fab1" stroke="#59fab1" stroke-width="0.5" stroke-linejoin="round"/>
<polygon points="193.2,176.8 200.1,169.1 193,160.9 186.1,168.5" fill="none" stroke="#141408" stroke-opacity="0.85" stroke-width="0.82" stroke-linejoin="round"/>
<polygon points="179.2,176.4 182.7,172.4 179.1,168.5 175.7,172.4" fill="#56fad6" stroke="#56fad6" stroke-width="0.5" stroke-linejoin="round"/>
<polygon points="175.7,172.4 179.1,168.5 175.5,164.7 172.1,168.7" fill="#58fac4" stroke="#58fac4" stroke-width="0.5" stroke-linejoin="round"/>
<polygon points="182.7,172.4 186.1,168.5 182.5,164.6 179.1,168.5" fill="#58fac4" stroke="#58fac4" stroke-width="0.5" stroke-linejoin="round"/>
<polygon points="179.1,168.5 182.5,164.6 179,160.9 175.5,164.7" fill="#59faaf" stroke="#59faaf" stroke-width="0.5" stroke-linejoin="round"/>
<polygon points="179.2,176.4 186.1,168.5 179,160.9 172.1,168.7" fill="none" stroke="#141408" stroke-opacity="0.85" stroke-width="0.82" stroke-linejoin="round"/>
<polygon points="165.2,176.9 168.6,172.7 165,169.1 161.6,173.2" fill="#56fad9" stroke="#56fad9" stroke-width="0.5" stroke-linejoin="round"/>
<polygon points="161.6,173.2 165,169.1 161.5,165.7 158,169.8" fill="#57faca" stroke="#57faca" stroke-width="0.5" stroke-linejoin="round"/>
<polygon points="168.6,172.7 172.1,168.7 168.5,165.1 165,169.1" fill="#57fac7" stroke="#57fac7" stroke-width="0.5" stroke-linejoin="round"/>
<polygon points="165,169.1 168.5,165.1 164.9,161.7 161.5,165.7" fill="#59fab5" stroke="#59fab5" stroke-width="0.5" stroke-linejoin="round"/>
<polygon points="165.2,176.9 172.1,168.7 164.9,161.7 158,169.8" fill="none" stroke="#141408" stroke-opacity="0.85" stroke-width="0.82" stroke-linejoin="round"/>
<polygon points="200.3,185.9 203.8,182 200.2,177.3 196.8,181.3" fill="#55ecf2" stroke="#55ecf2" stroke-width="0.5" stroke-linejoin="round"/>
<polygon points="196.8,181.3 200.2,177.3 196.7,172.9 193.2,176.8" fill="#55f5e7" stroke="#55f5e7" stroke-width="0.5" stroke-linejoin="round"/>
<polygon points="203.8,182 207.2,178.1 203.7,173.5 200.2,177.3" fill="#55f3ea" stroke="#55f3ea" stroke-width="0.5" stroke-linejoin="round"/>
<polygon points="200.2,177.3 203.7,173.5 200.1,169.1 196.7,172.9" fill="#55fadc" stroke="#55fadc" stroke-width="0.5" stroke-linejoin="round"/>
<polygon points="200.3,185.9 207.2,178.1 200.1,169.1 193.2,176.8" fill="none" stroke="#141408" stroke-opacity="0.85" stroke-width="0.82" stroke-linejoin="round"/>
<polygon points="186.4,184.8 189.8,180.8 186.2,176.5 182.8,180.5" fill="#55efee" stroke="#55efee" stroke-width="0.5" stroke-linejoin="round"/>
<polygon points="182.8,180.5 186.2,176.5 182.7,172.4 179.2,176.4" fill="#55f7e5" stroke="#55f7e5" stroke-width="0.5" stroke-linejoin="round"/>
<polygon points="189.8,180.8 193.2,176.8 189.7,172.5 186.2,176.5" fill="#55f7e6" stroke="#55f7e6" stroke-width="0.5" stroke-linejoin="round"/>
<polygon points="186.2,176.5 189.7,172.5 186.1,168.5 182.7,172.4" fill="#56fad6" stroke="#56fad6" stroke-width="0.5" stroke-linejoin="round"/>
<polygon points="186.4,184.8 193.2,176.8 186.1,168.5 179.2,176.4" fill="none" stroke="#141408" stroke-opacity="0.85" stroke-width="0.82" stroke-linejoin="round"/>
<polygon points="172.4,184.6 175.8,180.5 172.2,176.5 168.8,180.7" fill="#55f0ee" stroke="#55f0ee" stroke-width="0.5" stroke-linejoin="round"/>
<polygon points="168.8,180.7 172.2,176.5 168.6,172.7 165.2,176.9" fill="#55f7e6" stroke="#55f7e6" stroke-width="0.5" stroke-linejoin="round"/>
<polygon points="175.8,180.5 179.2,176.4 175.7,172.4 172.2,176.5" fill="#55f7e5" stroke="#55f7e5" stroke-width="0.5" stroke-linejoin="round"/>
<polygon points="172.2,176.5 175.7,172.4 172.1,168.7 168.6,172.7" fill="#56fad7" stroke="#56fad7" stroke-width="0.5" stroke-linejoin="round"/>
<polygon points="172.4,184.6 179.2,176.4 172.1,168.7 165.2,176.9" fill="none" stroke="#141408" stroke-opacity="0.85" stroke-width="0.82" stroke-linejoin="round"/>
<polygon points="193.5,194 196.9,189.9 193.4,185.3 189.9,189.3" fill="#5cd7f8" stroke="#5cd7f8" stroke-width="0.5" stroke-linejoin="round"/>
<polygon points="189.9,189.3 193.4,185.3 189.8,180.8 186.4,184.8" fill="#58e4f4" stroke="#58e4f4" stroke-width="0.5" stroke-linejoin="round"/>
<polygon points="196.9,189.9 200.3,185.9 196.8,181.3 193.4,185.3" fill="#58e2f5" stroke="#58e2f5" stroke-width="0.5" stroke-linejoin="round"/>
<polygon points="193.4,185.3 196.8,181.3 193.2,176.8 189.8,180.8" fill="#55eef0" stroke="#55eef0" stroke-width="0.5" stroke-linejoin="round"/>
<polygon points="193.5,194 200.3,185.9 193.2,176.8 186.4,184.8" fill="none" stroke="#141408" stroke-opacity="0.85" stroke-width="0.82" stroke-linejoin="round"/>
<polygon points="179.5,193.2 182.9,189 179.4,184.6 175.9,188.8" fill="#5bdaf7" stroke="#5bdaf7" stroke-width="0.5" stroke-linejoin="round"/>
<polygon points="175.9,188.8 179.4,184.6 175.8,180.5 172.4,184.6" fill="#57e6f4" stroke="#57e6f4" stroke-width="0.5" stroke-linejoin="round"/>
<polygon points="182.9,189 186.4,184.8 182.8,180.5 179.4,184.6" fill="#57e5f4" stroke="#57e5f4" stroke-width="0.5" stroke-linejoin="round"/>
<polygon points="179.4,184.6 182.8,180.5 179.2,176.4 175.8,180.5" fill="#55f0ee" stroke="#55f0ee" stroke-width="0.5" stroke-linejoin="round"/>
<polygon points="179.5,193.2 186.4,184.8 179.2,176.4 172.4,184.6" fill="none" stroke="#141408" stroke-opacity="0.85" stroke-width="0.82" stroke-linejoin="round"/>
<polygon points="186.6,202.5 190,198.2 186.5,193.5 183.1,197.7" fill="#64c9fa" stroke="#64c9fa" stroke-width="0.5" stroke-linejoin="round"/>
<polygon points="183.1,197.7 186.5,193.5 182.9,189 179.5,193.2" fill="#60d1f9" stroke="#60d1f9" stroke-width="0.5" stroke-linejoin="round"/>
<polygon points="190,198.2 193.5,194 189.9,189.3 186.5,193.5" fill="#61d0f9" stroke="#61d0f9" stroke-width="0.5" stroke-linejoin="round"/>
<polygon points="186.5,193.5 189.9,189.3 186.4,184.8 182.9,189" fill="#5bd9f8" stroke="#5bd9f8" stroke-width="0.5" stroke-linejoin="round"/>
<polygon points="186.6,202.5 193.5,194 186.4,184.8 179.5,193.2" fill="none" stroke="#141408" stroke-opacity="0.85" stroke-width="0.82" stroke-linejoin="round"/>
<line x1="186.6" y1="192" x2="186.6" y2="202.5" stroke="#3a2a10" stroke-width="0.7"/><circle cx="186.6" cy="192" r="2.7" fill="#b80404" stroke="#500000" stroke-width="0.6"/>
<line x1="184.2" y1="72.8" x2="184.2" y2="80.8" stroke="#3a2a10" stroke-width="0.7"/><circle cx="184.2" cy="72.8" r="2.7" fill="#b80404" stroke="#500000" stroke-width="0.6"/>
<line x1="184.2" y1="67.3" x2="184.2" y2="80.8" stroke="#3a2a10" stroke-width="0.7"/><circle cx="184.2" cy="67.3" r="2.7" fill="#b80404" stroke="#500000" stroke-width="0.6"/>
<line x1="325.6" y1="85" x2="325.2" y2="93.2" stroke="#3a2a10" stroke-width="0.7"/><circle cx="325.6" cy="85" r="2.7" fill="#b80404" stroke="#500000" stroke-width="0.6"/>
<text x="41.2" y="169.2" text-anchor="end" style="font-family:'Liberation Sans',sans-serif;font-size:8.8px;fill:#2e2e2e" >10</text>
<text x="40.2" y="145.5" text-anchor="end" style="font-family:'Liberation Sans',sans-serif;font-size:8.8px;fill:#2e2e2e" >15</text>
<text x="39.2" y="121.9" text-anchor="end" style="font-family:'Liberation Sans',sans-serif;font-size:8.8px;fill:#2e2e2e" >20</text>
<text x="38.2" y="98.2" text-anchor="end" style="font-family:'Liberation Sans',sans-serif;font-size:8.8px;fill:#2e2e2e" >25</text>
<text x="37.2" y="74.5" text-anchor="end" style="font-family:'Liberation Sans',sans-serif;font-size:8.8px;fill:#2e2e2e" >30</text>
<text x="36.2" y="50.8" text-anchor="end" style="font-family:'Liberation Sans',sans-serif;font-size:8.8px;fill:#2e2e2e" >35</text>
<text x="35.2" y="27.2" text-anchor="end" style="font-family:'Liberation Sans',sans-serif;font-size:8.8px;fill:#2e2e2e" >40</text>
<text x="33" y="225.9" text-anchor="start" style="font-family:'Liberation Sans',sans-serif;font-size:8.8px;fill:#2e2e2e" >70</text>
<text x="68.6" y="240.8" text-anchor="start" style="font-family:'Liberation Sans',sans-serif;font-size:8.8px;fill:#2e2e2e" >60</text>
<text x="102.7" y="254.5" text-anchor="start" style="font-family:'Liberation Sans',sans-serif;font-size:8.8px;fill:#2e2e2e" >50</text>
<text x="137.3" y="269" text-anchor="start" style="font-family:'Liberation Sans',sans-serif;font-size:8.8px;fill:#2e2e2e" >40</text>
<text x="171.8" y="283.1" text-anchor="start" style="font-family:'Liberation Sans',sans-serif;font-size:8.8px;fill:#2e2e2e" >30</text>
<text x="191.5" y="282.6" text-anchor="start" style="font-family:'Liberation Sans',sans-serif;font-size:8.8px;fill:#2e2e2e" >30</text>
<text x="213.4" y="273.9" text-anchor="start" style="font-family:'Liberation Sans',sans-serif;font-size:8.8px;fill:#2e2e2e" >40</text>
<text x="236" y="263.8" text-anchor="start" style="font-family:'Liberation Sans',sans-serif;font-size:8.8px;fill:#2e2e2e" >50</text>
<text x="258.5" y="254" text-anchor="start" style="font-family:'Liberation Sans',sans-serif;font-size:8.8px;fill:#2e2e2e" >60</text>
<text x="280.7" y="244" text-anchor="start" style="font-family:'Liberation Sans',sans-serif;font-size:8.8px;fill:#2e2e2e" >70</text>
<text x="303" y="233.5" text-anchor="start" style="font-family:'Liberation Sans',sans-serif;font-size:8.8px;fill:#2e2e2e" >80</text>
<text x="325" y="224" text-anchor="start" style="font-family:'Liberation Sans',sans-serif;font-size:8.8px;fill:#2e2e2e" >90</text>
<text x="29.4" y="270.6" text-anchor="start" style="font-family:'Liberation Sans',sans-serif;font-size:8.8px;fill:#2e2e2e" textLength="69.4" lengthAdjust="spacingAndGlyphs" >B: temperature (C)</text>
<text x="282.6" y="269.2" text-anchor="start" style="font-family:'Liberation Sans',sans-serif;font-size:8.8px;fill:#2e2e2e" textLength="48.4" lengthAdjust="spacingAndGlyphs" >A: time (min)</text>
<text x="0" y="0" text-anchor="middle" style="font-family:'Liberation Sans',sans-serif;font-size:8.8px;fill:#2e2e2e" textLength="79.6" lengthAdjust="spacingAndGlyphs" transform="translate(10.3,125.5) rotate(-90)">(% increase yield) (%)</text>
<text x="147" y="324.6" text-anchor="middle" style="font-family:'Liberation Sans',sans-serif;font-size:11.3px;font-weight:bold;fill:#111" >(A)</text>
<rect x="398.5" y="3.4" width="283.5" height="264.3" fill="none" stroke="#7c7c7c" stroke-width="1.45"/>
<line x1="391" y1="254.3" x2="398.5" y2="254.3" stroke="#707070" stroke-width="1.05"/>
<text x="388.9" y="256.9" text-anchor="end" style="font-family:'Liberation Sans',sans-serif;font-size:7.4px;fill:#2a2a2a" >10</text>
<line x1="391" y1="214.6" x2="398.5" y2="214.6" stroke="#707070" stroke-width="1.05"/>
<text x="388.9" y="217.2" text-anchor="end" style="font-family:'Liberation Sans',sans-serif;font-size:7.4px;fill:#2a2a2a" >15</text>
<line x1="391" y1="174.9" x2="398.5" y2="174.9" stroke="#707070" stroke-width="1.05"/>
<text x="388.9" y="177.5" text-anchor="end" style="font-family:'Liberation Sans',sans-serif;font-size:7.4px;fill:#2a2a2a" >20</text>
<line x1="391" y1="135.2" x2="398.5" y2="135.2" stroke="#707070" stroke-width="1.05"/>
<text x="388.9" y="137.8" text-anchor="end" style="font-family:'Liberation Sans',sans-serif;font-size:7.4px;fill:#2a2a2a" >25</text>
<line x1="391" y1="95.6" x2="398.5" y2="95.6" stroke="#707070" stroke-width="1.05"/>
<text x="388.9" y="98.2" text-anchor="end" style="font-family:'Liberation Sans',sans-serif;font-size:7.4px;fill:#2a2a2a" >30</text>
<line x1="391" y1="55.9" x2="398.5" y2="55.9" stroke="#707070" stroke-width="1.05"/>
<text x="388.9" y="58.5" text-anchor="end" style="font-family:'Liberation Sans',sans-serif;font-size:7.4px;fill:#2a2a2a" >35</text>
<line x1="391" y1="16.2" x2="398.5" y2="16.2" stroke="#707070" stroke-width="1.05"/>
<text x="388.9" y="18.8" text-anchor="end" style="font-family:'Liberation Sans',sans-serif;font-size:7.4px;fill:#2a2a2a" >40</text>
<line x1="412.1" y1="267.7" x2="412.1" y2="273.6" stroke="#707070" stroke-width="1.05"/>
<text x="412.1" y="284" text-anchor="middle" style="font-family:'Liberation Sans',sans-serif;font-size:7.4px;fill:#2a2a2a" >-1.000</text>
<line x1="476" y1="267.7" x2="476" y2="273.6" stroke="#707070" stroke-width="1.05"/>
<text x="476" y="284" text-anchor="middle" style="font-family:'Liberation Sans',sans-serif;font-size:7.4px;fill:#2a2a2a" >-0.500</text>
<line x1="539.9" y1="267.7" x2="539.9" y2="273.6" stroke="#707070" stroke-width="1.05"/>
<text x="539.9" y="284" text-anchor="middle" style="font-family:'Liberation Sans',sans-serif;font-size:7.4px;fill:#2a2a2a" >0.000</text>
<line x1="603.8" y1="267.7" x2="603.8" y2="273.6" stroke="#707070" stroke-width="1.05"/>
<text x="603.8" y="284" text-anchor="middle" style="font-family:'Liberation Sans',sans-serif;font-size:7.4px;fill:#2a2a2a" >0.500</text>
<line x1="667.6" y1="267.7" x2="667.6" y2="273.6" stroke="#707070" stroke-width="1.05"/>
<text x="667.6" y="284" text-anchor="middle" style="font-family:'Liberation Sans',sans-serif;font-size:7.4px;fill:#2a2a2a" >1.000</text>
<polyline points="412.1,165.2 415.3,162.9 418.5,160.7 421.7,158.6 424.9,156.4 428.1,154.3 431.3,152.2 434.5,150.1 437.7,148.1 440.9,146.1 444.1,144.1 447.3,142.2 450.5,140.2 453.7,138.3 456.9,136.4 460.1,134.6 463.2,132.8 466.4,131 469.6,129.2 472.8,127.4 476,125.7 479.2,124 482.4,122.4 485.6,120.7 488.8,119.1 492,117.5 495.2,116 498.4,114.5 501.6,113 504.8,111.5 508,110 511.2,108.6 514.4,107.2 517.5,105.8 520.7,104.5 523.9,103.2 527.1,101.9 530.3,100.6 533.5,99.4 536.7,98.2 539.9,97 543.1,95.8 546.3,94.7 549.5,93.6 552.7,92.5 555.9,91.5 559.1,90.5 562.3,89.5 565.5,88.5 568.6,87.5 571.8,86.6 575,85.7 578.2,84.9 581.4,84 584.6,83.2 587.8,82.5 591,81.7 594.2,81 597.4,80.3 600.6,79.6 603.8,78.9 607,78.3 610.2,77.7 613.4,77.2 616.5,76.6 619.7,76.1 622.9,75.6 626.1,75.2 629.3,74.7 632.5,74.3 635.7,73.9 638.9,73.6 642.1,73.2 645.3,72.9 648.5,72.7 651.7,72.4 654.9,72.2 658.1,72 661.3,71.8 664.5,71.7 667.6,71.6" fill="none" stroke="#5cc05c" stroke-width="1"/>
<polyline points="412.1,148.1 415.3,145.5 418.5,143 421.7,140.6 424.9,138.2 428.1,135.9 431.3,133.7 434.5,131.5 437.7,129.4 440.9,127.4 444.1,125.4 447.3,123.5 450.5,121.7 453.7,119.9 456.9,118.2 460.1,116.6 463.2,115 466.4,113.5 469.6,112.1 472.8,110.7 476,109.4 479.2,108.1 482.4,106.9 485.6,105.8 488.8,104.8 492,103.8 495.2,102.9 498.4,102 501.6,101.3 504.8,100.5 508,99.9 511.2,99.3 514.4,98.8 517.5,98.3 520.7,97.9 523.9,97.6 527.1,97.4 530.3,97.2 533.5,97 536.7,97 539.9,97 543.1,97.1 546.3,97.2 549.5,97.4 552.7,97.7 555.9,98 559.1,98.4 562.3,98.9 565.5,99.4 568.6,100 571.8,100.7 575,101.4 578.2,102.2 581.4,103.1 584.6,104 587.8,105 591,106.1 594.2,107.2 597.4,108.4 600.6,109.6 603.8,111 607,112.3 610.2,113.8 613.4,115.3 616.5,116.9 619.7,118.6 622.9,120.3 626.1,122.1 629.3,123.9 632.5,125.8 635.7,127.8 638.9,129.9 642.1,132 645.3,134.2 648.5,136.4 651.7,138.7 654.9,141.1 658.1,143.5 661.3,146.1 664.5,148.6 667.6,151.3" fill="none" stroke="#6464f0" stroke-width="1"/>
<circle cx="540.1" cy="96.9" r="2.8" fill="#000"/>
<text x="412.5" y="145.5" text-anchor="start" style="font-family:'Liberation Sans',sans-serif;font-size:9px;fill:#5a5af0" >B</text>
<text x="412.5" y="162.3" text-anchor="start" style="font-family:'Liberation Sans',sans-serif;font-size:9px;fill:#4cb04c" >A</text>
<text x="660.6" y="69.4" text-anchor="start" style="font-family:'Liberation Sans',sans-serif;font-size:9px;fill:#4cb04c" >A</text>
<text x="662.9" y="148.7" text-anchor="start" style="font-family:'Liberation Sans',sans-serif;font-size:9px;fill:#5a5af0" >B</text>
<text x="423.7" y="233" text-anchor="start" style="font-family:'Liberation Serif',serif;font-size:11px;font-weight:bold;fill:#111" textLength="201" lengthAdjust="spacingAndGlyphs" >A: Time for the Ultrasonication process</text>
<text x="423.7" y="253" text-anchor="start" style="font-family:'Liberation Serif',serif;font-size:11px;font-weight:bold;fill:#111" textLength="241" lengthAdjust="spacingAndGlyphs" >B: Temperature for the Ultrasonication process</text>
<text x="440.3" y="303.4" text-anchor="start" style="font-family:'Liberation Sans',sans-serif;font-size:8.6px;fill:#333" textLength="198" lengthAdjust="spacingAndGlyphs" >Deviation from Reference Point (Coded Units)</text>
<text x="0" y="0" text-anchor="middle" style="font-family:'Liberation Sans',sans-serif;font-size:8.4px;fill:#444" textLength="85.7" lengthAdjust="spacingAndGlyphs" transform="translate(355.3,134) rotate(-90)">(% increase yield) (%)</text>
<text x="541.6" y="324.6" text-anchor="middle" style="font-family:'Liberation Sans',sans-serif;font-size:11.3px;font-weight:bold;fill:#111" >(B)</text>
</svg>
</body></html>
